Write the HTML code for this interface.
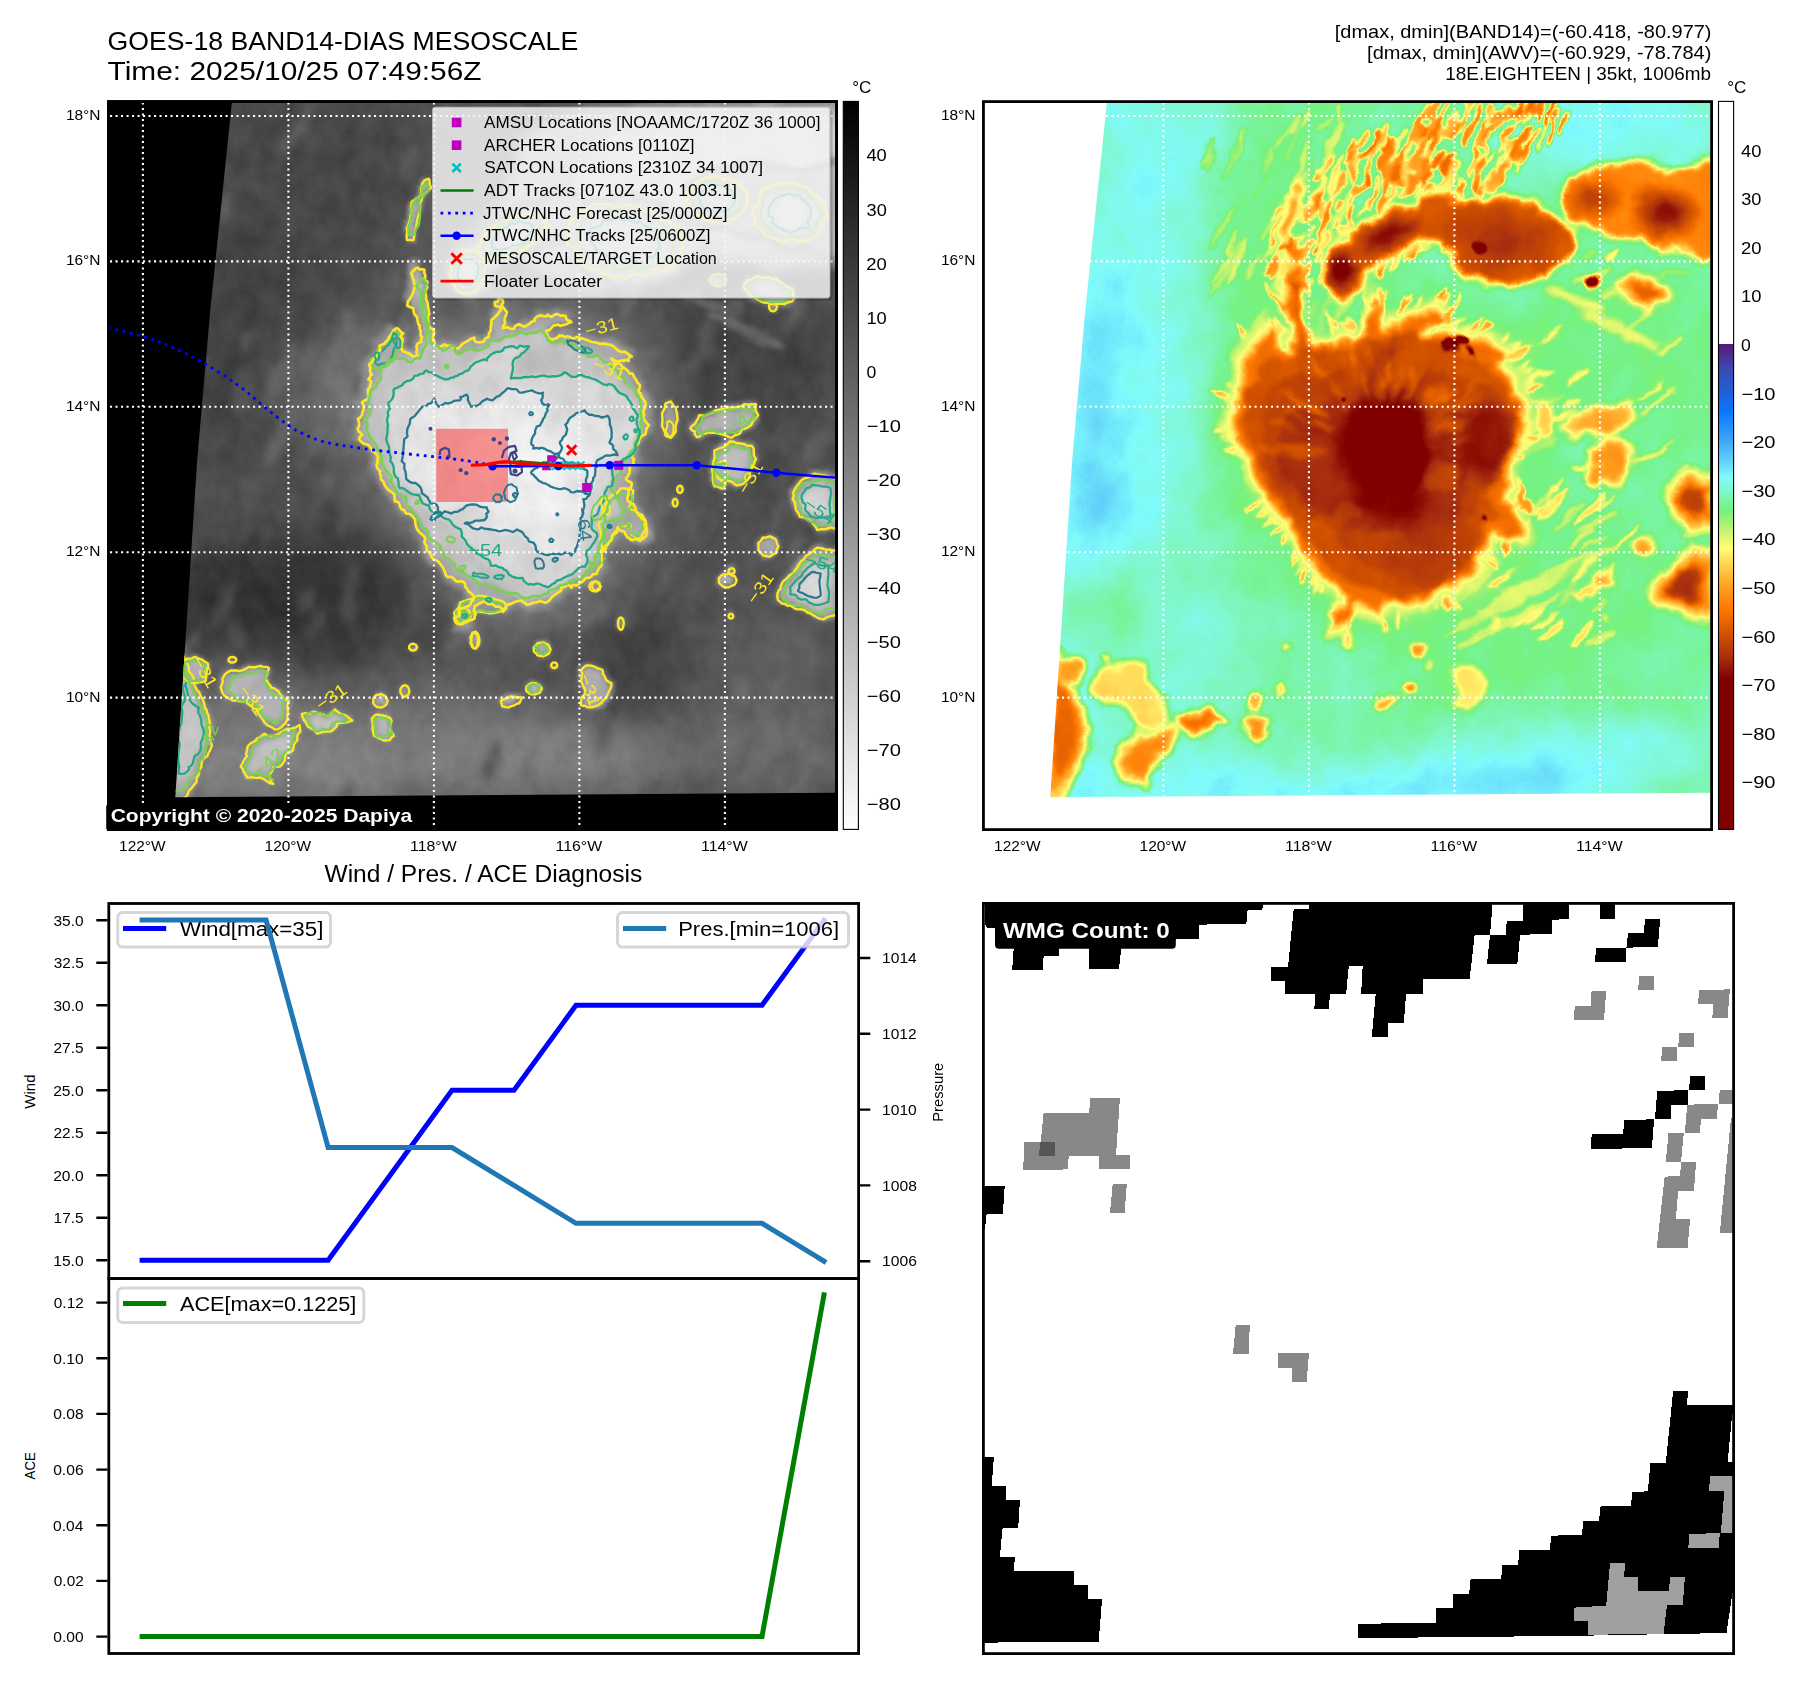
<!DOCTYPE html>
<html><head><meta charset="utf-8"><title>GOES-18 BAND14-DIAS MESOSCALE</title>
<style>html,body{margin:0;padding:0;background:#fff}svg{display:block}text{font-family:"Liberation Sans",sans-serif}</style></head><body>
<svg width="1801" height="1690" viewBox="0 0 1801 1690">
<rect width="1801" height="1690" fill="#fff"/>
<defs>
<clipPath id="cp1"><path d="M231.8 103 L835.3 103 L835.3 792.8 L175.3 797.3 L197.2 460 L210.3 310Z"/></clipPath>
<clipPath id="cp2"><path d="M1106.8 103 L1710.3 103 L1710.3 792.8 L1050.3 797.3 L1072.2 460 L1085.3 310Z"/></clipPath>
<clipPath id="ca1"><rect x="108.4" y="101.6" width="728.2" height="728"/></clipPath>
<clipPath id="ca5"><rect x="983.4" y="903.4" width="750.2" height="750.2"/></clipPath>
<filter id="b1" x="-20%" y="-20%" width="140%" height="140%" color-interpolation-filters="sRGB"><feGaussianBlur stdDeviation="1"/></filter>
<filter id="b1_6" x="-20%" y="-20%" width="140%" height="140%" color-interpolation-filters="sRGB"><feGaussianBlur stdDeviation="1.6"/></filter>
<filter id="b2_5" x="-20%" y="-20%" width="140%" height="140%" color-interpolation-filters="sRGB"><feGaussianBlur stdDeviation="2.5"/></filter>
<filter id="b4" x="-20%" y="-20%" width="140%" height="140%" color-interpolation-filters="sRGB"><feGaussianBlur stdDeviation="4"/></filter>
<filter id="b7" x="-20%" y="-20%" width="140%" height="140%" color-interpolation-filters="sRGB"><feGaussianBlur stdDeviation="7"/></filter>
<filter id="b12" x="-20%" y="-20%" width="140%" height="140%" color-interpolation-filters="sRGB"><feGaussianBlur stdDeviation="12"/></filter>
<filter id="b24" x="-20%" y="-20%" width="140%" height="140%" color-interpolation-filters="sRGB"><feGaussianBlur stdDeviation="24"/></filter>
<filter id="n1" filterUnits="userSpaceOnUse" x="100" y="95" width="745" height="745" color-interpolation-filters="sRGB"><feTurbulence type="fractalNoise" baseFrequency="0.035" numOctaves="3" seed="3" result="d"/><feDisplacementMap in="SourceGraphic" in2="d" scale="9" xChannelSelector="R" yChannelSelector="G" result="sd"/><feTurbulence type="fractalNoise" baseFrequency="0.05 0.04" numOctaves="5" seed="7" result="t"/><feColorMatrix in="t" type="matrix" values="1 0 0 0 0 1 0 0 0 0 1 0 0 0 0 0 0 0 0 1" result="g"/><feComposite in="sd" in2="g" operator="arithmetic" k1="0" k2="1" k3="0.10" k4="-0.05"/></filter>
<filter id="n2" filterUnits="userSpaceOnUse" x="975" y="95" width="745" height="745" color-interpolation-filters="sRGB"><feTurbulence type="fractalNoise" baseFrequency="0.04" numOctaves="3" seed="5" result="d"/><feDisplacementMap in="SourceGraphic" in2="d" scale="12" xChannelSelector="R" yChannelSelector="G" result="sd"/><feTurbulence type="fractalNoise" baseFrequency="0.03 0.025" numOctaves="4" seed="11" result="t"/><feColorMatrix in="t" type="matrix" values="1 0 0 0 0 1 0 0 0 0 1 0 0 0 0 0 0 0 0 1" result="g"/><feComposite in="sd" in2="g" operator="arithmetic" k1="0" k2="1" k3="0.05" k4="-0.025" result="c"/><feComponentTransfer in="c"><feFuncR type="table" tableValues="0.502 0.502 0.502 0.502 0.502 0.502 0.502 0.502 0.502 0.502 0.502 0.502 0.502 0.502 0.502 0.502 0.502 0.502 0.502 0.502 0.502 0.502 0.502 0.519 0.537 0.554 0.572 0.589 0.607 0.624 0.641 0.659 0.676 0.694 0.711 0.729 0.746 0.763 0.781 0.798 0.816 0.833 0.850 0.867 0.884 0.901 0.918 0.935 0.952 0.969 0.986 1.000 1.000 1.000 1.000 1.000 1.000 1.000 1.000 1.000 1.000 1.000 1.000 1.000 1.000 1.000 1.000 1.000 1.000 1.000 1.000 1.000 1.000 1.000 1.000 1.000 1.000 0.970 0.939 0.909 0.878 0.841 0.803 0.765 0.728 0.690 0.653 0.617 0.580 0.543 0.506 0.470 0.458 0.464 0.469 0.475 0.480 0.486 0.491 0.496 0.502 0.502 0.502 0.502 0.502 0.502 0.484 0.466 0.448 0.430 0.412 0.394 0.376 0.361 0.345 0.329 0.314 0.298 0.282 0.267 0.251 0.233 0.214 0.196 0.178 0.159 0.141 0.123 0.105 0.086 0.068 0.050 0.031 0.043 0.055 0.067 0.078 0.090 0.102 0.114 0.125"/><feFuncG type="table" tableValues="0.000 0.000 0.000 0.000 0.000 0.000 0.000 0.000 0.000 0.000 0.000 0.000 0.000 0.000 0.000 0.000 0.000 0.000 0.000 0.000 0.000 0.000 0.000 0.021 0.042 0.063 0.084 0.105 0.125 0.146 0.167 0.188 0.202 0.216 0.230 0.244 0.258 0.272 0.286 0.300 0.314 0.328 0.343 0.357 0.372 0.386 0.401 0.415 0.430 0.444 0.459 0.474 0.491 0.508 0.525 0.542 0.559 0.576 0.593 0.610 0.627 0.649 0.670 0.692 0.713 0.734 0.756 0.777 0.799 0.821 0.846 0.872 0.898 0.923 0.949 0.974 1.000 0.993 0.986 0.979 0.973 0.968 0.963 0.958 0.954 0.949 0.949 0.949 0.949 0.949 0.949 0.949 0.951 0.953 0.956 0.959 0.962 0.964 0.967 0.970 0.973 0.976 0.979 0.982 0.985 0.988 0.964 0.939 0.914 0.890 0.865 0.840 0.816 0.796 0.776 0.757 0.737 0.718 0.698 0.678 0.659 0.643 0.627 0.612 0.596 0.580 0.565 0.549 0.533 0.518 0.502 0.486 0.471 0.459 0.447 0.435 0.424 0.412 0.400 0.388 0.376"/><feFuncB type="table" tableValues="0.000 0.000 0.000 0.000 0.000 0.000 0.000 0.000 0.000 0.000 0.000 0.000 0.000 0.000 0.000 0.000 0.000 0.000 0.000 0.000 0.000 0.000 0.000 0.007 0.014 0.021 0.028 0.035 0.042 0.049 0.056 0.063 0.056 0.049 0.042 0.035 0.028 0.021 0.014 0.007 0.000 0.000 0.000 0.000 0.000 0.000 0.000 0.000 0.000 0.000 0.000 0.003 0.016 0.030 0.044 0.057 0.071 0.085 0.098 0.112 0.125 0.147 0.168 0.190 0.211 0.232 0.254 0.275 0.297 0.318 0.340 0.362 0.383 0.405 0.427 0.449 0.471 0.463 0.455 0.447 0.439 0.441 0.442 0.444 0.445 0.447 0.453 0.459 0.465 0.472 0.478 0.484 0.509 0.548 0.586 0.624 0.662 0.701 0.739 0.777 0.816 0.850 0.885 0.919 0.954 0.988 0.987 0.986 0.985 0.984 0.983 0.982 0.980 0.979 0.978 0.977 0.976 0.975 0.975 0.974 0.973 0.975 0.977 0.979 0.982 0.984 0.986 0.989 0.991 0.993 0.995 0.998 1.000 0.981 0.962 0.943 0.924 0.904 0.885 0.866 0.847"/></feComponentTransfer></filter>
<linearGradient id="cb1" x1="0" y1="0" x2="0" y2="1"><stop offset="0" stop-color="#000"/><stop offset="1" stop-color="#fff"/></linearGradient>
<linearGradient id="cb2" x1="0" y1="0" x2="0" y2="1"><stop offset="0" stop-color="#fff"/><stop offset="0.3333" stop-color="#fff"/><stop offset="0.3333" stop-color="#5a1878"/><stop offset="0.3667" stop-color="#3a4ab0"/><stop offset="0.4000" stop-color="#2060d8"/><stop offset="0.4267" stop-color="#0878ff"/><stop offset="0.4667" stop-color="#40a8f8"/><stop offset="0.4933" stop-color="#60d0fa"/><stop offset="0.5167" stop-color="#80fcfc"/><stop offset="0.5333" stop-color="#80f8d0"/><stop offset="0.5620" stop-color="#74f27c"/><stop offset="0.5833" stop-color="#b0f272"/><stop offset="0.6000" stop-color="#e0f870"/><stop offset="0.6133" stop-color="#ffff78"/><stop offset="0.6373" stop-color="#ffd050"/><stop offset="0.6667" stop-color="#ffa020"/><stop offset="0.6973" stop-color="#ff7800"/><stop offset="0.7333" stop-color="#d05000"/><stop offset="0.7633" stop-color="#a83010"/><stop offset="0.7933" stop-color="#800000"/><stop offset="1.0000" stop-color="#800000"/></linearGradient>
</defs>
<defs>
<path id="B0" d="M367.5 360.5 L372.2 355.3 L376.4 353 L381.5 348.1 L386.1 342.1 L389.5 337.3 L392.9 333.5 L395.8 330.7 L398.2 327.7 L399.2 330.1 L400.3 332.2 L400.8 333.4 L402.4 335 L404.8 336.4 L404.9 340.7 L404 343.6 L401.8 348.2 L398.5 352 L398.1 355.9 L397.3 359.6 L395.4 360.7 L393.8 362.7 L391.8 365.1 L390.1 367.9 L387.5 368.5 L385.6 368.6 L383.6 369.4 L382.1 370.4 L379.8 371.7 L376.3 371.5 L375.4 370.8 L373.9 369.3 L371.4 369 L368.6 368.2 L368.7 366.2 L368.5 363.3Z"/>
<path id="B1" d="M411.3 202.9 L412 201.8 L413.7 200.5 L415.6 199.2 L416.6 198.2 L418.2 197.5 L420.1 196.3 L420.9 193.6 L421.4 191.8 L421.3 189.7 L421.1 188 L422.1 185.5 L422.3 183.2 L423.4 182.1 L424.4 180.5 L426.4 179.5 L428.8 178.8 L429.4 180.1 L429.5 182.5 L430 185.1 L431 187.6 L430.3 188.8 L428.5 190.5 L427.3 191.8 L426.3 192.6 L424.5 194.1 L423.4 195.4 L422 197.5 L421.7 200.1 L420.2 203.6 L420.1 205.7 L420 208 L420.1 209.5 L419.8 211.7 L418.8 214 L417.5 218.3 L417 220.9 L415.9 227.5 L414.8 231.5 L414.2 236 L413.5 240.1 L411.4 240.1 L409.7 240 L406.9 240.1 L406.8 237.9 L406.6 236.2 L406.8 234.4 L407.2 232.2 L407 229.5 L406.8 227.7 L408.2 225.7 L409.1 222.6 L410 220 L410.4 216.1 L411.3 213.7 L411.2 212 L411.3 210.6 L410.9 208.8 L411.5 205.2Z"/>
<path id="B2" d="M690.3 428.4 L691.7 426 L693.4 425.2 L694.9 423.8 L696.4 421.1 L697.4 419.6 L698.2 418.1 L699.1 415.3 L702.1 415.4 L704 415.6 L705.9 415.3 L708.2 414.4 L710.2 413.5 L712 413.1 L713.3 412.2 L714.4 410.9 L717.8 409.9 L720.6 409.3 L723.7 408.7 L728.3 407.4 L731.7 407.9 L735.2 407.4 L737.8 407 L740.7 406.5 L742.1 405.7 L744.1 404.2 L746.2 404.5 L748.5 404.5 L750.1 404.5 L752 404.3 L753.7 404.3 L756 404.3 L755.5 406.9 L755.7 408.4 L755.4 410.5 L757 412.9 L758.2 415.3 L757.4 416.6 L756.1 418.3 L754.5 419.1 L753.4 420.5 L752.5 421.9 L751.9 423.6 L750.7 425.5 L749.4 426.2 L748 427.2 L745.5 428.5 L744.2 428.7 L742.4 428.8 L741 431.4 L740.2 433.2 L737.8 434.6 L736.3 435 L734.4 435.6 L731.5 437.7 L729.1 437.1 L726.1 435.7 L722 434.4 L718.7 433.7 L714.7 432.5 L712.2 432.8 L709.9 432.7 L707.9 432.2 L705.8 433.6 L703.2 433.4 L701.2 435 L700 436.2 L698.3 436.9 L696.9 437.2 L696.1 436 L694.8 434.4 L694.8 432.4 L695 431.3 L692.2 430.4Z"/>
<path id="B3" d="M714.4 450.3 L716.6 449.6 L718.1 449 L721.3 447.7 L723.9 446.8 L726.1 445.4 L727.1 444.4 L728.9 442.7 L729.7 441.5 L733.9 441.7 L736.8 443.3 L739.2 443.3 L742.3 443.8 L744.8 444.3 L747.4 445.9 L749.9 445.8 L751.6 445.9 L752.8 446.9 L753.8 449.3 L753.7 451 L753.8 452.9 L753.9 455.4 L754.6 456.8 L756 459.1 L755.1 460.8 L754.4 462.5 L754 463.9 L752.9 465.6 L751.7 468.8 L749.7 472.2 L750 474.3 L749.4 476.6 L748.5 478.5 L747.2 480.2 L744.8 482.4 L742.7 483.9 L740 485 L738.3 484.8 L736.3 485.3 L734.6 484.2 L733.2 482.7 L731 481.6 L726.7 480.3 L725 478.4 L723.5 479.7 L721 480.9 L719.9 479.1 L717.7 477.9 L717.1 475.1 L716.5 472.6 L715.1 471.2 L714.2 470.3 L713.6 469 L712.2 467.8 L713.1 465.3 L713.2 463.6 L713.5 461.6 L713.9 460.1 L714.7 457.4 L714.4 453Z"/>
<path id="B4" d="M677.6 419.6 L675.5 426.2 L675.7 431.5 L673.8 434.2 L670.9 437.8 L667.6 436.7 L665.5 435.6 L664.8 431.9 L662 425.9 L662.5 421.1 L662 413.4 L664.7 408.4 L665.5 403.7 L668.7 402.2 L670.9 401.5 L673.1 405.1 L675.7 407.8 L677 414.1Z"/>
<path id="B5" d="M777 306.9 L776.3 308.6 L776 309.8 L773.7 311.4 L771 310.9 L769.2 308.5 L769.1 306.5 L769.2 305.3 L771 302.9 L773.7 302.4 L776 303.9 L776.6 305.2Z"/>
<path id="B6" d="M793.2 492.8 L794 490.5 L795 489.3 L795.7 487.7 L797 485.8 L798.8 483.8 L800.3 481.6 L802 479.7 L805.3 478.1 L809.4 477 L811.6 475 L813.8 473.9 L815.1 473.8 L816.9 474.8 L819.4 474.6 L821.7 475.3 L824.2 475.4 L828.4 476.7 L831 477.9 L833.3 478.1 L834.8 478.6 L836.3 478.8 L839.4 479.3 L841.4 479.7 L842.1 485.4 L840.9 493.5 L840.6 499.2 L841.8 508.2 L842.1 512.6 L840 518.3 L841.1 523.4 L841.4 527.9 L839.3 527.5 L836 528.6 L832.4 527.9 L830.2 527.4 L828.2 528.5 L825.2 529.2 L821.3 529.2 L817.3 530.1 L816.4 528 L815 525.9 L813.1 523.8 L811 520.7 L809.2 520 L806.2 518.5 L803.5 517.3 L799.8 516.9 L799.3 515.7 L798.7 513.9 L797.6 512.3 L796 509.8 L795.5 507.2 L795.4 505.3 L795.4 503.8 L794.3 502 L794.2 500.7 L792.6 499.4 L793.1 497.7 L793.8 495.7Z"/>
<path id="B7" d="M777.9 600.1 L777.3 596.7 L777.5 593.2 L778.9 590.3 L780.7 588.9 L780.6 586.2 L781.6 584.7 L782.3 582.6 L784 580.5 L786.5 578.6 L789.5 575.4 L793.3 573.1 L794.7 570.6 L796.8 568.2 L798.6 564.8 L799.8 562.9 L801.3 560.9 L802.6 560.2 L804.7 558 L805.8 555.9 L808.8 554.2 L811.7 552.5 L814.1 550 L817.3 547.6 L822.4 548.5 L825.5 549.6 L830.2 549.7 L832.9 550.6 L835.5 550.2 L837 550.7 L839.6 551.9 L841.4 552 L842.8 563.8 L841.6 570.9 L842.2 577.4 L841.3 584.3 L840.4 594.4 L840.5 601.8 L839.8 607.4 L841.4 613.3 L838.6 614.2 L833.9 615.5 L831.5 615.9 L828 616.8 L826.4 617.6 L823.5 619.4 L819.5 618.6 L817.3 617.6 L815.4 616.4 L812.4 614.9 L809.9 613 L808 612.8 L804.8 610.4 L801 609.2 L798.4 609.4 L795.4 608.9 L793.5 607.6 L791.1 605.9 L789.2 605.4 L788 605.9 L784.5 603.8 L781.9 603.6 L780.6 602.1Z"/>
<path id="B8" d="M778.4 546.5 L776.5 550.4 L776 553.1 L772.9 554.4 L769.8 556.7 L767.2 556.2 L762.9 555.4 L761.1 553.1 L758.3 550 L758.5 547.1 L758.3 542.9 L760.6 541.1 L762.9 537.5 L765.6 537.7 L769.8 536.3 L772.7 537.6 L776 539.8 L777 543.5Z"/>
<path id="B9" d="M736.7 580.4 L735.7 582.7 L734.6 584.8 L732.4 585.5 L729.1 587.2 L725.8 587.5 L722.9 586.4 L720.9 584.6 L718.9 582.8 L719 580.7 L718.9 578.1 L721.2 575.7 L722.9 574.4 L726.8 574.2 L729.1 573.6 L731.7 575.3 L734.6 576 L735.5 577.7Z"/>
<path id="B10" d="M607.1 499.4 L608.9 497.9 L612.1 494.9 L613.6 494.7 L615.8 493.9 L616.9 492.9 L618.2 491.6 L619.1 490.6 L620.3 488.5 L622.6 488.4 L623.9 488.2 L625.9 488.8 L627.9 488.4 L630 488.4 L631.6 489.8 L633.4 490.7 L633 492.4 L632.4 494.7 L632.8 497 L632.3 499.9 L630.5 502.7 L630.1 504.8 L629.4 506.9 L629 508.2 L630.6 509.3 L632 510 L633.8 510.7 L635.6 511.2 L637.4 512.5 L639.3 513.5 L642.1 514.7 L643.2 516.4 L643.7 517.6 L644.8 519.1 L645.2 520.7 L646.2 523.4 L646.2 525.1 L646.5 527.9 L645.2 529.9 L644.2 531.5 L643.1 533.7 L642 535.4 L641.6 536.9 L641.4 538.4 L640.3 539.9 L640 541 L638 539.9 L637.1 538.8 L635.7 536.9 L634.6 536.2 L633.2 535 L631.2 534.4 L630.3 532 L630.2 530.1 L629.6 529 L630.3 528 L630.7 526.1 L630.1 525 L629 523.5 L626.8 523.8 L626 525.3 L624.6 526.1 L623 525 L620.3 525.7 L618.4 528.1 L617.1 529.8 L616 530.5 L614.8 531.8 L613.6 534.1 L612.3 535.2 L610.4 538.9 L609.3 541 L608 543 L607 545.6 L606.5 547.6 L606 548.7 L604.5 550.8 L602.7 552 L602.6 548 L601.3 544.7 L600.4 538.6 L601.3 535.2 L600.9 532.8 L600.4 531.1 L599.7 528.7 L598.4 525.7 L599.5 520.9 L601.5 517.2 L602.1 513.7 L604.1 509.4 L605 508.1 L605.6 505.4 L606.1 502.7Z"/>
<path id="B11" d="M550.6 649.4 L549.3 652.2 L548.6 653.8 L546.1 655.1 L543.5 656.2 L541.1 656.1 L537.7 655.4 L536.3 653.7 L533.9 651.7 L533.7 649.1 L533.9 647 L535.7 645.4 L537.7 643.4 L540.1 642.9 L543.5 642.6 L546.3 644 L548.6 644.9 L549.6 647.6Z"/>
<path id="B12" d="M580.8 670.2 L582.1 669.2 L583 668 L584.4 666.8 L585.9 665.8 L588.1 665.4 L589.9 665.6 L591.8 665.8 L593.1 666.1 L595.3 667 L597.8 668.5 L599.4 668.9 L601 669.3 L602.7 670.2 L602.9 672.4 L602.8 673.8 L603.9 674.9 L604.5 676.6 L605.5 678.3 L606.1 680.1 L608.9 682.1 L611.5 683.3 L611.3 685.2 L611.2 686.9 L610.1 689.5 L609.1 691.2 L608.5 692.6 L607.4 695 L605.8 697.9 L602.7 700.8 L601.4 702.9 L598.6 704.8 L597.1 705.7 L595 706.3 L592.3 707.2 L589.6 707.4 L587.5 707.2 L585.7 706.3 L584.7 705.8 L582.6 705.7 L580.8 705.2 L581 703.5 L581.1 701.4 L581.4 699.3 L582 696.7 L583.5 695.6 L584.5 694.2 L585.2 692.1 L585.3 690 L584.4 688.3 L583.2 686.2 L582.2 683.4 L580.8 681.1 L581.6 679.1 L581.5 677.5 L581.6 675.8 L582.2 674.1 L582.1 672.7Z"/>
<path id="B13" d="M541.8 688.8 L540.4 690.7 L539.9 692.5 L538.2 693.1 L535.2 694.4 L531.8 694.2 L529.8 693.8 L527.6 692 L526.2 690.8 L526.1 688.8 L526.2 686.8 L527.9 685.7 L529.8 683.8 L532.4 683.2 L535.2 683.1 L538.2 684.5 L539.9 685.1 L540.8 686.8Z"/>
<path id="B14" d="M500.9 700.8 L502.4 699.9 L504.4 699.2 L506.4 698.4 L507.5 698.2 L509.1 697.3 L510.8 696.4 L513.4 696.8 L515.4 697.2 L516.9 697.2 L519.5 697.4 L521.7 697.5 L521 699.7 L520.4 701.1 L519.5 703 L518 703.5 L516 704.3 L513.6 705.7 L511.4 706.2 L510.2 706.6 L508.6 707.4 L506.1 707.1 L504.6 706.8 L502 706.3 L501.9 704.7 L501.5 702.9Z"/>
<path id="B15" d="M600.8 586.4 L600.2 587.7 L599.5 589.8 L598.2 590.5 L596.1 591.5 L593.6 591.1 L592.2 590.9 L590.6 589.6 L589.7 588.2 L589.5 586.5 L589.7 584.7 L590.8 583.1 L592.2 582 L594.6 581.6 L596.1 581.3 L598.1 582.4 L599.5 583.1 L599.9 585Z"/>
<path id="B16" d="M467 600.1 L469.1 599.5 L470.3 599.2 L471.4 598.8 L473.4 598.1 L476 596.9 L477.9 595.7 L480.6 596 L482.4 595.9 L485.1 596.5 L487.4 597.1 L492.5 598.5 L495.7 599.4 L501.2 600.8 L504.2 602.3 L504.9 603.6 L505.8 605.4 L506.2 607.3 L506.4 608.9 L504.5 609.5 L502.4 610.2 L500.1 611.5 L498 612.1 L495.6 612.7 L493.1 613.1 L490.7 613.3 L488.9 613.3 L487.1 612.7 L485.7 612.5 L483.8 612.3 L482 612.1 L479.2 611.6 L477.9 611.3 L475.8 611.1 L474.5 612 L473 613.3 L471.7 613.9 L469.9 614.4 L468.6 616 L467 617.6 L465.2 617.1 L462.8 616.3 L461.4 615.4 L459.8 614.5 L458.2 613.3 L458.8 611.9 L459 609.6 L459.1 606.9 L459.9 604.2 L460.4 602.3 L462 601.8 L463.8 601.1 L465.1 600.8Z"/>
<path id="B17" d="M712.2 466.6 L713.9 465.8 L716.4 465.1 L718.4 463.5 L719.7 462.7 L721.5 461.7 L723.3 461.1 L725.3 460 L725.5 462.5 L725.7 465.3 L726.3 467.7 L726.1 469.7 L727.1 471.8 L727.5 473.1 L726.8 475.7 L726.5 477.3 L726 479.3 L725.6 481 L725.3 483.4 L725 484.9 L723.7 487.2 L723.2 488.5 L720.7 488.2 L718.6 487.1 L717 486.4 L714.4 486.3 L713.5 483.7 L712.9 481.2 L712.8 479.3 L712.8 476.6 L713.2 474.7 L712.1 470.4Z"/>
<path id="B18" d="M623.7 623.7 L623.4 625.2 L623 627.7 L621.3 629.9 L619.4 629.1 L618.7 627.6 L618.1 625.8 L618.1 623.2 L618.1 621.5 L618.6 619.7 L619.4 618.2 L621.3 617.4 L623 619.6 L623.6 621.7Z"/>
<path id="B19" d="M478.1 640.6 L477.5 643.6 L477.3 645.8 L476.3 647.2 L475.3 648.5 L472.9 647.6 L472.5 645.5 L471.4 643.4 L471.4 641.3 L471.4 637.9 L472 635 L472.9 633.7 L475.3 632.7 L476 634 L477.3 635.4 L477.7 638.2Z"/>
<path id="B20" d="M557.3 665.3 L556.6 667.1 L554.8 668.1 L552.7 667.7 L551.3 666.2 L551.3 664.3 L552.7 662.8 L554.8 662.4 L556.6 663.4Z"/>
<path id="B21" d="M734.7 571.1 L734 573 L732.1 573.9 L730 573.6 L728.7 572.1 L728.7 570.1 L730 568.6 L732.1 568.3 L734 569.3Z"/>
<path id="B22" d="M733.3 616.2 L732.8 617.8 L731.3 618.6 L729.7 618.3 L728.7 617 L728.7 615.4 L729.7 614.1 L731.3 613.8 L732.8 614.7Z"/>
<path id="B23" d="M682.8 489.3 L682.1 491.7 L680.4 493 L678.5 492.5 L677.2 490.6 L677.2 488.1 L678.5 486.2 L680.4 485.7 L682.1 487Z"/>
<path id="B24" d="M677.7 502.7 L677.1 505.2 L675.6 506.5 L673.9 506.1 L672.8 504 L672.8 501.4 L673.9 499.3 L675.6 498.8 L677.1 500.2Z"/>
<path id="B25" d="M182.5 650.5 L183.5 656.1 L186.1 661.1 L188.8 667.4 L188.9 671.5 L191.9 674.8 L193.9 678.3 L193.8 681.2 L194.6 685.5 L195.7 687.9 L196.6 689.6 L197.6 691 L199 691.9 L199.6 693.4 L200.3 695.3 L202.1 698.3 L203.3 700.8 L204.4 703.9 L204.9 707.8 L206.8 710.5 L206.9 712.4 L208.4 715.1 L208.7 717.4 L209.2 720 L209.9 722.7 L209.3 727.3 L210.3 731.7 L209.6 735.3 L210.1 740.4 L212 745.4 L210.1 750.3 L208.5 752.7 L207.7 755.6 L206.7 756.5 L205.1 757.7 L203.6 758.6 L202.2 760.5 L201.4 764.2 L201.3 767.1 L200.3 768.5 L199 770.9 L199.1 773 L198.7 774.3 L198.1 775.9 L196.7 777.5 L196.6 779.3 L196.6 781.4 L195.9 782.9 L194.6 784 L193 786.3 L191.5 788.3 L190.3 789.4 L188.7 791 L188 793.3 L187.6 794.5 L186.5 796.2 L185.8 797.2 L183.8 798.3 L182.8 799.2 L181 799.6 L179.6 800.9 L177.6 801 L174.9 801.6 L172.6 802 L170.5 801.5 L169.3 790.6 L169.4 779 L170.7 772.8 L170.6 762.3 L171.1 755.7 L171.1 747.3 L174.2 731.6 L172.7 722.7 L172.8 716.9 L174.5 710.5 L172.9 704.1 L174.5 696.9 L175.4 690.3 L176.1 680.9 L175.8 665.7 L177.1 657 L179 656.1 L180.6 654.1 L180.7 652.1Z"/>
<path id="B26" d="M220.8 687.7 L221.6 685.1 L222.5 682.8 L222.8 681.5 L222.4 679.5 L222.8 677.8 L223.8 676.3 L225 674.2 L227.4 672.4 L229.6 671.1 L231.6 670.3 L233.1 670.8 L235.6 670.3 L236.8 670.6 L238.9 671.2 L240.4 670.8 L242.7 670.2 L245.1 669.1 L246.9 668.1 L249.3 666.8 L251.5 667.3 L255.1 667.3 L258.3 666.4 L260.3 665.8 L262.3 666.7 L263.6 666.9 L266.5 666.9 L269 668 L268.5 669.6 L267.6 671.6 L267 674.2 L265.8 676.9 L264.6 678.9 L266.9 680.7 L268.4 683.1 L269.6 684.9 L270.6 686 L271.2 687.7 L274 688.2 L275.2 689.2 L277.3 690.5 L278.7 691.5 L279.7 693.8 L281.2 695.4 L282.1 696.4 L283.5 698.3 L284.5 699.7 L286.8 699.7 L288.7 700.8 L287.8 703.5 L287.1 706.3 L287.8 707.8 L287.6 709.6 L288 712.5 L287.4 714.6 L287.2 716.1 L287.6 718.3 L286.8 720.6 L285.4 723.3 L282.7 725.5 L281.5 727 L279.5 728.3 L277.8 729.3 L276.3 729.4 L274 729.2 L272.1 727.4 L270.3 726.6 L267.1 725.2 L266.2 723.9 L264.6 722.7 L263.3 720.4 L262.5 718.8 L261.6 717.7 L260.3 716 L259 714.3 L257.6 713.1 L257.8 711.6 L258.1 709.6 L256.5 709.1 L254.3 708.9 L252.4 707.2 L251.1 706.1 L249.8 705.1 L248.7 704.4 L247.1 703 L245.7 702 L243.7 701.5 L241.6 701.4 L239.1 701.3 L237.5 700.2 L235.8 700.3 L234 700.8 L232.5 700.4 L230.4 699.1 L227.8 697.6 L224.9 696 L223.1 693.9 L222 691.7Z"/>
<path id="B27" d="M240.6 766.5 L242.4 763.5 L243.3 761.5 L245.1 758.4 L247 755.9 L246 753.9 L247 750.8 L247.4 747 L249.3 744.6 L251.4 742.8 L253.3 742 L255.5 740.9 L256.7 738.7 L259.7 737.6 L262.2 735.5 L264.6 733.7 L266.1 735 L267.9 735.9 L270.2 736.1 L273.3 736.1 L275.1 735.5 L277.4 734.6 L279.6 733.2 L282.1 731.5 L284.9 730 L286.6 729 L288.2 728.7 L290.1 729.2 L293.9 727.9 L296.1 727.3 L297.9 726 L299.7 724.9 L299.9 726.7 L300.1 729.3 L300.4 731.9 L298 733.9 L297.4 735.7 L297.1 738.1 L297.5 740.2 L295.4 742.5 L294.2 744 L293.6 747 L292.9 750.5 L290.4 752.1 L288.5 752.7 L286.5 753.4 L285.3 756.2 L284.9 758.4 L285 759.8 L284.1 761.4 L283.2 762.6 L281.8 764.9 L280 766.5 L277.5 766.8 L275.2 766.8 L273.5 767.1 L272.6 770.1 L271.2 772.3 L270 774 L269 775.3 L269.6 777.1 L270.2 778.8 L270.6 780.2 L271.5 782 L273.4 784 L271.8 783.6 L269.4 783 L268 781.8 L266.3 780.9 L264.7 779.7 L263.3 778.8 L262.2 778.4 L260.3 777.5 L257.3 777.9 L255 777.9 L251.9 777.1 L250.1 777.6 L247.1 777.5 L246.5 776 L245.5 774.7 L244.4 772.9 L243.3 771.2 L242.8 769 L242 768Z"/>
<path id="B28" d="M301.9 714 L304.5 713.3 L306.5 713.4 L307.6 713.9 L310.2 713.8 L311.8 712.5 L312.8 711.8 L315.3 711.9 L316.6 712.8 L318.1 713.1 L320.7 714 L323.1 714.3 L324.4 715.6 L325.9 716.2 L328.4 715.6 L329.5 714.8 L331.2 713.3 L333 711.3 L334.7 709.6 L336.1 710.6 L337.4 711.3 L339.2 713.1 L342.1 714.4 L345.1 715.2 L348.3 717.3 L350.7 719.3 L352.2 720.5 L350.3 721.2 L348.7 721.9 L346.4 722.3 L344.5 722.8 L342.3 722.7 L341 722.9 L338.8 723 L336.9 722.7 L337 725.5 L336.1 727.2 L334.2 729 L332 730.8 L330.3 731.5 L329.2 731.5 L327.3 731.3 L325.3 731.6 L324.1 731.6 L321.8 732 L320 732.9 L317.2 733.7 L315.8 731.6 L314.7 730.5 L312.2 728.9 L310.1 727.5 L308.4 727.1 L306.8 724.8 L306.1 723.1 L305.5 722 L304.2 720.5 L302.9 717.5 L302 715.4Z"/>
<path id="B29" d="M371.9 718.3 L373.8 716.6 L375 715.1 L377.2 714.4 L378.9 714.8 L380.7 715.1 L383.6 715.7 L385.4 716.2 L388 717.2 L390 717.9 L390.7 719.2 L391.6 720.5 L390.9 723.2 L390.1 725.4 L390 727.7 L390 729.2 L391.2 731.9 L392.6 733.5 L393.8 735.9 L391.7 737.3 L390.7 738.4 L389.8 740.1 L387 740.4 L384.7 740.5 L382.9 740.2 L381.5 738.9 L379.7 738.5 L378.5 737.7 L376.3 736.4 L374.1 735.9 L373.5 734 L373.2 732.6 L373.1 731 L372.6 729.1 L372.7 725.5 L372.8 723.3 L372.2 720.7Z"/>
<path id="B30" d="M387.6 700.8 L386.8 703.4 L385.8 705.3 L383.2 706.7 L381.4 707.6 L379.3 707.3 L376.4 706.8 L374.9 705.2 L373.1 703.2 L373.4 700.8 L373.1 698.5 L374.9 696.4 L376.4 694.9 L379.2 694.7 L381.4 694 L383.1 695.2 L385.8 696.4 L387.1 699.2Z"/>
<path id="B31" d="M409.3 691 L409.1 692.4 L408.3 694.7 L406.9 695.3 L405.5 696.6 L404.1 696.6 L402.5 696 L401.6 694.2 L400.4 692.9 L400.5 690.7 L400.4 689 L401.5 687.5 L402.5 686 L404 685.6 L405.5 685.3 L406.8 686 L408.3 687.3 L408.7 688.8Z"/>
<path id="B32" d="M470.8 615.4 L469.8 618.7 L468.8 620.6 L465.6 622.2 L463.7 623.4 L460 622.9 L457.9 622.4 L456 619.6 L454.1 618.2 L454.8 615.8 L454.1 612.7 L456.4 610.3 L457.9 608.5 L460.7 608.2 L463.7 607.5 L466.4 609.3 L468.8 610.3 L470 613.4Z"/>
<path id="B33" d="M417 647.2 L416 649.4 L413.7 650.6 L411 650.2 L409.2 648.4 L409.2 646 L411 644.2 L413.7 643.8 L416 645Z"/>
<path id="B34" d="M236.4 659.8 L235.4 661.6 L233 662.6 L230.3 662.3 L228.6 660.8 L228.6 658.8 L230.3 657.3 L233 656.9 L235.4 657.9Z"/>
<path id="B35" d="M181.4 661.4 L183.8 660.2 L185.6 659.6 L188.2 658.6 L191.1 658.6 L192.5 658 L194.6 657 L196.5 657.7 L197.6 658.1 L199.5 658.9 L201.5 659.4 L202.8 660.1 L204.1 661.3 L205.5 662.1 L207.7 663.6 L208.1 665.6 L208.3 667.1 L207.2 669.5 L206.6 671.2 L206.5 673.3 L206.2 676.8 L205.9 678.5 L205.5 681.1 L204.3 681.4 L202.2 682 L199.9 682.1 L197.5 682.6 L195.6 682.8 L193.1 682.8 L190.2 683.3 L188.6 681.2 L187.1 679.8 L185.7 678.9 L184.5 678.1 L182.5 676.7 L182.5 675 L182.5 673.2 L182.5 669.7 L182.8 667.5 L181.9 665.4 L181.7 664.1Z"/>
<path id="B36" d="M479.4 640.1 L479.2 642.8 L478.3 645.6 L476.8 647.4 L475.6 648.6 L473.9 648.1 L472.5 647.5 L471.8 645.9 L470.5 643 L470.9 640.9 L470.5 637.1 L471.3 635.3 L472.5 632.6 L474.3 632.3 L475.6 631.6 L476.9 632.9 L478.3 634.5 L478.6 636.6Z"/>
<path id="B37" d="M452 262 L454.5 259.9 L456.3 258 L456.3 256 L458 253.8 L457.7 252.5 L456.6 250.2 L458 248 L460.4 247 L461 244.3 L463.7 244.9 L465.7 244.8 L468.6 243.9 L473 242.5 L474.1 239.9 L475 238 L478.3 234.1 L483 231.7 L485.5 227.9 L489 225.8 L490.9 225.8 L493.5 224.9 L498.2 224.9 L500 222 L503.5 220.8 L506.6 220.2 L508.9 219.8 L512.3 218 L512.8 213.9 L514.9 210.3 L516.6 208.1 L520 208 L525 209.3 L529.2 206.4 L532.2 206.3 L534.4 207.2 L538.2 208.6 L541 206 L541.9 201.9 L545 198 L546.9 197 L550 196.6 L552.9 197.2 L554.7 196.1 L559.4 195.8 L563.7 194.9 L566.4 193.4 L570 196 L571.7 195.2 L573.3 194.9 L575 196.4 L576.7 196.8 L577.8 199.7 L578.9 201.7 L580.6 204.1 L585 205 L586.7 205.6 L588.3 205.6 L590.8 204.5 L593.2 204.2 L596 201.8 L598.1 201 L600 200 L607.1 201.8 L611.1 202.4 L615 200.4 L618.7 198.9 L621.9 198.3 L625.9 197.9 L628.2 196 L630 196 L631.8 199.2 L637.4 199.4 L640.3 198.8 L642.2 199.4 L645.5 202.2 L652.2 203.5 L656.5 204.3 L660 205 L662.9 208.6 L665 212.6 L670.8 216.1 L675.2 217 L676.4 217.9 L678.6 218.9 L681.3 220.7 L685 222 L689.3 225.8 L692.2 229.6 L695.1 232.8 L697.9 233 L698.3 236.5 L698.5 239.2 L699.3 242.9 L700 245 L700.2 247.5 L699.4 250.4 L697.7 252.5 L695.4 253.1 L694 254.6 L692.9 256.3 L690.2 258.5 L690 262 L688.1 262.7 L686 263.5 L683.6 264.3 L680.6 266.5 L676.6 269.1 L671.3 271.7 L668.4 275 L665 275 L661.4 275.2 L658.6 276 L656.3 277.7 L655.3 279.7 L652.4 278.5 L649.1 279.7 L645.9 280.6 L640 282 L635.9 282.8 L633.8 281.3 L629.8 282.7 L626.5 281.3 L624.4 283.3 L621.2 284.9 L617.6 284.2 L615 285 L612 283 L609.4 279.9 L606.7 278.9 L606 277.2 L602.3 275.3 L599.8 274.4 L597.6 274.4 L595 275 L592.7 273.9 L589.8 272.6 L587.3 269.9 L585.9 268.5 L584.7 265.1 L584.2 263.2 L581.5 262.4 L580 262 L579.4 259.7 L580.1 258.1 L580.9 256.6 L580.8 253.7 L579.1 251.4 L578 248.5 L575.2 246.8 L572 245 L571.6 243.3 L570.5 241.7 L569.2 240.8 L566.5 240.6 L565.3 239.9 L563.6 239.6 L561.4 238.4 L560 238 L555.9 239.1 L552.9 240.4 L550.8 240.9 L548.7 240.2 L546.3 239.4 L544.4 239.9 L542.2 241.5 L540 242 L537.4 246.3 L533 248.4 L528 248.1 L525 250 L522.3 251.6 L519.2 254.2 L517.1 254.9 L515 255 L513.1 257 L509.4 257 L505.8 261.1 L502.3 263.1 L500.4 263.5 L499.1 264.5 L497.5 266.7 L495 268 L493.1 268.5 L490.4 268.9 L488.8 269.8 L487 272.3 L487.2 275.5 L489.9 279.1 L488.7 282 L487 285 L487.9 286.8 L487.6 289.3 L484.9 288.8 L482.1 290.2 L481 291.4 L479.7 293.7 L476.8 295.3 L475 297 L473.2 297.6 L470.8 298 L468 300.2 L465.6 300.5 L464.5 299.3 L463.4 298.2 L462.4 296.3 L460 295 L458.8 293.9 L457.4 292.5 L456.6 290.4 L455.6 287.9 L454.3 286.6 L453.2 284.3 L452.9 282.1 L452 280 L451.6 277.7 L452.5 275.3 L453.5 274.3 L455.6 272.9 L454.5 270.8 L451.9 268.3 L451.3 264.4Z"/>
<path id="B38" d="M484.4 276.4 L483.7 279.1 L482.2 280.6 L481.7 282.9 L481 284.2 L479.5 285 L478.1 286 L477.7 287.8 L476.8 289.1 L475.6 290.1 L472.8 291 L471.3 292.2 L469 293.3 L467.8 293.7 L465.8 293.7 L464.5 293.8 L462.3 293.3 L460.2 292.8 L458.3 291.7 L456.5 289.9 L455.5 287.2 L454.7 285.5 L452.4 283.9 L452.2 282.1 L451.3 280.4 L451 279.1 L450.9 277.9 L450.7 276.1 L450.1 274.4 L450.1 271.6 L451.1 269.5 L451.6 267.6 L452.8 264.9 L454.1 263 L454.5 261.6 L455 259.8 L457.3 258 L458.8 255.7 L460.4 253.9 L461.8 252.7 L463 252.1 L465.1 251.5 L467 250.7 L469.6 250.2 L472.1 250.6 L473.7 250.7 L476 252 L477.7 252.6 L479.5 254.1 L481 256.5 L481.5 258.4 L483.6 260.1 L484.4 262.6 L485.5 264.3 L485.6 266.4 L485.3 267.9 L484.5 270.4 L484.2 272.2 L484.8 273.9Z"/>
<path id="B39" d="M545.9 218.7 L545.2 220.7 L544.6 222.5 L545.3 223.7 L546.2 225.9 L545.3 227.6 L545 229.2 L543.2 231.2 L542.7 232.9 L541.4 234.5 L540.3 235.3 L538.8 236.8 L537.4 237.6 L534.6 238.1 L532.9 240.6 L532.1 243.4 L530.4 244.8 L528.9 246.3 L527.6 246.5 L526.2 248.1 L524.2 248.9 L522.4 250.4 L519.7 251.1 L517.6 252.8 L516.3 254.6 L514.5 256.1 L513.1 257.2 L510.5 256.3 L508.7 256.6 L506.2 256.6 L504.5 256.9 L502.5 257 L500.5 258.1 L499 258.2 L496.5 258.9 L493.5 258.9 L491.1 258.6 L489 258.2 L487.7 257.5 L485.4 257.8 L483.7 257.7 L481.9 256.7 L480.2 255.2 L478.1 253.3 L478.2 251.7 L477.9 250.1 L477.9 248 L477.8 246.1 L479.4 245 L480.2 244 L481 242.3 L481.8 239.4 L482.6 237.5 L484.8 235.8 L486.3 233.8 L487.9 232 L489.2 230.3 L490.7 229.1 L491.9 228.6 L493.2 227 L494 225.9 L497 225.2 L499.6 224.1 L501.7 222.7 L502.7 222 L504.3 220.9 L506.2 220.3 L507.2 219.8 L509.3 218.3 L511.5 217.3 L512.6 216.6 L515.5 215.5 L517.8 215.4 L520 215.8 L521.8 215.2 L523.2 214.3 L524.9 214.3 L527.4 213.7 L529 213.7 L530.5 213.1 L530.5 214.9 L531.5 216.4 L533.5 217.5 L535.9 216.5 L537.4 216.4 L538.9 215.2 L540.3 214.3 L541.7 215.2 L543.5 215.8 L544.5 216.8Z"/>
<path id="B40" d="M682.4 248.1 L681.9 250.7 L680.4 252.6 L679.6 253.6 L678.2 255.2 L678.1 256.5 L677.3 259.4 L676.1 261.1 L674.9 263.7 L673.3 264.5 L671.6 265.1 L669.6 267 L668.2 267.5 L666.7 268.6 L664.7 270.2 L662.1 270.9 L659.7 269.5 L657.5 269.2 L655.9 269.3 L654.1 269.1 L650.5 272.8 L647.7 274.6 L644.5 276.5 L642.4 276 L640 273.9 L638.3 272.9 L636.7 274.8 L633.3 274.6 L628.4 275.9 L626.2 278.8 L622.8 277.7 L620 275.6 L616.5 276.7 L614.7 278 L611.8 277.4 L609.6 274.2 L605.3 274.5 L602.6 274.2 L601.2 272.3 L598.4 269.8 L595.2 269 L589.8 267.8 L586.7 267.1 L584.7 267.1 L583.5 265.8 L581.1 264.6 L581.5 261.8 L580.8 259.5 L579.7 258.8 L579.2 256.6 L577.7 254.9 L577.5 253.2 L576.4 250.3 L574.3 248.7 L572.2 246.9 L570 246.2 L568.2 245 L567.2 243.4 L568.2 241.4 L567.4 237.8 L568.2 235.6 L568.8 234.2 L567.6 231.9 L568.2 229.5 L567.8 227.9 L568.1 226.3 L569.7 223.8 L569.8 221.8 L571.4 219.9 L573.9 218.9 L576.3 218.1 L578.2 216.4 L576.8 213.2 L578.1 209.5 L579.6 211 L582.2 212.9 L585.5 210.5 L587.9 209.1 L589.9 206.2 L591.4 204.7 L594.8 203.8 L598.4 204 L599.8 204.1 L601.9 203.2 L605.4 203.9 L607.6 204 L611.6 204.9 L614 207.6 L616.6 206.8 L619.9 205.9 L622 206 L624.1 205.3 L627.4 204.9 L630 204.4 L632.4 205.6 L636.2 206.6 L638.8 208.9 L641 210.5 L643.8 211.3 L645.9 211.6 L648.4 210.4 L651.6 210.2 L654 213.8 L656.5 215.4 L657.1 217.3 L659.7 219.5 L663.2 219.9 L665 221.6 L666.9 220.9 L669.2 220.5 L670.8 223.2 L671.9 226.1 L675.3 225.7 L678.4 227 L679.8 229.5 L679.3 232 L680 233.8 L680.9 236.1 L683.3 238.6 L683.4 240.6 L683.4 241.9 L682.7 243.4 L683.1 245.3Z"/>
<path id="B41" d="M690 185 L693.3 181.4 L698.6 182.4 L704.5 178.6 L707.3 174.5 L711.2 171.3 L715.6 172.2 L718.2 169.3 L720 168 L724.2 169.8 L729.5 170.2 L732.4 168.5 L736.1 166.7 L744.1 167.4 L748.2 164.7 L754.8 164.3 L760 165 L765.1 164.4 L769.7 164.7 L773.6 167.6 L777.2 168 L780.8 169.1 L787.3 169 L792.7 172.9 L800 172 L807.5 170.1 L811.7 169.5 L816.8 168.3 L825.9 165.6 L831.9 162.8 L837.1 160.5 L842.6 160.2 L850 160 L849.9 169.5 L853.4 181 L852.1 192.6 L852.1 205 L851.5 216.4 L852.4 232.9 L848.8 243.6 L850 255 L844 254.3 L840.7 254.6 L837.2 257.5 L832.2 257.7 L828.8 257.1 L824 255.2 L818.8 252.2 L810 250 L806 248.3 L802 246.3 L797.4 247.2 L791.8 249.4 L789.3 248.5 L786 245.7 L782.9 243.3 L780 245 L776.8 243 L774 240.9 L771.9 238.5 L768.9 237.8 L763.5 235.5 L758.7 237 L754.8 236.2 L750 235 L747.5 233.4 L743.3 232.1 L741 232.8 L737.4 232.4 L732.5 230.3 L729.5 227.6 L725.2 226.8 L720 228 L715.2 227.1 L712.8 224.8 L708.2 223.2 L704.6 222.6 L702.1 221.8 L698.9 219.6 L695.5 217.5 L695 215 L694.9 212.4 L693.9 210 L694.1 206.9 L692.8 202.2 L691.8 196.2 L689.7 193.2 L690.6 189.4Z"/>
<path id="B42" d="M747 199 L747.2 200.7 L747.5 202 L747.4 203.8 L746.1 205 L746 206.5 L744.7 207.8 L743.3 210.3 L742.3 212.2 L740.2 213.3 L738.2 215.3 L736.6 216.4 L735.8 217.6 L734.8 218.8 L732.5 219.1 L730.6 220 L728.5 220.2 L726.4 219.8 L723.8 218.6 L722.9 219.3 L721.2 220.3 L718.5 220.8 L717 222 L714.8 221.8 L712.4 221.7 L710.1 220 L707.3 220.7 L705.5 220.2 L703.7 218.4 L702.6 217.1 L701.3 216.2 L699.3 215.1 L697.1 215.3 L695.8 215.3 L694.2 214.1 L694.1 211.8 L693.3 211 L691.7 209.7 L690.7 208.7 L689.3 207.8 L689 206.4 L688.5 203.8 L687.9 202.3 L687.4 200.9 L687 199 L687.4 196.2 L686.9 194.3 L688 191.5 L689.3 190.2 L690.6 189.3 L692.6 188.3 L695.1 187.5 L695 185.6 L694.4 184.2 L695.8 182.7 L697.7 181.9 L699.7 181 L701.8 179.7 L703.7 178.7 L705.5 177.8 L707.3 177.6 L709.6 176.7 L711.3 176.8 L712.7 175.9 L715.2 175.9 L717 176 L719.1 176.9 L720.2 177.6 L722.1 178.2 L723.5 178.6 L725 178.5 L726.7 178.1 L728.5 177.8 L730.5 179.7 L732.6 179.9 L735.2 181 L736.8 181.8 L738.2 182.7 L739.9 185.1 L740.9 186.2 L742 187.3 L743.9 188.6 L744.7 190.2 L746.2 192.1 L748.2 193.4 L747.6 195.7 L747.4 197.9Z"/>
<path id="B43" d="M825.5 219.3 L823.2 220.3 L820.8 221.9 L821.7 223.3 L822.1 225.4 L821.3 227.3 L820.8 230.1 L818.7 231.9 L818.6 233.8 L818.3 235.1 L817.1 235.7 L815.9 237 L813.1 238.1 L811.4 238.3 L809.1 239.4 L807.2 240.7 L805.1 240.4 L803.3 240.8 L802 241.5 L800.2 241.5 L798.8 242.7 L797.9 241.7 L796.7 239.6 L794.6 239.2 L791.5 239.4 L789.8 240.1 L787.1 241.2 L784.8 242.5 L782.5 241.4 L780.4 241.1 L778.6 240.6 L776.9 239.6 L775 239 L773.7 238.3 L771.6 237.9 L770.1 237 L769 236.5 L766 236.8 L764.6 234.7 L763.7 232.9 L762.4 230.5 L761.2 229.5 L759.4 228 L758.1 227.4 L756.8 226.5 L754.5 225.4 L754.5 223.8 L754.3 221.3 L755.3 218.5 L754.2 215.9 L751.8 214.2 L753.3 212 L753 209.2 L754.5 206.7 L756.6 206.1 L758.4 205.9 L759.8 203.4 L759.2 201.5 L759.6 200.3 L759.2 198 L759.2 195.9 L760.1 194.9 L761 192.8 L761.4 190.8 L761.2 188.9 L763.7 188.4 L766 188.2 L768.6 187.7 L770.2 186.4 L771.9 185.6 L773.4 185 L775.1 184.6 L777.6 184 L779.7 183.6 L781.2 183.3 L782.7 183.3 L785.3 183.4 L787.5 183.8 L789.7 182.5 L791.5 182.8 L793.6 183.2 L795.2 183.5 L797.6 184.5 L799.6 185.4 L801.5 186.4 L802.9 187.2 L804.4 187.4 L806.3 187.2 L808.4 188.1 L809.8 190 L810.8 191.7 L811.7 193.3 L812.2 194.6 L813.7 194.4 L815 195.8 L816.5 195.6 L818.8 196.5 L819.4 198.1 L819.9 200.4 L821.4 202.3 L823.3 203.1 L825 204.3 L825.2 205.6 L824.7 207.5 L825.3 208.8 L826.5 210.6 L826.5 213.3 L828.2 214.8 L827.8 217.2 L826.9 218.3Z"/>
<path id="B44" d="M794.1 297.7 L793.6 299 L792.7 300.7 L791 301.7 L789.1 302.1 L787.2 302.6 L784.6 304 L782 303.9 L780.4 303.9 L778 303.8 L775.7 304.3 L773.6 304.3 L772.5 304.1 L770.5 303.9 L768.1 302.8 L765.9 302.6 L764 302.6 L761.2 301.6 L759.1 300.1 L756.5 299.1 L754.7 297.7 L752.9 296.7 L751 295.4 L749 294.4 L748.4 292.7 L748.5 291.1 L746.9 290.5 L744.6 289.2 L743.6 286.5 L743.9 284.3 L745 282.8 L746.2 282.3 L747 280.3 L748.6 280 L750.2 280.2 L751.5 279.6 L753.4 278 L755.7 276.4 L758.1 276.5 L759.8 277 L762.3 277.7 L764.2 277.9 L765.4 277.8 L768.2 277.2 L769.8 277.7 L772.1 279.4 L774.2 278.7 L776.6 278.9 L778.8 280.8 L780.3 282.1 L781.5 282.9 L782.7 284 L784.1 285.4 L786.1 285.9 L787.4 286.5 L789 287.6 L790.4 288.3 L791.9 288.9 L792.6 290.5 L793.4 292.8 L793.1 295.7Z"/>
<path id="B45" d="M726 280 L725.4 282.3 L723.7 284.2 L721.1 285.5 L719.1 285.7 L718 286 L716.9 286 L714.9 285.5 L712.3 284.2 L710.6 282.3 L710 280 L710.6 277.7 L712.3 275.8 L714.9 274.5 L716.8 274.3 L718 274 L719.7 274.3 L721.1 274.5 L723.7 275.8 L725.4 277.7Z"/>
<path id="B46" d="M781.3 346.9 L779.3 346.6 L777.9 346.8 L776.4 346.5 L775.1 345.1 L773.7 344.7 L772.1 344.6 L769.6 344.2 L767.1 343.9 L764.9 344 L763.4 343.8 L762.1 342.8 L760.6 341.5 L759.4 340.5 L757.5 339.4 L755.5 338.9 L754.2 338.6 L752.1 337.9 L749.9 336.4 L748.1 335.4 L745.2 334 L743.5 333.2 L742 331.6 L740.4 330 L738.3 328.8 L735.9 328.3 L733.6 327.5 L731.3 327 L729.8 326.5 L728.1 326 L726.3 324.3 L725.1 323.9 L723.3 323.1 L721 321.5 L718.3 320.3 L717.1 319.8 L715.1 319 L712.6 319 L711.8 317.5 L710.9 315.6 L710.4 314.4 L708.7 313.1 L710.3 313.8 L712.1 313.2 L713.4 313.7 L714.9 314.5 L717 315 L718.2 315.2 L720.4 315.8 L722.1 317.2 L723.4 317.9 L724.8 318.8 L726.9 320 L729.7 319.6 L732.5 320.6 L733.8 320.9 L735.4 321.9 L737.2 322.6 L738.4 322.7 L741.9 323.7 L743.7 324.8 L745.1 325.8 L746.5 326.8 L748.4 328 L749.8 328.5 L752.2 329.2 L755.2 330.4 L757.7 331.7 L759.1 332.6 L760.2 333.5 L761.7 334 L763.2 334.6 L765.7 336.1 L767.3 337.2 L768.7 338.5 L770.4 339.1 L771.7 339.7 L773.1 340.3 L774.4 341.2 L776.8 342.3 L778.1 343.7 L779.1 344.4 L780.6 345.8Z"/>
<path id="B47" d="M728.2 310.3 L725.7 310.6 L723.9 310.5 L721.5 310 L719.2 309.2 L716.6 308.7 L714.6 308.2 L711.9 307 L709.8 306.5 L708.5 306.2 L706.8 305.4 L705.3 305.7 L703.2 305.7 L701.4 304.5 L699 302.8 L697.5 302.5 L695.8 301.9 L694.7 301.2 L692.8 300 L691 299.4 L688.3 298.7 L686.8 297.7 L685.6 297.1 L683.1 295.9 L681 294.9 L679.3 294.7 L677.2 293.7 L675.9 293.3 L673.6 291.6 L671.8 289.7 L674.3 289.4 L675.7 289.4 L677.5 289.8 L679.4 290.8 L680.8 290.8 L682.6 291.7 L685 292.1 L686.5 292.7 L688.1 293.2 L690.2 293.5 L692.7 293.9 L694.9 294.3 L696.3 294.9 L698.1 295.5 L699.2 296.3 L701 297.2 L703.1 298.3 L705.1 300.1 L707.1 300.7 L708.8 301.1 L711.7 301.3 L713 302 L714.4 302.8 L716.4 304.9 L718 304.7 L720.7 305.3 L722.3 306.3 L724.1 307.6 L726.4 308.4Z"/>
<path id="L87" d="M371.2 359.3 L375.1 355 L378.5 353.2 L382.6 349.1 L386.4 344.2 L389.2 340.3 L392 337.2 L394.4 334.9 L396.3 332.4 L397.1 334.3 L398.1 336.1 L398.5 337.1 L399.8 338.4 L401.7 339.6 L401.8 343.1 L401.1 345.5 L399.3 349.2 L396.6 352.3 L396.2 355.5 L395.6 358.6 L394.1 359.5 L392.7 361.1 L391.1 363.1 L389.7 365.3 L387.6 365.9 L386 366 L384.4 366.6 L383.1 367.4 L381.2 368.5 L378.4 368.3 L377.6 367.7 L376.4 366.5 L374.4 366.3 L372.1 365.6 L372.1 364 L372 361.6Z"/>
<path id="L88" d="M374.9 358.1 L377.9 354.8 L380.5 353.3 L383.8 350.2 L386.7 346.4 L388.9 343.3 L391.1 340.9 L392.9 339 L394.5 337.1 L395.1 338.6 L395.8 340 L396.2 340.8 L397.2 341.8 L398.7 342.7 L398.8 345.4 L398.2 347.3 L396.8 350.3 L394.7 352.7 L394.4 355.2 L393.9 357.5 L392.7 358.2 L391.7 359.5 L390.4 361.1 L389.3 362.8 L387.7 363.2 L386.4 363.3 L385.1 363.8 L384.2 364.5 L382.7 365.3 L380.5 365.1 L379.9 364.7 L379 363.7 L377.3 363.5 L375.6 363 L375.6 361.7 L375.5 359.9Z"/>
<path id="L90" d="M412.5 203.6 L413 202.8 L414.4 201.7 L416 200.6 L416.8 199.8 L418.1 199.2 L419.6 198.3 L420.3 196 L420.7 194.6 L420.6 192.8 L420.5 191.5 L421.3 189.3 L421.4 187.5 L422.3 186.6 L423.2 185.3 L424.9 184.5 L426.8 183.9 L427.3 184.9 L427.4 186.9 L427.7 189 L428.6 191.1 L428 192.1 L426.6 193.5 L425.5 194.5 L424.7 195.2 L423.2 196.5 L422.3 197.5 L421.2 199.2 L421 201.3 L419.7 204.2 L419.7 205.9 L419.6 207.8 L419.6 209 L419.4 210.9 L418.6 212.7 L417.5 216.3 L417.1 218.4 L416.2 223.8 L415.3 227.1 L414.8 230.8 L414.2 234.2 L412.5 234.1 L411.1 234 L408.9 234.2 L408.7 232.4 L408.6 230.9 L408.7 229.5 L409 227.7 L408.9 225.4 L408.7 224 L409.9 222.4 L410.7 219.8 L411.4 217.7 L411.7 214.5 L412.4 212.5 L412.3 211.1 L412.4 209.9 L412.1 208.5 L412.6 205.5Z"/>
<path id="L92" d="M696.6 427.1 L697.8 425.2 L699.2 424.6 L700.4 423.4 L701.6 421.2 L702.4 420 L703.1 418.7 L703.8 416.4 L706.3 416.5 L707.9 416.6 L709.4 416.4 L711.3 415.7 L713 414.9 L714.4 414.6 L715.5 413.8 L716.4 412.8 L719.2 412 L721.5 411.5 L724 411 L727.8 409.9 L730.6 410.3 L733.5 409.9 L735.6 409.6 L737.9 409.2 L739.1 408.5 L740.7 407.3 L742.5 407.5 L744.4 407.5 L745.7 407.5 L747.2 407.4 L748.6 407.4 L750.5 407.4 L750.1 409.5 L750.3 410.7 L750 412.5 L751.4 414.5 L752.3 416.4 L751.7 417.5 L750.6 418.9 L749.3 419.5 L748.4 420.7 L747.6 421.8 L747.2 423.2 L746.2 424.7 L745.1 425.3 L744 426.1 L741.9 427.2 L740.9 427.4 L739.3 427.5 L738.2 429.6 L737.5 431.1 L735.6 432.2 L734.3 432.5 L732.8 433.1 L730.4 434.8 L728.4 434.3 L726 433.1 L722.6 432.1 L719.9 431.5 L716.7 430.5 L714.6 430.7 L712.7 430.6 L711.1 430.2 L709.3 431.4 L707.2 431.2 L705.6 432.5 L704.6 433.6 L703.2 434.1 L702 434.3 L701.4 433.4 L700.3 432 L700.4 430.4 L700.5 429.5 L698.2 428.8Z"/>
<path id="L94" d="M718 452.6 L719.8 452 L721 451.5 L723.6 450.4 L725.7 449.7 L727.6 448.6 L728.4 447.7 L729.9 446.3 L730.5 445.4 L733.9 445.6 L736.3 446.8 L738.3 446.8 L740.8 447.3 L742.9 447.7 L745 449 L747.1 448.9 L748.5 449 L749.4 449.8 L750.3 451.7 L750.2 453.2 L750.3 454.7 L750.4 456.7 L750.9 457.9 L752.1 459.8 L751.3 461.2 L750.7 462.6 L750.5 463.8 L749.5 465.1 L748.5 467.8 L746.9 470.6 L747.1 472.2 L746.7 474.1 L745.9 475.7 L744.8 477.1 L742.9 478.9 L741.1 480.1 L739 481 L737.6 480.9 L735.9 481.3 L734.5 480.3 L733.4 479.2 L731.5 478.2 L728 477.2 L726.6 475.6 L725.4 476.7 L723.3 477.7 L722.5 476.2 L720.7 475.3 L720.2 472.9 L719.7 470.8 L718.5 469.8 L717.8 469 L717.3 467.9 L716.2 466.9 L716.9 464.8 L717 463.5 L717.2 461.9 L717.5 460.6 L718.2 458.4 L717.9 454.8Z"/>
<path id="L95" d="M721.5 454.9 L722.9 454.4 L723.9 454 L725.9 453.2 L727.6 452.6 L729 451.8 L729.6 451.1 L730.8 450 L731.3 449.3 L734 449.4 L735.8 450.4 L737.4 450.4 L739.3 450.7 L741 451 L742.6 452 L744.2 452 L745.3 452.1 L746.1 452.7 L746.7 454.2 L746.6 455.3 L746.7 456.6 L746.8 458.1 L747.2 459 L748.1 460.5 L747.5 461.6 L747.1 462.7 L746.9 463.6 L746.2 464.7 L745.4 466.7 L744.1 468.9 L744.3 470.2 L743.9 471.7 L743.3 472.9 L742.5 474 L741 475.4 L739.6 476.3 L737.9 477.1 L736.8 477 L735.5 477.3 L734.4 476.5 L733.6 475.6 L732.1 474.9 L729.4 474.1 L728.3 472.8 L727.3 473.7 L725.7 474.5 L725 473.3 L723.6 472.6 L723.2 470.7 L722.9 469.1 L721.9 468.3 L721.4 467.7 L721 466.8 L720.1 466.1 L720.7 464.4 L720.7 463.4 L720.9 462.1 L721.2 461.1 L721.7 459.4 L721.5 456.6Z"/>
<path id="L99" d="M797.2 494.3 L797.9 492.4 L798.8 491.4 L799.3 490.1 L800.4 488.5 L801.9 486.8 L803.1 485.1 L804.4 483.5 L807.2 482.2 L810.5 481.3 L812.3 479.7 L814.1 478.7 L815.2 478.7 L816.7 479.5 L818.7 479.3 L820.6 479.9 L822.7 480 L826.1 481 L828.3 482 L830.1 482.2 L831.3 482.6 L832.6 482.8 L835.1 483.2 L836.7 483.5 L837.4 488.2 L836.3 494.8 L836.1 499.5 L837.1 506.9 L837.3 510.5 L835.6 515.2 L836.5 519.4 L836.7 523 L835 522.7 L832.3 523.6 L829.4 523 L827.6 522.6 L825.9 523.5 L823.5 524.1 L820.3 524.1 L817 524.8 L816.2 523.1 L815.1 521.3 L813.6 519.6 L811.8 517.1 L810.4 516.5 L807.9 515.3 L805.7 514.3 L802.6 514 L802.3 513.1 L801.7 511.6 L800.9 510.2 L799.6 508.2 L799.1 506.1 L799.1 504.5 L799 503.3 L798.2 501.8 L798 500.7 L796.7 499.7 L797.1 498.3 L797.8 496.6Z"/>
<path id="L100" d="M801.3 495.7 L801.8 494.2 L802.5 493.5 L802.9 492.5 L803.7 491.2 L804.9 489.9 L805.8 488.5 L806.9 487.3 L809 486.3 L811.6 485.6 L813 484.3 L814.4 483.6 L815.3 483.6 L816.4 484.2 L818 484 L819.5 484.5 L821.1 484.6 L823.8 485.4 L825.5 486.1 L826.9 486.3 L827.9 486.6 L828.9 486.7 L830.8 487 L832.1 487.3 L832.6 491 L831.8 496.1 L831.6 499.8 L832.4 505.5 L832.6 508.4 L831.2 512 L831.9 515.3 L832.1 518.1 L830.8 517.9 L828.7 518.6 L826.4 518.1 L824.9 517.8 L823.6 518.5 L821.8 519 L819.3 519 L816.7 519.5 L816.1 518.2 L815.2 516.8 L814 515.5 L812.7 513.6 L811.5 513.1 L809.6 512.1 L807.9 511.4 L805.5 511.1 L805.2 510.4 L804.8 509.2 L804.1 508.2 L803.1 506.6 L802.8 504.9 L802.7 503.7 L802.7 502.7 L802 501.6 L801.9 500.7 L800.9 499.9 L801.2 498.8 L801.7 497.5Z"/>
<path id="L101" d="M804.9 497 L805.3 495.9 L805.8 495.3 L806 494.5 L806.7 493.6 L807.6 492.6 L808.3 491.6 L809.1 490.7 L810.7 489.9 L812.6 489.4 L813.7 488.4 L814.7 487.9 L815.4 487.9 L816.2 488.3 L817.4 488.2 L818.5 488.6 L819.8 488.6 L821.7 489.2 L823 489.8 L824.1 489.9 L824.8 490.2 L825.6 490.3 L827 490.5 L828 490.7 L828.4 493.4 L827.7 497.3 L827.6 500 L828.2 504.4 L828.3 506.5 L827.3 509.2 L827.8 511.7 L828 513.8 L827 513.6 L825.4 514.2 L823.7 513.8 L822.6 513.6 L821.6 514.1 L820.2 514.5 L818.4 514.5 L816.4 514.9 L816 513.9 L815.3 512.8 L814.4 511.8 L813.4 510.4 L812.6 510 L811.1 509.3 L809.8 508.7 L808 508.6 L807.8 508 L807.5 507.1 L807 506.3 L806.2 505.1 L806 503.9 L805.9 503 L805.9 502.2 L805.4 501.4 L805.3 500.7 L804.6 500.1 L804.8 499.3 L805.2 498.4Z"/>
<path id="L103" d="M783.6 597.6 L783.2 594.8 L783.3 591.9 L784.5 589.5 L786 588.4 L785.8 586.2 L786.6 584.9 L787.2 583.2 L788.6 581.5 L790.7 579.9 L793.2 577.3 L796.3 575.4 L797.4 573.4 L799.1 571.4 L800.6 568.6 L801.6 567.1 L802.8 565.4 L803.9 564.9 L805.6 563 L806.5 561.3 L809 559.9 L811.3 558.5 L813.3 556.5 L815.9 554.5 L820.1 555.3 L822.7 556.2 L826.5 556.2 L828.7 556.9 L830.8 556.6 L832.1 557.1 L834.2 558.1 L835.7 558.1 L836.9 567.8 L835.9 573.6 L836.3 578.9 L835.7 584.6 L834.9 592.9 L835 598.9 L834.4 603.5 L835.7 608.3 L833.4 609.1 L829.5 610.2 L827.6 610.6 L824.7 611.3 L823.4 611.9 L821 613.4 L817.7 612.7 L815.9 611.9 L814.4 610.9 L811.9 609.7 L809.9 608.2 L808.3 608 L805.7 606 L802.6 605 L800.4 605.2 L798 604.8 L796.4 603.8 L794.4 602.3 L792.9 601.9 L791.9 602.3 L789.1 600.6 L786.9 600.5 L785.9 599.2Z"/>
<path id="L104" d="M789.4 595 L789 592.8 L789.1 590.6 L790 588.7 L791.2 587.8 L791.1 586.2 L791.7 585.2 L792.2 583.8 L793.3 582.5 L794.9 581.3 L796.8 579.2 L799.2 577.8 L800.1 576.2 L801.5 574.6 L802.6 572.5 L803.4 571.2 L804.3 569.9 L805.2 569.5 L806.5 568.1 L807.2 566.8 L809.2 565.7 L811 564.6 L812.5 563 L814.6 561.4 L817.8 562 L819.9 562.7 L822.8 562.8 L824.6 563.3 L826.2 563.1 L827.2 563.4 L828.8 564.2 L830 564.2 L830.9 571.8 L830.1 576.3 L830.5 580.5 L830 584.9 L829.4 591.4 L829.4 596.1 L829 599.7 L830 603.4 L828.2 604.1 L825.2 604.9 L823.7 605.2 L821.4 605.7 L820.4 606.2 L818.5 607.4 L816 606.8 L814.6 606.2 L813.4 605.4 L811.4 604.5 L809.8 603.3 L808.6 603.2 L806.6 601.6 L804.2 600.8 L802.5 601 L800.6 600.6 L799.3 599.9 L797.8 598.7 L796.6 598.4 L795.8 598.7 L793.6 597.4 L791.9 597.3 L791.1 596.3Z"/>
<path id="L105" d="M794.4 592.8 L794.2 591.1 L794.3 589.5 L794.9 588.1 L795.8 587.4 L795.7 586.1 L796.2 585.4 L796.6 584.4 L797.4 583.4 L798.6 582.5 L800 580.9 L801.9 579.8 L802.5 578.6 L803.5 577.5 L804.4 575.8 L805 574.9 L805.7 573.9 L806.3 573.6 L807.3 572.6 L807.8 571.6 L809.3 570.7 L810.7 569.9 L811.8 568.7 L813.4 567.6 L815.8 568 L817.3 568.5 L819.6 568.6 L820.9 569 L822.1 568.8 L822.8 569.1 L824.1 569.7 L824.9 569.7 L825.6 575.4 L825 578.7 L825.3 581.9 L824.9 585.2 L824.5 590 L824.5 593.6 L824.2 596.3 L824.9 599.1 L823.6 599.5 L821.3 600.2 L820.2 600.4 L818.5 600.8 L817.7 601.2 L816.3 602 L814.4 601.6 L813.4 601.2 L812.5 600.6 L811 599.9 L809.8 599 L808.9 598.9 L807.3 597.7 L805.6 597.1 L804.3 597.2 L802.9 597 L801.9 596.4 L800.8 595.5 L799.9 595.3 L799.3 595.6 L797.6 594.6 L796.4 594.5 L795.8 593.7Z"/>
<path id="L106" d="M798.9 590.8 L798.7 589.6 L798.8 588.5 L799.3 587.5 L799.9 587 L799.8 586.1 L800.2 585.6 L800.4 584.8 L801 584.1 L801.8 583.5 L802.9 582.4 L804.2 581.6 L804.6 580.8 L805.3 579.9 L806 578.8 L806.4 578.1 L806.9 577.5 L807.3 577.2 L808 576.5 L808.4 575.8 L809.4 575.2 L810.4 574.6 L811.2 573.8 L812.3 572.9 L814 573.3 L815.1 573.6 L816.7 573.7 L817.6 573.9 L818.5 573.8 L819 574 L819.9 574.4 L820.5 574.4 L821 578.5 L820.6 580.9 L820.8 583.1 L820.5 585.4 L820.2 588.9 L820.2 591.4 L819.9 593.3 L820.5 595.3 L819.5 595.6 L817.9 596 L817.1 596.2 L816 596.5 L815.4 596.8 L814.4 597.4 L813 597.1 L812.3 596.8 L811.7 596.3 L810.6 595.8 L809.8 595.2 L809.1 595.1 L808 594.3 L806.8 593.9 L805.9 594 L804.9 593.8 L804.2 593.4 L803.4 592.8 L802.7 592.6 L802.3 592.8 L801.2 592.1 L800.3 592 L799.8 591.5Z"/>
<path id="L108" d="M776.5 546.5 L775 549.7 L774.5 552 L772 553 L769.5 554.9 L767.4 554.5 L763.8 553.9 L762.4 551.9 L760.1 549.4 L760.2 547 L760.1 543.6 L762 542.1 L763.8 539.2 L766.1 539.3 L769.5 538.2 L771.9 539.2 L774.5 541.1 L775.4 544.1Z"/>
<path id="L110" d="M735.1 580.4 L734.2 582.3 L733.3 584.1 L731.5 584.6 L728.9 586 L726.1 586.2 L723.8 585.3 L722.1 583.8 L720.5 582.4 L720.5 580.7 L720.5 578.5 L722.3 576.5 L723.8 575.5 L726.9 575.3 L728.9 574.8 L731 576.2 L733.3 576.8 L734.1 578.2Z"/>
<path id="L112" d="M610.1 503.1 L611.6 501.8 L614.2 499.4 L615.4 499.2 L617.2 498.6 L618.1 497.8 L619.2 496.7 L619.9 495.9 L620.9 494.1 L622.8 494 L623.9 493.9 L625.5 494.4 L627.1 494.1 L628.8 494 L630.1 495.2 L631.6 495.9 L631.3 497.4 L630.8 499.3 L631.2 501.1 L630.7 503.5 L629.3 505.8 L628.9 507.5 L628.4 509.2 L628 510.3 L629.4 511.2 L630.5 511.8 L632 512.4 L633.4 512.8 L634.9 513.8 L636.5 514.7 L638.8 515.7 L639.7 517.1 L640.1 518 L641 519.3 L641.3 520.5 L642.2 522.7 L642.1 524.2 L642.4 526.4 L641.4 528.1 L640.5 529.4 L639.6 531.2 L638.7 532.6 L638.4 533.9 L638.2 535 L637.3 536.3 L637 537.2 L635.4 536.3 L634.7 535.4 L633.5 533.8 L632.6 533.2 L631.5 532.2 L629.8 531.8 L629.1 529.9 L629 528.3 L628.6 527.3 L629.1 526.5 L629.4 525 L628.9 524.1 L628 522.8 L626.2 523.1 L625.6 524.3 L624.4 525 L623.1 524.1 L620.9 524.6 L619.3 526.6 L618.3 528.1 L617.4 528.6 L616.4 529.7 L615.4 531.6 L614.3 532.5 L612.8 535.5 L611.9 537.2 L610.8 538.8 L610 541 L609.6 542.6 L609.2 543.5 L608 545.3 L606.5 546.2 L606.4 542.9 L605.3 540.2 L604.6 535.3 L605.3 532.4 L605 530.5 L604.6 529.1 L604 527.1 L602.9 524.6 L603.9 520.8 L605.5 517.7 L606 514.8 L607.6 511.3 L608.3 510.3 L608.8 508 L609.3 505.8Z"/>
<path id="L114" d="M549.1 649.4 L548 651.7 L547.4 653 L545.4 654.1 L543.2 655 L541.3 654.9 L538.5 654.3 L537.3 653 L535.3 651.3 L535.2 649.2 L535.3 647.5 L536.9 646.1 L538.5 644.5 L540.4 644.1 L543.2 643.8 L545.5 645 L547.4 645.8 L548.3 648Z"/>
<path id="L116" d="M583 672.9 L584 672.1 L584.8 671.2 L585.9 670.2 L587.1 669.3 L588.9 669.1 L590.5 669.2 L592 669.4 L593.1 669.6 L594.8 670.3 L596.9 671.6 L598.2 671.9 L599.5 672.2 L601 672.9 L601.1 674.8 L601 675.9 L601.9 676.8 L602.4 678.2 L603.2 679.6 L603.7 681.1 L606 682.7 L608.1 683.7 L608 685.2 L607.9 686.7 L607 688.8 L606.2 690.2 L605.7 691.4 L604.8 693.3 L603.5 695.7 L601 698.1 L599.9 699.8 L597.6 701.4 L596.3 702.1 L594.6 702.6 L592.4 703.3 L590.2 703.5 L588.5 703.3 L587 702.6 L586.2 702.2 L584.4 702.1 L583 701.7 L583.2 700.3 L583.2 698.6 L583.4 696.8 L583.9 694.7 L585.2 693.8 L586 692.6 L586.6 690.9 L586.6 689.2 L585.9 687.8 L584.9 686.1 L584.1 683.8 L583 681.9 L583.6 680.2 L583.5 678.9 L583.7 677.6 L584.1 676.2 L584 675Z"/>
<path id="L118" d="M540.4 688.8 L539.2 690.4 L538.8 691.8 L537.4 692.3 L534.9 693.4 L532.2 693.2 L530.5 692.9 L528.7 691.4 L527.6 690.4 L527.5 688.8 L527.6 687.2 L529 686.3 L530.5 684.7 L532.6 684.2 L534.9 684.1 L537.4 685.2 L538.8 685.8 L539.5 687.1Z"/>
<path id="L119" d="M538.9 688.8 L538 690 L537.7 691.1 L536.6 691.5 L534.7 692.4 L532.5 692.2 L531.2 692 L529.8 690.8 L528.9 690 L528.9 688.8 L528.9 687.5 L530 686.8 L531.2 685.6 L532.9 685.2 L534.7 685.2 L536.6 686 L537.7 686.4 L538.3 687.5Z"/>
<path id="L121" d="M502.7 701 L503.9 700.2 L505.6 699.7 L507.2 699 L508.1 698.8 L509.4 698.1 L510.8 697.4 L513 697.7 L514.6 698 L515.8 698 L517.9 698.2 L519.8 698.3 L519.2 700.1 L518.7 701.2 L518 702.8 L516.7 703.1 L515.1 703.8 L513.1 704.9 L511.3 705.3 L510.4 705.7 L509 706.4 L506.9 706.1 L505.8 705.8 L503.6 705.5 L503.5 704.2 L503.2 702.7Z"/>
<path id="L124" d="M469.3 601.4 L471 600.9 L472 600.6 L472.9 600.3 L474.5 599.7 L476.6 598.8 L478.3 597.8 L480.5 598 L481.9 597.9 L484.1 598.4 L486 598.9 L490.2 600.1 L492.8 600.8 L497.3 602 L499.8 603.2 L500.3 604.2 L501.1 605.7 L501.5 607.3 L501.6 608.6 L500 609 L498.3 609.6 L496.4 610.7 L494.7 611.2 L492.7 611.7 L490.7 612 L488.7 612.2 L487.2 612.2 L485.8 611.7 L484.6 611.5 L483.1 611.3 L481.6 611.2 L479.3 610.8 L478.2 610.5 L476.5 610.4 L475.5 611.2 L474.2 612.2 L473.1 612.7 L471.7 613.1 L470.6 614.4 L469.3 615.8 L467.8 615.3 L465.8 614.7 L464.7 614 L463.4 613.2 L462.1 612.2 L462.5 611.1 L462.7 609.2 L462.8 606.9 L463.4 604.8 L463.9 603.2 L465.2 602.8 L466.7 602.2 L467.7 602Z"/>
<path id="L126" d="M713.7 468 L715.1 467.4 L717.2 466.8 L718.8 465.5 L719.9 464.8 L721.4 464 L722.8 463.5 L724.5 462.6 L724.6 464.7 L724.8 467 L725.3 469 L725.1 470.6 L725.9 472.3 L726.3 473.4 L725.7 475.5 L725.4 476.8 L725.1 478.4 L724.7 479.9 L724.4 481.8 L724.2 483 L723.1 484.9 L722.7 486 L720.7 485.7 L719 484.9 L717.7 484.2 L715.5 484.2 L714.8 482 L714.3 480 L714.2 478.4 L714.2 476.3 L714.6 474.7 L713.7 471.1Z"/>
<path id="L135" d="M184.1 665.9 L184.9 670.5 L187.1 674.6 L189.2 679.8 L189.3 683.2 L191.8 685.8 L193.4 688.7 L193.3 691.1 L194 694.6 L194.9 696.6 L195.6 698 L196.5 699.2 L197.6 699.9 L198.1 701.1 L198.7 702.7 L200.2 705.1 L201.2 707.2 L202 709.7 L202.5 712.9 L204 715.1 L204.1 716.7 L205.4 718.9 L205.6 720.8 L206 722.9 L206.6 725.2 L206.1 728.9 L206.9 732.5 L206.4 735.5 L206.7 739.6 L208.3 743.8 L206.7 747.8 L205.4 749.7 L204.8 752.1 L203.9 752.8 L202.6 753.9 L201.4 754.6 L200.2 756.1 L199.6 759.2 L199.5 761.5 L198.7 762.7 L197.6 764.6 L197.7 766.4 L197.4 767.5 L196.9 768.8 L195.7 770 L195.7 771.6 L195.6 773.2 L195.1 774.5 L194 775.4 L192.7 777.3 L191.4 778.9 L190.5 779.8 L189.2 781.2 L188.6 783 L188.3 784 L187.4 785.4 L186.8 786.2 L185.2 787.2 L184.3 787.9 L182.9 788.2 L181.7 789.2 L180.1 789.3 L177.8 789.8 L176 790.2 L174.2 789.8 L173.3 780.8 L173.4 771.3 L174.4 766.2 L174.4 757.6 L174.7 752.2 L174.7 745.3 L177.3 732.4 L176 725.2 L176.2 720.4 L177.5 715.1 L176.2 709.8 L177.5 704 L178.3 698.5 L178.8 690.8 L178.6 678.4 L179.6 671.3 L181.3 670.6 L182.5 668.9 L182.6 667.3Z"/>
<path id="L136" d="M185.7 681.3 L186.3 684.9 L188 688.1 L189.7 692.2 L189.8 694.8 L191.7 696.9 L193 699.2 L192.9 701 L193.4 703.8 L194.1 705.3 L194.7 706.4 L195.4 707.3 L196.2 707.9 L196.7 708.8 L197.1 710 L198.2 711.9 L199 713.6 L199.7 715.5 L200 718 L201.2 719.7 L201.3 721 L202.3 722.7 L202.5 724.2 L202.8 725.8 L203.2 727.6 L202.8 730.5 L203.5 733.3 L203.1 735.6 L203.4 738.9 L204.6 742.1 L203.3 745.3 L202.3 746.8 L201.8 748.6 L201.2 749.2 L200.1 750 L199.2 750.6 L198.3 751.7 L197.8 754.2 L197.7 756 L197.1 756.9 L196.2 758.4 L196.3 759.8 L196.1 760.6 L195.7 761.6 L194.8 762.6 L194.7 763.8 L194.7 765.1 L194.3 766.1 L193.4 766.8 L192.4 768.3 L191.4 769.6 L190.7 770.2 L189.7 771.3 L189.2 772.7 L188.9 773.5 L188.3 774.6 L187.8 775.2 L186.5 776 L185.9 776.5 L184.7 776.8 L183.8 777.6 L182.6 777.6 L180.8 778 L179.4 778.3 L178 778 L177.3 771 L177.3 763.6 L178.1 759.6 L178.1 752.9 L178.4 748.7 L178.4 743.3 L180.4 733.2 L179.4 727.6 L179.5 723.8 L180.6 719.7 L179.6 715.6 L180.5 711.1 L181.1 706.8 L181.6 700.8 L181.4 691.1 L182.2 685.5 L183.5 685 L184.5 683.7 L184.5 682.4Z"/>
<path id="L138" d="M227.5 689.1 L228.1 686.9 L228.9 685.1 L229.1 684 L228.8 682.4 L229.1 680.9 L229.9 679.7 L230.9 678 L232.9 676.5 L234.6 675.4 L236.3 674.8 L237.6 675.2 L239.6 674.8 L240.6 675 L242.3 675.5 L243.5 675.2 L245.4 674.7 L247.4 673.8 L248.8 673 L250.8 671.9 L252.6 672.4 L255.6 672.4 L258.2 671.6 L259.8 671.1 L261.5 671.8 L262.6 672 L264.9 672 L267 672.9 L266.6 674.2 L265.9 675.8 L265.3 678 L264.3 680.2 L263.4 681.9 L265.2 683.3 L266.5 685.3 L267.5 686.8 L268.3 687.7 L268.8 689.1 L271.1 689.4 L272.1 690.3 L273.8 691.4 L275 692.2 L275.8 694 L277 695.4 L277.8 696.2 L278.9 697.8 L279.7 698.9 L281.6 698.9 L283.1 699.8 L282.4 702 L281.8 704.3 L282.4 705.6 L282.3 707.1 L282.6 709.4 L282.1 711.1 L281.9 712.4 L282.2 714.2 L281.6 716.1 L280.4 718.2 L278.2 720 L277.2 721.3 L275.6 722.3 L274.2 723.2 L273 723.3 L271.1 723.1 L269.5 721.6 L268.1 720.9 L265.4 719.8 L264.7 718.7 L263.4 717.8 L262.3 715.9 L261.6 714.5 L260.9 713.7 L259.8 712.3 L258.8 710.9 L257.7 709.9 L257.8 708.7 L258 707 L256.7 706.6 L254.9 706.4 L253.3 705.1 L252.3 704.1 L251.2 703.4 L250.4 702.8 L249 701.6 L247.9 700.8 L246.3 700.4 L244.5 700.3 L242.5 700.2 L241.1 699.3 L239.7 699.4 L238.3 699.8 L237 699.5 L235.4 698.4 L233.2 697.2 L230.8 695.9 L229.4 694.1 L228.5 692.3Z"/>
<path id="L140" d="M246.1 764.5 L247.5 762 L248.3 760.3 L249.8 757.8 L251.3 755.8 L250.5 754.1 L251.3 751.6 L251.6 748.5 L253.2 746.5 L254.9 745 L256.5 744.4 L258.3 743.5 L259.3 741.7 L261.7 740.7 L263.8 739 L265.8 737.6 L267 738.6 L268.4 739.4 L270.3 739.5 L272.9 739.5 L274.4 739.1 L276.3 738.3 L278 737.2 L280.2 735.8 L282.4 734.5 L283.8 733.7 L285.1 733.5 L286.7 733.9 L289.8 732.8 L291.6 732.3 L293.1 731.3 L294.5 730.4 L294.7 731.9 L294.9 734 L295.1 736.1 L293.1 737.7 L292.6 739.2 L292.4 741.2 L292.7 742.9 L291.1 744.8 L290 746 L289.6 748.5 L288.9 751.4 L286.9 752.6 L285.4 753.1 L283.8 753.7 L282.7 756.1 L282.4 757.9 L282.5 759 L281.8 760.3 L281 761.2 L279.9 763.2 L278.4 764.5 L276.4 764.7 L274.5 764.7 L273.1 765 L272.3 767.4 L271.2 769.2 L270.2 770.6 L269.4 771.7 L269.8 773.2 L270.3 774.6 L270.7 775.7 L271.5 777.1 L273 778.8 L271.7 778.5 L269.7 778 L268.6 777 L267.2 776.2 L265.9 775.3 L264.7 774.6 L263.8 774.2 L262.2 773.5 L259.8 773.9 L257.9 773.8 L255.4 773.2 L253.9 773.5 L251.4 773.5 L250.9 772.3 L250.1 771.2 L249.2 769.7 L248.3 768.4 L247.9 766.5 L247.2 765.7Z"/>
<path id="L141" d="M251.6 762.5 L252.7 760.5 L253.3 759.2 L254.5 757.3 L255.7 755.7 L255 754.4 L255.7 752.4 L255.9 750 L257.2 748.4 L258.5 747.3 L259.7 746.8 L261.1 746.1 L261.9 744.7 L263.8 743.9 L265.4 742.6 L267 741.4 L267.9 742.3 L269 742.9 L270.5 743 L272.5 743 L273.7 742.6 L275.2 742 L276.5 741.2 L278.2 740 L279.9 739.1 L281 738.4 L282 738.3 L283.3 738.6 L285.7 737.7 L287.1 737.3 L288.3 736.5 L289.4 735.8 L289.6 737 L289.7 738.7 L289.9 740.3 L288.3 741.6 L287.9 742.8 L287.7 744.3 L288 745.6 L286.7 747.1 L285.9 748 L285.5 750 L285 752.2 L283.4 753.2 L282.2 753.6 L281 754 L280.2 755.9 L279.9 757.3 L280 758.2 L279.5 759.2 L278.8 759.9 L277.9 761.4 L276.8 762.5 L275.2 762.6 L273.8 762.6 L272.6 762.9 L272.1 764.7 L271.2 766.2 L270.4 767.3 L269.8 768.1 L270.1 769.3 L270.5 770.3 L270.8 771.2 L271.4 772.3 L272.6 773.7 L271.6 773.4 L270 773 L269.1 772.3 L268 771.6 L267 770.9 L266.1 770.3 L265.4 770.1 L264.2 769.5 L262.3 769.8 L260.8 769.7 L258.8 769.3 L257.7 769.5 L255.8 769.5 L255.4 768.6 L254.7 767.7 L254 766.5 L253.3 765.5 L253 764 L252.5 763.4Z"/>
<path id="L143" d="M306.1 715.2 L308.3 714.6 L309.9 714.7 L310.8 715.1 L313 715 L314.3 714 L315.1 713.4 L317.1 713.4 L318.2 714.2 L319.4 714.4 L321.5 715.2 L323.5 715.4 L324.6 716.5 L325.9 717 L327.9 716.5 L328.8 715.8 L330.2 714.6 L331.6 713 L333 711.6 L334.2 712.4 L335.3 713 L336.7 714.4 L339.1 715.5 L341.6 716.2 L344.2 717.9 L346.1 719.6 L347.4 720.5 L345.9 721.1 L344.5 721.6 L342.6 722 L341 722.4 L339.3 722.3 L338.2 722.4 L336.4 722.6 L334.8 722.3 L334.9 724.6 L334.2 726 L332.7 727.5 L330.8 729 L329.4 729.5 L328.5 729.5 L327 729.4 L325.3 729.7 L324.3 729.6 L322.5 729.9 L321 730.7 L318.7 731.3 L317.6 729.6 L316.6 728.7 L314.6 727.4 L312.9 726.2 L311.5 725.9 L310.2 724 L309.6 722.6 L309.1 721.7 L308.1 720.5 L307 718.1 L306.3 716.3Z"/>
<path id="L144" d="M310.4 716.3 L312.1 715.9 L313.3 716 L314 716.3 L315.7 716.2 L316.8 715.4 L317.4 714.9 L319 715 L319.8 715.6 L320.7 715.8 L322.4 716.3 L323.9 716.5 L324.8 717.4 L325.8 717.7 L327.4 717.4 L328.1 716.9 L329.1 715.9 L330.3 714.7 L331.4 713.5 L332.3 714.2 L333.1 714.7 L334.3 715.8 L336.1 716.6 L338.1 717.2 L340.1 718.5 L341.6 719.8 L342.6 720.5 L341.4 721 L340.3 721.4 L338.9 721.7 L337.6 722 L336.3 721.9 L335.4 722 L334 722.1 L332.8 722 L332.9 723.7 L332.3 724.8 L331.1 725.9 L329.6 727.1 L328.6 727.6 L327.9 727.5 L326.7 727.5 L325.4 727.7 L324.6 727.6 L323.2 727.9 L322 728.5 L320.2 729 L319.3 727.6 L318.6 726.9 L317 725.9 L315.7 725 L314.6 724.8 L313.6 723.3 L313.1 722.2 L312.7 721.5 L311.9 720.5 L311.1 718.6 L310.5 717.3Z"/>
<path id="L146" d="M373.8 720 L375.4 718.6 L376.4 717.4 L378.2 716.8 L379.6 717.1 L381 717.4 L383.4 717.9 L384.8 718.3 L387 719.1 L388.6 719.6 L389.2 720.8 L390 721.8 L389.4 724 L388.7 725.8 L388.7 727.7 L388.6 728.9 L389.6 731.1 L390.8 732.5 L391.8 734.4 L390.1 735.6 L389.2 736.5 L388.5 737.9 L386.2 738.1 L384.3 738.2 L382.8 738 L381.7 736.9 L380.2 736.5 L379.2 735.9 L377.4 734.9 L375.6 734.4 L375.2 732.9 L374.9 731.7 L374.8 730.5 L374.4 728.9 L374.5 725.9 L374.5 724.1 L374 721.9Z"/>
<path id="L148" d="M386.3 700.8 L385.6 703 L384.8 704.5 L382.7 705.6 L381.2 706.4 L379.4 706.2 L377.1 705.7 L375.8 704.4 L374.4 702.8 L374.6 700.8 L374.4 698.9 L375.8 697.2 L377.1 695.9 L379.4 695.8 L381.2 695.3 L382.6 696.2 L384.8 697.2 L385.8 699.5Z"/>
<path id="L151" d="M469.3 615.5 L468.4 618.2 L467.6 619.7 L465 621 L463.4 622 L460.4 621.6 L458.7 621.2 L457.1 618.8 L455.6 617.7 L456.1 615.8 L455.6 613.2 L457.5 611.2 L458.7 609.7 L460.9 609.5 L463.4 609 L465.7 610.4 L467.6 611.2 L468.6 613.8Z"/>
<path id="L152" d="M467.7 615.5 L467.1 617.6 L466.4 618.8 L464.4 619.8 L463.2 620.5 L460.8 620.3 L459.5 619.9 L458.2 618.1 L457 617.2 L457.5 615.7 L457 613.7 L458.5 612.2 L459.5 611 L461.2 610.8 L463.2 610.4 L464.9 611.6 L466.4 612.2 L467.2 614.2Z"/>
<path id="L156" d="M183.9 662.9 L185.8 661.9 L187.3 661.4 L189.4 660.6 L191.8 660.6 L192.9 660.1 L194.6 659.3 L196.2 659.9 L197.1 660.2 L198.7 660.8 L200.3 661.3 L201.4 661.8 L202.5 662.8 L203.6 663.5 L205.4 664.7 L205.7 666.4 L205.9 667.6 L205 669.6 L204.5 671 L204.4 672.7 L204.2 675.6 L203.9 676.9 L203.6 679.1 L202.6 679.3 L200.9 679.8 L199 679.9 L197 680.3 L195.5 680.4 L193.4 680.4 L191 680.9 L189.7 679.2 L188.5 678 L187.3 677.2 L186.4 676.6 L184.8 675.5 L184.7 674 L184.7 672.6 L184.8 669.7 L185 667.9 L184.3 666.2 L184.1 665.1Z"/>
<path id="L159" d="M484.4 276.4 L483.7 279.1 L482.2 280.6 L481.7 282.9 L481 284.2 L479.5 285 L478.1 286 L477.7 287.8 L476.8 289.1 L475.6 290.1 L472.8 291 L471.3 292.2 L469 293.3 L467.8 293.7 L465.8 293.7 L464.5 293.8 L462.3 293.3 L460.2 292.8 L458.3 291.7 L456.5 289.9 L455.5 287.2 L454.7 285.5 L452.4 283.9 L452.2 282.1 L451.3 280.4 L451 279.1 L450.9 277.9 L450.7 276.1 L450.1 274.4 L450.1 271.6 L451.1 269.5 L451.6 267.6 L452.8 264.9 L454.1 263 L454.5 261.6 L455 259.8 L457.3 258 L458.8 255.7 L460.4 253.9 L461.8 252.7 L463 252.1 L465.1 251.5 L467 250.7 L469.6 250.2 L472.1 250.6 L473.7 250.7 L476 252 L477.7 252.6 L479.5 254.1 L481 256.5 L481.5 258.4 L483.6 260.1 L484.4 262.6 L485.5 264.3 L485.6 266.4 L485.3 267.9 L484.5 270.4 L484.2 272.2 L484.8 273.9Z"/>
<path id="L160" d="M480.8 275.6 L480.2 277.7 L479.1 278.9 L478.7 280.7 L478.1 281.7 L477 282.3 L475.9 283.1 L475.5 284.4 L474.9 285.5 L473.9 286.3 L471.8 287 L470.6 287.9 L468.8 288.8 L467.8 289.1 L466.3 289.1 L465.3 289.1 L463.5 288.7 L461.9 288.4 L460.4 287.5 L459 286.2 L458.2 284 L457.6 282.7 L455.8 281.4 L455.6 280 L455 278.7 L454.7 277.7 L454.6 276.7 L454.5 275.3 L454 274.1 L454 271.8 L454.8 270.2 L455.2 268.7 L456.1 266.6 L457.1 265.1 L457.5 264.1 L457.9 262.6 L459.6 261.2 L460.8 259.4 L462.1 258 L463.2 257.1 L464.1 256.6 L465.7 256.2 L467.2 255.5 L469.3 255.1 L471.2 255.5 L472.4 255.6 L474.2 256.6 L475.6 257 L477 258.2 L478.1 260.1 L478.5 261.6 L480.2 262.9 L480.8 264.8 L481.6 266.2 L481.7 267.8 L481.5 269 L480.9 270.9 L480.6 272.3 L481.1 273.6Z"/>
<path id="L161" d="M477.2 274.8 L476.8 276.3 L475.9 277.1 L475.7 278.4 L475.3 279.1 L474.4 279.6 L473.6 280.2 L473.4 281.1 L472.9 281.9 L472.2 282.5 L470.7 283 L469.8 283.6 L468.6 284.2 L467.9 284.5 L466.7 284.5 L466 284.5 L464.8 284.2 L463.6 283.9 L462.5 283.3 L461.5 282.4 L461 280.8 L460.5 279.9 L459.2 279 L459.1 278 L458.7 277 L458.5 276.3 L458.4 275.6 L458.3 274.6 L458 273.7 L458 272.1 L458.5 270.9 L458.8 269.8 L459.5 268.3 L460.2 267.3 L460.4 266.5 L460.7 265.5 L462 264.5 L462.8 263.2 L463.7 262.1 L464.5 261.5 L465.2 261.2 L466.3 260.8 L467.4 260.4 L468.9 260.1 L470.3 260.3 L471.2 260.4 L472.5 261.1 L473.4 261.4 L474.4 262.3 L475.3 263.7 L475.5 264.7 L476.7 265.6 L477.2 267 L477.8 268 L477.8 269.2 L477.7 270 L477.2 271.4 L477.1 272.4 L477.4 273.4Z"/>
<path id="L162" d="M473.9 274 L473.6 275 L473.1 275.5 L472.9 276.4 L472.7 276.8 L472.1 277.1 L471.6 277.5 L471.5 278.1 L471.1 278.6 L470.7 279 L469.7 279.3 L469.2 279.7 L468.3 280.1 L467.9 280.3 L467.2 280.3 L466.7 280.3 L465.9 280.1 L465.1 279.9 L464.5 279.5 L463.8 278.9 L463.5 277.9 L463.2 277.3 L462.3 276.7 L462.3 276.1 L462 275.5 L461.8 275 L461.8 274.6 L461.7 273.9 L461.5 273.3 L461.5 272.3 L461.9 271.6 L462.1 270.9 L462.5 269.9 L463 269.2 L463.1 268.7 L463.3 268.1 L464.1 267.4 L464.7 266.6 L465.2 265.9 L465.8 265.5 L466.2 265.3 L466.9 265.1 L467.6 264.8 L468.6 264.6 L469.4 264.8 L470 264.8 L470.9 265.2 L471.5 265.5 L472.1 266 L472.7 266.9 L472.8 267.6 L473.6 268.2 L473.9 269.1 L474.3 269.7 L474.3 270.4 L474.2 271 L473.9 271.9 L473.8 272.5 L474 273.1Z"/>
<path id="L163" d="M545.9 218.7 L545.2 220.7 L544.6 222.5 L545.3 223.7 L546.2 225.9 L545.3 227.6 L545 229.2 L543.2 231.2 L542.7 232.9 L541.4 234.5 L540.3 235.3 L538.8 236.8 L537.4 237.6 L534.6 238.1 L532.9 240.6 L532.1 243.4 L530.4 244.8 L528.9 246.3 L527.6 246.5 L526.2 248.1 L524.2 248.9 L522.4 250.4 L519.7 251.1 L517.6 252.8 L516.3 254.6 L514.5 256.1 L513.1 257.2 L510.5 256.3 L508.7 256.6 L506.2 256.6 L504.5 256.9 L502.5 257 L500.5 258.1 L499 258.2 L496.5 258.9 L493.5 258.9 L491.1 258.6 L489 258.2 L487.7 257.5 L485.4 257.8 L483.7 257.7 L481.9 256.7 L480.2 255.2 L478.1 253.3 L478.2 251.7 L477.9 250.1 L477.9 248 L477.8 246.1 L479.4 245 L480.2 244 L481 242.3 L481.8 239.4 L482.6 237.5 L484.8 235.8 L486.3 233.8 L487.9 232 L489.2 230.3 L490.7 229.1 L491.9 228.6 L493.2 227 L494 225.9 L497 225.2 L499.6 224.1 L501.7 222.7 L502.7 222 L504.3 220.9 L506.2 220.3 L507.2 219.8 L509.3 218.3 L511.5 217.3 L512.6 216.6 L515.5 215.5 L517.8 215.4 L520 215.8 L521.8 215.2 L523.2 214.3 L524.9 214.3 L527.4 213.7 L529 213.7 L530.5 213.1 L530.5 214.9 L531.5 216.4 L533.5 217.5 L535.9 216.5 L537.4 216.4 L538.9 215.2 L540.3 214.3 L541.7 215.2 L543.5 215.8 L544.5 216.8Z"/>
<path id="L164" d="M538.6 222.4 L538.1 223.9 L537.6 225.3 L538.2 226.2 L538.9 227.9 L538.2 229.3 L538 230.5 L536.6 232.1 L536.2 233.4 L535.2 234.7 L534.3 235.3 L533.1 236.4 L532.1 237.1 L529.9 237.5 L528.5 239.4 L527.9 241.6 L526.6 242.7 L525.4 243.9 L524.4 244 L523.3 245.2 L521.7 245.9 L520.3 247.1 L518.3 247.6 L516.6 248.9 L515.6 250.3 L514.2 251.5 L513.1 252.3 L511 251.7 L509.6 251.9 L507.7 251.9 L506.4 252.2 L504.8 252.2 L503.3 253.1 L502.1 253.2 L500.1 253.7 L497.8 253.7 L495.9 253.5 L494.3 253.2 L493.3 252.6 L491.5 252.9 L490.1 252.8 L488.7 251.9 L487.4 250.8 L485.8 249.3 L485.8 248 L485.6 246.9 L485.6 245.2 L485.5 243.7 L486.8 242.8 L487.4 242.1 L488.1 240.8 L488.7 238.5 L489.3 237 L491 235.7 L492.2 234.1 L493.4 232.7 L494.4 231.4 L495.6 230.5 L496.6 230.1 L497.6 228.8 L498.2 228 L500.6 227.4 L502.6 226.5 L504.2 225.5 L505 224.9 L506.2 224 L507.7 223.6 L508.5 223.2 L510.1 222 L511.9 221.3 L512.7 220.7 L515 219.8 L516.8 219.8 L518.4 220.1 L519.8 219.6 L521 218.9 L522.3 218.9 L524.3 218.5 L525.5 218.4 L526.6 218 L526.6 219.4 L527.4 220.6 L529 221.4 L530.8 220.6 L532 220.5 L533.2 219.6 L534.3 218.9 L535.4 219.6 L536.8 220.1 L537.5 220.9Z"/>
<path id="L165" d="M531.4 226 L531 227.1 L530.7 228.1 L531.1 228.8 L531.6 230 L531.1 231 L530.9 231.8 L530 233 L529.6 233.9 L528.9 234.8 L528.3 235.3 L527.5 236.1 L526.7 236.5 L525.1 236.9 L524.2 238.2 L523.7 239.8 L522.7 240.6 L521.9 241.4 L521.2 241.6 L520.4 242.4 L519.3 242.9 L518.3 243.7 L516.8 244.1 L515.6 245 L514.9 246.1 L513.9 246.9 L513.1 247.5 L511.6 247 L510.6 247.2 L509.2 247.2 L508.3 247.4 L507.2 247.4 L506 248.1 L505.2 248.1 L503.8 248.5 L502.1 248.5 L500.7 248.3 L499.6 248.1 L498.9 247.7 L497.6 247.9 L496.6 247.8 L495.6 247.2 L494.6 246.4 L493.5 245.3 L493.5 244.4 L493.4 243.6 L493.3 242.4 L493.3 241.3 L494.2 240.7 L494.6 240.2 L495.1 239.2 L495.5 237.6 L496 236.5 L497.2 235.6 L498.1 234.4 L498.9 233.4 L499.7 232.5 L500.5 231.8 L501.2 231.5 L501.9 230.6 L502.4 230 L504.1 229.6 L505.5 229 L506.7 228.2 L507.3 227.8 L508.1 227.2 L509.2 226.9 L509.8 226.6 L510.9 225.7 L512.2 225.2 L512.8 224.8 L514.4 224.2 L515.7 224.1 L516.9 224.4 L517.9 224 L518.7 223.5 L519.7 223.5 L521.1 223.2 L522 223.2 L522.8 222.8 L522.8 223.8 L523.4 224.7 L524.5 225.3 L525.8 224.7 L526.7 224.7 L527.5 224 L528.3 223.5 L529.1 224 L530.1 224.4 L530.6 224.9Z"/>
<path id="L166" d="M524.9 229.3 L524.6 230 L524.4 230.6 L524.7 231.1 L525 231.9 L524.7 232.5 L524.6 233.1 L523.9 233.8 L523.7 234.4 L523.3 235 L522.9 235.3 L522.3 235.8 L521.8 236.1 L520.8 236.3 L520.2 237.2 L519.9 238.2 L519.3 238.7 L518.7 239.2 L518.3 239.3 L517.8 239.9 L517.1 240.2 L516.4 240.7 L515.5 241 L514.7 241.5 L514.2 242.2 L513.6 242.7 L513.1 243.1 L512.1 242.8 L511.5 242.9 L510.6 242.9 L510 243.1 L509.3 243.1 L508.5 243.5 L508 243.5 L507.1 243.8 L506 243.8 L505.1 243.7 L504.4 243.5 L503.9 243.3 L503.1 243.4 L502.5 243.3 L501.8 243 L501.2 242.4 L500.5 241.7 L500.5 241.2 L500.4 240.6 L500.4 239.8 L500.4 239.2 L500.9 238.7 L501.2 238.4 L501.5 237.8 L501.8 236.8 L502.1 236.1 L502.9 235.5 L503.4 234.7 L504 234.1 L504.5 233.5 L505 233 L505.4 232.9 L505.9 232.3 L506.2 231.9 L507.3 231.6 L508.2 231.2 L509 230.7 L509.3 230.5 L509.9 230.1 L510.6 229.9 L511 229.7 L511.7 229.1 L512.5 228.8 L512.9 228.5 L514 228.1 L514.8 228.1 L515.5 228.2 L516.2 228 L516.7 227.7 L517.3 227.7 L518.2 227.5 L518.8 227.5 L519.3 227.3 L519.3 227.9 L519.7 228.5 L520.4 228.9 L521.3 228.5 L521.8 228.5 L522.4 228 L522.9 227.7 L523.4 228 L524 228.2 L524.4 228.6Z"/>
<path id="L167" d="M682.4 248.1 L681.9 250.7 L680.4 252.6 L679.6 253.6 L678.2 255.2 L678.1 256.5 L677.3 259.4 L676.1 261.1 L674.9 263.7 L673.3 264.5 L671.6 265.1 L669.6 267 L668.2 267.5 L666.7 268.6 L664.7 270.2 L662.1 270.9 L659.7 269.5 L657.5 269.2 L655.9 269.3 L654.1 269.1 L650.5 272.8 L647.7 274.6 L644.5 276.5 L642.4 276 L640 273.9 L638.3 272.9 L636.7 274.8 L633.3 274.6 L628.4 275.9 L626.2 278.8 L622.8 277.7 L620 275.6 L616.5 276.7 L614.7 278 L611.8 277.4 L609.6 274.2 L605.3 274.5 L602.6 274.2 L601.2 272.3 L598.4 269.8 L595.2 269 L589.8 267.8 L586.7 267.1 L584.7 267.1 L583.5 265.8 L581.1 264.6 L581.5 261.8 L580.8 259.5 L579.7 258.8 L579.2 256.6 L577.7 254.9 L577.5 253.2 L576.4 250.3 L574.3 248.7 L572.2 246.9 L570 246.2 L568.2 245 L567.2 243.4 L568.2 241.4 L567.4 237.8 L568.2 235.6 L568.8 234.2 L567.6 231.9 L568.2 229.5 L567.8 227.9 L568.1 226.3 L569.7 223.8 L569.8 221.8 L571.4 219.9 L573.9 218.9 L576.3 218.1 L578.2 216.4 L576.8 213.2 L578.1 209.5 L579.6 211 L582.2 212.9 L585.5 210.5 L587.9 209.1 L589.9 206.2 L591.4 204.7 L594.8 203.8 L598.4 204 L599.8 204.1 L601.9 203.2 L605.4 203.9 L607.6 204 L611.6 204.9 L614 207.6 L616.6 206.8 L619.9 205.9 L622 206 L624.1 205.3 L627.4 204.9 L630 204.4 L632.4 205.6 L636.2 206.6 L638.8 208.9 L641 210.5 L643.8 211.3 L645.9 211.6 L648.4 210.4 L651.6 210.2 L654 213.8 L656.5 215.4 L657.1 217.3 L659.7 219.5 L663.2 219.9 L665 221.6 L666.9 220.9 L669.2 220.5 L670.8 223.2 L671.9 226.1 L675.3 225.7 L678.4 227 L679.8 229.5 L679.3 232 L680 233.8 L680.9 236.1 L683.3 238.6 L683.4 240.6 L683.4 241.9 L682.7 243.4 L683.1 245.3Z"/>
<path id="L168" d="M669.7 246.4 L669.3 248.5 L668.1 249.9 L667.5 250.7 L666.4 251.9 L666.3 253 L665.7 255.2 L664.8 256.6 L663.8 258.6 L662.6 259.2 L661.2 259.7 L659.7 261.2 L658.6 261.5 L657.4 262.4 L655.9 263.6 L653.8 264.2 L652 263.1 L650.2 262.8 L649 263 L647.6 262.8 L644.8 265.7 L642.6 267.1 L640.1 268.6 L638.4 268.2 L636.6 266.5 L635.3 265.8 L634 267.2 L631.4 267.1 L627.6 268.1 L625.8 270.4 L623.2 269.5 L621 267.9 L618.3 268.8 L616.9 269.8 L614.6 269.3 L612.9 266.8 L609.5 267 L607.4 266.8 L606.3 265.3 L604.1 263.4 L601.7 262.7 L597.5 261.8 L595.1 261.2 L593.5 261.3 L592.5 260.2 L590.7 259.3 L591 257.1 L590.5 255.3 L589.6 254.8 L589.2 253.1 L588 251.8 L587.9 250.4 L587 248.1 L585.4 246.9 L583.7 245.5 L582 244.9 L580.6 244 L579.8 242.7 L580.6 241.2 L580 238.4 L580.6 236.6 L581.1 235.6 L580.1 233.8 L580.6 231.9 L580.3 230.6 L580.6 229.4 L581.8 227.4 L581.9 225.9 L583.1 224.4 L585 223.6 L586.9 223 L588.4 221.7 L587.3 219.2 L588.3 216.3 L589.5 217.5 L591.6 219 L594.1 217.1 L596 216 L597.5 213.8 L598.7 212.5 L601.3 211.8 L604.2 212 L605.2 212.1 L606.9 211.4 L609.6 211.9 L611.4 212 L614.4 212.7 L616.3 214.8 L618.3 214.2 L620.9 213.5 L622.6 213.6 L624.2 213 L626.8 212.7 L628.8 212.3 L630.7 213.3 L633.6 214.1 L635.7 215.8 L637.4 217.1 L639.6 217.7 L641.2 217.9 L643.2 217 L645.7 216.8 L647.5 219.7 L649.4 220.9 L649.9 222.4 L651.9 224.1 L654.7 224.4 L656.1 225.8 L657.6 225.2 L659.3 224.9 L660.6 227 L661.5 229.3 L664.2 229 L666.6 230 L667.7 231.9 L667.3 233.9 L667.8 235.3 L668.5 237.1 L670.4 239 L670.4 240.6 L670.5 241.6 L669.9 242.7 L670.2 244.3Z"/>
<path id="L169" d="M657 244.7 L656.6 246.2 L655.8 247.3 L655.4 247.8 L654.6 248.7 L654.5 249.4 L654.1 251 L653.4 252 L652.8 253.4 L651.8 253.9 L650.9 254.3 L649.8 255.3 L649 255.6 L648.1 256.2 L647 257.1 L645.6 257.5 L644.2 256.7 L643 256.5 L642.1 256.6 L641.1 256.5 L639.1 258.6 L637.5 259.6 L635.7 260.7 L634.5 260.4 L633.2 259.2 L632.2 258.6 L631.4 259.7 L629.4 259.6 L626.7 260.3 L625.5 261.9 L623.6 261.3 L622 260.2 L620 260.8 L619 261.5 L617.4 261.1 L616.2 259.3 L613.8 259.5 L612.2 259.3 L611.5 258.3 L609.9 256.9 L608.1 256.4 L605.1 255.8 L603.4 255.4 L602.3 255.4 L601.6 254.6 L600.2 254 L600.5 252.4 L600.1 251.1 L599.4 250.7 L599.2 249.5 L598.3 248.6 L598.2 247.6 L597.6 246 L596.4 245.1 L595.2 244.1 L594 243.7 L593 243 L592.4 242.1 L593 241 L592.6 239 L593 237.7 L593.3 237 L592.6 235.7 L593 234.3 L592.8 233.4 L593 232.5 L593.8 231.1 L593.9 230 L594.8 228.9 L596.2 228.4 L597.5 227.9 L598.6 227 L597.8 225.2 L598.5 223.1 L599.4 224 L600.9 225 L602.7 223.7 L604 222.9 L605.1 221.3 L606 220.4 L607.9 219.9 L609.9 220 L610.7 220.1 L611.9 219.6 L613.8 220 L615.1 220 L617.3 220.6 L618.7 222 L620.1 221.6 L621.9 221.1 L623.1 221.2 L624.3 220.8 L626.2 220.6 L627.6 220.2 L628.9 220.9 L631.1 221.5 L632.5 222.8 L633.8 223.7 L635.3 224.1 L636.5 224.3 L637.9 223.6 L639.7 223.5 L641.1 225.6 L642.4 226.4 L642.8 227.5 L644.2 228.7 L646.2 229 L647.2 229.9 L648.3 229.5 L649.5 229.3 L650.5 230.8 L651.1 232.4 L653 232.2 L654.7 232.9 L655.5 234.3 L655.2 235.7 L655.6 236.7 L656.1 238 L657.4 239.4 L657.5 240.5 L657.5 241.3 L657.1 242.1 L657.4 243.2Z"/>
<path id="L170" d="M645.4 243.2 L645.2 244.2 L644.7 244.8 L644.4 245.2 L643.9 245.8 L643.8 246.2 L643.6 247.3 L643.1 247.9 L642.7 248.8 L642.1 249.1 L641.5 249.3 L640.8 250 L640.3 250.2 L639.7 250.6 L639 251.2 L638.1 251.4 L637.2 250.9 L636.4 250.8 L635.8 250.9 L635.2 250.8 L633.9 252.1 L632.9 252.8 L631.7 253.4 L631 253.3 L630.1 252.5 L629.5 252.1 L628.9 252.8 L627.7 252.7 L625.9 253.2 L625.2 254.3 L623.9 253.9 L622.9 253.1 L621.6 253.5 L621 254 L620 253.8 L619.2 252.6 L617.6 252.7 L616.6 252.6 L616.1 251.9 L615.1 251 L614 250.7 L612.1 250.3 L610.9 250 L610.2 250.1 L609.8 249.6 L608.9 249.2 L609.1 248.1 L608.8 247.3 L608.4 247.1 L608.2 246.3 L607.7 245.7 L607.6 245 L607.2 244 L606.5 243.4 L605.7 242.8 L604.9 242.5 L604.3 242.1 L603.9 241.5 L604.2 240.8 L604 239.5 L604.3 238.7 L604.5 238.2 L604 237.4 L604.2 236.5 L604.1 235.9 L604.2 235.4 L604.8 234.5 L604.8 233.7 L605.4 233 L606.3 232.7 L607.2 232.4 L607.9 231.8 L607.4 230.6 L607.8 229.3 L608.4 229.9 L609.3 230.5 L610.5 229.7 L611.4 229.2 L612.1 228.1 L612.6 227.6 L613.8 227.3 L615.2 227.3 L615.6 227.4 L616.4 227 L617.7 227.3 L618.5 227.3 L619.9 227.7 L620.8 228.6 L621.7 228.3 L622.9 228 L623.6 228.1 L624.4 227.8 L625.6 227.7 L626.5 227.5 L627.4 227.9 L628.7 228.3 L629.7 229.1 L630.5 229.7 L631.5 230 L632.2 230.1 L633.2 229.6 L634.3 229.5 L635.2 230.9 L636 231.4 L636.3 232.1 L637.2 232.9 L638.5 233.1 L639.1 233.7 L639.8 233.4 L640.6 233.3 L641.2 234.3 L641.6 235.3 L642.8 235.2 L644 235.6 L644.5 236.5 L644.3 237.4 L644.5 238.1 L644.9 238.9 L645.7 239.8 L645.7 240.5 L645.7 241 L645.5 241.5 L645.6 242.2Z"/>
<path id="L172" d="M747 199 L747.2 200.7 L747.5 202 L747.4 203.8 L746.1 205 L746 206.5 L744.7 207.8 L743.3 210.3 L742.3 212.2 L740.2 213.3 L738.2 215.3 L736.6 216.4 L735.8 217.6 L734.8 218.8 L732.5 219.1 L730.6 220 L728.5 220.2 L726.4 219.8 L723.8 218.6 L722.9 219.3 L721.2 220.3 L718.5 220.8 L717 222 L714.8 221.8 L712.4 221.7 L710.1 220 L707.3 220.7 L705.5 220.2 L703.7 218.4 L702.6 217.1 L701.3 216.2 L699.3 215.1 L697.1 215.3 L695.8 215.3 L694.2 214.1 L694.1 211.8 L693.3 211 L691.7 209.7 L690.7 208.7 L689.3 207.8 L689 206.4 L688.5 203.8 L687.9 202.3 L687.4 200.9 L687 199 L687.4 196.2 L686.9 194.3 L688 191.5 L689.3 190.2 L690.6 189.3 L692.6 188.3 L695.1 187.5 L695 185.6 L694.4 184.2 L695.8 182.7 L697.7 181.9 L699.7 181 L701.8 179.7 L703.7 178.7 L705.5 177.8 L707.3 177.6 L709.6 176.7 L711.3 176.8 L712.7 175.9 L715.2 175.9 L717 176 L719.1 176.9 L720.2 177.6 L722.1 178.2 L723.5 178.6 L725 178.5 L726.7 178.1 L728.5 177.8 L730.5 179.7 L732.6 179.9 L735.2 181 L736.8 181.8 L738.2 182.7 L739.9 185.1 L740.9 186.2 L742 187.3 L743.9 188.6 L744.7 190.2 L746.2 192.1 L748.2 193.4 L747.6 195.7 L747.4 197.9Z"/>
<path id="L173" d="M740.4 199 L740.6 200.3 L740.8 201.3 L740.8 202.7 L739.7 203.6 L739.7 204.8 L738.7 205.8 L737.5 207.8 L736.7 209.2 L735.2 210.1 L733.6 211.7 L732.3 212.5 L731.7 213.5 L730.9 214.4 L729.1 214.7 L727.6 215.4 L726 215.5 L724.3 215.2 L722.3 214.3 L721.6 214.8 L720.3 215.6 L718.2 216 L717 216.9 L715.3 216.8 L713.5 216.7 L711.7 215.4 L709.5 215.9 L708.1 215.5 L706.7 214.1 L705.8 213.1 L704.8 212.4 L703.2 211.5 L701.6 211.7 L700.5 211.7 L699.3 210.7 L699.2 208.9 L698.6 208.3 L697.3 207.3 L696.5 206.5 L695.4 205.8 L695.2 204.7 L694.8 202.7 L694.3 201.6 L693.9 200.5 L693.6 199 L694 196.8 L693.6 195.3 L694.4 193.2 L695.4 192.1 L696.5 191.4 L698 190.6 L700 190 L699.9 188.5 L699.4 187.5 L700.5 186.3 L702 185.7 L703.6 184.9 L705.2 183.9 L706.7 183.1 L708.1 182.4 L709.4 182.3 L711.3 181.6 L712.6 181.6 L713.7 181 L715.6 180.9 L717 181 L718.7 181.7 L719.5 182.3 L721 182.8 L722.1 183.1 L723.3 183 L724.6 182.7 L726 182.4 L727.6 183.9 L729.2 184.1 L731.2 185 L732.5 185.6 L733.6 186.3 L734.9 188.1 L735.7 189 L736.5 189.9 L738 190.8 L738.7 192.1 L739.8 193.6 L741.4 194.6 L740.9 196.4 L740.7 198.1Z"/>
<path id="L174" d="M733.9 198.9 L734 199.9 L734.1 200.6 L734.1 201.6 L733.4 202.3 L733.4 203.1 L732.6 203.9 L731.8 205.3 L731.2 206.3 L730.1 207 L729 208 L728.1 208.7 L727.6 209.3 L727 210 L725.8 210.2 L724.7 210.7 L723.5 210.8 L722.3 210.6 L720.9 209.9 L720.4 210.3 L719.4 210.9 L717.9 211.2 L717.1 211.8 L715.8 211.7 L714.5 211.6 L713.2 210.7 L711.6 211.1 L710.7 210.8 L709.7 209.8 L709 209.1 L708.3 208.6 L707.2 208 L706 208.1 L705.2 208 L704.3 207.4 L704.2 206.1 L703.8 205.6 L702.9 204.9 L702.4 204.4 L701.6 203.9 L701.4 203.1 L701.1 201.6 L700.8 200.8 L700.5 200 L700.3 198.9 L700.5 197.4 L700.2 196.3 L700.8 194.8 L701.6 194 L702.3 193.5 L703.4 192.9 L704.8 192.5 L704.8 191.4 L704.4 190.7 L705.2 189.8 L706.3 189.4 L707.4 188.9 L708.6 188.1 L709.7 187.6 L710.7 187 L711.6 187 L712.9 186.4 L713.9 186.5 L714.7 186 L716.1 186 L717.1 186.1 L718.3 186.5 L718.9 186.9 L720 187.3 L720.7 187.5 L721.6 187.4 L722.5 187.2 L723.5 187 L724.7 188.1 L725.8 188.2 L727.3 188.9 L728.2 189.3 L729 189.8 L729.9 191.1 L730.5 191.8 L731.1 192.4 L732.1 193.1 L732.6 194 L733.4 195.1 L734.6 195.8 L734.3 197.1 L734.1 198.3Z"/>
<path id="L175" d="M727.9 198.9 L728 199.5 L728.1 200 L728.1 200.6 L727.6 201.1 L727.6 201.6 L727.1 202.1 L726.6 203 L726.2 203.7 L725.5 204.1 L724.8 204.8 L724.2 205.2 L723.9 205.6 L723.5 206 L722.7 206.2 L722 206.5 L721.3 206.6 L720.5 206.4 L719.6 206 L719.3 206.2 L718.6 206.6 L717.7 206.8 L717.1 207.2 L716.3 207.1 L715.5 207.1 L714.7 206.5 L713.6 206.7 L713 206.6 L712.4 205.9 L712 205.4 L711.5 205.1 L710.8 204.7 L710 204.8 L709.5 204.8 L708.9 204.3 L708.9 203.5 L708.6 203.2 L708 202.8 L707.7 202.4 L707.2 202.1 L707.1 201.6 L706.9 200.7 L706.7 200.1 L706.5 199.6 L706.3 198.9 L706.5 197.9 L706.3 197.2 L706.7 196.2 L707.2 195.7 L707.6 195.4 L708.4 195.1 L709.3 194.8 L709.2 194.1 L709 193.6 L709.5 193.1 L710.2 192.8 L710.9 192.4 L711.7 192 L712.4 191.6 L713 191.3 L713.6 191.2 L714.5 190.9 L715.1 190.9 L715.6 190.6 L716.5 190.6 L717.1 190.6 L717.9 190.9 L718.3 191.2 L719 191.4 L719.5 191.6 L720 191.5 L720.6 191.4 L721.3 191.3 L722 192 L722.7 192 L723.7 192.4 L724.3 192.7 L724.8 193.1 L725.4 193.9 L725.7 194.3 L726.1 194.7 L726.8 195.2 L727.1 195.7 L727.6 196.4 L728.4 196.9 L728.2 197.7 L728.1 198.5Z"/>
<path id="L176" d="M825.5 219.3 L823.2 220.3 L820.8 221.9 L821.7 223.3 L822.1 225.4 L821.3 227.3 L820.8 230.1 L818.7 231.9 L818.6 233.8 L818.3 235.1 L817.1 235.7 L815.9 237 L813.1 238.1 L811.4 238.3 L809.1 239.4 L807.2 240.7 L805.1 240.4 L803.3 240.8 L802 241.5 L800.2 241.5 L798.8 242.7 L797.9 241.7 L796.7 239.6 L794.6 239.2 L791.5 239.4 L789.8 240.1 L787.1 241.2 L784.8 242.5 L782.5 241.4 L780.4 241.1 L778.6 240.6 L776.9 239.6 L775 239 L773.7 238.3 L771.6 237.9 L770.1 237 L769 236.5 L766 236.8 L764.6 234.7 L763.7 232.9 L762.4 230.5 L761.2 229.5 L759.4 228 L758.1 227.4 L756.8 226.5 L754.5 225.4 L754.5 223.8 L754.3 221.3 L755.3 218.5 L754.2 215.9 L751.8 214.2 L753.3 212 L753 209.2 L754.5 206.7 L756.6 206.1 L758.4 205.9 L759.8 203.4 L759.2 201.5 L759.6 200.3 L759.2 198 L759.2 195.9 L760.1 194.9 L761 192.8 L761.4 190.8 L761.2 188.9 L763.7 188.4 L766 188.2 L768.6 187.7 L770.2 186.4 L771.9 185.6 L773.4 185 L775.1 184.6 L777.6 184 L779.7 183.6 L781.2 183.3 L782.7 183.3 L785.3 183.4 L787.5 183.8 L789.7 182.5 L791.5 182.8 L793.6 183.2 L795.2 183.5 L797.6 184.5 L799.6 185.4 L801.5 186.4 L802.9 187.2 L804.4 187.4 L806.3 187.2 L808.4 188.1 L809.8 190 L810.8 191.7 L811.7 193.3 L812.2 194.6 L813.7 194.4 L815 195.8 L816.5 195.6 L818.8 196.5 L819.4 198.1 L819.9 200.4 L821.4 202.3 L823.3 203.1 L825 204.3 L825.2 205.6 L824.7 207.5 L825.3 208.8 L826.5 210.6 L826.5 213.3 L828.2 214.8 L827.8 217.2 L826.9 218.3Z"/>
<path id="L177" d="M817.8 217.8 L816 218.7 L814.1 219.9 L814.8 221 L815.2 222.6 L814.5 224.1 L814.1 226.3 L812.5 227.7 L812.4 229.2 L812.2 230.2 L811.3 230.7 L810.3 231.7 L808.1 232.5 L806.8 232.7 L805 233.6 L803.5 234.6 L801.8 234.3 L800.5 234.7 L799.5 235.2 L798.1 235.2 L796.9 236.1 L796.2 235.3 L795.3 233.7 L793.7 233.4 L791.3 233.5 L789.9 234.1 L787.9 234.9 L786 236 L784.3 235.1 L782.6 234.9 L781.2 234.5 L779.9 233.7 L778.4 233.3 L777.4 232.7 L775.8 232.4 L774.6 231.7 L773.7 231.3 L771.4 231.5 L770.3 229.9 L769.6 228.5 L768.6 226.6 L767.7 225.8 L766.2 224.7 L765.2 224.2 L764.2 223.5 L762.4 222.7 L762.4 221.4 L762.3 219.4 L763 217.3 L762.2 215.2 L760.3 213.9 L761.4 212.2 L761.2 210 L762.4 208.1 L764.1 207.6 L765.4 207.4 L766.5 205.5 L766 204 L766.4 203 L766.1 201.2 L766.1 199.6 L766.8 198.9 L767.5 197.2 L767.8 195.6 L767.6 194.2 L769.6 193.8 L771.4 193.7 L773.4 193.2 L774.7 192.2 L776 191.6 L777.1 191.1 L778.5 190.8 L780.4 190.4 L782.1 190 L783.3 189.8 L784.4 189.8 L786.4 189.9 L788.1 190.2 L789.9 189.2 L791.3 189.4 L792.9 189.7 L794.2 189.9 L796 190.7 L797.6 191.4 L799.1 192.3 L800.1 192.8 L801.4 193 L802.8 192.9 L804.4 193.5 L805.5 195 L806.3 196.3 L807.1 197.6 L807.4 198.6 L808.6 198.5 L809.6 199.5 L810.7 199.4 L812.5 200.1 L813 201.4 L813.4 203.1 L814.6 204.6 L816.1 205.2 L817.4 206.2 L817.5 207.2 L817.2 208.7 L817.6 209.7 L818.6 211.1 L818.6 213.2 L819.9 214.3 L819.6 216.3 L818.9 217.1Z"/>
<path id="L178" d="M810.1 216.4 L808.8 217 L807.4 217.9 L808 218.7 L808.2 219.9 L807.7 220.9 L807.4 222.5 L806.3 223.5 L806.2 224.6 L806 225.3 L805.4 225.6 L804.7 226.4 L803.1 227 L802.2 227.1 L800.9 227.7 L799.8 228.4 L798.6 228.3 L797.7 228.5 L796.9 228.9 L795.9 228.9 L795.1 229.6 L794.6 229 L793.9 227.8 L792.8 227.6 L791 227.7 L790.1 228.1 L788.6 228.7 L787.3 229.5 L786 228.8 L784.8 228.7 L783.8 228.4 L782.9 227.8 L781.8 227.5 L781.1 227.1 L779.9 226.9 L779 226.4 L778.4 226.1 L776.8 226.2 L776 225.1 L775.5 224.1 L774.7 222.7 L774.1 222.2 L773.1 221.3 L772.3 221 L771.6 220.5 L770.3 219.9 L770.3 219 L770.2 217.6 L770.7 216 L770.1 214.5 L768.8 213.6 L769.6 212.4 L769.5 210.8 L770.3 209.4 L771.5 209.1 L772.5 208.9 L773.3 207.6 L772.9 206.5 L773.2 205.8 L773 204.5 L773 203.4 L773.5 202.8 L773.9 201.6 L774.2 200.5 L774.1 199.4 L775.5 199.2 L776.8 199.1 L778.2 198.8 L779.1 198 L780.1 197.6 L780.9 197.3 L781.8 197 L783.3 196.7 L784.4 196.5 L785.3 196.3 L786.1 196.3 L787.6 196.4 L788.8 196.6 L790.1 195.9 L791 196 L792.2 196.3 L793.1 196.4 L794.4 197 L795.6 197.5 L796.7 198.1 L797.4 198.5 L798.3 198.6 L799.3 198.5 L800.5 199 L801.3 200 L801.8 201 L802.4 201.9 L802.6 202.7 L803.5 202.5 L804.2 203.3 L805 203.2 L806.3 203.7 L806.6 204.6 L807 205.9 L807.8 206.9 L808.8 207.4 L809.8 208.1 L809.9 208.8 L809.7 209.8 L810 210.6 L810.6 211.6 L810.7 213.1 L811.6 213.9 L811.4 215.3 L810.8 215.9Z"/>
<path id="L179" d="M803.1 215.2 L802.3 215.5 L801.4 216.1 L801.7 216.6 L801.9 217.4 L801.6 218 L801.4 219.1 L800.6 219.7 L800.6 220.4 L800.5 220.9 L800.1 221.1 L799.6 221.5 L798.6 221.9 L798 222 L797.2 222.4 L796.5 222.9 L795.7 222.8 L795.1 222.9 L794.6 223.2 L794 223.2 L793.4 223.6 L793.1 223.2 L792.7 222.5 L791.9 222.3 L790.8 222.4 L790.2 222.6 L789.3 223 L788.4 223.5 L787.6 223.1 L786.8 223 L786.2 222.9 L785.6 222.5 L784.9 222.3 L784.4 222 L783.7 221.9 L783.1 221.5 L782.7 221.4 L781.7 221.5 L781.2 220.7 L780.8 220.1 L780.4 219.2 L779.9 218.8 L779.3 218.3 L778.8 218.1 L778.3 217.8 L777.5 217.4 L777.5 216.8 L777.5 215.9 L777.8 214.9 L777.4 213.9 L776.5 213.3 L777.1 212.5 L777 211.5 L777.5 210.7 L778.3 210.4 L778.9 210.3 L779.4 209.4 L779.2 208.7 L779.3 208.3 L779.2 207.5 L779.2 206.8 L779.5 206.4 L779.8 205.6 L780 204.9 L779.9 204.2 L780.8 204.1 L781.7 204 L782.6 203.8 L783.2 203.3 L783.8 203 L784.3 202.8 L784.9 202.7 L785.8 202.5 L786.6 202.3 L787.1 202.2 L787.7 202.2 L788.6 202.2 L789.4 202.4 L790.2 201.9 L790.8 202 L791.6 202.2 L792.2 202.3 L793 202.6 L793.8 203 L794.4 203.3 L794.9 203.6 L795.5 203.7 L796.2 203.6 L796.9 203.9 L797.4 204.6 L797.8 205.2 L798.1 205.8 L798.3 206.3 L798.8 206.2 L799.3 206.7 L799.8 206.7 L800.6 207 L800.9 207.5 L801.1 208.4 L801.6 209 L802.3 209.3 L802.9 209.8 L802.9 210.3 L802.8 210.9 L803 211.4 L803.4 212 L803.4 213 L804 213.5 L803.9 214.4 L803.6 214.8Z"/>
<path id="L181" d="M789.6 296.4 L789.2 297.5 L788.5 298.8 L787.1 299.6 L785.5 300 L784 300.4 L781.8 301.5 L779.7 301.5 L778.4 301.5 L776.5 301.4 L774.6 301.8 L772.8 301.8 L771.9 301.6 L770.2 301.5 L768.3 300.6 L766.5 300.4 L764.9 300.4 L762.6 299.6 L760.9 298.3 L758.8 297.6 L757.3 296.3 L755.9 295.6 L754.3 294.5 L752.7 293.7 L752.1 292.3 L752.2 290.9 L750.9 290.5 L749 289.4 L748.2 287.2 L748.4 285.4 L749.4 284.1 L750.3 283.7 L751 282.2 L752.3 281.9 L753.7 282 L754.7 281.5 L756.3 280.3 L758.1 278.9 L760.1 279 L761.5 279.4 L763.5 280 L765.1 280.1 L766.1 280.1 L768.4 279.6 L769.7 280 L771.6 281.4 L773.3 280.8 L775.3 281 L777.1 282.5 L778.3 283.6 L779.3 284.2 L780.3 285.1 L781.4 286.3 L783 286.7 L784.1 287.2 L785.4 288.1 L786.6 288.7 L787.8 289.2 L788.4 290.5 L789 292.3 L788.8 294.8Z"/>
<path id="L182" d="M785.2 295.1 L784.8 295.9 L784.3 297 L783.2 297.6 L781.9 297.9 L780.8 298.2 L779 299.1 L777.4 299 L776.4 299 L774.9 299 L773.4 299.3 L772 299.3 L771.3 299.2 L770 299.1 L768.5 298.3 L767.1 298.2 L765.9 298.2 L764.1 297.6 L762.8 296.6 L761.1 296 L759.9 295 L758.8 294.4 L757.6 293.6 L756.3 293 L755.9 291.8 L756 290.8 L755 290.4 L753.5 289.6 L752.8 287.9 L753 286.5 L753.7 285.5 L754.5 285.2 L755 284 L756 283.8 L757.1 283.9 L757.9 283.5 L759.1 282.5 L760.5 281.4 L762.1 281.5 L763.2 281.8 L764.8 282.3 L766 282.4 L766.8 282.3 L768.6 282 L769.6 282.3 L771.1 283.4 L772.4 282.9 L774 283 L775.4 284.2 L776.3 285.1 L777.1 285.6 L777.8 286.3 L778.8 287.2 L780 287.5 L780.9 287.9 L781.9 288.6 L782.8 289 L783.7 289.4 L784.2 290.5 L784.7 291.9 L784.5 293.8Z"/>
<path id="L184" d="M724.6 280 L724.1 281.9 L722.6 283.5 L720.5 284.5 L718.9 284.6 L718 284.9 L717.1 284.9 L715.5 284.5 L713.4 283.5 L711.9 281.9 L711.4 280 L711.9 278.1 L713.4 276.5 L715.5 275.5 L717 275.3 L718 275.1 L719.4 275.3 L720.5 275.5 L722.6 276.5 L724.1 278.1Z"/>
<path id="L185" d="M723.1 280 L722.7 281.5 L721.6 282.7 L720 283.6 L718.7 283.6 L718 283.8 L717.3 283.9 L716 283.6 L714.4 282.7 L713.3 281.5 L712.9 280 L713.3 278.5 L714.4 277.3 L716 276.5 L717.2 276.4 L718 276.2 L719.1 276.3 L720 276.5 L721.6 277.3 L722.7 278.5Z"/>
<path id="L186" d="M721.9 280 L721.6 281.1 L720.7 282 L719.5 282.7 L718.6 282.7 L718 282.9 L717.5 282.9 L716.5 282.7 L715.3 282 L714.5 281.1 L714.2 280 L714.5 278.9 L715.3 278 L716.5 277.3 L717.4 277.3 L718 277.1 L718.8 277.3 L719.5 277.3 L720.7 278 L721.6 278.9Z"/>
<path id="Ym" d="M358 418.8 L360.3 417.5 L362.2 414.9 L362.4 412.4 L363.6 410.2 L363.6 408.5 L363.6 405.2 L362.1 402.7 L363.7 400.9 L366.5 399.8 L367.7 398.8 L368.9 397.5 L368.7 395 L368.2 392.5 L368.1 388.9 L370.1 386.6 L370.2 384.7 L371.3 381.6 L370.2 380.5 L368.4 379.5 L370 377.4 L370.7 375.2 L372.1 374.5 L370.5 372.7 L369.9 370.6 L370.4 368.6 L369.8 366.1 L369.1 364.4 L372.4 361.8 L373.4 359 L374.7 357.7 L376.2 356.3 L377 354.5 L378.1 352.3 L380.2 350.4 L379.5 345.8 L384.9 343.4 L386 341.4 L388.2 339.9 L388.7 337.6 L391.4 334.2 L393.1 330.9 L396.3 328.2 L398.3 328.7 L399.7 330.7 L401.2 332.2 L403.3 333.3 L401.5 335 L400.8 336.5 L402.7 339.5 L402.3 341.8 L401.6 343.5 L400.6 344.5 L401.8 346.4 L401.3 348.3 L402.3 350 L403.2 351.4 L405.1 351.8 L406.5 352.8 L409.1 353.2 L410.4 354.4 L411.8 355.4 L412.6 356.6 L415.6 356.5 L417.1 354.9 L416.6 351.7 L417 349.3 L416.9 347.9 L416.4 346.3 L417.7 343.6 L421.1 341.7 L421.3 339.2 L422 336.9 L420.7 335.8 L420.7 333.3 L420.8 331.8 L420.4 330.2 L419.6 328.6 L419.8 325.4 L418.4 324.4 L418.1 322.6 L417.5 320 L417 316.9 L415.7 315.5 L414.4 314.1 L413.8 312.1 L413.5 310.9 L413.5 308.2 L409.8 307 L407.2 305.5 L408 301.2 L410.4 298 L411.9 295.4 L412.7 293.6 L413.5 292.1 L413.8 289.9 L415.4 286.1 L413.9 282.3 L413.7 280.1 L412.4 277.9 L412.3 275.7 L411.4 274.7 L411.5 272.7 L413.1 271.1 L414.5 269.8 L416.4 267.9 L418.2 267.9 L419.6 269.6 L420.8 269.3 L422.6 269.4 L424.4 269.9 L424.2 272.8 L425.2 275.3 L425.2 277.4 L423.8 278.7 L425.2 280 L427.5 282 L426.5 285.1 L427.2 287.4 L425.9 289.2 L425 292.1 L426.1 296.4 L425.9 298.9 L427.5 302.8 L428.5 310.1 L429.4 314 L427.8 316.2 L428.1 318.1 L427.8 320.1 L428.5 322.3 L428.4 324 L429.4 326.3 L430.5 328.2 L431.9 328.5 L433.8 329.5 L433.5 331.5 L434.1 332.7 L433.5 334.9 L433 336.6 L433 338.5 L432.5 340.3 L433.5 341 L434.8 342.5 L434.6 344.5 L435.5 346.7 L439 347.4 L441.4 346.3 L443.2 345.2 L444.6 344.3 L445.7 345.5 L447.8 345.6 L449.3 346 L451 345.9 L451.9 347 L453.9 348.2 L456.4 348.4 L458.6 348.3 L460.6 346.1 L461.6 344.5 L463.3 343.5 L464.5 342.7 L466.9 341.4 L468.7 340.3 L470.7 339.1 L472.9 338.3 L474.2 337.6 L474.6 340.5 L476.2 342 L478.8 342.3 L481 342.1 L482.5 342.2 L484.1 341.1 L485.4 338.3 L487.3 337.7 L488.9 336.2 L489 333.6 L490.8 330.2 L490.9 328.6 L490.9 326.3 L491.5 323.2 L491.4 320.4 L492.2 319.1 L494 318.1 L495.9 315.9 L497.9 314.1 L499.5 311.5 L501.1 310.4 L500.6 308.5 L500 307.2 L497 306.3 L495.1 305.7 L494.8 303.8 L494.9 302.1 L497.5 301.7 L498.5 299.8 L498.5 298.5 L500.2 299.1 L502.9 300.1 L503.1 302.8 L501.7 304.4 L501.9 306 L503.5 307.8 L504.3 308.9 L505.6 310.7 L506.9 312.1 L506.4 313.9 L505.9 315.4 L504.9 316.9 L504.6 319.7 L504.7 321.7 L505.2 323.7 L503.7 325 L502.9 328.2 L505.5 327.6 L507.4 327 L509.9 328.6 L511.7 328.9 L514.1 329 L515 326.2 L516.4 325.3 L518.8 324.2 L521.9 325.8 L524.6 326.8 L527.1 325.4 L529 324.2 L531.1 322.2 L533 321.1 L534.8 320.9 L534.7 319 L536.2 317.4 L537.5 316.1 L539.1 316.2 L540.8 315.2 L543.1 316.2 L545.9 316.5 L547.7 314.6 L549.2 316.1 L551.6 316.9 L553.6 315.6 L555.2 314.4 L557.2 314.1 L558.6 314.5 L560.6 315.9 L562.6 315.5 L565.5 315.9 L566.3 318.9 L567.5 320.4 L569.9 320.8 L571.3 322.2 L569 322.7 L567.5 323.7 L566.1 324.2 L564.2 324.7 L560.2 325.9 L558 324.6 L553.3 325.7 L551.2 328.2 L549 330.2 L546.6 330.6 L545.7 332 L547.2 334.4 L547.2 336.3 L549.6 338.7 L551.5 340 L554.6 338.8 L557.8 337.4 L559.2 335.6 L562.6 335.8 L564.9 337.2 L567.3 336.3 L569.9 337 L572.6 338.6 L575.4 337.8 L577.6 337.1 L579.7 337.8 L581.7 338.4 L583.9 339 L587.4 340.3 L589 341 L592 342 L595.9 342.5 L600.2 343.9 L602.9 343.6 L604.7 343.8 L607.5 344.3 L612.6 345.8 L615.5 348.3 L618 350.5 L622 352 L624.8 351.6 L627.1 353.5 L629.2 354.8 L631.7 356.4 L629.9 356.8 L628.5 358.3 L628.6 361 L626.6 360.2 L624.6 359.9 L623.6 361 L621.6 360.4 L619.6 361.1 L618.4 361.1 L617 363.8 L615.2 365.2 L614.8 362.9 L613.7 360.9 L612 359.7 L611.5 358.4 L613.5 360 L617 361.6 L618.4 362.4 L619.7 363.8 L621.1 365.1 L622.3 366.9 L625.1 368.7 L627.6 370.5 L629.7 373.4 L632.8 373.9 L633.7 376.4 L635.6 379.2 L636.6 380.8 L637.5 383 L639.7 384.6 L639.8 387.5 L638.7 390 L638.7 392 L640.6 393.5 L641.5 396.9 L644.2 400.5 L645.7 402.7 L645.6 405 L644.6 408.8 L643.5 411 L643.5 412.4 L644.1 415 L642.9 416.3 L643.7 418.8 L646.8 423.1 L648.8 425.2 L646.4 428.6 L646 431.2 L645.4 434.2 L643.3 435.1 L641.1 436.7 L639.7 438.9 L638.5 441.4 L638.5 442.9 L636 445.6 L634.5 447.8 L634.9 449.8 L633.8 451.9 L631.9 453.9 L631.7 457 L633 457.9 L634.1 459.1 L633.2 461.1 L633.6 464.1 L632 465.1 L629.5 466.5 L629.9 469.3 L629.6 471.1 L629.6 472.9 L628.2 475 L627.9 476.5 L625.8 478.2 L626.3 479.5 L628 481.1 L629.6 481.6 L631.7 483.1 L631.5 484.7 L631.2 486.8 L630.4 488.4 L628.2 490.2 L628.8 492.4 L627.9 496.2 L627.3 498.2 L627.6 501.2 L629.5 501.8 L630.4 502.8 L632.2 503.9 L633.6 504 L634.3 505.8 L635 507.2 L635.6 509.3 L635.7 511.3 L637.6 512.9 L638.5 515.4 L640.3 515.8 L641.4 518.2 L643 519.6 L644.6 520.3 L645.7 521.4 L644.5 524.1 L645.4 526.4 L646.8 529.5 L647 531.8 L646.3 533.5 L646.3 536 L643.7 538 L641.7 539.5 L639.3 538.5 L637 538.8 L634.7 539.3 L632.8 540.1 L630.5 539.7 L629.4 538.1 L627.6 537.5 L626.1 535 L625.2 534.1 L624.9 532.1 L623.5 531.3 L621.3 530.9 L619.3 529.8 L617.6 527.4 L617.4 529.2 L617.2 532.2 L615.4 533.3 L613.1 534.6 L612 536.9 L612.2 538.3 L611.3 540.3 L609.5 541.5 L608.1 544.1 L605.6 545.6 L604.1 547.9 L602.1 549.6 L600.4 550.8 L599.3 552.9 L601.8 554.8 L601.5 557.6 L601.8 561.7 L601.4 565.7 L598.7 568.3 L597.4 571.4 L596.5 573.9 L593 574.1 L591.4 576.4 L589.4 577.7 L585.5 578.2 L583.2 581 L581.5 582.1 L579.5 583.4 L576.3 585.6 L573.8 584.8 L571.9 586 L571.3 587.8 L569.4 585.2 L567.1 585.1 L564.9 586.9 L561.5 587.1 L561 590.6 L557.7 592.9 L553.7 595.4 L551.2 597.8 L549 600.9 L545.5 602.8 L543.2 602 L539.5 600.9 L537.8 602 L534.4 602.8 L533 602.9 L531.1 603.8 L528.7 604.4 L526.6 604.8 L526 603.4 L524.2 602.9 L522.7 601.4 L520.7 600.5 L517.4 601.3 L515 601.8 L513.3 602.8 L512 603.3 L510 604.3 L507.7 604.2 L505.8 607 L504.6 608.4 L504.1 610.6 L502.9 611.9 L502.8 609.4 L500.9 607.7 L499.7 607 L497.9 606.7 L495.3 606.6 L493.4 604.8 L490.8 603.8 L488 604.2 L486 602.1 L483.1 601.7 L480.3 603 L478.8 603.8 L476.8 605.5 L475 605.6 L474.5 608.2 L473.9 609.4 L473.9 611.5 L475.7 613.5 L474.7 615.9 L474.6 618.4 L472.5 619.6 L469.7 620.1 L467.1 621.9 L465.3 621.7 L463.7 621.9 L462.7 624 L461 624.4 L459.7 624.1 L457.7 624 L455.6 622.5 L454.6 619.9 L455.2 618.6 L456.4 616.6 L458.9 616.1 L459.3 614.2 L459.7 612.4 L458.6 609.9 L461 608.7 L463.7 607.8 L465.6 607.5 L466.7 606.8 L469.3 605.7 L470.7 603.8 L471.2 601.9 L473.6 600 L473.4 598.7 L474 597.1 L473.2 595.2 L471.6 593.8 L469.9 592.4 L468.7 591.8 L467.9 590.5 L466.9 588.2 L465.3 586.9 L465.2 584.1 L463.6 581.9 L461.1 581.2 L456.6 581.7 L454.6 579.7 L453 577.8 L450.1 576.6 L447.8 577.2 L446.1 575.8 L445.1 572.7 L443.5 568.4 L441.1 565 L438.5 561.6 L436.2 560.2 L434.4 559.8 L431.9 557.6 L430 552.7 L427 551.1 L426.6 547.5 L426.4 545.5 L425.4 544 L424.3 542.3 L425.3 539.3 L424.6 537.1 L423.1 535.2 L420.7 533.2 L417.8 530.3 L416.4 527.4 L415.4 524.2 L415.1 519.4 L412.6 516.4 L409.9 514 L406 513.5 L404.3 510.1 L401.6 509.3 L400.3 507.3 L399.9 505 L398.6 502.4 L396.7 501.4 L394.9 501.3 L394.7 498.6 L394.7 495.3 L392.9 492.9 L390.2 491.2 L387.3 488.9 L384.4 484.4 L383.1 481 L381.1 479.6 L380.9 478.1 L380.9 475.6 L379.9 473.7 L380.2 471.1 L378.2 469.3 L377.2 467.8 L376.6 464.3 L377.7 462.3 L377.5 459.8 L377.9 456.8 L376.4 453.8 L372.1 450.9 L371.3 448.6 L368.9 445.3 L366.6 444.2 L364.1 443.8 L361.2 441.6 L359.2 439.5 L359.7 437.1 L362.1 434.9 L360 432.4 L358.4 431.2 L357.7 428.3 L359.1 426.2 L359.1 423.4 L358.8 421.3Z"/>
<path id="LGm" d="M364.1 418.8 L365.4 418.8 L367.1 418.1 L368 416.1 L370.1 414 L370 411.3 L370.2 409.8 L369.2 406.2 L368.1 402.7 L368.6 400.9 L368.9 399.6 L369.1 397.8 L369.9 396 L369.8 393.4 L370.8 391.4 L373.3 388.8 L376.2 386.6 L376.7 385.4 L377 383.3 L378.6 382.5 L380 380.4 L380.8 378.6 L380.9 377 L380.2 374.5 L380.4 372.6 L380.5 371.1 L380.4 368.6 L382.8 367.3 L384.7 367.1 L385.4 366.1 L386.2 364.4 L387.5 362.6 L389.2 360.7 L390.4 359.9 L392.8 359.3 L394.9 358.8 L396.8 358.1 L398.6 358.6 L400.3 358.4 L402.3 358.5 L404.9 358.5 L406.3 359.8 L407.8 361.5 L410.4 362.4 L412.6 361.3 L413.4 359.6 L415.4 358.5 L417.9 357.9 L420.4 358.4 L421.4 355.9 L421.6 353.6 L423 349 L425.1 346.9 L425.7 345.7 L426.5 343.5 L426.6 341.8 L426.4 340.3 L426.3 337.5 L426.9 335.5 L427.2 332.3 L427.8 330.3 L427.6 328.6 L428.2 325.8 L425.9 323.2 L424.4 320.2 L423.7 317.3 L422.3 314.6 L421.9 312.6 L422.2 310.8 L422.2 308.5 L420.6 306 L420.4 302.1 L420.1 299.7 L420.6 296.7 L420.5 293.8 L420.4 292.2 L419.1 288.8 L415.9 286.1 L418 284.6 L419.4 282 L420.8 280.2 L422.4 277.9 L423.9 279.6 L425.3 281.4 L426.7 283.5 L425.8 286.2 L425.3 287.7 L424.8 290 L423.8 295.2 L422.2 298.1 L422.4 302.9 L422.8 305.8 L426.2 310.1 L426.6 313.4 L426.2 316.4 L426.4 320.2 L427.2 321.9 L428.8 324.1 L428.3 327.4 L428.2 330.1 L429.8 332.3 L430.5 334.1 L430 337.5 L430.5 342.3 L431.8 343.9 L433.2 345 L435 345.8 L437.9 346.5 L439.5 348 L441.7 349.2 L442.5 350.4 L445.1 350.3 L447.2 348.7 L450.4 346.4 L453.2 345.5 L455 347.5 L454.9 349.6 L456.3 352.9 L458.6 354.4 L460.7 353.4 L462.1 351.8 L463.3 351.5 L464.8 350.1 L466.1 349 L468.3 349.3 L470.7 348.3 L473.2 349.1 L474.5 349.7 L475.9 350.5 L477.6 351.1 L478.7 349.9 L481.1 349.7 L482.8 348.3 L486.3 347.1 L488.2 346.2 L488.7 344.1 L489.1 341.5 L490.4 340.9 L491.9 340 L494.9 340.3 L497.7 340.2 L500.6 340.1 L502.3 338.7 L503.6 337.4 L505.4 336.5 L508.7 336 L510.9 336.3 L512.9 335.7 L515.1 335.2 L517.3 333.6 L520.9 331.5 L522 332.6 L523.9 333.1 L525.1 333.7 L527 334.3 L529.1 333.4 L532.2 332.5 L533.6 332.7 L535.5 333 L537.2 332.4 L538.9 330.8 L541.1 330.2 L542.8 331.7 L544.3 332.9 L545.3 334.9 L547 336.9 L547.5 339.8 L549.2 340.3 L551.2 342.3 L553 342.7 L555.7 341.9 L559.1 341.7 L561.4 340.9 L562.8 341.6 L564.6 343.2 L567.8 342.5 L571.3 344.3 L574.8 345.6 L577.2 346.8 L580.1 350.1 L581 352.4 L582.6 352.6 L584.2 353.2 L586 354.2 L587.4 356.4 L590.7 356.7 L592.9 356.8 L595.2 355.6 L597.7 355.5 L600.5 357.9 L601.6 359.6 L604 362 L607.5 362.4 L610.4 365.1 L613.4 368.3 L615 369.2 L617.4 371.1 L618.4 373.3 L618.9 374.5 L621.2 376.3 L623.6 376.5 L623.9 379.9 L625.3 381.4 L627 383.8 L628.5 385 L630.1 386 L633.3 387.4 L634 388.9 L635.7 390.6 L635.9 392.6 L636.9 395.5 L639 398.5 L640.1 400.3 L640 402.7 L640.5 404.8 L640.7 406.7 L639.8 408.3 L640.4 410.8 L640.7 413.4 L641 416.2 L642.1 418.8 L641.1 420.9 L639.7 422.8 L640.7 424 L642.1 426.2 L640.3 429.7 L639.7 432.3 L637.5 435.3 L638.1 438.9 L637 440.7 L634.7 442.9 L635.3 446.1 L633.9 449 L632 450.4 L629.4 453.1 L628.5 454.6 L627.7 456.9 L625.6 459 L624.6 460.2 L623.7 461.9 L623.3 464.3 L623.2 466.4 L621.1 469.7 L620.9 472.8 L619.6 474.5 L617.6 475.1 L616.2 477.2 L614.7 481 L613.4 483.3 L612.4 484.8 L611.6 486.1 L610.6 487.4 L611.2 489 L611.5 491.2 L613.1 491.9 L614.4 493.3 L615.6 495.8 L616.8 497.5 L617.6 498.8 L618.7 500 L619.5 501.3 L619.6 503.3 L620.5 505 L622 507.2 L624.1 508.3 L624.1 510.3 L623.8 511.8 L622.7 514.4 L623.6 515.8 L623.6 517.3 L621.3 518.3 L619.2 518.3 L617.3 518.5 L615.3 520.4 L613.3 519.6 L611.5 519.3 L609.2 521.4 L606.8 522 L608 524.7 L607.9 527.7 L605.4 529.9 L604.8 532.3 L603.9 534.1 L603.5 535.4 L602.2 538.7 L600 543.3 L599.5 545 L598.5 547.8 L598.7 549.2 L598.3 551.2 L598.2 554.1 L597.5 555.6 L595.3 557.5 L595.2 560.5 L593.4 563.3 L590.7 566.7 L589.5 568.8 L588.8 570.5 L586.8 571.3 L585.4 573.7 L583 575.5 L581.3 578.4 L578.6 579.5 L575.4 579.9 L572.3 580.8 L569.8 581.3 L569 582.5 L567.3 583.7 L562.7 584.9 L559.9 585.4 L558.2 587 L555.3 588.5 L552.9 589.7 L550 590.4 L548.2 591.9 L547.2 593.8 L544.2 594.1 L542 595 L540.7 596 L536.9 596 L533.9 595.8 L531.5 596.6 L529.1 597.8 L527.4 598.3 L525.3 598.1 L523.6 598 L521.3 597 L519 595 L516.6 593 L513.6 593.2 L510.9 593.8 L509.2 593 L506.9 592.9 L503.2 591.5 L500.6 591.3 L499.5 590.2 L497.5 589.6 L495.7 588.7 L494.9 587.8 L491.4 587.2 L489 585.7 L486.8 585.2 L485.3 584.6 L483.9 584.5 L482 584.7 L480.5 584.5 L478.8 585.7 L478 583.9 L477 581.6 L474.6 580 L472.9 578.6 L470.3 576.8 L466.7 575.4 L463.9 573.5 L462.7 571.7 L460.5 571 L456.5 570.3 L455.5 568 L454.7 564.1 L451.8 561.7 L449.5 559.3 L446.9 558.5 L444.6 557.6 L442.9 553.2 L441.6 550.7 L440.1 547.4 L439.8 544.9 L437.2 543.7 L436 542.5 L432.6 540.3 L430.5 539.5 L428.7 537.1 L427.3 536.1 L427.9 533.6 L428 532 L425.4 528.8 L421.8 527.6 L421.1 525.9 L420.4 523.4 L418.5 521.1 L417.4 517.1 L416.1 515 L412.9 513.1 L411.8 510.1 L410.4 507.7 L407.6 506.5 L406.3 505.3 L406.6 502.9 L406.2 500.2 L405.8 498.9 L405.9 497.1 L404 496.4 L401.2 495.5 L397.9 494.1 L395.3 489.2 L392.3 484.7 L391 481.8 L391.3 478.9 L391.8 476.6 L389.6 474.6 L387.5 472.1 L386.2 470.7 L385.2 469.1 L383.2 465.4 L381.3 461.9 L381.7 458.9 L381.8 456.5 L380.5 453.7 L380.6 451.2 L378.9 450.1 L377.2 448.9 L377 447.7 L376.7 445.8 L375.4 443.9 L373.7 442.4 L372.7 440.2 L371.4 438.6 L369.4 436.8 L368.1 432.8 L366.6 431.1 L366.5 428.9 L367.3 427.6 L367.4 425.9 L367.4 424.4 L366.7 422.1 L365.2 420.6Z"/>
<path id="TGm" d="M387.2 418.8 L387.6 417.1 L388.4 415.9 L387.8 413.7 L387.9 411.3 L389.3 409.3 L390.2 407.6 L388.6 405.4 L388.2 402.7 L389.9 401.6 L391.8 399.5 L393.2 397.2 L393 395.9 L393.9 394 L393.5 392.4 L393.3 390.6 L394.5 388.6 L395.9 388.1 L397.5 387.7 L399 386.6 L401.9 385.5 L404.3 382.4 L407.1 380.9 L410.4 380.5 L413.2 378.5 L414.5 375.8 L418 375.3 L419.8 374 L421.9 373.8 L423.5 373.3 L424.6 371.4 L426.4 370.5 L428.4 371.9 L432.7 372.8 L434.1 374.2 L436.9 375.6 L438.3 376.4 L440.5 377.5 L442.5 378.5 L443.7 378.8 L445.6 379.4 L446.7 379.4 L448.7 379 L450.3 378.1 L451.5 377.7 L453.4 377.5 L454.6 376.5 L457.8 375.7 L459.5 374.1 L462.4 373.4 L464 372.1 L465.6 371.2 L468.6 370.2 L469.8 368.1 L470.7 366.4 L472.9 365 L473.9 363.6 L476.4 362.2 L478.4 361.5 L482 360.2 L484.2 359.2 L486.8 360.4 L487.1 358.3 L489.1 356.4 L490.7 354.7 L493.6 353.1 L495.4 352.2 L496.7 351.6 L499.8 351.8 L502.9 350.4 L503.6 348.8 L504.9 347.3 L507.6 347.2 L510.5 346.2 L512.5 346.5 L513.6 346.1 L515.1 347.4 L517 348.3 L518.6 346.8 L519.9 345.5 L522.3 346.1 L523.9 346.8 L526.2 346.1 L529.1 346.3 L527.9 348.2 L526.4 349.8 L524.4 352.1 L522 353.2 L521 354.3 L519.6 356.3 L517 357.7 L515 358.4 L513.2 360.8 L512.5 363.8 L513 367.7 L512.7 370.7 L512.2 372.3 L511.7 374.8 L511.1 376.7 L510.9 378.5 L514.1 378 L516.6 377.9 L519.3 378.2 L520.9 378 L523.7 377.2 L526.9 376.8 L529.4 377.2 L531.1 376.5 L533.1 376.5 L535.9 377.1 L538.2 376.4 L542.4 375.7 L544.5 375.6 L547.3 376.6 L549.1 376.6 L551.2 376.5 L553.2 376.1 L556.4 376.3 L561.7 374.9 L563.8 372.5 L566.4 372.9 L568.5 374.5 L570.2 375.8 L571.3 376.5 L573.8 376.9 L576.3 376.7 L578.9 375 L581.3 374.7 L583.7 376.2 L585.7 376.9 L589.5 377.5 L591.4 378.5 L594.5 379.2 L598.3 381.1 L601.2 383.1 L603.5 384.4 L605.6 384.6 L606.8 385.4 L608.7 384 L611.5 384.6 L612.6 385.3 L614.4 386.3 L615.8 388.9 L617.4 390.6 L619.7 393.1 L624 394.6 L626.9 396.5 L627.6 398.6 L629.4 400.7 L630.6 402.4 L631 403.5 L632.3 405 L632.6 408 L635.1 411 L635.9 413 L637.7 414.7 L637.8 416.6 L636.3 419.5 L636.8 421.3 L636.7 423.7 L637.4 424.8 L637.6 426.6 L638.5 428.9 L639.7 430.8 L639.5 432.5 L639.9 434.1 L639.4 435.7 L638.4 438 L637.9 439.6 L636.9 442 L635.5 444.9 L635.7 446.9 L635.3 448.8 L635.3 449.9 L634.5 451.2 L633.6 452.7 L632.1 454.1 L630.3 456.1 L627.6 457 L625.8 458.4 L623.9 458.6 L622.3 460.6 L619.2 462.3 L615.7 463.5 L613 462.8 L611.7 464.8 L611.5 467 L612.1 470 L612.4 474.7 L613.1 477.1 L613 478.9 L612.4 482.7 L612 485.7 L609.6 486.7 L607.5 487.2 L606.2 490.1 L604.9 492.5 L604 496.9 L604.5 500.6 L602.8 501.6 L601.8 504.3 L600.6 505.5 L599.5 507.3 L598.5 511.1 L597.6 513.9 L594.6 516.2 L591.5 517 L591.9 519.1 L591.8 521.3 L591.8 523.6 L591.4 527.4 L592.1 529.1 L592.8 530.2 L595.2 531.9 L597 533.2 L597.2 536.3 L595.8 539.6 L594.4 542 L593.4 543.5 L592.4 544.4 L591.4 546.6 L588.9 549.4 L586.6 550.9 L586.4 552.9 L586 555.2 L587.4 557.6 L587.5 560.5 L587.1 563.3 L585.7 564.9 L585.2 566.4 L584 566.8 L582 566.5 L579.5 567.2 L577.3 569.6 L574.4 572.1 L572.5 574.2 L569.8 575.1 L567.9 575.9 L566 576.7 L564 577.7 L562.3 578.7 L561.2 579.7 L558.5 580.1 L556.2 581.1 L555.1 582.9 L552.2 584.1 L550.1 586 L547.8 587.4 L545.4 586.4 L543.1 585.7 L540.7 584.5 L538.9 583.7 L536.8 583.7 L533.4 584.7 L531.4 584.2 L530.2 584.2 L528.7 584.6 L527 583.7 L523.9 581.1 L522.6 577.8 L519 578.1 L516.9 577.9 L515 577.5 L513.8 577.1 L512.3 576.6 L510.9 575.7 L508.8 574.4 L506.6 570.7 L504.2 569.6 L502.8 568.2 L499 567.2 L495.6 565.4 L493.3 565.9 L490.8 565.6 L490.5 563.7 L489.2 560.4 L487.7 559.2 L485.7 558.6 L482.4 557 L479.8 554.7 L476.3 553.1 L474.7 551.5 L472 548.5 L469.7 546.8 L468 545.1 L466.6 543.5 L466.4 542.2 L465.5 540.5 L464.5 539.3 L462.7 537.5 L461.5 535.8 L462 533.4 L461.1 531.2 L460.9 529.6 L456.6 527.5 L454 525.9 L452 523.7 L450.6 521.4 L449.4 519.9 L448 519.3 L445.3 518.7 L442.4 517.2 L440.4 515.3 L438.2 513.8 L436.5 513.3 L434.2 511.6 L431.6 511.3 L429.9 509.1 L429.5 507.5 L428.6 505 L426.2 505 L422.4 503.3 L421.8 501.6 L420.4 499.3 L419.8 497.1 L419 495 L417.1 495 L415 494.6 L412.3 494.3 L410.4 493.2 L407.2 491.2 L405.1 489.4 L402.8 488.2 L399.8 488.1 L398.5 485.4 L398.7 483 L398.3 481.1 L397.9 478.6 L395.6 476.7 L394.1 473.6 L393.7 470.6 L393.9 468.1 L392.9 464.8 L391.6 462.4 L390.2 461 L390.5 459.5 L390.9 457.2 L390 455.5 L389.5 452.9 L389.3 450.2 L388.8 446.2 L387.5 443.7 L386.2 438.9 L386.8 436.8 L387.3 433.2 L387.6 431.4 L387.4 428.2 L388 426.2 L387.5 422.6 L387 420.5Z"/>
<path id="TLl" d="M404.3 438.9 L406.2 437.7 L407.5 436.2 L407 433.2 L407.2 429.5 L408.3 426.5 L409.9 423.4 L410 420.5 L410.4 418.8 L411.6 418.1 L412.9 417 L414.5 416.3 L415.8 414.6 L418.5 411.4 L420 409.4 L421.4 407.8 L422.4 406.7 L425.2 406.2 L426.7 405.5 L428 403.9 L431 403.2 L432.3 401.6 L433.2 399.8 L434.5 398.6 L435 400.7 L436 402.5 L436.3 403.7 L437.2 404.7 L438.5 406.7 L440.3 406 L442.9 404.6 L445.4 402.9 L447.8 403.7 L449.6 402.9 L451.2 402.6 L454.2 400.7 L456.6 400.7 L458.3 400.3 L460.2 400.4 L461 398.5 L460.3 396.8 L462.3 396.7 L464.5 395.5 L466.7 394.6 L468 397 L467.9 399.8 L468.9 402.3 L470 404 L470.7 406.7 L474.3 405.9 L476.3 406 L479.7 404.3 L481.2 402.4 L483 400.8 L484.6 400.2 L486.8 398.6 L489.1 399.7 L492.4 400.4 L494.2 398.9 L496.9 396.7 L498.4 396.1 L499.8 395.6 L501.1 394.1 L502.9 392.6 L505.1 390.9 L506.6 388.9 L508 388.3 L509.3 388.4 L511.5 389.1 L515 389.2 L517 389.6 L519.2 392.4 L522.3 392.7 L526.6 391.5 L532 390.3 L534.7 392 L538.9 393.4 L541.6 393.1 L543.1 392.6 L542.5 394 L542.8 396.3 L542.5 398.1 L541.1 400.1 L541.8 401.3 L542.2 403.3 L544.1 404.7 L546.2 405.4 L548.2 405.7 L546.9 408.2 L547.7 410.2 L546.7 412.1 L545.9 413.1 L545.1 415.6 L544.6 417.2 L543.1 418.8 L542.7 420.4 L541.3 422.8 L540.2 425.4 L538.9 425.9 L536.6 426.6 L536.1 428.2 L535.1 430.8 L535.1 433.6 L533.6 435.4 L532.2 438.1 L531.7 439.7 L531.5 441.5 L531.1 442.9 L531.8 444.8 L533.2 445.5 L533.6 447.4 L533.2 448.7 L535.8 448.1 L537.8 447.9 L539.1 448.9 L540.6 447.9 L542 447.8 L543.8 448.4 L545.6 449.2 L547.1 450.3 L549.2 450.9 L551.5 451.9 L552.9 452.9 L555 454.2 L557.6 453.3 L559.2 453 L558.4 455.2 L557.5 456.9 L556.6 458.6 L554.9 458.8 L553.2 461 L551.5 462 L550.6 462.9 L548.7 463.8 L546.3 465.1 L543.9 466 L542.2 465.9 L540.9 465.2 L539.1 465 L538.6 466.1 L537.2 467.7 L535.3 468.5 L533.5 469.7 L532.6 470.7 L531.1 472.1 L531.3 473.6 L533.3 474.7 L534.9 476.7 L537.6 479.3 L538.7 480.7 L540.7 481.8 L543.1 483.1 L545.5 483.3 L547.3 484.7 L548.7 485 L550.1 486.4 L554.8 488 L558 488.8 L561.4 489.2 L563.3 488.2 L565.5 488.6 L566.8 488.9 L569.5 490.3 L570.7 492.1 L574.3 492.3 L577.2 491 L579.8 491.5 L581.4 491.2 L583.9 492.3 L585.2 493.8 L586.9 493.7 L589.4 495.2 L588.1 496.4 L587.1 497.3 L586.1 498.8 L583.4 499.2 L584.5 505.5 L583 510.9 L583.3 513.9 L580.6 518.1 L580.6 527.1 L579.8 532.8 L579 539.9 L577.3 545.5 L576.6 547.4 L575.5 548.8 L575.1 551.5 L572.8 553.2 L571.3 555.6 L569.7 553.3 L566.5 552.5 L564 553 L562.7 554 L560 554.5 L558.4 553.6 L554.5 554.2 L551.2 553.6 L549.5 554.8 L547.5 555 L544.6 554.7 L543.4 554 L541.2 553.5 L538.9 552.4 L537.1 551.5 L535.9 549.4 L535.8 547.1 L535 544.7 L533.2 542.6 L531.4 542.1 L529.1 541.5 L528.1 539.4 L527.3 537.9 L525.1 536.5 L523.3 533.5 L521.9 531.9 L518.7 530.4 L517 529.4 L514.7 531.1 L512.9 532 L510.8 531.3 L509.5 530.8 L507.3 530.3 L505.5 529.9 L501.7 530.9 L498.9 531.4 L497.7 531 L495.7 530.1 L493.6 530 L491.3 529.5 L487.3 529 L484.9 528.8 L483.1 528.2 L480.8 527.4 L479.7 528.8 L477.8 529.4 L475.4 528.9 L472.9 528.3 L469.9 525.8 L468.4 524.4 L466.8 523.9 L464.7 523.4 L466.9 522.4 L468.8 523 L470.9 522.7 L473 522.1 L475.4 520.6 L479.5 520.7 L484.7 520 L486.8 517.3 L486.7 515.7 L486.3 513.7 L487.6 512.6 L488.6 511.7 L487.7 510.3 L486.9 508.6 L486.8 507.3 L483.7 507.4 L479.7 506.6 L476.4 504.7 L472.7 504.5 L469.8 504.6 L466.3 505.7 L464 507.9 L462.7 509.3 L460.7 509.7 L458.1 511.6 L453.6 512.1 L451.4 513.6 L449.8 512.9 L447.3 512.2 L444.6 511.3 L441.8 514 L440.4 515.8 L438.8 516.5 L437 516.6 L436.5 517.8 L434.8 518.7 L434.5 521.4 L432.2 520.1 L430.5 519.3 L431.3 517.1 L432 515.9 L433.6 514.8 L435.1 512.5 L437 512.3 L439.9 511.8 L441.3 513.3 L442.5 513.3 L439.9 512.4 L437.8 511.4 L438 507.5 L437 505.4 L435.7 504.1 L433.1 503.7 L430.5 503.3 L429.6 500.9 L428.3 499.4 L427.7 497.4 L425.3 495.7 L424 494.6 L421.9 493.2 L421.7 490.4 L420.4 487.2 L418.8 485.6 L417.8 484.8 L415.5 482.9 L412.9 483 L411.5 482.6 L409.2 481.5 L406.3 479.1 L405.6 472.2 L404.2 468.3 L404.5 463.8 L401.7 461.2 L402.9 455.7 L403.1 452.3 L403.8 444.7Z"/>
<path id="TLr" d="M559.2 453 L561.1 450.7 L562.1 447.6 L561.1 445.7 L559.8 443 L560.5 441.2 L562.1 439.8 L562.4 438.3 L563.3 436.9 L565.8 434.9 L567.2 429.6 L566.5 427.1 L565.3 424.8 L566.7 423.4 L567.6 422.3 L568.5 420 L569.3 418.8 L570.3 417.7 L572.1 416.4 L574.5 414.9 L575.4 413.8 L577.3 412.7 L579.2 411.8 L581.3 411.6 L583 411.2 L584.7 410.1 L585.5 411.9 L587 413.3 L589.6 414.9 L591.4 414.7 L593.5 415.3 L595.8 416 L598.7 416.1 L601.3 417.5 L604.1 417 L605.6 416.5 L607.5 415.7 L608.4 416.8 L609.3 418.2 L609.6 420.3 L609.8 421.3 L609.8 424.5 L611 427.4 L611.3 428.9 L611.5 430.8 L611.8 433.1 L611.5 435.5 L611.7 437.2 L610.9 439.2 L609.9 441.4 L609.5 442.9 L611.9 444.3 L613.2 445.9 L613 447.8 L613.5 449.3 L615.5 450.9 L616.7 452.7 L617.6 455 L615.8 455 L614.6 454.4 L611.6 455.2 L609.5 455.6 L607 455.4 L605 455.9 L602.1 457.9 L599.5 459 L597.1 460.4 L596.2 462.7 L596.1 464.4 L596.9 466.5 L595.2 468.3 L595.4 471.1 L595.2 473 L595.1 474.6 L594.4 476.8 L593 478.1 L593.3 480.3 L592.1 481.9 L591.4 483.1 L591.6 485.9 L591.6 488 L590.3 490.5 L590.1 493.2 L589.4 495.2 L587.8 494 L585.7 492.7 L585.4 491.2 L586.7 487.4 L586.6 484.6 L585.8 481.1 L586.1 478.8 L587.3 476.3 L587.3 474 L587.4 471.1 L586.1 469.7 L584.3 469.6 L583.2 468.3 L582.4 467 L581.4 465.5 L579.3 465 L576.6 464.4 L573.9 463 L572.1 462.7 L570.2 462.6 L567.3 463 L564.7 461.9 L564 459.9 L562.4 458.5 L560.6 458.1 L559.4 457.5 L558.8 455.7Z"/>
<path id="Ym5" d="M350.7 416.9 L353.1 415.6 L355.1 412.9 L355.3 410.3 L356.6 408 L356.6 406.1 L356.6 402.7 L354.9 400 L356.6 398.2 L359.6 397.1 L360.9 396 L362.1 394.6 L361.9 392 L361.3 389.4 L361.3 385.6 L363.4 383.1 L363.5 381.2 L364.6 377.9 L363.4 376.8 L361.6 375.7 L363.2 373.5 L364 371.2 L365.5 370.5 L363.8 368.6 L363.1 366.4 L363.7 364.3 L363 361.6 L362.3 359.9 L365.8 357.1 L366.8 354.2 L368.1 352.8 L369.7 351.4 L370.5 349.5 L371.7 347.2 L373.9 345.1 L373.3 340.4 L378.9 337.8 L380.1 335.8 L382.3 334.2 L382.9 331.7 L385.7 328.1 L387.5 324.7 L390.8 321.9 L393 322.4 L394.4 324.4 L396.1 326 L398.2 327.2 L396.4 329 L395.6 330.6 L397.6 333.8 L397.2 336.2 L396.4 338 L395.4 339 L396.6 341 L396.1 343 L397.2 344.7 L398.1 346.2 L400.1 346.7 L401.5 347.7 L404.3 348.1 L405.6 349.3 L407.1 350.4 L408 351.7 L411.2 351.5 L412.7 349.9 L412.2 346.5 L412.6 344 L412.5 342.6 L412 340.9 L413.3 338 L416.9 336 L417.1 333.4 L417.9 331 L416.4 329.9 L416.5 327.3 L416.6 325.6 L416.2 324 L415.3 322.2 L415.5 318.9 L414.1 317.9 L413.8 316 L413.2 313.2 L412.6 310 L411.2 308.6 L409.8 307.1 L409.2 305 L408.9 303.7 L408.9 300.9 L405.1 299.6 L402.3 298 L403.1 293.5 L405.6 290.2 L407.3 287.4 L408.1 285.5 L408.9 284 L409.3 281.7 L411 277.6 L409.3 273.7 L409.1 271.4 L407.7 269.1 L407.6 266.7 L406.7 265.6 L406.8 263.6 L408.5 261.9 L410 260.6 L412 258.5 L413.9 258.6 L415.3 260.3 L416.6 260 L418.4 260.1 L420.4 260.6 L420.2 263.7 L421.2 266.3 L421.2 268.5 L419.8 269.8 L421.2 271.3 L423.6 273.3 L422.5 276.6 L423.3 279 L422 280.9 L421 283.9 L422.2 288.4 L421.9 291.1 L423.6 295.1 L424.6 302.9 L425.6 307 L423.9 309.3 L424.3 311.2 L424 313.4 L424.6 315.7 L424.6 317.4 L425.7 319.9 L426.7 321.9 L428.2 322.1 L430.2 323.2 L430 325.3 L430.5 326.5 L430 328.9 L429.4 330.7 L429.4 332.7 L428.9 334.6 L429.9 335.3 L431.3 336.9 L431.1 339 L432 341.3 L435.7 342 L438.2 340.9 L440.1 339.7 L441.5 338.8 L442.8 340 L444.9 340.1 L446.5 340.6 L448.3 340.4 L449.2 341.6 L451.3 342.9 L454 343 L456.3 343 L458.4 340.7 L459.4 339 L461.2 337.9 L462.5 337.1 L465 335.7 L466.9 334.6 L469 333.3 L471.3 332.5 L472.7 331.7 L473.1 334.8 L474.7 336.3 L477.4 336.7 L479.8 336.4 L481.4 336.5 L483.1 335.4 L484.4 332.5 L486.4 331.9 L488.1 330.2 L488.2 327.5 L490.1 324 L490.2 322.3 L490.2 319.9 L490.9 316.6 L490.7 313.7 L491.6 312.4 L493.4 311.3 L495.5 309 L497.5 307.1 L499.2 304.3 L500.9 303.2 L500.3 301.1 L499.7 299.8 L496.6 298.8 L494.6 298.2 L494.3 296.2 L494.3 294.4 L497.2 294 L498.1 292 L498.1 290.7 L499.9 291.3 L502.8 292.3 L503 295.2 L501.6 296.8 L501.8 298.5 L503.4 300.4 L504.2 301.6 L505.6 303.4 L507 305 L506.4 306.9 L505.9 308.4 L504.9 310 L504.6 312.9 L504.7 315 L505.2 317.2 L503.6 318.5 L502.8 321.9 L505.6 321.2 L507.5 320.6 L510.2 322.3 L512 322.6 L514.5 322.7 L515.5 319.8 L516.9 318.8 L519.5 317.7 L522.7 319.3 L525.5 320.4 L528.2 318.9 L530.2 317.6 L532.4 315.5 L534.4 314.5 L536.3 314.2 L536.2 312.2 L537.8 310.5 L539.1 309.2 L540.8 309.3 L542.6 308.2 L545 309.2 L548 309.6 L549.8 307.6 L551.4 309.1 L554 310 L556 308.7 L557.8 307.4 L559.8 307.1 L561.3 307.4 L563.4 308.9 L565.5 308.6 L568.5 308.9 L569.3 312.1 L570.6 313.7 L573.2 314.1 L574.6 315.5 L572.2 316.1 L570.6 317.1 L569.2 317.7 L567.1 318.2 L562.9 319.4 L560.6 318.1 L555.7 319.2 L553.5 321.9 L551.2 324 L548.7 324.4 L547.8 325.8 L549.3 328.4 L549.3 330.3 L551.8 332.9 L553.8 334.2 L557.1 333 L560.4 331.5 L561.9 329.6 L565.5 329.8 L567.9 331.3 L570.4 330.3 L573.2 331.1 L576 332.8 L579 332 L581.2 331.2 L583.4 332 L585.6 332.6 L587.9 333.2 L591.5 334.6 L593.2 335.3 L596.4 336.3 L600.5 336.8 L604.9 338.3 L607.8 338 L609.7 338.3 L612.6 338.8 L618 340.4 L621 343 L623.7 345.3 L627.9 346.9 L630.8 346.4 L633.3 348.4 L635.4 349.8 L638 351.5 L636.2 351.8 L634.6 353.5 L634.8 356.3 L632.6 355.4 L630.5 355.1 L629.5 356.3 L627.4 355.7 L625.3 356.4 L624.1 356.4 L622.6 359.2 L620.7 360.7 L620.3 358.3 L619.2 356.2 L617.3 354.9 L616.9 353.6 L619 355.2 L622.6 357 L624.1 357.8 L625.5 359.3 L626.9 360.6 L628.2 362.5 L631.1 364.4 L633.8 366.2 L635.9 369.4 L639.1 369.8 L640.1 372.5 L642.2 375.4 L643.2 377.1 L644.1 379.4 L646.4 381 L646.6 384.2 L645.4 386.7 L645.4 388.8 L647.4 390.4 L648.3 394 L651.1 397.8 L652.8 400 L652.6 402.5 L651.6 406.5 L650.5 408.8 L650.4 410.3 L651.1 413 L649.8 414.3 L650.7 416.9 L653.9 421.5 L656 423.7 L653.5 427.3 L653.1 430 L652.5 433.2 L650.2 434.1 L647.9 435.8 L646.4 438.1 L645.2 440.7 L645.2 442.3 L642.6 445.1 L641 447.4 L641.4 449.5 L640.2 451.7 L638.3 453.9 L638 457.1 L639.4 458 L640.6 459.3 L639.6 461.4 L640 464.6 L638.4 465.7 L635.7 467.1 L636.1 470 L635.9 471.9 L635.9 473.8 L634.4 476 L634 477.6 L631.9 479.3 L632.4 480.7 L634.2 482.4 L635.8 482.9 L638 484.5 L637.9 486.2 L637.5 488.4 L636.7 490 L634.4 491.9 L635 494.3 L634.1 498.3 L633.4 500.4 L633.8 503.6 L635.8 504.1 L636.7 505.2 L638.6 506.3 L640.1 506.4 L640.8 508.4 L641.5 509.8 L642.1 512.1 L642.2 514.1 L644.2 515.8 L645.2 518.4 L647.1 518.8 L648.3 521.4 L649.9 522.9 L651.5 523.6 L652.8 524.7 L651.5 527.6 L652.4 529.9 L653.9 533.2 L654.1 535.6 L653.4 537.4 L653.3 540.1 L650.6 542.2 L648.6 543.7 L646 542.6 L643.6 543 L641.2 543.6 L639.2 544.4 L636.8 544 L635.6 542.2 L633.8 541.6 L632.2 539 L631.3 538.1 L630.9 535.9 L629.4 535.1 L627.1 534.7 L625 533.5 L623.2 531 L623.1 532.9 L622.8 536 L620.9 537.2 L618.5 538.6 L617.3 540.9 L617.6 542.5 L616.6 544.6 L614.8 545.8 L613.2 548.6 L610.6 550.1 L609 552.5 L607 554.4 L605.2 555.6 L604 557.8 L606.6 559.8 L606.3 562.7 L606.6 567 L606.3 571.3 L603.4 574 L602 577.2 L601 579.8 L597.4 580 L595.7 582.5 L593.6 583.8 L589.6 584.3 L587.1 587.3 L585.3 588.5 L583.2 589.8 L579.9 592.1 L577.2 591.3 L575.3 592.6 L574.6 594.4 L572.6 591.7 L570.2 591.6 L567.9 593.5 L564.4 593.7 L563.8 597.4 L560.3 599.8 L556.1 602.4 L553.5 605 L551.2 608.2 L547.5 610.2 L545.1 609.3 L541.2 608.2 L539.5 609.3 L535.9 610.2 L534.4 610.3 L532.4 611.3 L529.9 611.9 L527.7 612.3 L527.1 610.9 L525.2 610.3 L523.6 608.7 L521.5 607.8 L518.1 608.6 L515.5 609.2 L513.7 610.2 L512.4 610.7 L510.2 611.7 L507.8 611.7 L505.9 614.6 L504.6 616.1 L504.1 618.4 L502.8 619.7 L502.7 617.1 L500.7 615.3 L499.4 614.6 L497.5 614.2 L494.8 614.1 L492.8 612.3 L490.1 611.3 L487.1 611.6 L485 609.5 L482 609.1 L479.1 610.4 L477.4 611.3 L475.4 613.1 L473.5 613.2 L472.9 615.9 L472.3 617.1 L472.4 619.4 L474.2 621.5 L473.2 624 L473.1 626.6 L470.9 627.9 L468 628.3 L465.2 630.2 L463.3 630 L461.7 630.3 L460.5 632.4 L458.8 632.9 L457.4 632.6 L455.3 632.5 L453.2 630.9 L452.1 628.2 L452.7 626.7 L454 624.7 L456.5 624.1 L457 622.2 L457.5 620.3 L456.3 617.6 L458.8 616.4 L461.7 615.4 L463.6 615.1 L464.8 614.4 L467.5 613.2 L469 611.3 L469.5 609.3 L472 607.3 L471.8 605.9 L472.4 604.2 L471.6 602.2 L469.9 600.8 L468.2 599.3 L466.9 598.6 L466 597.3 L465 594.9 L463.4 593.5 L463.2 590.6 L461.6 588.3 L458.9 587.5 L454.2 588 L452.1 585.9 L450.4 583.9 L447.3 582.7 L444.9 583.3 L443.1 581.8 L442.1 578.5 L440.4 574 L437.9 570.5 L435.2 566.9 L432.7 565.4 L430.8 565 L428.2 562.8 L426.2 557.5 L423.1 555.9 L422.7 552.1 L422.5 550 L421.4 548.5 L420.3 546.7 L421.3 543.6 L420.6 541.2 L419 539.2 L416.5 537.1 L413.5 534 L412 531 L410.9 527.7 L410.6 522.6 L408 519.5 L405.2 517 L401.1 516.4 L399.2 512.8 L396.5 512 L395.1 509.9 L394.7 507.5 L393.3 504.7 L391.2 503.7 L389.4 503.7 L389.2 500.7 L389.2 497.3 L387.2 494.8 L384.5 493 L381.4 490.6 L378.4 485.8 L377 482.3 L375 480.8 L374.6 479.3 L374.7 476.6 L373.7 474.6 L373.9 471.9 L371.8 470 L370.8 468.5 L370.2 464.8 L371.3 462.7 L371.1 460.1 L371.6 456.9 L370 453.7 L365.5 450.7 L364.6 448.3 L362.1 444.8 L359.6 443.6 L357.1 443.2 L354 440.9 L351.9 438.7 L352.4 436.2 L354.9 433.8 L352.8 431.3 L351.1 430 L350.3 427 L351.8 424.7 L351.8 421.8 L351.4 419.6Z"/>
<path id="Ym10" d="M343.4 415.1 L345.8 413.8 L347.9 410.9 L348.1 408.1 L349.5 405.8 L349.5 403.8 L349.5 400.2 L347.8 397.4 L349.5 395.4 L352.7 394.3 L354 393.2 L355.3 391.7 L355.1 389 L354.5 386.3 L354.5 382.3 L356.6 379.7 L356.7 377.7 L357.9 374.2 L356.7 373.1 L354.8 372 L356.5 369.6 L357.2 367.2 L358.8 366.4 L357 364.5 L356.3 362.2 L357 359.9 L356.3 357.2 L355.5 355.4 L359.1 352.4 L360.2 349.4 L361.6 348 L363.3 346.4 L364.1 344.5 L365.4 342 L367.7 339.9 L367 334.9 L372.9 332.2 L374.1 330.1 L376.5 328.4 L377.1 325.8 L380 322.1 L381.9 318.5 L385.4 315.5 L387.6 316 L389.1 318.2 L390.9 319.9 L393.1 321.1 L391.2 323 L390.4 324.7 L392.4 328 L392.1 330.5 L391.3 332.4 L390.1 333.4 L391.4 335.6 L390.9 337.7 L392 339.5 L393 341 L395.1 341.5 L396.6 342.6 L399.5 343 L400.9 344.3 L402.4 345.4 L403.3 346.8 L406.7 346.6 L408.3 344.9 L407.7 341.3 L408.2 338.8 L408.1 337.2 L407.5 335.5 L408.9 332.5 L412.7 330.3 L412.9 327.6 L413.7 325.1 L412.2 323.9 L412.3 321.2 L412.4 319.5 L412 317.8 L411.1 315.9 L411.3 312.4 L409.7 311.3 L409.4 309.3 L408.8 306.5 L408.2 303.1 L406.7 301.6 L405.3 300.1 L404.6 297.8 L404.4 296.5 L404.3 293.6 L400.3 292.2 L397.4 290.5 L398.3 285.8 L400.9 282.4 L402.6 279.4 L403.5 277.5 L404.4 275.8 L404.7 273.4 L406.5 269.2 L404.8 265.1 L404.5 262.7 L403.1 260.2 L403 257.8 L402 256.6 L402.1 254.4 L403.9 252.7 L405.5 251.3 L407.5 249.2 L409.6 249.2 L411 251 L412.4 250.8 L414.3 250.8 L416.4 251.4 L416.1 254.6 L417.2 257.3 L417.2 259.6 L415.7 261 L417.2 262.6 L419.7 264.6 L418.6 268.1 L419.4 270.7 L418 272.6 L417 275.8 L418.2 280.5 L418 283.3 L419.7 287.5 L420.8 295.6 L421.9 300 L420.1 302.3 L420.4 304.4 L420.1 306.6 L420.8 309.1 L420.8 310.9 L421.9 313.4 L423 315.5 L424.6 315.8 L426.7 316.9 L426.4 319.2 L427 320.4 L426.4 322.9 L425.8 324.7 L425.8 326.9 L425.2 328.8 L426.4 329.6 L427.8 331.2 L427.6 333.5 L428.6 335.9 L432.4 336.6 L435 335.4 L437 334.2 L438.5 333.3 L439.8 334.5 L442.1 334.6 L443.8 335.1 L445.6 335 L446.6 336.2 L448.8 337.6 L451.5 337.7 L454 337.7 L456.2 335.2 L457.3 333.5 L459.1 332.4 L460.5 331.5 L463 330.1 L465.1 328.8 L467.3 327.5 L469.6 326.6 L471.2 325.8 L471.6 329 L473.3 330.7 L476.1 331 L478.6 330.8 L480.2 330.9 L482 329.7 L483.4 326.6 L485.6 326 L487.3 324.3 L487.4 321.4 L489.4 317.8 L489.5 315.9 L489.5 313.4 L490.2 310.1 L490.1 306.9 L490.9 305.6 L492.9 304.4 L495 302 L497.2 300.1 L498.9 297.1 L500.7 295.9 L500.1 293.8 L499.5 292.4 L496.2 291.4 L494.1 290.7 L493.8 288.7 L493.8 286.8 L496.8 286.3 L497.8 284.3 L497.8 282.9 L499.7 283.5 L502.7 284.6 L502.9 287.6 L501.4 289.3 L501.6 291.1 L503.3 293 L504.2 294.3 L505.7 296.2 L507.1 297.8 L506.5 299.8 L505.9 301.5 L504.9 303.1 L504.6 306.1 L504.7 308.3 L505.2 310.6 L503.6 312 L502.7 315.5 L505.6 314.9 L507.6 314.2 L510.4 316 L512.4 316.2 L515 316.4 L516 313.3 L517.5 312.4 L520.2 311.1 L523.5 312.8 L526.5 314 L529.4 312.4 L531.4 311.1 L533.7 308.9 L535.8 307.8 L537.8 307.5 L537.7 305.4 L539.4 303.6 L540.8 302.2 L542.5 302.3 L544.4 301.2 L546.9 302.3 L550 302.7 L551.9 300.5 L553.6 302.2 L556.3 303.1 L558.5 301.7 L560.3 300.4 L562.4 300.1 L564 300.4 L566.2 302 L568.4 301.6 L571.5 302 L572.4 305.3 L573.8 306.9 L576.4 307.4 L577.9 308.9 L575.4 309.5 L573.7 310.5 L572.2 311.2 L570.1 311.7 L565.7 312.9 L563.3 311.5 L558.1 312.8 L555.8 315.5 L553.4 317.8 L550.8 318.1 L549.8 319.7 L551.4 322.4 L551.4 324.4 L554 327 L556.2 328.4 L559.6 327.2 L563.1 325.6 L564.6 323.7 L568.4 323.8 L570.9 325.4 L573.5 324.4 L576.4 325.2 L579.3 326.9 L582.5 326.1 L584.9 325.3 L587.1 326.1 L589.4 326.8 L591.8 327.4 L595.6 328.8 L597.4 329.6 L600.7 330.7 L605 331.2 L609.7 332.7 L612.7 332.4 L614.7 332.7 L617.8 333.3 L623.4 334.9 L626.5 337.6 L629.3 340 L633.7 341.7 L636.8 341.2 L639.4 343.3 L641.6 344.8 L644.3 346.5 L642.4 346.9 L640.8 348.6 L641 351.6 L638.7 350.7 L636.5 350.4 L635.4 351.6 L633.3 351 L631 351.7 L629.7 351.8 L628.2 354.7 L626.2 356.2 L625.8 353.6 L624.6 351.5 L622.7 350.2 L622.2 348.7 L624.4 350.5 L628.2 352.3 L629.8 353.2 L631.2 354.7 L632.7 356.1 L634 358.1 L637.1 360.1 L639.9 362 L642.2 365.3 L645.5 365.8 L646.6 368.5 L648.7 371.6 L649.7 373.4 L650.7 375.8 L653.2 377.5 L653.3 380.8 L652.1 383.4 L652.1 385.6 L654.1 387.4 L655.2 391.1 L658.1 395.1 L659.8 397.4 L659.7 400 L658.5 404.2 L657.4 406.6 L657.3 408.2 L658 411 L656.6 412.4 L657.6 415.1 L661 419.9 L663.2 422.2 L660.6 426 L660.2 428.8 L659.5 432.1 L657.1 433.1 L654.7 434.9 L653.2 437.3 L651.8 440 L651.9 441.7 L649.1 444.6 L647.4 447.1 L647.9 449.3 L646.7 451.6 L644.6 453.8 L644.3 457.2 L645.8 458.2 L647 459.6 L646 461.7 L646.5 465 L644.7 466.2 L641.9 467.7 L642.3 470.8 L642.1 472.7 L642.1 474.6 L640.5 477 L640.2 478.7 L637.9 480.5 L638.5 482 L640.3 483.8 L642 484.2 L644.3 485.9 L644.2 487.7 L643.8 490 L643 491.7 L640.6 493.7 L641.2 496.2 L640.2 500.3 L639.5 502.5 L639.9 505.9 L642 506.5 L642.9 507.5 L644.9 508.8 L646.5 508.9 L647.3 510.9 L648 512.4 L648.6 514.8 L648.7 516.9 L650.9 518.7 L651.9 521.4 L653.8 521.9 L655.1 524.5 L656.8 526.1 L658.5 526.8 L659.8 528 L658.4 531 L659.4 533.5 L660.9 536.9 L661.2 539.5 L660.5 541.3 L660.4 544.1 L657.5 546.3 L655.4 547.9 L652.7 546.8 L650.2 547.2 L647.7 547.8 L645.6 548.7 L643 548.2 L641.8 546.4 L639.9 545.7 L638.2 543 L637.3 542 L636.9 539.8 L635.4 538.9 L632.9 538.5 L630.7 537.2 L628.8 534.6 L628.7 536.7 L628.4 539.9 L626.4 541.1 L623.9 542.6 L622.6 545 L622.9 546.6 L621.9 548.8 L620 550.1 L618.4 553 L615.6 554.6 L614 557.2 L611.8 559.1 L609.9 560.4 L608.7 562.6 L611.5 564.8 L611.1 567.8 L611.4 572.3 L611.1 576.8 L608.1 579.6 L606.6 583 L605.6 585.7 L601.8 586 L600.1 588.5 L597.8 590 L593.6 590.5 L591 593.6 L589.2 594.8 L586.9 596.2 L583.4 598.7 L580.7 597.8 L578.6 599.1 L577.9 601 L575.8 598.2 L573.3 598.1 L570.8 600.1 L567.2 600.3 L566.6 604.1 L562.9 606.7 L558.6 609.5 L555.8 612.1 L553.3 615.5 L549.5 617.6 L547 616.7 L542.9 615.5 L541.1 616.7 L537.4 617.6 L535.8 617.7 L533.7 618.7 L531.1 619.4 L528.8 619.8 L528.1 618.3 L526.2 617.7 L524.5 616 L522.3 615.1 L518.7 615.9 L516 616.5 L514.1 617.6 L512.7 618.1 L510.5 619.2 L508 619.2 L505.9 622.2 L504.5 623.8 L504 626.2 L502.7 627.6 L502.6 624.8 L500.5 623 L499.2 622.2 L497.2 621.8 L494.3 621.7 L492.2 619.8 L489.4 618.7 L486.3 619.1 L484.1 616.8 L480.9 616.4 L477.9 617.8 L476.1 618.7 L473.9 620.6 L472 620.7 L471.4 623.5 L470.8 624.8 L470.8 627.2 L472.8 629.4 L471.7 632 L471.5 634.7 L469.3 636.1 L466.2 636.6 L463.4 638.6 L461.3 638.4 L459.6 638.6 L458.4 640.9 L456.6 641.4 L455.1 641 L453 640.9 L450.7 639.2 L449.6 636.4 L450.2 634.9 L451.6 632.7 L454.2 632.2 L454.7 630.2 L455.2 628.1 L454 625.4 L456.6 624.1 L459.6 623 L461.6 622.7 L462.9 622 L465.8 620.8 L467.3 618.7 L467.8 616.6 L470.5 614.5 L470.2 613.1 L470.9 611.3 L470 609.2 L468.3 607.7 L466.4 606.2 L465.1 605.5 L464.2 604 L463.1 601.6 L461.4 600.1 L461.2 597 L459.5 594.6 L456.8 593.8 L451.7 594.3 L449.6 592.2 L447.8 590.1 L444.6 588.8 L442.1 589.4 L440.2 587.8 L439.1 584.4 L437.4 579.7 L434.7 576 L431.9 572.3 L429.3 570.7 L427.3 570.2 L424.6 567.9 L422.5 562.4 L419.2 560.7 L418.7 556.8 L418.6 554.6 L417.4 552.9 L416.2 551.1 L417.3 547.8 L416.6 545.3 L414.9 543.2 L412.3 541 L409.1 537.8 L407.5 534.6 L406.4 531.1 L406.1 525.8 L403.3 522.6 L400.4 519.9 L396.1 519.3 L394.2 515.6 L391.3 514.7 L389.8 512.5 L389.4 510 L388 507.1 L385.8 506 L383.9 506 L383.7 502.9 L383.7 499.3 L381.6 496.7 L378.8 494.8 L375.5 492.3 L372.4 487.3 L370.9 483.6 L368.8 482 L368.4 480.4 L368.5 477.6 L367.4 475.5 L367.7 472.7 L365.5 470.8 L364.4 469.1 L363.7 465.3 L365 463.1 L364.7 460.3 L365.2 457 L363.6 453.6 L358.8 450.5 L357.9 448 L355.3 444.3 L352.7 443.1 L350 442.6 L346.8 440.3 L344.6 437.9 L345.1 435.3 L347.8 432.8 L345.5 430.2 L343.8 428.8 L342.9 425.7 L344.5 423.3 L344.5 420.2 L344.1 417.9Z"/>
<path id="Ym16" d="M334.5 413 L339.2 394.3 L348.5 375.6 L350.9 361.6 L347.4 349.9 L360.2 333.6 L378.9 307.9 L387 313.8 L384.7 331.3 L395.2 338.3 L402.2 328.9 L406.9 310.3 L399.9 291.6 L395.2 272.9 L397.5 249.6 L402.2 237.9 L411.5 240.3 L415 254.3 L416.2 286.9 L418.5 307.9 L420.9 321.9 L434.9 326.6 L451.2 331.3 L462.9 321.9 L474.6 324.3 L488.6 310.3 L496.7 291.6 L493.2 277.6 L502.6 275.3 L507.2 289.3 L502.6 307.9 L516.6 305.6 L535.2 300.9 L549.2 293.9 L565.6 291.6 L581.9 300.9 L558.6 307.9 L553.9 317.3 L577.2 317.3 L600.6 321.9 L623.9 326.6 L651.9 340.6 L640.3 345.3 L628.6 342.9 L647.3 356.9 L661.3 373.3 L668.3 394.3 L665.9 413 L661.3 436.3 L651.9 457.3 L649.6 473.6 L651.9 487.6 L647.3 508.6 L656.6 520.3 L668.3 532 L663.6 553 L647.3 550.6 L635.6 539 L626.3 555.3 L616.9 574 L602.9 597.3 L581.9 609 L558.6 620.7 L535.2 627.7 L516.6 625.3 L502.6 637 L488.6 627.7 L474.6 627.7 L469.9 641.7 L455.9 651 L446.6 646.3 L451.2 634.7 L465.2 627.7 L462.9 613.7 L446.6 599.7 L427.9 578.7 L413.9 560 L402.2 539 L383.5 515.6 L371.9 497 L360.2 473.6 L350.9 450.3 L339.2 431.6Z"/>
</defs>
<rect x="107.05" y="100.2" width="730.95" height="730.8" fill="#000"/>
<g clip-path="url(#cp1)"><g filter="url(#n1)">
<rect x="90" y="80" width="770" height="770" fill="#505050"/>
<g filter="url(#b24)">
<ellipse cx="300" cy="200" rx="140" ry="120" fill="#484848"/>
<ellipse cx="340" cy="385" rx="75" ry="45" fill="#6c6c6c" transform="rotate(-10 340 385)"/>
<ellipse cx="310" cy="600" rx="175" ry="62" fill="#333333"/>
<ellipse cx="400" cy="612" rx="80" ry="38" fill="#383838"/>
<ellipse cx="330" cy="505" rx="120" ry="32" fill="#4e4e4e"/>
<ellipse cx="300" cy="765" rx="170" ry="45" fill="#848484"/>
<ellipse cx="520" cy="755" rx="170" ry="45" fill="#808080"/>
<ellipse cx="770" cy="745" rx="90" ry="50" fill="#6a6a6a"/>
<ellipse cx="745" cy="360" rx="105" ry="62" fill="#444444"/>
<ellipse cx="700" cy="640" rx="130" ry="55" fill="#545454"/>
<ellipse cx="640" cy="665" rx="38" ry="62" fill="#3e3e3e" transform="rotate(10 640 665)"/>
<ellipse cx="470" cy="205" rx="45" ry="95" fill="#5c5c5c"/>
<ellipse cx="560" cy="330" rx="60" ry="25" fill="#6c6c6c"/>
<ellipse cx="250" cy="700" rx="80" ry="30" fill="#707070"/>
<ellipse cx="440" cy="640" rx="60" ry="28" fill="#484848"/>
<ellipse cx="700" cy="470" rx="60" ry="40" fill="#525252"/>
<ellipse cx="780" cy="650" rx="50" ry="30" fill="#646464"/>
<ellipse cx="235" cy="340" rx="55" ry="120" fill="#424242" transform="rotate(5 235 340)"/>
<ellipse cx="520" cy="600" rx="40" ry="20" fill="#5a5a5a"/>
<ellipse cx="420" cy="700" rx="80" ry="30" fill="#6a6a6a"/>
<use href="#Ym16" fill="#7c7c7c"/>
</g>
<g filter="url(#b4)" opacity="0.4">
<ellipse cx="591.8" cy="616.3" rx="3.1" ry="21.2" fill="#808080" transform="rotate(38 591.8 616.3)"/>
<ellipse cx="608.6" cy="726.4" rx="4.9" ry="30.8" fill="#303030" transform="rotate(18.3 608.6 726.4)"/>
<ellipse cx="255.8" cy="275.5" rx="5" ry="14.4" fill="#3c3c3c" transform="rotate(35.4 255.8 275.5)"/>
<ellipse cx="441.2" cy="630.3" rx="3.7" ry="24.8" fill="#303030" transform="rotate(9.4 441.2 630.3)"/>
<ellipse cx="191.1" cy="706" rx="6.9" ry="33" fill="#3c3c3c" transform="rotate(10.8 191.1 706)"/>
<ellipse cx="297.4" cy="320" rx="5.7" ry="26.3" fill="#3c3c3c" transform="rotate(12.2 297.4 320)"/>
<ellipse cx="796.9" cy="580.9" rx="4.5" ry="18.7" fill="#747474" transform="rotate(10.8 796.9 580.9)"/>
<ellipse cx="284" cy="148.1" rx="7.1" ry="24.1" fill="#686868" transform="rotate(25.9 284 148.1)"/>
<ellipse cx="646.5" cy="148.7" rx="7.1" ry="21.5" fill="#686868" transform="rotate(16.1 646.5 148.7)"/>
<ellipse cx="500.4" cy="590.6" rx="4.3" ry="32.5" fill="#303030" transform="rotate(38.2 500.4 590.6)"/>
<ellipse cx="432.8" cy="685.1" rx="3.2" ry="14.3" fill="#747474" transform="rotate(38.4 432.8 685.1)"/>
<ellipse cx="316.8" cy="626" rx="4.7" ry="18.5" fill="#747474" transform="rotate(23.4 316.8 626)"/>
<ellipse cx="690.3" cy="177.8" rx="7.3" ry="10.9" fill="#686868" transform="rotate(38.1 690.3 177.8)"/>
<ellipse cx="248.8" cy="338.8" rx="4.8" ry="13.6" fill="#808080" transform="rotate(14.6 248.8 338.8)"/>
<ellipse cx="643.2" cy="166.7" rx="4.5" ry="29.2" fill="#686868" transform="rotate(26.9 643.2 166.7)"/>
<ellipse cx="655.1" cy="317" rx="3.8" ry="11.2" fill="#747474" transform="rotate(39.5 655.1 317)"/>
<ellipse cx="343.1" cy="514" rx="5.3" ry="20.1" fill="#686868" transform="rotate(6.9 343.1 514)"/>
<ellipse cx="780.9" cy="125.6" rx="4.7" ry="15" fill="#747474" transform="rotate(39.3 780.9 125.6)"/>
<ellipse cx="553.8" cy="194.9" rx="3.5" ry="20.4" fill="#747474" transform="rotate(10.2 553.8 194.9)"/>
<ellipse cx="734.9" cy="307" rx="7.6" ry="24.9" fill="#747474" transform="rotate(10.9 734.9 307)"/>
<ellipse cx="526.8" cy="767.4" rx="5.4" ry="17" fill="#686868" transform="rotate(19.1 526.8 767.4)"/>
<ellipse cx="284.5" cy="363.9" rx="7.8" ry="25" fill="#808080" transform="rotate(22.5 284.5 363.9)"/>
<ellipse cx="408.3" cy="164.7" rx="5.6" ry="23.2" fill="#686868" transform="rotate(22.6 408.3 164.7)"/>
<ellipse cx="230.7" cy="653.2" rx="6.5" ry="25.9" fill="#686868" transform="rotate(31.6 230.7 653.2)"/>
<ellipse cx="424.4" cy="590.5" rx="7.2" ry="16.4" fill="#686868" transform="rotate(39.3 424.4 590.5)"/>
<ellipse cx="651.8" cy="765.2" rx="6.2" ry="23.9" fill="#686868" transform="rotate(5.4 651.8 765.2)"/>
<ellipse cx="542.8" cy="276.5" rx="5.3" ry="29.6" fill="#686868" transform="rotate(27.7 542.8 276.5)"/>
<ellipse cx="704.5" cy="343.7" rx="6.7" ry="29.9" fill="#686868" transform="rotate(17.3 704.5 343.7)"/>
<ellipse cx="733.7" cy="705" rx="7.9" ry="33" fill="#747474" transform="rotate(23.1 733.7 705)"/>
<ellipse cx="531.4" cy="218" rx="7.7" ry="21.5" fill="#686868" transform="rotate(29.2 531.4 218)"/>
<ellipse cx="654.2" cy="608.4" rx="6.1" ry="32.5" fill="#3c3c3c" transform="rotate(23.1 654.2 608.4)"/>
<ellipse cx="794" cy="312.4" rx="6.9" ry="25.3" fill="#808080" transform="rotate(30.2 794 312.4)"/>
<ellipse cx="207.8" cy="213.7" rx="6.1" ry="14.3" fill="#747474" transform="rotate(31.6 207.8 213.7)"/>
<ellipse cx="306.4" cy="600.2" rx="7.9" ry="14" fill="#747474" transform="rotate(36.2 306.4 600.2)"/>
<ellipse cx="261.5" cy="772.8" rx="4" ry="10.9" fill="#747474" transform="rotate(21.3 261.5 772.8)"/>
<ellipse cx="570.7" cy="267.6" rx="3" ry="19.7" fill="#686868" transform="rotate(14.7 570.7 267.6)"/>
<ellipse cx="454.5" cy="182.6" rx="4.9" ry="10.9" fill="#808080" transform="rotate(26.5 454.5 182.6)"/>
<ellipse cx="251.2" cy="480.3" rx="7.8" ry="17" fill="#686868" transform="rotate(17.3 251.2 480.3)"/>
<ellipse cx="273.3" cy="386.2" rx="6.2" ry="18.9" fill="#808080" transform="rotate(10 273.3 386.2)"/>
<ellipse cx="807.4" cy="772.9" rx="3.5" ry="29.7" fill="#808080" transform="rotate(28.2 807.4 772.9)"/>
<ellipse cx="436.3" cy="328.6" rx="5.7" ry="17.8" fill="#808080" transform="rotate(35.7 436.3 328.6)"/>
<ellipse cx="820" cy="444.4" rx="7.9" ry="19.1" fill="#747474" transform="rotate(38.6 820 444.4)"/>
<ellipse cx="779.4" cy="515.3" rx="6.7" ry="17.2" fill="#686868" transform="rotate(13.8 779.4 515.3)"/>
<ellipse cx="202.7" cy="757.1" rx="5.5" ry="16.9" fill="#686868" transform="rotate(21.7 202.7 757.1)"/>
<ellipse cx="268.6" cy="533.2" rx="4.2" ry="11" fill="#747474" transform="rotate(9.8 268.6 533.2)"/>
<ellipse cx="551.4" cy="271.5" rx="6.9" ry="15.9" fill="#747474" transform="rotate(14.4 551.4 271.5)"/>
<ellipse cx="289.8" cy="787.3" rx="5.5" ry="33.8" fill="#686868" transform="rotate(23.1 289.8 787.3)"/>
<ellipse cx="746.9" cy="712.4" rx="3.1" ry="13" fill="#303030" transform="rotate(14.9 746.9 712.4)"/>
<ellipse cx="646.7" cy="527.6" rx="3.1" ry="18.4" fill="#808080" transform="rotate(28.9 646.7 527.6)"/>
<ellipse cx="714.2" cy="194.7" rx="4.3" ry="20.9" fill="#303030" transform="rotate(37.1 714.2 194.7)"/>
<ellipse cx="762.7" cy="480.5" rx="5.1" ry="29.4" fill="#303030" transform="rotate(25.8 762.7 480.5)"/>
<ellipse cx="634.4" cy="762.7" rx="7.3" ry="30.2" fill="#747474" transform="rotate(21.7 634.4 762.7)"/>
<ellipse cx="630.1" cy="601" rx="5.3" ry="28.2" fill="#686868" transform="rotate(15.6 630.1 601)"/>
<ellipse cx="192.1" cy="642.1" rx="4.4" ry="28.7" fill="#808080" transform="rotate(36.9 192.1 642.1)"/>
<ellipse cx="282" cy="434.1" rx="7.4" ry="33.4" fill="#808080" transform="rotate(23.8 282 434.1)"/>
<ellipse cx="221.3" cy="610" rx="7.1" ry="29" fill="#686868" transform="rotate(28.2 221.3 610)"/>
<ellipse cx="206.5" cy="603" rx="8" ry="26.8" fill="#303030" transform="rotate(6.7 206.5 603)"/>
<ellipse cx="733.1" cy="254.7" rx="6.6" ry="13.2" fill="#303030" transform="rotate(15.2 733.1 254.7)"/>
<ellipse cx="782.1" cy="206.6" rx="3.9" ry="29.2" fill="#808080" transform="rotate(7.4 782.1 206.6)"/>
<ellipse cx="327.5" cy="487.4" rx="6.7" ry="16.7" fill="#747474" transform="rotate(25 327.5 487.4)"/>
<ellipse cx="266.3" cy="378.8" rx="3.7" ry="20.4" fill="#808080" transform="rotate(16 266.3 378.8)"/>
<ellipse cx="795.4" cy="361.9" rx="3.7" ry="17.1" fill="#303030" transform="rotate(24.9 795.4 361.9)"/>
<ellipse cx="627.3" cy="303.8" rx="5.7" ry="15.3" fill="#808080" transform="rotate(7.2 627.3 303.8)"/>
<ellipse cx="342" cy="679.2" rx="5.6" ry="13.2" fill="#686868" transform="rotate(13.2 342 679.2)"/>
<ellipse cx="429.4" cy="612.8" rx="3.7" ry="10.4" fill="#3c3c3c" transform="rotate(17 429.4 612.8)"/>
<ellipse cx="559.7" cy="127.9" rx="5.5" ry="20.9" fill="#303030" transform="rotate(18.6 559.7 127.9)"/>
<ellipse cx="488.4" cy="769.6" rx="7" ry="10.7" fill="#303030" transform="rotate(30.4 488.4 769.6)"/>
<ellipse cx="224.6" cy="207.4" rx="6.4" ry="15.4" fill="#747474" transform="rotate(9.1 224.6 207.4)"/>
<ellipse cx="817.4" cy="563.2" rx="3.7" ry="25" fill="#3c3c3c" transform="rotate(17.4 817.4 563.2)"/>
<ellipse cx="341.6" cy="333.6" rx="6.5" ry="29.1" fill="#808080" transform="rotate(18.2 341.6 333.6)"/>
<ellipse cx="656.2" cy="351" rx="7" ry="20.4" fill="#686868" transform="rotate(34.8 656.2 351)"/>
<ellipse cx="559.8" cy="615.2" rx="3.3" ry="10.9" fill="#747474" transform="rotate(11.5 559.8 615.2)"/>
<ellipse cx="316.2" cy="442.1" rx="6.3" ry="18.4" fill="#747474" transform="rotate(19.9 316.2 442.1)"/>
<ellipse cx="383.9" cy="749.7" rx="4.6" ry="21.1" fill="#747474" transform="rotate(11.7 383.9 749.7)"/>
<ellipse cx="611.4" cy="152.3" rx="7.3" ry="21.3" fill="#747474" transform="rotate(24.3 611.4 152.3)"/>
<ellipse cx="261.1" cy="669.4" rx="6.4" ry="10.8" fill="#686868" transform="rotate(36.4 261.1 669.4)"/>
<ellipse cx="412.1" cy="623.4" rx="7.7" ry="26.5" fill="#686868" transform="rotate(28.6 412.1 623.4)"/>
<ellipse cx="494.3" cy="757.2" rx="6.9" ry="17.8" fill="#303030" transform="rotate(20.9 494.3 757.2)"/>
<ellipse cx="344.8" cy="790.6" rx="4" ry="10.6" fill="#303030" transform="rotate(13.1 344.8 790.6)"/>
<ellipse cx="240.4" cy="380.5" rx="6.4" ry="14.4" fill="#686868" transform="rotate(17.7 240.4 380.5)"/>
<ellipse cx="233.1" cy="790.6" rx="3.8" ry="15.8" fill="#747474" transform="rotate(28.5 233.1 790.6)"/>
<ellipse cx="796.6" cy="549.9" rx="6.6" ry="16.5" fill="#747474" transform="rotate(21.2 796.6 549.9)"/>
<ellipse cx="299.5" cy="126" rx="5.8" ry="32.5" fill="#808080" transform="rotate(30.1 299.5 126)"/>
<ellipse cx="342.9" cy="658.8" rx="7.7" ry="11.3" fill="#303030" transform="rotate(13.5 342.9 658.8)"/>
<ellipse cx="222.5" cy="377.9" rx="3.2" ry="30" fill="#303030" transform="rotate(20.6 222.5 377.9)"/>
<ellipse cx="603.1" cy="708.6" rx="3.9" ry="22.2" fill="#3c3c3c" transform="rotate(19.1 603.1 708.6)"/>
<ellipse cx="532.7" cy="161.4" rx="7" ry="12.1" fill="#686868" transform="rotate(39.5 532.7 161.4)"/>
<ellipse cx="294.4" cy="155.2" rx="6.1" ry="20.6" fill="#3c3c3c" transform="rotate(17.5 294.4 155.2)"/>
<ellipse cx="463" cy="634.5" rx="6.1" ry="27.4" fill="#808080" transform="rotate(37 463 634.5)"/>
<ellipse cx="723" cy="258" rx="3.7" ry="21.6" fill="#303030" transform="rotate(32.3 723 258)"/>
<ellipse cx="359.9" cy="381.6" rx="3.6" ry="12" fill="#3c3c3c" transform="rotate(13.6 359.9 381.6)"/>
<ellipse cx="244.4" cy="399.6" rx="6.3" ry="16.6" fill="#808080" transform="rotate(22.2 244.4 399.6)"/>
<ellipse cx="350.5" cy="589.9" rx="7.4" ry="31.3" fill="#686868" transform="rotate(7.5 350.5 589.9)"/>
<ellipse cx="686.3" cy="365.9" rx="3" ry="16.9" fill="#808080" transform="rotate(37.9 686.3 365.9)"/>
<ellipse cx="274.8" cy="122.6" rx="7.1" ry="25.7" fill="#3c3c3c" transform="rotate(38.4 274.8 122.6)"/>
<ellipse cx="659.6" cy="588.2" rx="3.5" ry="29.3" fill="#686868" transform="rotate(24.7 659.6 588.2)"/>
<ellipse cx="397.2" cy="315.1" rx="4.3" ry="26.2" fill="#3c3c3c" transform="rotate(15 397.2 315.1)"/>
<ellipse cx="231" cy="631.5" rx="3.1" ry="12.9" fill="#808080" transform="rotate(38.9 231 631.5)"/>
</g>
<g filter="url(#b7)">
<path d="M520 140 L560 115 L640 105 L740 100 L850 100 L850 262 L780 268 L700 258 L640 288 L590 292 L540 272 L500 252 L472 292 L450 285 L452 255 L470 235 L500 200Z" fill="#b5b5b5"/>
<path d="M600 140 L700 120 L850 120 L850 240 L760 240 L680 235 L620 265 L580 240 L570 190Z" fill="#d4d4d4"/>
</g>
<g filter="url(#b2_5)">
<use href="#B0" fill="#6e6e6e" stroke="#6e6e6e" stroke-width="5.1" stroke-linejoin="round"/>
<use href="#B0" fill="#848484" stroke="#848484" stroke-width="2.6" stroke-linejoin="round"/>
<use href="#B1" fill="#6e6e6e" stroke="#6e6e6e" stroke-width="4.2" stroke-linejoin="round"/>
<use href="#B1" fill="#848484" stroke="#848484" stroke-width="2.1" stroke-linejoin="round"/>
<use href="#B2" fill="#6e6e6e" stroke="#6e6e6e" stroke-width="6.7" stroke-linejoin="round"/>
<use href="#B2" fill="#848484" stroke="#848484" stroke-width="3.3" stroke-linejoin="round"/>
<use href="#B3" fill="#6e6e6e" stroke="#6e6e6e" stroke-width="6.6" stroke-linejoin="round"/>
<use href="#B3" fill="#848484" stroke="#848484" stroke-width="3.3" stroke-linejoin="round"/>
<use href="#B4" fill="#6e6e6e" stroke="#6e6e6e" stroke-width="3.3" stroke-linejoin="round"/>
<use href="#B4" fill="#848484" stroke="#848484" stroke-width="1.7" stroke-linejoin="round"/>
<use href="#B5" fill="#6e6e6e" stroke="#6e6e6e" stroke-width="2" stroke-linejoin="round"/>
<use href="#B5" fill="#848484" stroke="#848484" stroke-width="1" stroke-linejoin="round"/>
<use href="#B6" fill="#6e6e6e" stroke="#6e6e6e" stroke-width="7.9" stroke-linejoin="round"/>
<use href="#B6" fill="#848484" stroke="#848484" stroke-width="4" stroke-linejoin="round"/>
<use href="#B7" fill="#6e6e6e" stroke="#6e6e6e" stroke-width="7.9" stroke-linejoin="round"/>
<use href="#B7" fill="#848484" stroke="#848484" stroke-width="4" stroke-linejoin="round"/>
<use href="#B8" fill="#6e6e6e" stroke="#6e6e6e" stroke-width="3" stroke-linejoin="round"/>
<use href="#B8" fill="#848484" stroke="#848484" stroke-width="1.5" stroke-linejoin="round"/>
<use href="#B9" fill="#6e6e6e" stroke="#6e6e6e" stroke-width="2.7" stroke-linejoin="round"/>
<use href="#B9" fill="#848484" stroke="#848484" stroke-width="1.4" stroke-linejoin="round"/>
<use href="#B10" fill="#6e6e6e" stroke="#6e6e6e" stroke-width="6.9" stroke-linejoin="round"/>
<use href="#B10" fill="#848484" stroke="#848484" stroke-width="3.4" stroke-linejoin="round"/>
<use href="#B11" fill="#6e6e6e" stroke="#6e6e6e" stroke-width="2.6" stroke-linejoin="round"/>
<use href="#B11" fill="#848484" stroke="#848484" stroke-width="1.3" stroke-linejoin="round"/>
<use href="#B12" fill="#6e6e6e" stroke="#6e6e6e" stroke-width="5.4" stroke-linejoin="round"/>
<use href="#B12" fill="#848484" stroke="#848484" stroke-width="2.7" stroke-linejoin="round"/>
<use href="#B13" fill="#6e6e6e" stroke="#6e6e6e" stroke-width="2.5" stroke-linejoin="round"/>
<use href="#B13" fill="#848484" stroke="#848484" stroke-width="1.3" stroke-linejoin="round"/>
<use href="#B14" fill="#6e6e6e" stroke="#6e6e6e" stroke-width="2.8" stroke-linejoin="round"/>
<use href="#B14" fill="#848484" stroke="#848484" stroke-width="1.4" stroke-linejoin="round"/>
<use href="#B15" fill="#6e6e6e" stroke="#6e6e6e" stroke-width="2" stroke-linejoin="round"/>
<use href="#B15" fill="#848484" stroke="#848484" stroke-width="1" stroke-linejoin="round"/>
<use href="#B16" fill="#6e6e6e" stroke="#6e6e6e" stroke-width="4.7" stroke-linejoin="round"/>
<use href="#B16" fill="#848484" stroke="#848484" stroke-width="2.4" stroke-linejoin="round"/>
<use href="#B17" fill="#6e6e6e" stroke="#6e6e6e" stroke-width="3.6" stroke-linejoin="round"/>
<use href="#B17" fill="#848484" stroke="#848484" stroke-width="1.8" stroke-linejoin="round"/>
<use href="#B18" fill="#6e6e6e" stroke="#6e6e6e" stroke-width="1.9" stroke-linejoin="round"/>
<use href="#B18" fill="#848484" stroke="#848484" stroke-width="1" stroke-linejoin="round"/>
<use href="#B19" fill="#6e6e6e" stroke="#6e6e6e" stroke-width="2" stroke-linejoin="round"/>
<use href="#B19" fill="#848484" stroke="#848484" stroke-width="1" stroke-linejoin="round"/>
<use href="#B20" fill="#6e6e6e" stroke="#6e6e6e" stroke-width="1.6" stroke-linejoin="round"/>
<use href="#B20" fill="#848484" stroke="#848484" stroke-width="0.8" stroke-linejoin="round"/>
<use href="#B21" fill="#6e6e6e" stroke="#6e6e6e" stroke-width="1.6" stroke-linejoin="round"/>
<use href="#B21" fill="#848484" stroke="#848484" stroke-width="0.8" stroke-linejoin="round"/>
<use href="#B22" fill="#6e6e6e" stroke="#6e6e6e" stroke-width="1.5" stroke-linejoin="round"/>
<use href="#B22" fill="#848484" stroke="#848484" stroke-width="0.8" stroke-linejoin="round"/>
<use href="#B23" fill="#6e6e6e" stroke="#6e6e6e" stroke-width="1.8" stroke-linejoin="round"/>
<use href="#B23" fill="#848484" stroke="#848484" stroke-width="0.9" stroke-linejoin="round"/>
<use href="#B24" fill="#6e6e6e" stroke="#6e6e6e" stroke-width="1.7" stroke-linejoin="round"/>
<use href="#B24" fill="#848484" stroke="#848484" stroke-width="0.9" stroke-linejoin="round"/>
<use href="#B25" fill="#6e6e6e" stroke="#6e6e6e" stroke-width="7.9" stroke-linejoin="round"/>
<use href="#B25" fill="#848484" stroke="#848484" stroke-width="4" stroke-linejoin="round"/>
<use href="#B26" fill="#6e6e6e" stroke="#6e6e6e" stroke-width="7.9" stroke-linejoin="round"/>
<use href="#B26" fill="#848484" stroke="#848484" stroke-width="4" stroke-linejoin="round"/>
<use href="#B27" fill="#6e6e6e" stroke="#6e6e6e" stroke-width="7.4" stroke-linejoin="round"/>
<use href="#B27" fill="#848484" stroke="#848484" stroke-width="3.7" stroke-linejoin="round"/>
<use href="#B28" fill="#6e6e6e" stroke="#6e6e6e" stroke-width="4.7" stroke-linejoin="round"/>
<use href="#B28" fill="#848484" stroke="#848484" stroke-width="2.4" stroke-linejoin="round"/>
<use href="#B29" fill="#6e6e6e" stroke="#6e6e6e" stroke-width="4" stroke-linejoin="round"/>
<use href="#B29" fill="#848484" stroke="#848484" stroke-width="2" stroke-linejoin="round"/>
<use href="#B30" fill="#6e6e6e" stroke="#6e6e6e" stroke-width="2.4" stroke-linejoin="round"/>
<use href="#B30" fill="#848484" stroke="#848484" stroke-width="1.2" stroke-linejoin="round"/>
<use href="#B31" fill="#6e6e6e" stroke="#6e6e6e" stroke-width="2.2" stroke-linejoin="round"/>
<use href="#B31" fill="#848484" stroke="#848484" stroke-width="1.1" stroke-linejoin="round"/>
<use href="#B32" fill="#6e6e6e" stroke="#6e6e6e" stroke-width="2.7" stroke-linejoin="round"/>
<use href="#B32" fill="#848484" stroke="#848484" stroke-width="1.4" stroke-linejoin="round"/>
<use href="#B33" fill="#6e6e6e" stroke="#6e6e6e" stroke-width="1.7" stroke-linejoin="round"/>
<use href="#B33" fill="#848484" stroke="#848484" stroke-width="0.9" stroke-linejoin="round"/>
<use href="#B34" fill="#6e6e6e" stroke="#6e6e6e" stroke-width="1.8" stroke-linejoin="round"/>
<use href="#B34" fill="#848484" stroke="#848484" stroke-width="0.9" stroke-linejoin="round"/>
<use href="#B35" fill="#6e6e6e" stroke="#6e6e6e" stroke-width="4.4" stroke-linejoin="round"/>
<use href="#B35" fill="#848484" stroke="#848484" stroke-width="2.2" stroke-linejoin="round"/>
<use href="#B36" fill="#6e6e6e" stroke="#6e6e6e" stroke-width="2.4" stroke-linejoin="round"/>
<use href="#B36" fill="#848484" stroke="#848484" stroke-width="1.2" stroke-linejoin="round"/>
<use href="#B37" fill="#6e6e6e" stroke="#6e6e6e" stroke-width="7.9" stroke-linejoin="round"/>
<use href="#B37" fill="#848484" stroke="#848484" stroke-width="4" stroke-linejoin="round"/>
<use href="#B41" fill="#6e6e6e" stroke="#6e6e6e" stroke-width="7.9" stroke-linejoin="round"/>
<use href="#B41" fill="#848484" stroke="#848484" stroke-width="4" stroke-linejoin="round"/>
<use href="#B44" fill="#6e6e6e" stroke="#6e6e6e" stroke-width="5.6" stroke-linejoin="round"/>
<use href="#B44" fill="#848484" stroke="#848484" stroke-width="2.8" stroke-linejoin="round"/>
<use href="#B45" fill="#6e6e6e" stroke="#6e6e6e" stroke-width="2.7" stroke-linejoin="round"/>
<use href="#B45" fill="#848484" stroke="#848484" stroke-width="1.4" stroke-linejoin="round"/>
<use href="#B46" fill="#666666" stroke="#666666" stroke-width="4.1" stroke-linejoin="round"/>
<use href="#B46" fill="#666666" stroke="#666666" stroke-width="2" stroke-linejoin="round"/>
<use href="#B47" fill="#666666" stroke="#666666" stroke-width="3.4" stroke-linejoin="round"/>
<use href="#B47" fill="#666666" stroke="#666666" stroke-width="1.7" stroke-linejoin="round"/>
<use href="#B0" fill="#9d9d9d"/>
<use href="#L87" fill="#b2b2b2"/>
<use href="#L88" fill="#c4c4c4"/>
<use href="#B1" fill="#9d9d9d"/>
<use href="#L90" fill="#b2b2b2"/>
<use href="#B2" fill="#9d9d9d"/>
<use href="#L92" fill="#b2b2b2"/>
<use href="#B3" fill="#9d9d9d"/>
<use href="#L94" fill="#b2b2b2"/>
<use href="#L95" fill="#bdbdbd"/>
<use href="#B4" fill="#9d9d9d"/>
<use href="#B5" fill="#9d9d9d"/>
<use href="#B6" fill="#9d9d9d"/>
<use href="#L99" fill="#b2b2b2"/>
<use href="#L100" fill="#c4c4c4"/>
<use href="#L101" fill="#d0d0d0"/>
<use href="#B7" fill="#9d9d9d"/>
<use href="#L103" fill="#b2b2b2"/>
<use href="#L104" fill="#c4c4c4"/>
<use href="#L105" fill="#d4d4d4"/>
<use href="#L106" fill="#dbdbdb"/>
<use href="#B8" fill="#9d9d9d"/>
<use href="#L108" fill="#aaaaaa"/>
<use href="#B9" fill="#9d9d9d"/>
<use href="#L110" fill="#aaaaaa"/>
<use href="#B10" fill="#9d9d9d"/>
<use href="#L112" fill="#b2b2b2"/>
<use href="#B11" fill="#9d9d9d"/>
<use href="#L114" fill="#b2b2b2"/>
<use href="#B12" fill="#9d9d9d"/>
<use href="#L116" fill="#aaaaaa"/>
<use href="#B13" fill="#9d9d9d"/>
<use href="#L118" fill="#b2b2b2"/>
<use href="#L119" fill="#bdbdbd"/>
<use href="#B14" fill="#9d9d9d"/>
<use href="#L121" fill="#aeaeae"/>
<use href="#B15" fill="#9d9d9d"/>
<use href="#B16" fill="#9d9d9d"/>
<use href="#L124" fill="#b2b2b2"/>
<use href="#B17" fill="#9d9d9d"/>
<use href="#L126" fill="#b2b2b2"/>
<use href="#B18" fill="#9d9d9d"/>
<use href="#B19" fill="#9d9d9d"/>
<use href="#B20" fill="#9d9d9d"/>
<use href="#B21" fill="#9d9d9d"/>
<use href="#B22" fill="#9d9d9d"/>
<use href="#B23" fill="#9d9d9d"/>
<use href="#B24" fill="#9d9d9d"/>
<use href="#B25" fill="#9d9d9d"/>
<use href="#L135" fill="#b2b2b2"/>
<use href="#L136" fill="#c4c4c4"/>
<use href="#B26" fill="#9d9d9d"/>
<use href="#L138" fill="#b2b2b2"/>
<use href="#B27" fill="#9d9d9d"/>
<use href="#L140" fill="#b2b2b2"/>
<use href="#L141" fill="#c1c1c1"/>
<use href="#B28" fill="#9d9d9d"/>
<use href="#L143" fill="#b2b2b2"/>
<use href="#L144" fill="#c1c1c1"/>
<use href="#B29" fill="#9d9d9d"/>
<use href="#L146" fill="#b2b2b2"/>
<use href="#B30" fill="#9d9d9d"/>
<use href="#L148" fill="#aaaaaa"/>
<use href="#B31" fill="#9d9d9d"/>
<use href="#B32" fill="#9d9d9d"/>
<use href="#L151" fill="#b2b2b2"/>
<use href="#L152" fill="#c1c1c1"/>
<use href="#B33" fill="#9d9d9d"/>
<use href="#B34" fill="#9d9d9d"/>
<use href="#B35" fill="#9d9d9d"/>
<use href="#L156" fill="#b2b2b2"/>
<use href="#B36" fill="#9d9d9d"/>
<use href="#B37" fill="#b9b9b9"/>
<use href="#L159" fill="#c0c0c0"/>
<use href="#L160" fill="#c6c6c6"/>
<use href="#L161" fill="#cdcdcd"/>
<use href="#L162" fill="#d4d4d4"/>
<use href="#L163" fill="#bfbfbf"/>
<use href="#L164" fill="#c4c4c4"/>
<use href="#L165" fill="#cacaca"/>
<use href="#L166" fill="#d0d0d0"/>
<use href="#L167" fill="#bebebe"/>
<use href="#L168" fill="#c3c3c3"/>
<use href="#L169" fill="#c7c7c7"/>
<use href="#L170" fill="#cccccc"/>
<use href="#B41" fill="#b2b2b2"/>
<use href="#L172" fill="#b7b7b7"/>
<use href="#L173" fill="#bdbdbd"/>
<use href="#L174" fill="#c3c3c3"/>
<use href="#L175" fill="#c8c8c8"/>
<use href="#L176" fill="#bababa"/>
<use href="#L177" fill="#c3c3c3"/>
<use href="#L178" fill="#cbcbcb"/>
<use href="#L179" fill="#d4d4d4"/>
<use href="#B44" fill="#9d9d9d"/>
<use href="#L181" fill="#b2b2b2"/>
<use href="#L182" fill="#c1c1c1"/>
<use href="#B45" fill="#9d9d9d"/>
<use href="#L184" fill="#b2b2b2"/>
<use href="#L185" fill="#bdbdbd"/>
<use href="#L186" fill="#bdbdbd"/>
<use href="#B46" fill="#666666"/>
<use href="#B47" fill="#666666"/>
<use href="#Ym5" fill="#8c8c8c"/>
<use href="#Ym" fill="#aaaaaa"/>
<use href="#LGm" fill="#c1c1c1"/>
<use href="#TGm" fill="#d5d5d5"/>
<use href="#TLl" fill="#e5e5e5"/>
<use href="#TLr" fill="#e5e5e5"/>
</g>
<g filter="url(#b12)">
<ellipse cx="525" cy="468" rx="60" ry="48" fill="#f0f0f0"/>
</g>
</g></g>
<g clip-path="url(#cp2)"><g filter="url(#n2)"><g transform="translate(875 0)">
<rect x="90" y="80" width="770" height="770" fill="#aeaeae"/>
<g filter="url(#b24)">
<ellipse cx="212" cy="450" rx="22" ry="420" fill="#d0d0d0" transform="rotate(4.5 212 450)"/>
<ellipse cx="262" cy="500" rx="62" ry="42" fill="#cfcfcf" transform="rotate(-20 262 500)"/>
<ellipse cx="295" cy="300" rx="55" ry="260" fill="#bcbcbc" transform="rotate(5 295 300)"/>
<ellipse cx="300" cy="640" rx="70" ry="90" fill="#b8b8b8"/>
<ellipse cx="730" cy="130" rx="130" ry="40" fill="#c1c1c1"/>
<ellipse cx="745" cy="350" rx="110" ry="70" fill="#a8a8a8"/>
<ellipse cx="650" cy="625" rx="160" ry="80" fill="#a8a8a8" transform="rotate(-20 650 625)"/>
<ellipse cx="390" cy="240" rx="60" ry="150" fill="#a9a9a9" transform="rotate(5 390 240)"/>
<ellipse cx="450" cy="794" rx="320" ry="16" fill="#d0d0d0"/>
<ellipse cx="300" cy="745" rx="90" ry="35" fill="#b6b6b6"/>
<ellipse cx="690" cy="755" rx="160" ry="28" fill="#bfbfbf"/>
<ellipse cx="230" cy="610" rx="50" ry="45" fill="#adadad"/>
<ellipse cx="520" cy="797" rx="50" ry="10" fill="#d9d9d9"/>
<ellipse cx="665" cy="798" rx="45" ry="9" fill="#dbdbdb"/>
<ellipse cx="560" cy="150" rx="70" ry="30" fill="#afafaf" transform="rotate(-20 560 150)"/>
<ellipse cx="800" cy="420" rx="40" ry="40" fill="#a8a8a8"/>
<ellipse cx="460" cy="660" rx="70" ry="45" fill="#b2b2b2"/>
<ellipse cx="250" cy="200" rx="40" ry="90" fill="#bdbdbd" transform="rotate(5 250 200)"/>
<use href="#Ym16" fill="#a0a0a0"/>
</g>
<g filter="url(#b1_6)">
<ellipse cx="531.6" cy="170.9" rx="2.4" ry="12.8" fill="#808080" transform="rotate(20.1 531.6 170.9)"/>
<ellipse cx="531.8" cy="214.9" rx="3.1" ry="12.2" fill="#757575" transform="rotate(13 531.8 214.9)"/>
<ellipse cx="506.8" cy="233.7" rx="3.9" ry="10.2" fill="#6d6d6d" transform="rotate(16 506.8 233.7)"/>
<ellipse cx="413.7" cy="230.8" rx="3.5" ry="7" fill="#575757" transform="rotate(19 413.7 230.8)"/>
<ellipse cx="477.9" cy="253.8" rx="3.4" ry="6.1" fill="#808080" transform="rotate(21.9 477.9 253.8)"/>
<ellipse cx="679.4" cy="100.7" rx="3.2" ry="15" fill="#575757" transform="rotate(16.9 679.4 100.7)"/>
<ellipse cx="420" cy="194.4" rx="2.8" ry="10" fill="#808080" transform="rotate(27.3 420 194.4)"/>
<ellipse cx="422.6" cy="210.2" rx="3.9" ry="13.2" fill="#808080" transform="rotate(13 422.6 210.2)"/>
<ellipse cx="474.6" cy="229.8" rx="2.3" ry="8.7" fill="#575757" transform="rotate(35.9 474.6 229.8)"/>
<ellipse cx="689.4" cy="123.1" rx="2.8" ry="15.1" fill="#5f5f5f" transform="rotate(15.9 689.4 123.1)"/>
<ellipse cx="543.9" cy="239.8" rx="3.3" ry="11.9" fill="#575757" transform="rotate(30.6 543.9 239.8)"/>
<ellipse cx="528.1" cy="176.4" rx="3.5" ry="9.8" fill="#666666" transform="rotate(26.6 528.1 176.4)"/>
<ellipse cx="635.3" cy="158.4" rx="2.2" ry="13.8" fill="#757575" transform="rotate(12.6 635.3 158.4)"/>
<ellipse cx="541.7" cy="234.8" rx="3.1" ry="6.7" fill="#808080" transform="rotate(27.5 541.7 234.8)"/>
<ellipse cx="423.3" cy="244.5" rx="2.7" ry="14.6" fill="#666666" transform="rotate(20.9 423.3 244.5)"/>
<ellipse cx="591.9" cy="132.5" rx="3.8" ry="6.3" fill="#575757" transform="rotate(34.5 591.9 132.5)"/>
<ellipse cx="633.8" cy="150" rx="4" ry="12.1" fill="#808080" transform="rotate(12.3 633.8 150)"/>
<ellipse cx="509.7" cy="216.2" rx="2.7" ry="7.4" fill="#575757" transform="rotate(25.5 509.7 216.2)"/>
<ellipse cx="559" cy="232.2" rx="2.8" ry="7.4" fill="#878787" transform="rotate(25.5 559 232.2)"/>
<ellipse cx="475.9" cy="213.5" rx="3" ry="7" fill="#666666" transform="rotate(13.2 475.9 213.5)"/>
<ellipse cx="551" cy="132.9" rx="3.6" ry="7.6" fill="#5f5f5f" transform="rotate(31 551 132.9)"/>
<ellipse cx="648.4" cy="138.5" rx="2.9" ry="11.6" fill="#6d6d6d" transform="rotate(21.3 648.4 138.5)"/>
<ellipse cx="446" cy="191.6" rx="3.1" ry="15.4" fill="#757575" transform="rotate(12.7 446 191.6)"/>
<ellipse cx="555.6" cy="199.5" rx="3.3" ry="14" fill="#666666" transform="rotate(33.1 555.6 199.5)"/>
<ellipse cx="595.2" cy="105.5" rx="3.8" ry="8.3" fill="#808080" transform="rotate(31.8 595.2 105.5)"/>
<ellipse cx="653.4" cy="106.8" rx="2.2" ry="6.5" fill="#666666" transform="rotate(21.8 653.4 106.8)"/>
<ellipse cx="568.6" cy="115.3" rx="3.2" ry="7.8" fill="#878787" transform="rotate(13.6 568.6 115.3)"/>
<ellipse cx="499.7" cy="189.3" rx="2.9" ry="13" fill="#666666" transform="rotate(13.8 499.7 189.3)"/>
<ellipse cx="531.8" cy="185.3" rx="4" ry="15.9" fill="#808080" transform="rotate(32 531.8 185.3)"/>
<ellipse cx="463.2" cy="248.2" rx="3.9" ry="7.1" fill="#808080" transform="rotate(13.3 463.2 248.2)"/>
<ellipse cx="417" cy="222.6" rx="2.7" ry="13.4" fill="#878787" transform="rotate(23.2 417 222.6)"/>
<ellipse cx="549" cy="170.2" rx="2.2" ry="6.1" fill="#5f5f5f" transform="rotate(30.3 549 170.2)"/>
<ellipse cx="596.4" cy="102.9" rx="3.9" ry="6.2" fill="#757575" transform="rotate(14.5 596.4 102.9)"/>
<ellipse cx="631" cy="111" rx="3" ry="9.2" fill="#757575" transform="rotate(33 631 111)"/>
<ellipse cx="450.1" cy="167.2" rx="3.9" ry="14.8" fill="#6d6d6d" transform="rotate(34.1 450.1 167.2)"/>
<ellipse cx="680.4" cy="117.9" rx="2.9" ry="10.2" fill="#757575" transform="rotate(19.7 680.4 117.9)"/>
<ellipse cx="529.5" cy="173.2" rx="2.8" ry="9.3" fill="#757575" transform="rotate(16.1 529.5 173.2)"/>
<ellipse cx="555.4" cy="135.8" rx="2.7" ry="15" fill="#5f5f5f" transform="rotate(34.6 555.4 135.8)"/>
<ellipse cx="420.3" cy="285.2" rx="3.2" ry="15.4" fill="#666666" transform="rotate(28.1 420.3 285.2)"/>
<ellipse cx="508.5" cy="232.4" rx="2.7" ry="6.2" fill="#575757" transform="rotate(25.3 508.5 232.4)"/>
<ellipse cx="490.5" cy="258.4" rx="3" ry="10.6" fill="#666666" transform="rotate(12.1 490.5 258.4)"/>
<ellipse cx="665.7" cy="139" rx="2" ry="15.2" fill="#808080" transform="rotate(13 665.7 139)"/>
<ellipse cx="423.3" cy="256.6" rx="3.3" ry="10" fill="#6d6d6d" transform="rotate(33.3 423.3 256.6)"/>
<ellipse cx="544.3" cy="125.6" rx="2.7" ry="15.5" fill="#5f5f5f" transform="rotate(16.8 544.3 125.6)"/>
<ellipse cx="485.3" cy="268.6" rx="3" ry="14.7" fill="#757575" transform="rotate(28.3 485.3 268.6)"/>
<ellipse cx="528.2" cy="229.2" rx="2.4" ry="7.5" fill="#808080" transform="rotate(28.3 528.2 229.2)"/>
<ellipse cx="614.4" cy="109.7" rx="3.9" ry="6.3" fill="#757575" transform="rotate(16.5 614.4 109.7)"/>
<ellipse cx="457.2" cy="203.2" rx="2.4" ry="8" fill="#6d6d6d" transform="rotate(28.5 457.2 203.2)"/>
<ellipse cx="519.8" cy="260.9" rx="3.9" ry="13.2" fill="#878787" transform="rotate(23.9 519.8 260.9)"/>
<ellipse cx="413" cy="253.5" rx="3.8" ry="10.4" fill="#6d6d6d" transform="rotate(29.4 413 253.5)"/>
<ellipse cx="444" cy="211.6" rx="2.5" ry="8.5" fill="#757575" transform="rotate(23.3 444 211.6)"/>
<ellipse cx="550" cy="244.6" rx="3.9" ry="11.4" fill="#878787" transform="rotate(28.1 550 244.6)"/>
<ellipse cx="411.7" cy="262.2" rx="3.9" ry="12.6" fill="#666666" transform="rotate(20.1 411.7 262.2)"/>
<ellipse cx="603.6" cy="162.7" rx="2.1" ry="10.1" fill="#6d6d6d" transform="rotate(30.7 603.6 162.7)"/>
<ellipse cx="437.4" cy="209.1" rx="3.3" ry="14" fill="#808080" transform="rotate(34.2 437.4 209.1)"/>
<ellipse cx="507.5" cy="243.8" rx="2.3" ry="9.8" fill="#666666" transform="rotate(35 507.5 243.8)"/>
<ellipse cx="512.1" cy="154.3" rx="3.5" ry="14.4" fill="#6d6d6d" transform="rotate(28 512.1 154.3)"/>
<ellipse cx="577" cy="197.3" rx="3" ry="8.5" fill="#6d6d6d" transform="rotate(26.7 577 197.3)"/>
<ellipse cx="412.3" cy="200.4" rx="3.9" ry="7" fill="#757575" transform="rotate(32.7 412.3 200.4)"/>
<ellipse cx="453.4" cy="236.9" rx="2.6" ry="8.3" fill="#757575" transform="rotate(16.3 453.4 236.9)"/>
<ellipse cx="504.2" cy="221.3" rx="3.1" ry="7.6" fill="#757575" transform="rotate(28.3 504.2 221.3)"/>
<ellipse cx="434.3" cy="284.8" rx="2.1" ry="6.2" fill="#878787" transform="rotate(32.2 434.3 284.8)"/>
<ellipse cx="604.4" cy="168" rx="3.5" ry="15.1" fill="#666666" transform="rotate(14.3 604.4 168)"/>
<ellipse cx="515.4" cy="181" rx="2.1" ry="11.7" fill="#808080" transform="rotate(24.2 515.4 181)"/>
<ellipse cx="497.9" cy="197.9" rx="2.1" ry="15.7" fill="#6d6d6d" transform="rotate(19.5 497.9 197.9)"/>
<ellipse cx="529.9" cy="154.7" rx="4" ry="10.2" fill="#575757" transform="rotate(30.2 529.9 154.7)"/>
<ellipse cx="516.8" cy="169.3" rx="2.1" ry="15.5" fill="#757575" transform="rotate(21.8 516.8 169.3)"/>
<ellipse cx="676.2" cy="134.8" rx="2.2" ry="13.2" fill="#5f5f5f" transform="rotate(19.7 676.2 134.8)"/>
<ellipse cx="540.9" cy="158.7" rx="2.8" ry="15.4" fill="#878787" transform="rotate(35.4 540.9 158.7)"/>
<ellipse cx="430.1" cy="209.7" rx="2.9" ry="7" fill="#808080" transform="rotate(24.1 430.1 209.7)"/>
<ellipse cx="681.8" cy="114" rx="3.3" ry="7.4" fill="#666666" transform="rotate(29.9 681.8 114)"/>
<ellipse cx="657.4" cy="137.6" rx="2.6" ry="13.3" fill="#6d6d6d" transform="rotate(31.4 657.4 137.6)"/>
<ellipse cx="648.9" cy="111.1" rx="3.3" ry="10.8" fill="#666666" transform="rotate(14.1 648.9 111.1)"/>
<ellipse cx="515.3" cy="247.8" rx="2.7" ry="14" fill="#5f5f5f" transform="rotate(15.9 515.3 247.8)"/>
<ellipse cx="516.8" cy="194.4" rx="3.2" ry="6.1" fill="#878787" transform="rotate(18.8 516.8 194.4)"/>
<ellipse cx="602.1" cy="115.2" rx="3.4" ry="13.6" fill="#666666" transform="rotate(16.1 602.1 115.2)"/>
<ellipse cx="397" cy="265.9" rx="3.5" ry="14.8" fill="#666666" transform="rotate(34.9 397 265.9)"/>
<ellipse cx="446.8" cy="232.2" rx="3.4" ry="9.2" fill="#757575" transform="rotate(23.5 446.8 232.2)"/>
<ellipse cx="633.5" cy="113.2" rx="2.5" ry="8.9" fill="#6d6d6d" transform="rotate(21 633.5 113.2)"/>
<ellipse cx="443.5" cy="230.4" rx="3.1" ry="6.8" fill="#878787" transform="rotate(30.6 443.5 230.4)"/>
<ellipse cx="650.5" cy="154.6" rx="3.8" ry="13.8" fill="#6d6d6d" transform="rotate(22.7 650.5 154.6)"/>
<ellipse cx="445.4" cy="258.5" rx="3.8" ry="7" fill="#757575" transform="rotate(30.2 445.4 258.5)"/>
<ellipse cx="635.4" cy="147.6" rx="2.5" ry="8" fill="#757575" transform="rotate(28.7 635.4 147.6)"/>
<ellipse cx="593.8" cy="137.2" rx="3.1" ry="10.1" fill="#666666" transform="rotate(29.1 593.8 137.2)"/>
<ellipse cx="474.5" cy="146.6" rx="2.2" ry="8.7" fill="#5f5f5f" transform="rotate(15.6 474.5 146.6)"/>
<ellipse cx="573.7" cy="172.5" rx="3" ry="12" fill="#6d6d6d" transform="rotate(31.4 573.7 172.5)"/>
<ellipse cx="509.5" cy="203.7" rx="2.7" ry="8.2" fill="#575757" transform="rotate(31.4 509.5 203.7)"/>
<ellipse cx="464.7" cy="203.8" rx="2.2" ry="6.8" fill="#5f5f5f" transform="rotate(20.7 464.7 203.8)"/>
<ellipse cx="531.9" cy="169.8" rx="3.4" ry="11.4" fill="#808080" transform="rotate(27.7 531.9 169.8)"/>
<ellipse cx="597" cy="164.6" rx="2.1" ry="13.9" fill="#757575" transform="rotate(18.4 597 164.6)"/>
<ellipse cx="442.4" cy="255.8" rx="2.1" ry="11.7" fill="#878787" transform="rotate(31.3 442.4 255.8)"/>
<ellipse cx="400.1" cy="231.5" rx="2.1" ry="15.1" fill="#666666" transform="rotate(15.1 400.1 231.5)"/>
<ellipse cx="568.5" cy="191" rx="2.3" ry="7.1" fill="#6d6d6d" transform="rotate(24.1 568.5 191)"/>
<ellipse cx="437" cy="200.9" rx="2.7" ry="14.9" fill="#878787" transform="rotate(25.6 437 200.9)"/>
<ellipse cx="395.4" cy="248.8" rx="3.1" ry="7.7" fill="#575757" transform="rotate(27.8 395.4 248.8)"/>
<ellipse cx="499.2" cy="258.6" rx="2.3" ry="9.4" fill="#808080" transform="rotate(12.4 499.2 258.6)"/>
<ellipse cx="410.4" cy="238.3" rx="2.6" ry="14.6" fill="#808080" transform="rotate(19.3 410.4 238.3)"/>
<ellipse cx="416.3" cy="204.6" rx="2.4" ry="15" fill="#575757" transform="rotate(16.9 416.3 204.6)"/>
<ellipse cx="406" cy="257.8" rx="3.4" ry="12.6" fill="#808080" transform="rotate(26.2 406 257.8)"/>
<ellipse cx="424" cy="271.9" rx="3.5" ry="8.6" fill="#757575" transform="rotate(13.4 424 271.9)"/>
<ellipse cx="628" cy="145.1" rx="3.2" ry="10.3" fill="#878787" transform="rotate(29 628 145.1)"/>
<ellipse cx="552.2" cy="160.4" rx="3.2" ry="11.9" fill="#5f5f5f" transform="rotate(17.4 552.2 160.4)"/>
<ellipse cx="533.7" cy="151.6" rx="2.9" ry="8.1" fill="#878787" transform="rotate(22.8 533.7 151.6)"/>
<ellipse cx="533.9" cy="180.8" rx="2.4" ry="10.6" fill="#5f5f5f" transform="rotate(14.3 533.9 180.8)"/>
<ellipse cx="546.4" cy="149" rx="2.6" ry="10.1" fill="#666666" transform="rotate(34.7 546.4 149)"/>
<ellipse cx="546.6" cy="159.8" rx="2.4" ry="14.8" fill="#808080" transform="rotate(32.6 546.6 159.8)"/>
<ellipse cx="493" cy="269.6" rx="3.6" ry="10.5" fill="#878787" transform="rotate(31.6 493 269.6)"/>
<ellipse cx="573.1" cy="103.5" rx="2.4" ry="13.3" fill="#757575" transform="rotate(22.6 573.1 103.5)"/>
<ellipse cx="474.2" cy="273.2" rx="2.1" ry="10.3" fill="#6d6d6d" transform="rotate(19.8 474.2 273.2)"/>
<ellipse cx="587.5" cy="121.1" rx="2.2" ry="11.2" fill="#666666" transform="rotate(20.3 587.5 121.1)"/>
<ellipse cx="616.9" cy="181.4" rx="2.6" ry="11.5" fill="#757575" transform="rotate(12.7 616.9 181.4)"/>
<ellipse cx="517.8" cy="224.3" rx="2" ry="7.9" fill="#6d6d6d" transform="rotate(14.9 517.8 224.3)"/>
<ellipse cx="507.6" cy="167.2" rx="3.2" ry="6.6" fill="#6d6d6d" transform="rotate(22.1 507.6 167.2)"/>
<ellipse cx="452.2" cy="269.2" rx="2.5" ry="11.7" fill="#6d6d6d" transform="rotate(20.8 452.2 269.2)"/>
<ellipse cx="414.9" cy="212.8" rx="2.9" ry="15.4" fill="#757575" transform="rotate(21.3 414.9 212.8)"/>
<ellipse cx="544.2" cy="161.5" rx="2.7" ry="9.4" fill="#666666" transform="rotate(30.5 544.2 161.5)"/>
<ellipse cx="496.7" cy="144.7" rx="3.2" ry="15.1" fill="#575757" transform="rotate(34.1 496.7 144.7)"/>
<ellipse cx="542.7" cy="244.4" rx="3.9" ry="14.7" fill="#5f5f5f" transform="rotate(17.3 542.7 244.4)"/>
<ellipse cx="413.1" cy="264.2" rx="2.1" ry="13.9" fill="#6d6d6d" transform="rotate(30.7 413.1 264.2)"/>
<ellipse cx="461.7" cy="169" rx="3.5" ry="6.5" fill="#757575" transform="rotate(19.7 461.7 169)"/>
<ellipse cx="418.8" cy="265.1" rx="2" ry="7.1" fill="#666666" transform="rotate(16 418.8 265.1)"/>
<ellipse cx="459.7" cy="197.2" rx="3.5" ry="16" fill="#878787" transform="rotate(29.8 459.7 197.2)"/>
<ellipse cx="584.3" cy="186.7" rx="3.7" ry="9.8" fill="#878787" transform="rotate(15.6 584.3 186.7)"/>
<ellipse cx="643.4" cy="160.1" rx="3.1" ry="13.2" fill="#878787" transform="rotate(13.2 643.4 160.1)"/>
<ellipse cx="552.7" cy="195.1" rx="2.1" ry="13.5" fill="#666666" transform="rotate(20.2 552.7 195.1)"/>
<ellipse cx="511.1" cy="240.7" rx="3.2" ry="13.4" fill="#666666" transform="rotate(28.2 511.1 240.7)"/>
<ellipse cx="554.5" cy="236.3" rx="2.5" ry="7.7" fill="#878787" transform="rotate(16.6 554.5 236.3)"/>
<ellipse cx="420.4" cy="204.9" rx="3.8" ry="11" fill="#808080" transform="rotate(22.5 420.4 204.9)"/>
<ellipse cx="672.6" cy="117" rx="2.6" ry="13.2" fill="#757575" transform="rotate(17.9 672.6 117)"/>
<ellipse cx="400.2" cy="214.5" rx="3.5" ry="7.2" fill="#6d6d6d" transform="rotate(29.5 400.2 214.5)"/>
<ellipse cx="617.7" cy="130.4" rx="2.5" ry="14.1" fill="#5f5f5f" transform="rotate(35.5 617.7 130.4)"/>
<ellipse cx="452" cy="281.9" rx="2.4" ry="9.5" fill="#878787" transform="rotate(19.3 452 281.9)"/>
<ellipse cx="602.8" cy="179.4" rx="3.7" ry="15.5" fill="#5f5f5f" transform="rotate(14.2 602.8 179.4)"/>
<ellipse cx="501.1" cy="135.1" rx="3.4" ry="7.3" fill="#575757" transform="rotate(15.7 501.1 135.1)"/>
<ellipse cx="529.1" cy="165.5" rx="2.3" ry="13.2" fill="#808080" transform="rotate(18.3 529.1 165.5)"/>
<ellipse cx="423.9" cy="252.3" rx="2.1" ry="6.7" fill="#575757" transform="rotate(30 423.9 252.3)"/>
<ellipse cx="458.2" cy="178.6" rx="3.5" ry="15.6" fill="#878787" transform="rotate(19.6 458.2 178.6)"/>
<ellipse cx="579.5" cy="128" rx="2.1" ry="10.9" fill="#5f5f5f" transform="rotate(27.1 579.5 128)"/>
<ellipse cx="541.1" cy="202.6" rx="3.9" ry="12.8" fill="#757575" transform="rotate(23.4 541.1 202.6)"/>
<ellipse cx="542.3" cy="188.3" rx="2.3" ry="11.3" fill="#808080" transform="rotate(34.7 542.3 188.3)"/>
<ellipse cx="406.2" cy="276.5" rx="2.3" ry="13.7" fill="#5f5f5f" transform="rotate(12.6 406.2 276.5)"/>
<ellipse cx="546.2" cy="181" rx="2.3" ry="14" fill="#5f5f5f" transform="rotate(17.7 546.2 181)"/>
<ellipse cx="564.6" cy="223.8" rx="3.1" ry="6.1" fill="#808080" transform="rotate(24 564.6 223.8)"/>
<ellipse cx="450.8" cy="207.4" rx="2.1" ry="14.8" fill="#878787" transform="rotate(31.9 450.8 207.4)"/>
<ellipse cx="642" cy="156.5" rx="2.8" ry="9.1" fill="#5f5f5f" transform="rotate(28.2 642 156.5)"/>
<ellipse cx="501.3" cy="248" rx="3.8" ry="9.8" fill="#5f5f5f" transform="rotate(17.9 501.3 248)"/>
<ellipse cx="506" cy="267.6" rx="3.6" ry="10.9" fill="#5f5f5f" transform="rotate(22.8 506 267.6)"/>
<ellipse cx="522.8" cy="164.6" rx="3.7" ry="11.5" fill="#666666" transform="rotate(20.5 522.8 164.6)"/>
<ellipse cx="556.4" cy="199.3" rx="3.9" ry="9.3" fill="#666666" transform="rotate(15.5 556.4 199.3)"/>
<ellipse cx="446.6" cy="186.5" rx="2.1" ry="11.8" fill="#878787" transform="rotate(25.8 446.6 186.5)"/>
<ellipse cx="494.4" cy="167.2" rx="3.1" ry="7.5" fill="#757575" transform="rotate(27.7 494.4 167.2)"/>
<ellipse cx="589.9" cy="215" rx="3.9" ry="11.8" fill="#575757" transform="rotate(22.8 589.9 215)"/>
<ellipse cx="415.9" cy="262.3" rx="2.7" ry="10.2" fill="#666666" transform="rotate(33.1 415.9 262.3)"/>
<ellipse cx="542.4" cy="176.1" rx="3.8" ry="9.9" fill="#666666" transform="rotate(28.2 542.4 176.1)"/>
<ellipse cx="672.3" cy="116.8" rx="2.6" ry="11.1" fill="#575757" transform="rotate(16.4 672.3 116.8)"/>
<ellipse cx="414.6" cy="224.7" rx="2.9" ry="12.7" fill="#808080" transform="rotate(29 414.6 224.7)"/>
<ellipse cx="510.9" cy="144.8" rx="3.2" ry="9.4" fill="#575757" transform="rotate(13.1 510.9 144.8)"/>
<ellipse cx="462" cy="277.3" rx="3.8" ry="13.5" fill="#6d6d6d" transform="rotate(31.8 462 277.3)"/>
<ellipse cx="512.7" cy="182" rx="3.3" ry="13.9" fill="#666666" transform="rotate(20.4 512.7 182)"/>
<ellipse cx="552.5" cy="111.9" rx="3.6" ry="7.8" fill="#757575" transform="rotate(18.1 552.5 111.9)"/>
<ellipse cx="546.4" cy="137.2" rx="3.9" ry="13" fill="#757575" transform="rotate(31.4 546.4 137.2)"/>
<ellipse cx="557.1" cy="164" rx="2.1" ry="15.4" fill="#5f5f5f" transform="rotate(32 557.1 164)"/>
<ellipse cx="641.4" cy="106.8" rx="2.6" ry="12.2" fill="#575757" transform="rotate(32.5 641.4 106.8)"/>
<ellipse cx="489.7" cy="208.1" rx="2.4" ry="10" fill="#878787" transform="rotate(28.2 489.7 208.1)"/>
<ellipse cx="624.5" cy="174.1" rx="3.6" ry="14.5" fill="#666666" transform="rotate(31 624.5 174.1)"/>
<ellipse cx="511.1" cy="208.5" rx="3.5" ry="11" fill="#757575" transform="rotate(28.9 511.1 208.5)"/>
<ellipse cx="521.2" cy="254.3" rx="2.2" ry="7.9" fill="#5f5f5f" transform="rotate(19 521.2 254.3)"/>
<ellipse cx="523" cy="173.9" rx="2.1" ry="14.7" fill="#666666" transform="rotate(17.8 523 173.9)"/>
<ellipse cx="483.9" cy="188.9" rx="2.9" ry="11.9" fill="#6d6d6d" transform="rotate(34.3 483.9 188.9)"/>
<ellipse cx="572.9" cy="172.6" rx="2.6" ry="11.1" fill="#808080" transform="rotate(29.5 572.9 172.6)"/>
<ellipse cx="516.6" cy="143.6" rx="2.2" ry="6.5" fill="#5f5f5f" transform="rotate(29.5 516.6 143.6)"/>
<ellipse cx="475.2" cy="159.2" rx="3.1" ry="7.3" fill="#878787" transform="rotate(25.1 475.2 159.2)"/>
<ellipse cx="630.6" cy="135.3" rx="3.9" ry="8.6" fill="#6d6d6d" transform="rotate(18.8 630.6 135.3)"/>
<ellipse cx="643.2" cy="109.1" rx="2.2" ry="11.5" fill="#575757" transform="rotate(15.7 643.2 109.1)"/>
<ellipse cx="465" cy="263.9" rx="3.5" ry="16" fill="#808080" transform="rotate(27.1 465 263.9)"/>
<ellipse cx="540.7" cy="241.3" rx="2.8" ry="14.7" fill="#666666" transform="rotate(15.1 540.7 241.3)"/>
<ellipse cx="420.9" cy="289.8" rx="3" ry="10.7" fill="#757575" transform="rotate(17.7 420.9 289.8)"/>
<ellipse cx="417.9" cy="259.4" rx="3.5" ry="9.9" fill="#666666" transform="rotate(18.1 417.9 259.4)"/>
<ellipse cx="564.8" cy="184.4" rx="3.6" ry="10.7" fill="#808080" transform="rotate(25.3 564.8 184.4)"/>
<ellipse cx="572.7" cy="163.4" rx="3.6" ry="12.7" fill="#575757" transform="rotate(22.7 572.7 163.4)"/>
<ellipse cx="476.4" cy="190.9" rx="3" ry="7.9" fill="#6d6d6d" transform="rotate(33.3 476.4 190.9)"/>
<ellipse cx="467.6" cy="211" rx="3.8" ry="15.7" fill="#575757" transform="rotate(35.5 467.6 211)"/>
<ellipse cx="534.2" cy="231.8" rx="2.2" ry="9.7" fill="#808080" transform="rotate(27.5 534.2 231.8)"/>
<ellipse cx="441.7" cy="245.4" rx="2.5" ry="11.2" fill="#575757" transform="rotate(30.1 441.7 245.4)"/>
<ellipse cx="533.7" cy="184.6" rx="2.7" ry="8.2" fill="#6d6d6d" transform="rotate(30.1 533.7 184.6)"/>
<ellipse cx="512.2" cy="244.8" rx="2.9" ry="6.8" fill="#757575" transform="rotate(25.1 512.2 244.8)"/>
<ellipse cx="609.5" cy="132.3" rx="3.3" ry="15.4" fill="#666666" transform="rotate(15 609.5 132.3)"/>
<ellipse cx="621.1" cy="116.8" rx="2.4" ry="9.3" fill="#5f5f5f" transform="rotate(30.8 621.1 116.8)"/>
<ellipse cx="546.5" cy="208.9" rx="2.5" ry="14.9" fill="#5f5f5f" transform="rotate(28.3 546.5 208.9)"/>
<ellipse cx="442" cy="176.3" rx="2.4" ry="7" fill="#666666" transform="rotate(17.3 442 176.3)"/>
<ellipse cx="498.9" cy="222.3" rx="3.6" ry="9.2" fill="#575757" transform="rotate(13.3 498.9 222.3)"/>
<ellipse cx="541.8" cy="206.8" rx="3.2" ry="7.4" fill="#575757" transform="rotate(27.3 541.8 206.8)"/>
<ellipse cx="545.8" cy="167" rx="2" ry="13.1" fill="#6d6d6d" transform="rotate(22.5 545.8 167)"/>
<ellipse cx="554.9" cy="202.8" rx="3.2" ry="15.2" fill="#575757" transform="rotate(16.8 554.9 202.8)"/>
<ellipse cx="650" cy="150.6" rx="2.1" ry="11.5" fill="#575757" transform="rotate(31.7 650 150.6)"/>
<ellipse cx="462.5" cy="170" rx="4" ry="9.1" fill="#878787" transform="rotate(12.4 462.5 170)"/>
<ellipse cx="534.4" cy="220.6" rx="3.2" ry="12.7" fill="#878787" transform="rotate(29.9 534.4 220.6)"/>
<ellipse cx="505" cy="143.8" rx="3.9" ry="13.9" fill="#878787" transform="rotate(23.6 505 143.8)"/>
<ellipse cx="638.5" cy="150.9" rx="3.8" ry="15.5" fill="#878787" transform="rotate(34.7 638.5 150.9)"/>
<ellipse cx="535.2" cy="243.9" rx="3.2" ry="14.9" fill="#5f5f5f" transform="rotate(20.2 535.2 243.9)"/>
<ellipse cx="605.5" cy="140.8" rx="2.2" ry="9.1" fill="#757575" transform="rotate(32.2 605.5 140.8)"/>
<ellipse cx="552" cy="208.3" rx="3.1" ry="9.1" fill="#757575" transform="rotate(18.6 552 208.3)"/>
<ellipse cx="656.7" cy="100.8" rx="3.5" ry="13.2" fill="#575757" transform="rotate(27.6 656.7 100.8)"/>
<ellipse cx="595" cy="130" rx="3.4" ry="13.5" fill="#666666" transform="rotate(33.2 595 130)"/>
<ellipse cx="450.3" cy="224" rx="2.6" ry="13.9" fill="#666666" transform="rotate(24.3 450.3 224)"/>
<ellipse cx="528.9" cy="135.7" rx="2.9" ry="7.9" fill="#808080" transform="rotate(27.4 528.9 135.7)"/>
<ellipse cx="532.4" cy="246.4" rx="2.5" ry="15.2" fill="#666666" transform="rotate(12.8 532.4 246.4)"/>
<ellipse cx="649.2" cy="135.6" rx="2.3" ry="11.7" fill="#575757" transform="rotate(21.2 649.2 135.6)"/>
<ellipse cx="637.3" cy="127.9" rx="2.6" ry="15.7" fill="#808080" transform="rotate(30.8 637.3 127.9)"/>
<ellipse cx="610.7" cy="147.8" rx="3.5" ry="6.6" fill="#808080" transform="rotate(12.4 610.7 147.8)"/>
<ellipse cx="549.9" cy="181" rx="2.5" ry="12.5" fill="#575757" transform="rotate(33.6 549.9 181)"/>
<ellipse cx="606.3" cy="191.4" rx="2.9" ry="15.5" fill="#575757" transform="rotate(31.6 606.3 191.4)"/>
<ellipse cx="512.5" cy="173.2" rx="2.7" ry="14.6" fill="#757575" transform="rotate(20.7 512.5 173.2)"/>
<ellipse cx="461.1" cy="220.6" rx="3.9" ry="10.2" fill="#666666" transform="rotate(19.4 461.1 220.6)"/>
<ellipse cx="415.5" cy="250.5" rx="3.8" ry="15.1" fill="#575757" transform="rotate(17.3 415.5 250.5)"/>
<ellipse cx="446" cy="208.5" rx="2.6" ry="9.6" fill="#757575" transform="rotate(25.3 446 208.5)"/>
<ellipse cx="573" cy="188.5" rx="2.8" ry="13" fill="#808080" transform="rotate(23.7 573 188.5)"/>
<ellipse cx="518.4" cy="151.4" rx="3.9" ry="14.3" fill="#878787" transform="rotate(28.9 518.4 151.4)"/>
<ellipse cx="463.4" cy="234.8" rx="3.7" ry="10.1" fill="#808080" transform="rotate(22.1 463.4 234.8)"/>
<ellipse cx="450.6" cy="213.8" rx="2.1" ry="15" fill="#575757" transform="rotate(26.2 450.6 213.8)"/>
<ellipse cx="524.1" cy="171.8" rx="2.7" ry="8.1" fill="#666666" transform="rotate(33.7 524.1 171.8)"/>
<ellipse cx="499" cy="224.8" rx="2.2" ry="9" fill="#757575" transform="rotate(34 499 224.8)"/>
<ellipse cx="561.4" cy="142.2" rx="3.8" ry="15.7" fill="#878787" transform="rotate(27.8 561.4 142.2)"/>
<ellipse cx="577.5" cy="120" rx="3.1" ry="9.8" fill="#878787" transform="rotate(21 577.5 120)"/>
<ellipse cx="478.7" cy="245.1" rx="3.4" ry="15.8" fill="#5f5f5f" transform="rotate(17.3 478.7 245.1)"/>
<ellipse cx="432.4" cy="213" rx="2.7" ry="11.7" fill="#6d6d6d" transform="rotate(35.1 432.4 213)"/>
<ellipse cx="496.5" cy="228.4" rx="3.6" ry="9.5" fill="#808080" transform="rotate(33.8 496.5 228.4)"/>
<ellipse cx="565.6" cy="231.5" rx="3" ry="13.4" fill="#666666" transform="rotate(32.9 565.6 231.5)"/>
<ellipse cx="518.9" cy="236.6" rx="3.5" ry="12.3" fill="#878787" transform="rotate(16.6 518.9 236.6)"/>
<ellipse cx="472" cy="228.4" rx="3.2" ry="14.4" fill="#808080" transform="rotate(34.9 472 228.4)"/>
<ellipse cx="553.7" cy="200.9" rx="2.8" ry="10.8" fill="#666666" transform="rotate(12.3 553.7 200.9)"/>
<ellipse cx="547.5" cy="196" rx="3" ry="12.7" fill="#5f5f5f" transform="rotate(31.4 547.5 196)"/>
<ellipse cx="510.2" cy="239.8" rx="2.5" ry="12.2" fill="#5f5f5f" transform="rotate(23.8 510.2 239.8)"/>
<ellipse cx="625.9" cy="180" rx="3.2" ry="7.7" fill="#666666" transform="rotate(30.6 625.9 180)"/>
<ellipse cx="464.2" cy="164.3" rx="2.4" ry="8.8" fill="#808080" transform="rotate(27.7 464.2 164.3)"/>
<ellipse cx="420.6" cy="195.2" rx="2.5" ry="13.3" fill="#5f5f5f" transform="rotate(24.2 420.6 195.2)"/>
<ellipse cx="518.2" cy="194" rx="2.7" ry="13.4" fill="#808080" transform="rotate(18.7 518.2 194)"/>
<ellipse cx="448.4" cy="167.8" rx="2.9" ry="10.5" fill="#878787" transform="rotate(34.9 448.4 167.8)"/>
<ellipse cx="405.8" cy="210.2" rx="4" ry="9.1" fill="#878787" transform="rotate(19.4 405.8 210.2)"/>
<ellipse cx="610.6" cy="188.1" rx="2.5" ry="11.6" fill="#878787" transform="rotate(20.7 610.6 188.1)"/>
<ellipse cx="493.4" cy="263.3" rx="3.4" ry="10.6" fill="#6d6d6d" transform="rotate(28.5 493.4 263.3)"/>
<ellipse cx="542.8" cy="191.6" rx="3.3" ry="10.6" fill="#878787" transform="rotate(13.4 542.8 191.6)"/>
<ellipse cx="651.4" cy="134.4" rx="2.5" ry="10.9" fill="#575757" transform="rotate(25.6 651.4 134.4)"/>
<ellipse cx="540.6" cy="245" rx="2.9" ry="14.1" fill="#666666" transform="rotate(35.7 540.6 245)"/>
<ellipse cx="567.3" cy="205.2" rx="2.2" ry="8.4" fill="#6d6d6d" transform="rotate(24 567.3 205.2)"/>
<ellipse cx="428.7" cy="252" rx="2.6" ry="15" fill="#757575" transform="rotate(31.1 428.7 252)"/>
<ellipse cx="480.2" cy="157.8" rx="2.7" ry="12.7" fill="#757575" transform="rotate(14.2 480.2 157.8)"/>
<ellipse cx="410.2" cy="245.4" rx="2.7" ry="12.2" fill="#575757" transform="rotate(35 410.2 245.4)"/>
<ellipse cx="430.9" cy="245.7" rx="3.4" ry="8.5" fill="#757575" transform="rotate(29.6 430.9 245.7)"/>
<ellipse cx="547.4" cy="132.7" rx="2.4" ry="8.5" fill="#575757" transform="rotate(21.2 547.4 132.7)"/>
<ellipse cx="651.8" cy="116.5" rx="2.9" ry="10.9" fill="#878787" transform="rotate(30.1 651.8 116.5)"/>
<ellipse cx="580.9" cy="172.4" rx="3.7" ry="9" fill="#878787" transform="rotate(20.6 580.9 172.4)"/>
<ellipse cx="582.1" cy="206.2" rx="2.9" ry="13.7" fill="#666666" transform="rotate(23.1 582.1 206.2)"/>
<ellipse cx="533" cy="222.6" rx="2.5" ry="15.7" fill="#575757" transform="rotate(27.2 533 222.6)"/>
<ellipse cx="453.5" cy="162.5" rx="3.1" ry="8.7" fill="#757575" transform="rotate(14 453.5 162.5)"/>
<ellipse cx="562.8" cy="127.5" rx="4" ry="13.4" fill="#5f5f5f" transform="rotate(19.2 562.8 127.5)"/>
<ellipse cx="539.5" cy="246.6" rx="3.1" ry="12.6" fill="#575757" transform="rotate(22.8 539.5 246.6)"/>
<ellipse cx="642.9" cy="148.3" rx="3.3" ry="13.5" fill="#575757" transform="rotate(25.7 642.9 148.3)"/>
<ellipse cx="429.5" cy="276.4" rx="2.4" ry="15.9" fill="#6d6d6d" transform="rotate(12.2 429.5 276.4)"/>
<ellipse cx="429.5" cy="235.5" rx="3.1" ry="14.4" fill="#666666" transform="rotate(30.6 429.5 235.5)"/>
<ellipse cx="571.5" cy="210.3" rx="3" ry="10.1" fill="#575757" transform="rotate(23.2 571.5 210.3)"/>
<ellipse cx="412.2" cy="282" rx="2.2" ry="7.9" fill="#575757" transform="rotate(31.4 412.2 282)"/>
<ellipse cx="402.5" cy="266.4" rx="2.9" ry="13.6" fill="#878787" transform="rotate(25.8 402.5 266.4)"/>
<ellipse cx="448" cy="272.4" rx="2.5" ry="13.2" fill="#666666" transform="rotate(18 448 272.4)"/>
<ellipse cx="665.4" cy="108.5" rx="3.7" ry="15" fill="#5f5f5f" transform="rotate(18.3 665.4 108.5)"/>
<ellipse cx="395.1" cy="246.5" rx="2.9" ry="7.4" fill="#666666" transform="rotate(12.5 395.1 246.5)"/>
<ellipse cx="399.4" cy="267.3" rx="3.3" ry="14.4" fill="#6d6d6d" transform="rotate(16.3 399.4 267.3)"/>
<ellipse cx="443.2" cy="233.6" rx="2.7" ry="12" fill="#666666" transform="rotate(22.5 443.2 233.6)"/>
<ellipse cx="533.2" cy="154.4" rx="2.7" ry="7.5" fill="#878787" transform="rotate(14.4 533.2 154.4)"/>
<ellipse cx="633.4" cy="109.5" rx="3.1" ry="7.9" fill="#666666" transform="rotate(22 633.4 109.5)"/>
<ellipse cx="511.9" cy="170.5" rx="3.3" ry="10" fill="#666666" transform="rotate(14.7 511.9 170.5)"/>
<ellipse cx="418" cy="221" rx="3.9" ry="11.5" fill="#808080" transform="rotate(14.2 418 221)"/>
<ellipse cx="640.2" cy="143.6" rx="2.1" ry="8.8" fill="#757575" transform="rotate(14.9 640.2 143.6)"/>
<ellipse cx="469.4" cy="279.6" rx="3.6" ry="10" fill="#878787" transform="rotate(24 469.4 279.6)"/>
<ellipse cx="520.1" cy="174.8" rx="2.4" ry="11.7" fill="#757575" transform="rotate(34.8 520.1 174.8)"/>
<ellipse cx="652.7" cy="131.6" rx="2.5" ry="6.4" fill="#575757" transform="rotate(20.5 652.7 131.6)"/>
<ellipse cx="477.6" cy="173.3" rx="2.3" ry="11.3" fill="#666666" transform="rotate(16.1 477.6 173.3)"/>
<ellipse cx="625.8" cy="119.7" rx="2.9" ry="15.4" fill="#6d6d6d" transform="rotate(24.7 625.8 119.7)"/>
<ellipse cx="624.4" cy="161.6" rx="2.8" ry="8.3" fill="#878787" transform="rotate(29.6 624.4 161.6)"/>
<ellipse cx="599.6" cy="178.3" rx="2.1" ry="11" fill="#6d6d6d" transform="rotate(24.9 599.6 178.3)"/>
<ellipse cx="538.9" cy="161.8" rx="3.2" ry="8.2" fill="#6d6d6d" transform="rotate(22.5 538.9 161.8)"/>
<ellipse cx="511.1" cy="160.4" rx="3.1" ry="15.5" fill="#5f5f5f" transform="rotate(25.8 511.1 160.4)"/>
<ellipse cx="448.6" cy="243.8" rx="3.2" ry="7" fill="#808080" transform="rotate(33.7 448.6 243.8)"/>
<ellipse cx="557" cy="123.5" rx="3" ry="8.4" fill="#6d6d6d" transform="rotate(33.9 557 123.5)"/>
<ellipse cx="623.4" cy="177.6" rx="3.8" ry="11.1" fill="#6d6d6d" transform="rotate(29.4 623.4 177.6)"/>
<ellipse cx="616" cy="116.7" rx="3.3" ry="9.4" fill="#808080" transform="rotate(24.4 616 116.7)"/>
<ellipse cx="582.7" cy="191.3" rx="3.6" ry="9.9" fill="#666666" transform="rotate(33.1 582.7 191.3)"/>
<ellipse cx="521.6" cy="173.5" rx="3.8" ry="11.3" fill="#575757" transform="rotate(26.3 521.6 173.5)"/>
<ellipse cx="658.9" cy="107.3" rx="2.9" ry="7.6" fill="#5f5f5f" transform="rotate(19.6 658.9 107.3)"/>
<ellipse cx="518.7" cy="157.7" rx="2.3" ry="6.1" fill="#878787" transform="rotate(19.1 518.7 157.7)"/>
<ellipse cx="496.8" cy="157.1" rx="2.3" ry="15" fill="#757575" transform="rotate(19.9 496.8 157.1)"/>
<ellipse cx="556.1" cy="235.2" rx="2.8" ry="10.4" fill="#575757" transform="rotate(31 556.1 235.2)"/>
<ellipse cx="450" cy="261.9" rx="2.4" ry="9" fill="#575757" transform="rotate(28.4 450 261.9)"/>
<ellipse cx="564.9" cy="159.8" rx="3.2" ry="11.7" fill="#575757" transform="rotate(32.3 564.9 159.8)"/>
<ellipse cx="427.4" cy="196.4" rx="2.2" ry="14.1" fill="#878787" transform="rotate(35.4 427.4 196.4)"/>
<ellipse cx="506.7" cy="133.5" rx="2.7" ry="14.7" fill="#757575" transform="rotate(30.1 506.7 133.5)"/>
<ellipse cx="543.3" cy="167" rx="2.3" ry="11.8" fill="#6d6d6d" transform="rotate(18.8 543.3 167)"/>
<ellipse cx="507.5" cy="203.4" rx="3.8" ry="12" fill="#6d6d6d" transform="rotate(12.2 507.5 203.4)"/>
<ellipse cx="558.6" cy="144.5" rx="3.2" ry="9" fill="#5f5f5f" transform="rotate(21.3 558.6 144.5)"/>
<ellipse cx="559.1" cy="107.1" rx="3.7" ry="15.3" fill="#6d6d6d" transform="rotate(20.4 559.1 107.1)"/>
<ellipse cx="540.3" cy="135.3" rx="3.9" ry="14.3" fill="#6d6d6d" transform="rotate(30.8 540.3 135.3)"/>
<ellipse cx="582" cy="219.6" rx="2.4" ry="11.5" fill="#666666" transform="rotate(28 582 219.6)"/>
<ellipse cx="599.2" cy="153" rx="3" ry="8.4" fill="#666666" transform="rotate(16.6 599.2 153)"/>
<ellipse cx="472.7" cy="260.5" rx="3.9" ry="7.2" fill="#666666" transform="rotate(30.5 472.7 260.5)"/>
<ellipse cx="566.6" cy="218.7" rx="2.8" ry="13.9" fill="#6d6d6d" transform="rotate(16.5 566.6 218.7)"/>
<ellipse cx="445.6" cy="238.8" rx="3.9" ry="11.1" fill="#878787" transform="rotate(25.4 445.6 238.8)"/>
<ellipse cx="476.6" cy="155.4" rx="2.1" ry="7.9" fill="#5f5f5f" transform="rotate(25.2 476.6 155.4)"/>
<ellipse cx="621" cy="187.2" rx="3.1" ry="7.8" fill="#757575" transform="rotate(18.4 621 187.2)"/>
<ellipse cx="423.7" cy="285.1" rx="2.4" ry="13.4" fill="#878787" transform="rotate(13.7 423.7 285.1)"/>
<ellipse cx="538.9" cy="206.9" rx="3.1" ry="14.4" fill="#575757" transform="rotate(35.2 538.9 206.9)"/>
<ellipse cx="401.7" cy="265.5" rx="2.7" ry="10.1" fill="#666666" transform="rotate(13.2 401.7 265.5)"/>
<ellipse cx="606.5" cy="135" rx="2" ry="7.5" fill="#6d6d6d" transform="rotate(28.7 606.5 135)"/>
<ellipse cx="608.4" cy="152.5" rx="2.6" ry="9.3" fill="#808080" transform="rotate(35.2 608.4 152.5)"/>
<ellipse cx="424.1" cy="248" rx="2.5" ry="15.8" fill="#5f5f5f" transform="rotate(29.3 424.1 248)"/>
<ellipse cx="633.9" cy="129.6" rx="4" ry="7.3" fill="#666666" transform="rotate(35.2 633.9 129.6)"/>
<ellipse cx="574.1" cy="128.2" rx="4" ry="10.5" fill="#757575" transform="rotate(25.1 574.1 128.2)"/>
<ellipse cx="463.5" cy="183.4" rx="3.5" ry="15.3" fill="#6d6d6d" transform="rotate(34 463.5 183.4)"/>
<ellipse cx="500.6" cy="185.7" rx="3" ry="6.5" fill="#878787" transform="rotate(33.8 500.6 185.7)"/>
<ellipse cx="424" cy="191.8" rx="3.2" ry="7.9" fill="#5f5f5f" transform="rotate(33.7 424 191.8)"/>
<ellipse cx="536.9" cy="182.6" rx="2.8" ry="11.5" fill="#666666" transform="rotate(24.1 536.9 182.6)"/>
<ellipse cx="608.9" cy="169" rx="2.1" ry="12.1" fill="#757575" transform="rotate(33.1 608.9 169)"/>
<ellipse cx="484.2" cy="161.5" rx="3" ry="11.2" fill="#808080" transform="rotate(15.2 484.2 161.5)"/>
<ellipse cx="564.7" cy="134.1" rx="2.2" ry="9.6" fill="#757575" transform="rotate(22.6 564.7 134.1)"/>
<ellipse cx="590.7" cy="101.3" rx="2" ry="7" fill="#666666" transform="rotate(25.6 590.7 101.3)"/>
<ellipse cx="441.6" cy="202" rx="3.8" ry="8.7" fill="#5f5f5f" transform="rotate(18.5 441.6 202)"/>
<ellipse cx="483.7" cy="140.8" rx="3.5" ry="15.1" fill="#757575" transform="rotate(35.9 483.7 140.8)"/>
<ellipse cx="575.4" cy="180.4" rx="2.2" ry="11.2" fill="#808080" transform="rotate(31 575.4 180.4)"/>
<ellipse cx="569.2" cy="166.7" rx="3.5" ry="9.1" fill="#575757" transform="rotate(27.3 569.2 166.7)"/>
<ellipse cx="615.6" cy="158.1" rx="2.8" ry="9.3" fill="#878787" transform="rotate(30.4 615.6 158.1)"/>
<ellipse cx="491.6" cy="179.8" rx="3.9" ry="8.5" fill="#575757" transform="rotate(15.6 491.6 179.8)"/>
<ellipse cx="344.2" cy="283" rx="2.1" ry="17.2" fill="#999999" transform="rotate(31.6 344.2 283)"/>
<ellipse cx="346.5" cy="229.7" rx="3.3" ry="23.8" fill="#a0a0a0" transform="rotate(31 346.5 229.7)"/>
<ellipse cx="362.9" cy="259.9" rx="4" ry="25.1" fill="#929292" transform="rotate(17.3 362.9 259.9)"/>
<ellipse cx="377.6" cy="267.9" rx="2" ry="15" fill="#929292" transform="rotate(27.2 377.6 267.9)"/>
<ellipse cx="331.7" cy="151" rx="2.8" ry="18.4" fill="#999999" transform="rotate(17.5 331.7 151)"/>
<ellipse cx="414.6" cy="292.9" rx="3.5" ry="23.4" fill="#929292" transform="rotate(28 414.6 292.9)"/>
<ellipse cx="429" cy="236.7" rx="2.8" ry="14.4" fill="#a0a0a0" transform="rotate(24.2 429 236.7)"/>
<ellipse cx="382.2" cy="328.4" rx="3.7" ry="20.5" fill="#999999" transform="rotate(27.1 382.2 328.4)"/>
<ellipse cx="391.8" cy="161.3" rx="2.3" ry="15.8" fill="#999999" transform="rotate(18.9 391.8 161.3)"/>
<ellipse cx="417.5" cy="198.9" rx="3.6" ry="23.1" fill="#a0a0a0" transform="rotate(15 417.5 198.9)"/>
<ellipse cx="456.1" cy="288.4" rx="3.4" ry="13.4" fill="#a0a0a0" transform="rotate(16.8 456.1 288.4)"/>
<ellipse cx="350.6" cy="262.8" rx="2.3" ry="25.6" fill="#929292" transform="rotate(31.4 350.6 262.8)"/>
<ellipse cx="335" cy="158.7" rx="3" ry="12" fill="#a0a0a0" transform="rotate(16.1 335 158.7)"/>
<ellipse cx="434.2" cy="314.5" rx="3" ry="18.7" fill="#a0a0a0" transform="rotate(33.9 434.2 314.5)"/>
<ellipse cx="430.4" cy="178.7" rx="3.7" ry="24.6" fill="#a0a0a0" transform="rotate(18.4 430.4 178.7)"/>
<ellipse cx="430.8" cy="119.5" rx="3.7" ry="11.3" fill="#929292" transform="rotate(23.3 430.8 119.5)"/>
<ellipse cx="463" cy="110.9" rx="2.1" ry="10.2" fill="#929292" transform="rotate(15 463 110.9)"/>
<ellipse cx="469.9" cy="296.9" rx="2.5" ry="24.5" fill="#a0a0a0" transform="rotate(21.8 469.9 296.9)"/>
<ellipse cx="460.7" cy="219.1" rx="2.1" ry="18.3" fill="#929292" transform="rotate(23 460.7 219.1)"/>
<ellipse cx="454" cy="249.3" rx="2.9" ry="19.9" fill="#999999" transform="rotate(32.4 454 249.3)"/>
<ellipse cx="464.8" cy="194.7" rx="2.6" ry="15.9" fill="#a0a0a0" transform="rotate(26.8 464.8 194.7)"/>
<ellipse cx="394" cy="226.3" rx="2.9" ry="16.9" fill="#999999" transform="rotate(33.2 394 226.3)"/>
<ellipse cx="387.6" cy="185" rx="2.1" ry="18.1" fill="#a0a0a0" transform="rotate(32.4 387.6 185)"/>
<ellipse cx="419.1" cy="124.5" rx="3.4" ry="11.4" fill="#929292" transform="rotate(23.1 419.1 124.5)"/>
<ellipse cx="408.9" cy="218.1" rx="3.5" ry="22.1" fill="#929292" transform="rotate(25 408.9 218.1)"/>
<ellipse cx="453.9" cy="147" rx="2.7" ry="20.9" fill="#999999" transform="rotate(15.3 453.9 147)"/>
<ellipse cx="420.6" cy="137.6" rx="2.5" ry="24.7" fill="#a0a0a0" transform="rotate(21.6 420.6 137.6)"/>
<ellipse cx="465.5" cy="128.5" rx="3.1" ry="15.8" fill="#a0a0a0" transform="rotate(34 465.5 128.5)"/>
<ellipse cx="364.2" cy="149.6" rx="2.8" ry="23.1" fill="#929292" transform="rotate(21.1 364.2 149.6)"/>
<ellipse cx="357.5" cy="160" rx="3.5" ry="19.8" fill="#a0a0a0" transform="rotate(23.2 357.5 160)"/>
<ellipse cx="411.2" cy="131.2" rx="2.7" ry="22.1" fill="#999999" transform="rotate(33.2 411.2 131.2)"/>
<ellipse cx="391.9" cy="252.7" rx="2.1" ry="11.9" fill="#929292" transform="rotate(29.5 391.9 252.7)"/>
<ellipse cx="468.3" cy="309.6" rx="2.8" ry="16.6" fill="#999999" transform="rotate(28.5 468.3 309.6)"/>
<ellipse cx="355.3" cy="244" rx="2.4" ry="15.1" fill="#929292" transform="rotate(22.5 355.3 244)"/>
<ellipse cx="404.2" cy="241.7" rx="3.6" ry="19.7" fill="#999999" transform="rotate(31.9 404.2 241.7)"/>
<ellipse cx="448" cy="317.5" rx="3.8" ry="22.6" fill="#a0a0a0" transform="rotate(21.1 448 317.5)"/>
<ellipse cx="469.6" cy="208.5" rx="3.4" ry="16.7" fill="#929292" transform="rotate(17.5 469.6 208.5)"/>
<ellipse cx="353.2" cy="267.4" rx="3.2" ry="22.4" fill="#999999" transform="rotate(19.6 353.2 267.4)"/>
<ellipse cx="427.3" cy="161.3" rx="2.5" ry="21.8" fill="#929292" transform="rotate(17.9 427.3 161.3)"/>
<ellipse cx="421.9" cy="187.2" rx="2.4" ry="20.2" fill="#929292" transform="rotate(28.3 421.9 187.2)"/>
<ellipse cx="463" cy="122.7" rx="2.8" ry="11.8" fill="#999999" transform="rotate(15.9 463 122.7)"/>
<ellipse cx="456.9" cy="192.6" rx="2.1" ry="20.8" fill="#929292" transform="rotate(21.7 456.9 192.6)"/>
<ellipse cx="456.9" cy="142.8" rx="3.7" ry="23.1" fill="#929292" transform="rotate(27 456.9 142.8)"/>
<ellipse cx="450.3" cy="123.9" rx="3.3" ry="10.6" fill="#999999" transform="rotate(27.5 450.3 123.9)"/>
<ellipse cx="348.3" cy="224.5" rx="2.5" ry="23.8" fill="#999999" transform="rotate(30 348.3 224.5)"/>
<ellipse cx="791.6" cy="252.5" rx="2.4" ry="9.6" fill="#9d9d9d" transform="rotate(62 791.6 252.5)"/>
<ellipse cx="686.6" cy="417.1" rx="2.8" ry="18.8" fill="#878787" transform="rotate(68.9 686.6 417.1)"/>
<ellipse cx="750.2" cy="536.7" rx="2" ry="20.5" fill="#878787" transform="rotate(43.2 750.2 536.7)"/>
<ellipse cx="701.8" cy="376.6" rx="2.8" ry="12.5" fill="#878787" transform="rotate(52.8 701.8 376.6)"/>
<ellipse cx="648.2" cy="514.4" rx="2.5" ry="14.9" fill="#9d9d9d" transform="rotate(41.5 648.2 514.4)"/>
<ellipse cx="736.6" cy="254" rx="4.2" ry="10.5" fill="#878787" transform="rotate(49.1 736.6 254)"/>
<ellipse cx="661.3" cy="376.5" rx="3.3" ry="21.4" fill="#878787" transform="rotate(72.6 661.3 376.5)"/>
<ellipse cx="678.1" cy="489.8" rx="2.6" ry="15.8" fill="#8e8e8e" transform="rotate(42.2 678.1 489.8)"/>
<ellipse cx="715.5" cy="275.3" rx="3.4" ry="21.4" fill="#959595" transform="rotate(68.4 715.5 275.3)"/>
<ellipse cx="786.5" cy="448.4" rx="2.1" ry="17" fill="#959595" transform="rotate(42.7 786.5 448.4)"/>
<ellipse cx="733.7" cy="292.5" rx="4.3" ry="8.4" fill="#9d9d9d" transform="rotate(63.1 733.7 292.5)"/>
<ellipse cx="665.4" cy="446.5" rx="4.1" ry="19.4" fill="#9d9d9d" transform="rotate(64.3 665.4 446.5)"/>
<ellipse cx="656.5" cy="421" rx="2.6" ry="23.2" fill="#959595" transform="rotate(50.1 656.5 421)"/>
<ellipse cx="714" cy="256.4" rx="4.4" ry="9.6" fill="#9d9d9d" transform="rotate(54.1 714 256.4)"/>
<ellipse cx="682.7" cy="504.6" rx="3.5" ry="13.2" fill="#959595" transform="rotate(44.4 682.7 504.6)"/>
<ellipse cx="775" cy="392.2" rx="2.5" ry="15.9" fill="#8e8e8e" transform="rotate(59.6 775 392.2)"/>
<ellipse cx="830.5" cy="529.6" rx="3.7" ry="22.3" fill="#959595" transform="rotate(73.4 830.5 529.6)"/>
<ellipse cx="675.7" cy="335.4" rx="3.3" ry="16.9" fill="#8e8e8e" transform="rotate(50.4 675.7 335.4)"/>
<ellipse cx="709.7" cy="464.4" rx="2.4" ry="15.8" fill="#878787" transform="rotate(73 709.7 464.4)"/>
<ellipse cx="725.9" cy="278.5" rx="2.2" ry="18" fill="#959595" transform="rotate(43.8 725.9 278.5)"/>
<ellipse cx="653.9" cy="444" rx="4.1" ry="20.6" fill="#8e8e8e" transform="rotate(56.3 653.9 444)"/>
<ellipse cx="670.1" cy="404.7" rx="2.8" ry="22.3" fill="#9d9d9d" transform="rotate(64.1 670.1 404.7)"/>
<ellipse cx="738" cy="295.7" rx="3.2" ry="10.3" fill="#959595" transform="rotate(72.9 738 295.7)"/>
<ellipse cx="696.1" cy="403.9" rx="3.9" ry="10.9" fill="#8e8e8e" transform="rotate(64.7 696.1 403.9)"/>
<ellipse cx="762.2" cy="320.7" rx="2.9" ry="22" fill="#959595" transform="rotate(45.3 762.2 320.7)"/>
<ellipse cx="724.3" cy="508.3" rx="2.5" ry="22.9" fill="#8e8e8e" transform="rotate(53.9 724.3 508.3)"/>
<ellipse cx="732.5" cy="551.1" rx="2.2" ry="14.8" fill="#959595" transform="rotate(54.1 732.5 551.1)"/>
<ellipse cx="802" cy="481" rx="4.2" ry="18.5" fill="#878787" transform="rotate(41.9 802 481)"/>
<ellipse cx="796.6" cy="273.3" rx="2.2" ry="18.8" fill="#9d9d9d" transform="rotate(73.3 796.6 273.3)"/>
<ellipse cx="651.2" cy="386.1" rx="3.8" ry="8.8" fill="#878787" transform="rotate(62.9 651.2 386.1)"/>
<ellipse cx="784.7" cy="402.2" rx="2.4" ry="23.5" fill="#8e8e8e" transform="rotate(51.1 784.7 402.2)"/>
<ellipse cx="788.9" cy="339.7" rx="2.5" ry="20.9" fill="#9d9d9d" transform="rotate(69.5 788.9 339.7)"/>
<ellipse cx="795.3" cy="345.2" rx="3.4" ry="17.1" fill="#8e8e8e" transform="rotate(58 795.3 345.2)"/>
<ellipse cx="776" cy="455.7" rx="3" ry="19.5" fill="#8e8e8e" transform="rotate(66.1 776 455.7)"/>
<ellipse cx="640" cy="600" rx="75" ry="5" fill="#929292" transform="rotate(-27 640 600)"/>
<ellipse cx="655" cy="585" rx="60" ry="5" fill="#929292" transform="rotate(-27 655 585)"/>
<ellipse cx="625" cy="625" rx="50" ry="5" fill="#929292" transform="rotate(-27 625 625)"/>
<ellipse cx="690" cy="570" rx="40" ry="5" fill="#929292" transform="rotate(-27 690 570)"/>
<ellipse cx="678.4" cy="631.4" rx="16.6" ry="3.5" fill="#838383" transform="rotate(-40.7 678.4 631.4)"/>
<ellipse cx="670.2" cy="622.6" rx="17.5" ry="3.6" fill="#8a8a8a" transform="rotate(-31.6 670.2 622.6)"/>
<ellipse cx="656.2" cy="615" rx="22.4" ry="2.1" fill="#838383" transform="rotate(-30.2 656.2 615)"/>
<ellipse cx="725.2" cy="637.6" rx="17.7" ry="3.7" fill="#929292" transform="rotate(-34.2 725.2 637.6)"/>
<ellipse cx="673.8" cy="506.3" rx="21.6" ry="3.8" fill="#838383" transform="rotate(-26 673.8 506.3)"/>
<ellipse cx="677.7" cy="598.7" rx="14.5" ry="2.1" fill="#979797" transform="rotate(-40.5 677.7 598.7)"/>
<ellipse cx="724.9" cy="587.6" rx="12.3" ry="3.4" fill="#929292" transform="rotate(-37.9 724.9 587.6)"/>
<ellipse cx="617.1" cy="628.7" rx="21.6" ry="2.1" fill="#979797" transform="rotate(-27.2 617.1 628.7)"/>
<ellipse cx="591.3" cy="594.3" rx="13.7" ry="2.7" fill="#979797" transform="rotate(-34.8 591.3 594.3)"/>
<ellipse cx="695.9" cy="587.2" rx="12.7" ry="3.6" fill="#9d9d9d" transform="rotate(-54.2 695.9 587.2)"/>
<ellipse cx="719.5" cy="542.1" rx="16.2" ry="2.1" fill="#929292" transform="rotate(-36.1 719.5 542.1)"/>
<ellipse cx="591.3" cy="626" rx="24.8" ry="2.6" fill="#979797" transform="rotate(-28.3 591.3 626)"/>
<ellipse cx="660.5" cy="508" rx="16" ry="3" fill="#9d9d9d" transform="rotate(-55 660.5 508)"/>
<ellipse cx="694.2" cy="516.2" rx="22.9" ry="3.4" fill="#979797" transform="rotate(-46.3 694.2 516.2)"/>
<ellipse cx="592.6" cy="553.6" rx="12.8" ry="2.4" fill="#979797" transform="rotate(-52.2 592.6 553.6)"/>
<ellipse cx="721" cy="581.6" rx="25.8" ry="2.6" fill="#8a8a8a" transform="rotate(-45.6 721 581.6)"/>
<ellipse cx="594.3" cy="559.8" rx="10" ry="2.3" fill="#838383" transform="rotate(-38.5 594.3 559.8)"/>
<ellipse cx="621.4" cy="532.3" rx="15.8" ry="2.7" fill="#9d9d9d" transform="rotate(-29.2 621.4 532.3)"/>
<ellipse cx="631.4" cy="576.1" rx="11.3" ry="3.7" fill="#929292" transform="rotate(-37.6 631.4 576.1)"/>
<ellipse cx="724.1" cy="605.8" rx="10.1" ry="3" fill="#979797" transform="rotate(-33.3 724.1 605.8)"/>
<ellipse cx="706.6" cy="538.3" rx="16.2" ry="3.2" fill="#929292" transform="rotate(-38.5 706.6 538.3)"/>
<ellipse cx="606.7" cy="580.8" rx="17.6" ry="2.7" fill="#979797" transform="rotate(-48.9 606.7 580.8)"/>
<ellipse cx="673.6" cy="601.9" rx="15.3" ry="3.6" fill="#929292" transform="rotate(-27.5 673.6 601.9)"/>
<ellipse cx="708.8" cy="634.2" rx="15.9" ry="3.6" fill="#838383" transform="rotate(-46.5 708.8 634.2)"/>
<ellipse cx="692.6" cy="599" rx="14.9" ry="2.4" fill="#979797" transform="rotate(-42.1 692.6 599)"/>
<ellipse cx="623.7" cy="583.8" rx="13.4" ry="3.1" fill="#838383" transform="rotate(-27.1 623.7 583.8)"/>
<ellipse cx="713.8" cy="590.3" rx="16.2" ry="3.4" fill="#838383" transform="rotate(-27 713.8 590.3)"/>
<ellipse cx="660.6" cy="505.9" rx="17.9" ry="3.1" fill="#979797" transform="rotate(-41.7 660.6 505.9)"/>
<ellipse cx="603.9" cy="570.6" rx="21.9" ry="3.3" fill="#929292" transform="rotate(-27.9 603.9 570.6)"/>
<ellipse cx="678.7" cy="505" rx="21.3" ry="3.3" fill="#838383" transform="rotate(-47.8 678.7 505)"/>
<ellipse cx="658.2" cy="616.6" rx="12.5" ry="3.5" fill="#8a8a8a" transform="rotate(-46.2 658.2 616.6)"/>
<ellipse cx="722.2" cy="523" rx="25.5" ry="2.5" fill="#929292" transform="rotate(-27.2 722.2 523)"/>
<ellipse cx="639.9" cy="526.5" rx="11.7" ry="3.4" fill="#9d9d9d" transform="rotate(-30.6 639.9 526.5)"/>
<ellipse cx="644" cy="532.9" rx="18.7" ry="3.3" fill="#8a8a8a" transform="rotate(-47.9 644 532.9)"/>
<ellipse cx="698.2" cy="570" rx="24.4" ry="2.8" fill="#9d9d9d" transform="rotate(-36 698.2 570)"/>
<ellipse cx="713.7" cy="564.1" rx="24.2" ry="2.2" fill="#929292" transform="rotate(-46.6 713.7 564.1)"/>
<ellipse cx="715" cy="509.6" rx="22.7" ry="3.9" fill="#838383" transform="rotate(-44.9 715 509.6)"/>
<ellipse cx="709.6" cy="570.7" rx="19.4" ry="2.8" fill="#8a8a8a" transform="rotate(-40.7 709.6 570.7)"/>
<ellipse cx="641.5" cy="485.4" rx="5.3" ry="9.7" fill="#838383" transform="rotate(-24.8 641.5 485.4)"/>
<ellipse cx="638.9" cy="497.4" rx="4.8" ry="6.9" fill="#6d6d6d" transform="rotate(-7 638.9 497.4)"/>
<ellipse cx="626.7" cy="499.9" rx="3.4" ry="7.9" fill="#666666" transform="rotate(4.6 626.7 499.9)"/>
<ellipse cx="632.2" cy="517.3" rx="3.9" ry="9.9" fill="#838383" transform="rotate(-18.7 632.2 517.3)"/>
<ellipse cx="627.5" cy="499.5" rx="3.2" ry="8.1" fill="#6d6d6d" transform="rotate(10.5 627.5 499.5)"/>
<ellipse cx="616.7" cy="515" rx="5.1" ry="9.6" fill="#787878" transform="rotate(5.8 616.7 515)"/>
<ellipse cx="625.3" cy="536.5" rx="5.3" ry="6.5" fill="#666666" transform="rotate(7.7 625.3 536.5)"/>
<ellipse cx="632.5" cy="547.5" rx="4.2" ry="10.7" fill="#6d6d6d" transform="rotate(18.3 632.5 547.5)"/>
<ellipse cx="644.3" cy="500.9" rx="4.4" ry="12" fill="#6d6d6d" transform="rotate(-26.3 644.3 500.9)"/>
<ellipse cx="626.2" cy="512.5" rx="4.5" ry="9.7" fill="#838383" transform="rotate(24.9 626.2 512.5)"/>
<ellipse cx="636.8" cy="536.2" rx="4" ry="7.3" fill="#666666" transform="rotate(-28.6 636.8 536.2)"/>
<ellipse cx="640.2" cy="504.2" rx="3.3" ry="10.9" fill="#666666" transform="rotate(15.9 640.2 504.2)"/>
<ellipse cx="615.5" cy="533.7" rx="4.2" ry="8.2" fill="#838383" transform="rotate(8.8 615.5 533.7)"/>
<ellipse cx="644.6" cy="489.2" rx="5.7" ry="7.9" fill="#6d6d6d" transform="rotate(-26.8 644.6 489.2)"/>
<ellipse cx="630.3" cy="497.3" rx="3.3" ry="7" fill="#666666" transform="rotate(20.2 630.3 497.3)"/>
<ellipse cx="654.1" cy="505.5" rx="4.1" ry="8" fill="#6d6d6d" transform="rotate(-19.3 654.1 505.5)"/>
<ellipse cx="530.7" cy="602.7" rx="2.9" ry="10.1" fill="#6a6a6a" transform="rotate(181 530.7 602.7)"/>
<ellipse cx="446.2" cy="583.1" rx="2.7" ry="10.2" fill="#757575" transform="rotate(190.1 446.2 583.1)"/>
<ellipse cx="600.2" cy="548.8" rx="2.8" ry="14.1" fill="#757575" transform="rotate(136.8 600.2 548.8)"/>
<ellipse cx="426.1" cy="320.5" rx="1.9" ry="20.1" fill="#8a8a8a" transform="rotate(327.2 426.1 320.5)"/>
<ellipse cx="385.4" cy="467.4" rx="2" ry="11" fill="#808080" transform="rotate(270.7 385.4 467.4)"/>
<ellipse cx="475.5" cy="596" rx="2.4" ry="12.3" fill="#757575" transform="rotate(197.6 475.5 596)"/>
<ellipse cx="561.5" cy="312.9" rx="1.8" ry="23.7" fill="#8a8a8a" transform="rotate(385.7 561.5 312.9)"/>
<ellipse cx="460.7" cy="349.7" rx="2.2" ry="20" fill="#757575" transform="rotate(346.7 460.7 349.7)"/>
<ellipse cx="618.4" cy="534.4" rx="2" ry="12.5" fill="#808080" transform="rotate(123.9 618.4 534.4)"/>
<ellipse cx="427.9" cy="565.8" rx="2" ry="14.8" fill="#8a8a8a" transform="rotate(221.1 427.9 565.8)"/>
<ellipse cx="537.7" cy="318.6" rx="2.3" ry="23.6" fill="#6a6a6a" transform="rotate(381.1 537.7 318.6)"/>
<ellipse cx="654.3" cy="392.3" rx="2.1" ry="14.4" fill="#6a6a6a" transform="rotate(415.8 654.3 392.3)"/>
<ellipse cx="398.1" cy="520.8" rx="2.4" ry="11.9" fill="#808080" transform="rotate(232.7 398.1 520.8)"/>
<ellipse cx="571.2" cy="343.9" rx="2.4" ry="21.3" fill="#808080" transform="rotate(396.5 571.2 343.9)"/>
<ellipse cx="484.7" cy="335.7" rx="2.1" ry="25.9" fill="#808080" transform="rotate(366.3 484.7 335.7)"/>
<ellipse cx="388" cy="469" rx="2.1" ry="12.4" fill="#8a8a8a" transform="rotate(271.4 388 469)"/>
<ellipse cx="380" cy="380.6" rx="1.8" ry="15.6" fill="#757575" transform="rotate(305.3 380 380.6)"/>
<ellipse cx="621.2" cy="471.2" rx="2.6" ry="14.5" fill="#808080" transform="rotate(90.3 621.2 471.2)"/>
<ellipse cx="430.5" cy="570.1" rx="2.6" ry="15.8" fill="#6a6a6a" transform="rotate(199.6 430.5 570.1)"/>
<ellipse cx="560.6" cy="596.5" rx="2.3" ry="12.8" fill="#757575" transform="rotate(156 560.6 596.5)"/>
<ellipse cx="378.7" cy="469.3" rx="3" ry="12.4" fill="#6a6a6a" transform="rotate(280.6 378.7 469.3)"/>
<ellipse cx="487.2" cy="599.8" rx="2.2" ry="13.7" fill="#757575" transform="rotate(195.9 487.2 599.8)"/>
<ellipse cx="523.1" cy="614.8" rx="2.1" ry="14.5" fill="#808080" transform="rotate(185 523.1 614.8)"/>
<ellipse cx="352.4" cy="430.5" rx="2.4" ry="13.3" fill="#757575" transform="rotate(276.2 352.4 430.5)"/>
<ellipse cx="524.3" cy="327.6" rx="2.2" ry="25" fill="#6a6a6a" transform="rotate(382.3 524.3 327.6)"/>
<ellipse cx="477.8" cy="338.7" rx="2.9" ry="23.7" fill="#757575" transform="rotate(354.8 477.8 338.7)"/>
<ellipse cx="379.4" cy="475.8" rx="2.7" ry="12.2" fill="#808080" transform="rotate(247.3 379.4 475.8)"/>
<ellipse cx="380.3" cy="375.8" rx="2.1" ry="14.2" fill="#6a6a6a" transform="rotate(296.4 380.3 375.8)"/>
<ellipse cx="353.3" cy="398.4" rx="2.3" ry="13.9" fill="#757575" transform="rotate(289 353.3 398.4)"/>
<ellipse cx="632.4" cy="456.3" rx="1.9" ry="15.9" fill="#757575" transform="rotate(93.4 632.4 456.3)"/>
<ellipse cx="585.4" cy="340" rx="3" ry="19.6" fill="#8a8a8a" transform="rotate(386 585.4 340)"/>
<ellipse cx="491.7" cy="332.8" rx="2" ry="16.5" fill="#757575" transform="rotate(357 491.7 332.8)"/>
<ellipse cx="425.5" cy="556.8" rx="1.8" ry="14.7" fill="#6a6a6a" transform="rotate(228.2 425.5 556.8)"/>
<ellipse cx="359.4" cy="437.6" rx="2.5" ry="16.4" fill="#8a8a8a" transform="rotate(270.1 359.4 437.6)"/>
<ellipse cx="636" cy="354.3" rx="2" ry="12.1" fill="#808080" transform="rotate(402.7 636 354.3)"/>
<ellipse cx="567.4" cy="585.7" rx="2.5" ry="8.7" fill="#8a8a8a" transform="rotate(151.8 567.4 585.7)"/>
<ellipse cx="411.9" cy="335.4" rx="2.7" ry="23" fill="#808080" transform="rotate(324.6 411.9 335.4)"/>
<ellipse cx="644.2" cy="352.3" rx="2.6" ry="12.7" fill="#757575" transform="rotate(419 644.2 352.3)"/>
<ellipse cx="382.3" cy="504.3" rx="2" ry="12.2" fill="#757575" transform="rotate(245.1 382.3 504.3)"/>
<ellipse cx="649.8" cy="432.1" rx="3" ry="13.3" fill="#808080" transform="rotate(430.8 649.8 432.1)"/>
<ellipse cx="642.7" cy="391.4" rx="3.1" ry="19.8" fill="#8a8a8a" transform="rotate(423.1 642.7 391.4)"/>
<ellipse cx="448.9" cy="578.7" rx="2.3" ry="12" fill="#808080" transform="rotate(197.4 448.9 578.7)"/>
<ellipse cx="398.5" cy="507.3" rx="2.1" ry="9.8" fill="#757575" transform="rotate(237.9 398.5 507.3)"/>
<ellipse cx="420.2" cy="348.4" rx="2.9" ry="21.2" fill="#757575" transform="rotate(308.1 420.2 348.4)"/>
<ellipse cx="419.2" cy="275.5" rx="2.5" ry="20.9" fill="#8a8a8a" transform="rotate(333.1 419.2 275.5)"/>
<ellipse cx="480.6" cy="597.7" rx="2.1" ry="11.1" fill="#808080" transform="rotate(199.3 480.6 597.7)"/>
<ellipse cx="484.7" cy="345" rx="2.2" ry="14.2" fill="#8a8a8a" transform="rotate(335.9 484.7 345)"/>
<ellipse cx="613.5" cy="562.1" rx="2" ry="10.5" fill="#757575" transform="rotate(140.4 613.5 562.1)"/>
<ellipse cx="635.6" cy="415.9" rx="2.4" ry="16.2" fill="#808080" transform="rotate(439.5 635.6 415.9)"/>
<ellipse cx="507.3" cy="623.6" rx="2.2" ry="11.5" fill="#757575" transform="rotate(162.1 507.3 623.6)"/>
<ellipse cx="398.2" cy="518.6" rx="2.1" ry="10.6" fill="#808080" transform="rotate(221.8 398.2 518.6)"/>
<ellipse cx="444.1" cy="561.1" rx="3.2" ry="11.8" fill="#757575" transform="rotate(217.7 444.1 561.1)"/>
<ellipse cx="420.4" cy="551.2" rx="2.4" ry="12.3" fill="#757575" transform="rotate(206 420.4 551.2)"/>
<ellipse cx="576.4" cy="327.4" rx="2.3" ry="19.7" fill="#808080" transform="rotate(404.6 576.4 327.4)"/>
<ellipse cx="368.9" cy="434" rx="2.7" ry="10.2" fill="#808080" transform="rotate(271.1 368.9 434)"/>
<ellipse cx="401" cy="352.2" rx="2.9" ry="19.4" fill="#6a6a6a" transform="rotate(325.8 401 352.2)"/>
<ellipse cx="637.9" cy="521.3" rx="1.8" ry="9.8" fill="#757575" transform="rotate(131.3 637.9 521.3)"/>
<ellipse cx="576.8" cy="600.6" rx="3.1" ry="12.8" fill="#808080" transform="rotate(141 576.8 600.6)"/>
<ellipse cx="627.9" cy="382.1" rx="2.7" ry="19.3" fill="#6a6a6a" transform="rotate(406.7 627.9 382.1)"/>
<ellipse cx="575.5" cy="316" rx="1.9" ry="26.6" fill="#6a6a6a" transform="rotate(380.4 575.5 316)"/>
<ellipse cx="436.9" cy="552.4" rx="2.9" ry="12.1" fill="#6a6a6a" transform="rotate(217.3 436.9 552.4)"/>
<ellipse cx="649.7" cy="439.5" rx="2.9" ry="12.8" fill="#757575" transform="rotate(451 649.7 439.5)"/>
<ellipse cx="388.1" cy="488.2" rx="2.2" ry="9.2" fill="#8a8a8a" transform="rotate(263.6 388.1 488.2)"/>
<ellipse cx="362.8" cy="393.9" rx="2" ry="17" fill="#8a8a8a" transform="rotate(278.8 362.8 393.9)"/>
<ellipse cx="631" cy="467.9" rx="2.3" ry="10.6" fill="#6a6a6a" transform="rotate(93.8 631 467.9)"/>
<ellipse cx="409.6" cy="516" rx="1.9" ry="10" fill="#6a6a6a" transform="rotate(225.9 409.6 516)"/>
<ellipse cx="410.9" cy="522.8" rx="3.1" ry="13.9" fill="#6a6a6a" transform="rotate(221.9 410.9 522.8)"/>
<ellipse cx="638.3" cy="525.2" rx="2.1" ry="15.3" fill="#8a8a8a" transform="rotate(106.5 638.3 525.2)"/>
<ellipse cx="465.6" cy="342.8" rx="2.6" ry="21.9" fill="#6a6a6a" transform="rotate(351.4 465.6 342.8)"/>
<ellipse cx="478.9" cy="342.3" rx="2.1" ry="22.9" fill="#6a6a6a" transform="rotate(329.6 478.9 342.3)"/>
<ellipse cx="365.1" cy="435.5" rx="2.5" ry="13.6" fill="#757575" transform="rotate(269.5 365.1 435.5)"/>
<ellipse cx="457.2" cy="336.5" rx="2.2" ry="16.8" fill="#8a8a8a" transform="rotate(354.4 457.2 336.5)"/>
<ellipse cx="473.8" cy="616.1" rx="2.8" ry="15.8" fill="#757575" transform="rotate(182.5 473.8 616.1)"/>
<ellipse cx="627.3" cy="351.1" rx="2.2" ry="16.5" fill="#6a6a6a" transform="rotate(419.8 627.3 351.1)"/>
<ellipse cx="635.9" cy="351.2" rx="2.8" ry="13.9" fill="#808080" transform="rotate(399.5 635.9 351.2)"/>
<ellipse cx="403.9" cy="529.3" rx="2" ry="11.2" fill="#757575" transform="rotate(220.8 403.9 529.3)"/>
<ellipse cx="505.5" cy="311.2" rx="1.9" ry="19.5" fill="#6a6a6a" transform="rotate(375 505.5 311.2)"/>
<ellipse cx="395.9" cy="490.9" rx="2.8" ry="13.5" fill="#8a8a8a" transform="rotate(265.9 395.9 490.9)"/>
<ellipse cx="643.5" cy="434.9" rx="2.8" ry="13.3" fill="#8a8a8a" transform="rotate(453.5 643.5 434.9)"/>
<ellipse cx="630.4" cy="450.7" rx="2.7" ry="9.9" fill="#808080" transform="rotate(452.7 630.4 450.7)"/>
<ellipse cx="564.3" cy="308" rx="2" ry="18.7" fill="#6a6a6a" transform="rotate(398.5 564.3 308)"/>
<ellipse cx="413.7" cy="534.8" rx="3" ry="13.7" fill="#757575" transform="rotate(212.1 413.7 534.8)"/>
<ellipse cx="594.6" cy="563.9" rx="2.2" ry="9.1" fill="#808080" transform="rotate(134.5 594.6 563.9)"/>
<ellipse cx="450.1" cy="572" rx="2.7" ry="15.8" fill="#757575" transform="rotate(204.7 450.1 572)"/>
<ellipse cx="595.6" cy="330.1" rx="2.2" ry="15.2" fill="#6a6a6a" transform="rotate(407.8 595.6 330.1)"/>
<ellipse cx="644.9" cy="374" rx="2.2" ry="14.9" fill="#808080" transform="rotate(434.2 644.9 374)"/>
<ellipse cx="605.3" cy="357.1" rx="3.1" ry="16.8" fill="#757575" transform="rotate(403.1 605.3 357.1)"/>
<ellipse cx="638.2" cy="459.7" rx="2.5" ry="15.7" fill="#757575" transform="rotate(75 638.2 459.7)"/>
<ellipse cx="647.8" cy="403.2" rx="3" ry="17.1" fill="#8a8a8a" transform="rotate(447.1 647.8 403.2)"/>
<ellipse cx="624.3" cy="470.5" rx="2.2" ry="9.9" fill="#6a6a6a" transform="rotate(90.1 624.3 470.5)"/>
<ellipse cx="445.6" cy="567.5" rx="2.6" ry="10.8" fill="#757575" transform="rotate(223.9 445.6 567.5)"/>
<ellipse cx="475.3" cy="343.9" rx="2.3" ry="23.3" fill="#757575" transform="rotate(351.6 475.3 343.9)"/>
<ellipse cx="430.1" cy="336.1" rx="2.3" ry="22.2" fill="#808080" transform="rotate(311.1 430.1 336.1)"/>
<ellipse cx="421.3" cy="340.6" rx="2.6" ry="23" fill="#808080" transform="rotate(306 421.3 340.6)"/>
<ellipse cx="571.4" cy="600.3" rx="2.4" ry="8.7" fill="#808080" transform="rotate(138.4 571.4 600.3)"/>
<ellipse cx="405.5" cy="302.6" rx="2" ry="22.9" fill="#6a6a6a" transform="rotate(315.9 405.5 302.6)"/>
<ellipse cx="571.6" cy="601.8" rx="3.2" ry="8.3" fill="#6a6a6a" transform="rotate(147.2 571.6 601.8)"/>
<ellipse cx="441.1" cy="585.2" rx="1.8" ry="11.9" fill="#808080" transform="rotate(199 441.1 585.2)"/>
<ellipse cx="424.7" cy="277.6" rx="2.6" ry="22.6" fill="#6a6a6a" transform="rotate(332.3 424.7 277.6)"/>
<ellipse cx="568" cy="318.9" rx="2.9" ry="24.1" fill="#6a6a6a" transform="rotate(395.7 568 318.9)"/>
<ellipse cx="601.5" cy="335.1" rx="2.2" ry="19.1" fill="#6a6a6a" transform="rotate(415 601.5 335.1)"/>
<ellipse cx="402" cy="330.4" rx="2.4" ry="14.5" fill="#6a6a6a" transform="rotate(321.1 402 330.4)"/>
<ellipse cx="527.8" cy="312.2" rx="2.2" ry="17.9" fill="#6a6a6a" transform="rotate(368.5 527.8 312.2)"/>
<ellipse cx="362.8" cy="421.6" rx="2.8" ry="17.5" fill="#808080" transform="rotate(299.5 362.8 421.6)"/>
<ellipse cx="365.3" cy="442.3" rx="3.1" ry="9" fill="#808080" transform="rotate(258.5 365.3 442.3)"/>
<ellipse cx="520.4" cy="600.3" rx="1.8" ry="9.6" fill="#6a6a6a" transform="rotate(166.9 520.4 600.3)"/>
<ellipse cx="617.2" cy="535.8" rx="1.8" ry="11.6" fill="#8a8a8a" transform="rotate(126.3 617.2 535.8)"/>
<ellipse cx="630.5" cy="540.6" rx="3.1" ry="9" fill="#8a8a8a" transform="rotate(116.5 630.5 540.6)"/>
<ellipse cx="563.2" cy="302.1" rx="3.2" ry="14" fill="#6a6a6a" transform="rotate(384.9 563.2 302.1)"/>
<ellipse cx="527.8" cy="311.2" rx="2.2" ry="21.3" fill="#6a6a6a" transform="rotate(386.6 527.8 311.2)"/>
<ellipse cx="636.4" cy="392.9" rx="2.1" ry="12.4" fill="#808080" transform="rotate(411.4 636.4 392.9)"/>
<ellipse cx="507.3" cy="305.9" rx="2.6" ry="19.8" fill="#6a6a6a" transform="rotate(353.4 507.3 305.9)"/>
<ellipse cx="633.9" cy="361.1" rx="3.1" ry="22.5" fill="#808080" transform="rotate(422.5 633.9 361.1)"/>
<ellipse cx="372.5" cy="388" rx="2.8" ry="19.2" fill="#6a6a6a" transform="rotate(290.7 372.5 388)"/>
<ellipse cx="364.1" cy="447.3" rx="3.2" ry="15.6" fill="#808080" transform="rotate(260.1 364.1 447.3)"/>
<ellipse cx="642.4" cy="371.6" rx="2.2" ry="15.7" fill="#808080" transform="rotate(415 642.4 371.6)"/>
<ellipse cx="395.7" cy="511.7" rx="2.2" ry="13" fill="#757575" transform="rotate(256.3 395.7 511.7)"/>
<ellipse cx="526.9" cy="602.6" rx="2.5" ry="13.6" fill="#808080" transform="rotate(170.6 526.9 602.6)"/>
<ellipse cx="362.9" cy="421.4" rx="1.8" ry="16.5" fill="#808080" transform="rotate(299.5 362.9 421.4)"/>
<ellipse cx="570.8" cy="337.4" rx="2.6" ry="18.9" fill="#757575" transform="rotate(402 570.8 337.4)"/>
<ellipse cx="638.4" cy="446.4" rx="1.9" ry="8.8" fill="#6a6a6a" transform="rotate(446.8 638.4 446.4)"/>
<ellipse cx="425" cy="329.2" rx="2.7" ry="27.9" fill="#6a6a6a" transform="rotate(319.8 425 329.2)"/>
<ellipse cx="633.1" cy="383" rx="3" ry="19.8" fill="#808080" transform="rotate(420.6 633.1 383)"/>
<ellipse cx="350.1" cy="393.8" rx="1.8" ry="16.7" fill="#757575" transform="rotate(279.5 350.1 393.8)"/>
<ellipse cx="459.8" cy="350.6" rx="2.4" ry="21.6" fill="#6a6a6a" transform="rotate(346.7 459.8 350.6)"/>
<ellipse cx="409.2" cy="518.7" rx="2.8" ry="13.2" fill="#808080" transform="rotate(248.5 409.2 518.7)"/>
<ellipse cx="445.3" cy="574.7" rx="2.9" ry="9" fill="#6a6a6a" transform="rotate(220.2 445.3 574.7)"/>
<ellipse cx="372.4" cy="453" rx="1.8" ry="11.1" fill="#6a6a6a" transform="rotate(274.3 372.4 453)"/>
<ellipse cx="621.8" cy="488.3" rx="2.6" ry="15" fill="#6a6a6a" transform="rotate(96.7 621.8 488.3)"/>
<ellipse cx="441.5" cy="575.3" rx="2.3" ry="14.3" fill="#757575" transform="rotate(208.7 441.5 575.3)"/>
<ellipse cx="368.9" cy="416.8" rx="3" ry="15.8" fill="#6a6a6a" transform="rotate(273.8 368.9 416.8)"/>
<ellipse cx="522.8" cy="604.1" rx="2.1" ry="10" fill="#757575" transform="rotate(164.5 522.8 604.1)"/>
<ellipse cx="412.1" cy="534" rx="2.8" ry="8.8" fill="#757575" transform="rotate(214.4 412.1 534)"/>
<ellipse cx="598.7" cy="548" rx="3.2" ry="14" fill="#6a6a6a" transform="rotate(140.7 598.7 548)"/>
<ellipse cx="583.9" cy="574.8" rx="2" ry="9.3" fill="#808080" transform="rotate(163.4 583.9 574.8)"/>
<ellipse cx="570.2" cy="342.1" rx="2.1" ry="17.4" fill="#757575" transform="rotate(395.6 570.2 342.1)"/>
<ellipse cx="418.4" cy="522.2" rx="2.1" ry="12" fill="#6a6a6a" transform="rotate(236.2 418.4 522.2)"/>
<ellipse cx="462.5" cy="332.9" rx="2.1" ry="26.3" fill="#808080" transform="rotate(338.1 462.5 332.9)"/>
<ellipse cx="557.5" cy="322.6" rx="1.8" ry="13.7" fill="#8a8a8a" transform="rotate(388.8 557.5 322.6)"/>
<ellipse cx="636.8" cy="514.4" rx="2.5" ry="10.5" fill="#808080" transform="rotate(113.8 636.8 514.4)"/>
<ellipse cx="374.6" cy="342.3" rx="2.7" ry="23.1" fill="#6a6a6a" transform="rotate(326 374.6 342.3)"/>
<ellipse cx="626" cy="364.6" rx="1.8" ry="19.6" fill="#6a6a6a" transform="rotate(402.1 626 364.6)"/>
<ellipse cx="619" cy="352.7" rx="1.8" ry="26.6" fill="#757575" transform="rotate(398.3 619 352.7)"/>
<ellipse cx="611.8" cy="551.3" rx="2.9" ry="11.1" fill="#808080" transform="rotate(138.6 611.8 551.3)"/>
<ellipse cx="491.8" cy="296.6" rx="2.1" ry="20.4" fill="#808080" transform="rotate(355.3 491.8 296.6)"/>
<ellipse cx="438.1" cy="561.6" rx="1.9" ry="15.6" fill="#6a6a6a" transform="rotate(223.7 438.1 561.6)"/>
<ellipse cx="370.1" cy="400.9" rx="2.4" ry="14.3" fill="#6a6a6a" transform="rotate(285 370.1 400.9)"/>
<ellipse cx="543.1" cy="340.6" rx="2.1" ry="20.8" fill="#6a6a6a" transform="rotate(394.7 543.1 340.6)"/>
<ellipse cx="603.1" cy="338.3" rx="2.6" ry="18" fill="#6a6a6a" transform="rotate(393.6 603.1 338.3)"/>
<ellipse cx="629.9" cy="494.1" rx="2.7" ry="12.6" fill="#808080" transform="rotate(118.7 629.9 494.1)"/>
</g>
<g filter="url(#b2_5)">
<use href="#B0" fill="#9b9b9b" stroke="#9b9b9b" stroke-width="7.9" stroke-linejoin="round"/>
<use href="#B0" fill="#8e8e8e" stroke="#8e8e8e" stroke-width="4" stroke-linejoin="round"/>
<use href="#B1" fill="#9b9b9b" stroke="#9b9b9b" stroke-width="6.5" stroke-linejoin="round"/>
<use href="#B1" fill="#8e8e8e" stroke="#8e8e8e" stroke-width="3.3" stroke-linejoin="round"/>
<use href="#B2" fill="#9b9b9b" stroke="#9b9b9b" stroke-width="10.3" stroke-linejoin="round"/>
<use href="#B2" fill="#8e8e8e" stroke="#8e8e8e" stroke-width="5.2" stroke-linejoin="round"/>
<use href="#B3" fill="#9b9b9b" stroke="#9b9b9b" stroke-width="10.3" stroke-linejoin="round"/>
<use href="#B3" fill="#8e8e8e" stroke="#8e8e8e" stroke-width="5.2" stroke-linejoin="round"/>
<use href="#B4" fill="#9b9b9b" stroke="#9b9b9b" stroke-width="5.2" stroke-linejoin="round"/>
<use href="#B4" fill="#8e8e8e" stroke="#8e8e8e" stroke-width="2.6" stroke-linejoin="round"/>
<use href="#B5" fill="#9b9b9b" stroke="#9b9b9b" stroke-width="3.1" stroke-linejoin="round"/>
<use href="#B5" fill="#8e8e8e" stroke="#8e8e8e" stroke-width="1.6" stroke-linejoin="round"/>
<use href="#B6" fill="#9b9b9b" stroke="#9b9b9b" stroke-width="12.3" stroke-linejoin="round"/>
<use href="#B6" fill="#8e8e8e" stroke="#8e8e8e" stroke-width="6.2" stroke-linejoin="round"/>
<use href="#B7" fill="#9b9b9b" stroke="#9b9b9b" stroke-width="12.3" stroke-linejoin="round"/>
<use href="#B7" fill="#8e8e8e" stroke="#8e8e8e" stroke-width="6.2" stroke-linejoin="round"/>
<use href="#B8" fill="#9b9b9b" stroke="#9b9b9b" stroke-width="4.7" stroke-linejoin="round"/>
<use href="#B8" fill="#8e8e8e" stroke="#8e8e8e" stroke-width="2.4" stroke-linejoin="round"/>
<use href="#B9" fill="#9b9b9b" stroke="#9b9b9b" stroke-width="4.2" stroke-linejoin="round"/>
<use href="#B9" fill="#8e8e8e" stroke="#8e8e8e" stroke-width="2.1" stroke-linejoin="round"/>
<use href="#B10" fill="#9b9b9b" stroke="#9b9b9b" stroke-width="10.7" stroke-linejoin="round"/>
<use href="#B10" fill="#8e8e8e" stroke="#8e8e8e" stroke-width="5.3" stroke-linejoin="round"/>
<use href="#B11" fill="#9b9b9b" stroke="#9b9b9b" stroke-width="4" stroke-linejoin="round"/>
<use href="#B11" fill="#8e8e8e" stroke="#8e8e8e" stroke-width="2" stroke-linejoin="round"/>
<use href="#B12" fill="#9b9b9b" stroke="#9b9b9b" stroke-width="8.5" stroke-linejoin="round"/>
<use href="#B12" fill="#8e8e8e" stroke="#8e8e8e" stroke-width="4.2" stroke-linejoin="round"/>
<use href="#B13" fill="#9b9b9b" stroke="#9b9b9b" stroke-width="3.9" stroke-linejoin="round"/>
<use href="#B13" fill="#8e8e8e" stroke="#8e8e8e" stroke-width="2" stroke-linejoin="round"/>
<use href="#B14" fill="#9b9b9b" stroke="#9b9b9b" stroke-width="4.3" stroke-linejoin="round"/>
<use href="#B14" fill="#8e8e8e" stroke="#8e8e8e" stroke-width="2.2" stroke-linejoin="round"/>
<use href="#B15" fill="#9b9b9b" stroke="#9b9b9b" stroke-width="3.2" stroke-linejoin="round"/>
<use href="#B15" fill="#8e8e8e" stroke="#8e8e8e" stroke-width="1.6" stroke-linejoin="round"/>
<use href="#B16" fill="#9b9b9b" stroke="#9b9b9b" stroke-width="7.3" stroke-linejoin="round"/>
<use href="#B16" fill="#8e8e8e" stroke="#8e8e8e" stroke-width="3.7" stroke-linejoin="round"/>
<use href="#B17" fill="#9b9b9b" stroke="#9b9b9b" stroke-width="5.6" stroke-linejoin="round"/>
<use href="#B17" fill="#8e8e8e" stroke="#8e8e8e" stroke-width="2.8" stroke-linejoin="round"/>
<use href="#B18" fill="#9b9b9b" stroke="#9b9b9b" stroke-width="3" stroke-linejoin="round"/>
<use href="#B18" fill="#8e8e8e" stroke="#8e8e8e" stroke-width="1.5" stroke-linejoin="round"/>
<use href="#B19" fill="#9b9b9b" stroke="#9b9b9b" stroke-width="3.2" stroke-linejoin="round"/>
<use href="#B19" fill="#8e8e8e" stroke="#8e8e8e" stroke-width="1.6" stroke-linejoin="round"/>
<use href="#B20" fill="#9b9b9b" stroke="#9b9b9b" stroke-width="2.5" stroke-linejoin="round"/>
<use href="#B20" fill="#8e8e8e" stroke="#8e8e8e" stroke-width="1.3" stroke-linejoin="round"/>
<use href="#B21" fill="#9b9b9b" stroke="#9b9b9b" stroke-width="2.5" stroke-linejoin="round"/>
<use href="#B21" fill="#8e8e8e" stroke="#8e8e8e" stroke-width="1.3" stroke-linejoin="round"/>
<use href="#B22" fill="#9b9b9b" stroke="#9b9b9b" stroke-width="2.4" stroke-linejoin="round"/>
<use href="#B22" fill="#8e8e8e" stroke="#8e8e8e" stroke-width="1.2" stroke-linejoin="round"/>
<use href="#B23" fill="#9b9b9b" stroke="#9b9b9b" stroke-width="2.8" stroke-linejoin="round"/>
<use href="#B23" fill="#8e8e8e" stroke="#8e8e8e" stroke-width="1.4" stroke-linejoin="round"/>
<use href="#B24" fill="#9b9b9b" stroke="#9b9b9b" stroke-width="2.7" stroke-linejoin="round"/>
<use href="#B24" fill="#8e8e8e" stroke="#8e8e8e" stroke-width="1.4" stroke-linejoin="round"/>
<use href="#B25" fill="#9b9b9b" stroke="#9b9b9b" stroke-width="12.3" stroke-linejoin="round"/>
<use href="#B25" fill="#8e8e8e" stroke="#8e8e8e" stroke-width="6.2" stroke-linejoin="round"/>
<use href="#B26" fill="#9b9b9b" stroke="#9b9b9b" stroke-width="12.3" stroke-linejoin="round"/>
<use href="#B26" fill="#8e8e8e" stroke="#8e8e8e" stroke-width="6.2" stroke-linejoin="round"/>
<use href="#B27" fill="#9b9b9b" stroke="#9b9b9b" stroke-width="11.5" stroke-linejoin="round"/>
<use href="#B27" fill="#8e8e8e" stroke="#8e8e8e" stroke-width="5.7" stroke-linejoin="round"/>
<use href="#B28" fill="#9b9b9b" stroke="#9b9b9b" stroke-width="7.4" stroke-linejoin="round"/>
<use href="#B28" fill="#8e8e8e" stroke="#8e8e8e" stroke-width="3.7" stroke-linejoin="round"/>
<use href="#B29" fill="#9b9b9b" stroke="#9b9b9b" stroke-width="6.2" stroke-linejoin="round"/>
<use href="#B29" fill="#8e8e8e" stroke="#8e8e8e" stroke-width="3.1" stroke-linejoin="round"/>
<use href="#B30" fill="#9b9b9b" stroke="#9b9b9b" stroke-width="3.7" stroke-linejoin="round"/>
<use href="#B30" fill="#8e8e8e" stroke="#8e8e8e" stroke-width="1.9" stroke-linejoin="round"/>
<use href="#B31" fill="#9b9b9b" stroke="#9b9b9b" stroke-width="3.4" stroke-linejoin="round"/>
<use href="#B31" fill="#8e8e8e" stroke="#8e8e8e" stroke-width="1.7" stroke-linejoin="round"/>
<use href="#B32" fill="#9b9b9b" stroke="#9b9b9b" stroke-width="4.3" stroke-linejoin="round"/>
<use href="#B32" fill="#8e8e8e" stroke="#8e8e8e" stroke-width="2.1" stroke-linejoin="round"/>
<use href="#B33" fill="#9b9b9b" stroke="#9b9b9b" stroke-width="2.7" stroke-linejoin="round"/>
<use href="#B33" fill="#8e8e8e" stroke="#8e8e8e" stroke-width="1.3" stroke-linejoin="round"/>
<use href="#B34" fill="#9b9b9b" stroke="#9b9b9b" stroke-width="2.7" stroke-linejoin="round"/>
<use href="#B34" fill="#8e8e8e" stroke="#8e8e8e" stroke-width="1.4" stroke-linejoin="round"/>
<use href="#B35" fill="#9b9b9b" stroke="#9b9b9b" stroke-width="6.9" stroke-linejoin="round"/>
<use href="#B35" fill="#8e8e8e" stroke="#8e8e8e" stroke-width="3.4" stroke-linejoin="round"/>
<use href="#B36" fill="#9b9b9b" stroke="#9b9b9b" stroke-width="3.7" stroke-linejoin="round"/>
<use href="#B36" fill="#8e8e8e" stroke="#8e8e8e" stroke-width="1.8" stroke-linejoin="round"/>
<use href="#B37" fill="#9b9b9b" stroke="#9b9b9b" stroke-width="12.3" stroke-linejoin="round"/>
<use href="#B37" fill="#8e8e8e" stroke="#8e8e8e" stroke-width="6.2" stroke-linejoin="round"/>
<use href="#B41" fill="#9b9b9b" stroke="#9b9b9b" stroke-width="12.3" stroke-linejoin="round"/>
<use href="#B41" fill="#8e8e8e" stroke="#8e8e8e" stroke-width="6.2" stroke-linejoin="round"/>
<use href="#B44" fill="#9b9b9b" stroke="#9b9b9b" stroke-width="8.7" stroke-linejoin="round"/>
<use href="#B44" fill="#8e8e8e" stroke="#8e8e8e" stroke-width="4.4" stroke-linejoin="round"/>
<use href="#B45" fill="#9b9b9b" stroke="#9b9b9b" stroke-width="4.3" stroke-linejoin="round"/>
<use href="#B45" fill="#8e8e8e" stroke="#8e8e8e" stroke-width="2.1" stroke-linejoin="round"/>
<use href="#B46" fill="#9b9b9b" stroke="#9b9b9b" stroke-width="6.3" stroke-linejoin="round"/>
<use href="#B46" fill="#8e8e8e" stroke="#8e8e8e" stroke-width="3.2" stroke-linejoin="round"/>
<use href="#B47" fill="#9b9b9b" stroke="#9b9b9b" stroke-width="5.3" stroke-linejoin="round"/>
<use href="#B47" fill="#8e8e8e" stroke="#8e8e8e" stroke-width="2.7" stroke-linejoin="round"/>
<use href="#B0" fill="#808080"/>
<use href="#L87" fill="#6a6a6a"/>
<use href="#L88" fill="#545454"/>
<use href="#B1" fill="#808080"/>
<use href="#L90" fill="#6a6a6a"/>
<use href="#B2" fill="#808080"/>
<use href="#L92" fill="#717171"/>
<use href="#B3" fill="#808080"/>
<use href="#L94" fill="#6a6a6a"/>
<use href="#L95" fill="#6a6a6a"/>
<use href="#B4" fill="#808080"/>
<use href="#B5" fill="#808080"/>
<use href="#B6" fill="#808080"/>
<use href="#L99" fill="#6a6a6a"/>
<use href="#L100" fill="#545454"/>
<use href="#L101" fill="#424242"/>
<use href="#B7" fill="#808080"/>
<use href="#L103" fill="#6a6a6a"/>
<use href="#L104" fill="#545454"/>
<use href="#L105" fill="#3e3e3e"/>
<use href="#L106" fill="#3a3a3a"/>
<use href="#B8" fill="#808080"/>
<use href="#L108" fill="#727272"/>
<use href="#B9" fill="#808080"/>
<use href="#L110" fill="#727272"/>
<use href="#B10" fill="#808080"/>
<use href="#L112" fill="#6d6d6d"/>
<use href="#B11" fill="#808080"/>
<use href="#L114" fill="#6a6a6a"/>
<use href="#B12" fill="#838383"/>
<use href="#L116" fill="#838383"/>
<use href="#B13" fill="#808080"/>
<use href="#L118" fill="#6a6a6a"/>
<use href="#L119" fill="#5d5d5d"/>
<use href="#B14" fill="#808080"/>
<use href="#L121" fill="#6e6e6e"/>
<use href="#B15" fill="#808080"/>
<use href="#B16" fill="#808080"/>
<use href="#L124" fill="#6a6a6a"/>
<use href="#B17" fill="#808080"/>
<use href="#L126" fill="#6a6a6a"/>
<use href="#B18" fill="#808080"/>
<use href="#B19" fill="#808080"/>
<use href="#B20" fill="#808080"/>
<use href="#B21" fill="#808080"/>
<use href="#B22" fill="#808080"/>
<use href="#B23" fill="#808080"/>
<use href="#B24" fill="#808080"/>
<use href="#B25" fill="#808080"/>
<use href="#L135" fill="#6a6a6a"/>
<use href="#L136" fill="#545454"/>
<use href="#B26" fill="#818181"/>
<use href="#L138" fill="#818181"/>
<use href="#B27" fill="#808080"/>
<use href="#L140" fill="#6a6a6a"/>
<use href="#L141" fill="#626262"/>
<use href="#B28" fill="#808080"/>
<use href="#L143" fill="#6a6a6a"/>
<use href="#L144" fill="#585858"/>
<use href="#B29" fill="#808080"/>
<use href="#L146" fill="#6a6a6a"/>
<use href="#B30" fill="#808080"/>
<use href="#L148" fill="#727272"/>
<use href="#B31" fill="#808080"/>
<use href="#B32" fill="#808080"/>
<use href="#L151" fill="#6a6a6a"/>
<use href="#L152" fill="#585858"/>
<use href="#B33" fill="#808080"/>
<use href="#B34" fill="#808080"/>
<use href="#B35" fill="#808080"/>
<use href="#L156" fill="#6d6d6d"/>
<use href="#B36" fill="#808080"/>
<use href="#B37" fill="#4c4c4c"/>
<use href="#L159" fill="#424242"/>
<use href="#L160" fill="#383838"/>
<use href="#L161" fill="#2e2e2e"/>
<use href="#L162" fill="#242424"/>
<use href="#L163" fill="#444444"/>
<use href="#L164" fill="#3c3c3c"/>
<use href="#L165" fill="#343434"/>
<use href="#L166" fill="#2c2c2c"/>
<use href="#L167" fill="#484848"/>
<use href="#L168" fill="#434343"/>
<use href="#L169" fill="#3f3f3f"/>
<use href="#L170" fill="#3a3a3a"/>
<use href="#B41" fill="#626262"/>
<use href="#L172" fill="#5a5a5a"/>
<use href="#L173" fill="#525252"/>
<use href="#L174" fill="#4a4a4a"/>
<use href="#L175" fill="#424242"/>
<use href="#L176" fill="#565656"/>
<use href="#L177" fill="#494949"/>
<use href="#L178" fill="#3c3c3c"/>
<use href="#L179" fill="#2f2f2f"/>
<use href="#B44" fill="#808080"/>
<use href="#L181" fill="#6a6a6a"/>
<use href="#L182" fill="#545454"/>
<use href="#B45" fill="#808080"/>
<use href="#L184" fill="#6a6a6a"/>
<use href="#L185" fill="#545454"/>
<use href="#L186" fill="#494949"/>
<use href="#B46" fill="#8e8e8e"/>
<use href="#B47" fill="#8e8e8e"/>
<use href="#Ym10" fill="#959595"/>
<use href="#Ym5" fill="#838383"/>
<use href="#Ym" fill="#595959"/>
<use href="#LGm" fill="#494949"/>
<use href="#TGm" fill="#424242"/>
<use href="#TLl" fill="#383838"/>
<use href="#TLr" fill="#353535"/>
</g>
<g filter="url(#b2_5)" opacity="0.5">
<ellipse cx="420.2" cy="402.2" rx="2.2" ry="19.3" fill="#6d6d6d" transform="rotate(306.6 420.2 402.2)"/>
<ellipse cx="561.3" cy="406.8" rx="2.2" ry="16.7" fill="#6d6d6d" transform="rotate(416.1 561.3 406.8)"/>
<ellipse cx="560" cy="394.8" rx="2.2" ry="17.1" fill="#5f5f5f" transform="rotate(402.4 560 394.8)"/>
<ellipse cx="478.6" cy="368" rx="2.2" ry="16.9" fill="#6d6d6d" transform="rotate(350.3 478.6 368)"/>
<ellipse cx="439.9" cy="430.6" rx="2.2" ry="11.4" fill="#333333" transform="rotate(294.9 439.9 430.6)"/>
<ellipse cx="583.3" cy="424.8" rx="2.2" ry="17.4" fill="#5f5f5f" transform="rotate(426.6 583.3 424.8)"/>
<ellipse cx="496.4" cy="398.8" rx="2.2" ry="14.3" fill="#6d6d6d" transform="rotate(345.6 496.4 398.8)"/>
<ellipse cx="414.9" cy="452.9" rx="2.2" ry="20.6" fill="#424242" transform="rotate(273.3 414.9 452.9)"/>
<ellipse cx="485.6" cy="385.5" rx="2.2" ry="10.3" fill="#5f5f5f" transform="rotate(341.3 485.6 385.5)"/>
<ellipse cx="485.1" cy="369.9" rx="2.2" ry="17" fill="#5f5f5f" transform="rotate(338.7 485.1 369.9)"/>
<ellipse cx="539.5" cy="382.5" rx="2.2" ry="10.1" fill="#6d6d6d" transform="rotate(384.6 539.5 382.5)"/>
<ellipse cx="391.9" cy="448.8" rx="2.2" ry="16.7" fill="#5f5f5f" transform="rotate(279.9 391.9 448.8)"/>
<ellipse cx="504.2" cy="396.3" rx="2.2" ry="14.1" fill="#6d6d6d" transform="rotate(356.9 504.2 396.3)"/>
<ellipse cx="558.5" cy="414.2" rx="2.2" ry="14" fill="#333333" transform="rotate(417.2 558.5 414.2)"/>
<ellipse cx="413.7" cy="427.6" rx="2.2" ry="10.1" fill="#6d6d6d" transform="rotate(291.5 413.7 427.6)"/>
<ellipse cx="611.9" cy="428.9" rx="2.2" ry="20" fill="#6d6d6d" transform="rotate(427.8 611.9 428.9)"/>
<ellipse cx="516.6" cy="395" rx="2.2" ry="14.8" fill="#6d6d6d" transform="rotate(378.4 516.6 395)"/>
<ellipse cx="591.7" cy="423.8" rx="2.2" ry="21.2" fill="#6d6d6d" transform="rotate(422.6 591.7 423.8)"/>
<ellipse cx="469.6" cy="371.1" rx="2.2" ry="14.8" fill="#5f5f5f" transform="rotate(338.5 469.6 371.1)"/>
<ellipse cx="516.5" cy="353.6" rx="2.2" ry="20.9" fill="#333333" transform="rotate(360.6 516.5 353.6)"/>
<ellipse cx="593.2" cy="392.1" rx="2.2" ry="16.9" fill="#5f5f5f" transform="rotate(404.3 593.2 392.1)"/>
<ellipse cx="551.2" cy="413.3" rx="2.2" ry="19.1" fill="#424242" transform="rotate(408.7 551.2 413.3)"/>
<ellipse cx="552.3" cy="374.2" rx="2.2" ry="12.4" fill="#333333" transform="rotate(395.6 552.3 374.2)"/>
<ellipse cx="417.6" cy="430.8" rx="2.2" ry="14.5" fill="#424242" transform="rotate(292.3 417.6 430.8)"/>
<ellipse cx="526.1" cy="378.7" rx="2.2" ry="10.4" fill="#5f5f5f" transform="rotate(371.8 526.1 378.7)"/>
<ellipse cx="418.1" cy="413.8" rx="2.2" ry="12.3" fill="#6d6d6d" transform="rotate(301.2 418.1 413.8)"/>
<ellipse cx="555.3" cy="397.2" rx="2.2" ry="14" fill="#5f5f5f" transform="rotate(394.7 555.3 397.2)"/>
<ellipse cx="416.2" cy="448.1" rx="2.2" ry="13.7" fill="#6d6d6d" transform="rotate(276.5 416.2 448.1)"/>
<ellipse cx="498.1" cy="385.1" rx="2.2" ry="17" fill="#333333" transform="rotate(358.5 498.1 385.1)"/>
<ellipse cx="493.7" cy="354" rx="2.2" ry="11" fill="#5f5f5f" transform="rotate(359.5 493.7 354)"/>
<ellipse cx="484.8" cy="355.1" rx="2.2" ry="17.4" fill="#424242" transform="rotate(355.8 484.8 355.1)"/>
<ellipse cx="585.4" cy="452.7" rx="2.2" ry="12.4" fill="#424242" transform="rotate(450.2 585.4 452.7)"/>
<ellipse cx="575.8" cy="392.6" rx="2.2" ry="11.2" fill="#424242" transform="rotate(413.4 575.8 392.6)"/>
<ellipse cx="488.7" cy="386.8" rx="2.2" ry="12.1" fill="#6d6d6d" transform="rotate(350.7 488.7 386.8)"/>
<ellipse cx="447.4" cy="424" rx="2.2" ry="21.3" fill="#333333" transform="rotate(309 447.4 424)"/>
<ellipse cx="446.5" cy="425.3" rx="2.2" ry="14.5" fill="#6d6d6d" transform="rotate(295.9 446.5 425.3)"/>
<ellipse cx="402.5" cy="421.8" rx="2.2" ry="10.2" fill="#5f5f5f" transform="rotate(285.1 402.5 421.8)"/>
<ellipse cx="590.7" cy="403.6" rx="2.2" ry="19.9" fill="#5f5f5f" transform="rotate(421.5 590.7 403.6)"/>
<ellipse cx="568" cy="425.1" rx="2.2" ry="18.8" fill="#424242" transform="rotate(415.8 568 425.1)"/>
<ellipse cx="469.3" cy="372.8" rx="2.2" ry="12.2" fill="#424242" transform="rotate(336.8 469.3 372.8)"/>
<ellipse cx="418.5" cy="416.5" rx="2.2" ry="12.5" fill="#424242" transform="rotate(299.5 418.5 416.5)"/>
<ellipse cx="538.6" cy="388.2" rx="2.2" ry="17.6" fill="#5f5f5f" transform="rotate(381.8 538.6 388.2)"/>
<ellipse cx="451.8" cy="396.4" rx="2.2" ry="11.2" fill="#424242" transform="rotate(309.7 451.8 396.4)"/>
<ellipse cx="487" cy="387.8" rx="2.2" ry="21.6" fill="#424242" transform="rotate(347.2 487 387.8)"/>
<ellipse cx="460.4" cy="400.1" rx="2.2" ry="11.4" fill="#333333" transform="rotate(327 460.4 400.1)"/>
<ellipse cx="535" cy="375.3" rx="2.2" ry="10.5" fill="#6d6d6d" transform="rotate(375.4 535 375.3)"/>
<ellipse cx="563" cy="438.6" rx="2.2" ry="22" fill="#333333" transform="rotate(432.2 563 438.6)"/>
<ellipse cx="528" cy="406.4" rx="2.2" ry="10.8" fill="#424242" transform="rotate(376.7 528 406.4)"/>
<ellipse cx="571.3" cy="424.8" rx="2.2" ry="15.8" fill="#6d6d6d" transform="rotate(430.9 571.3 424.8)"/>
<ellipse cx="435.4" cy="452.6" rx="2.2" ry="15.1" fill="#333333" transform="rotate(265.5 435.4 452.6)"/>
<ellipse cx="527.7" cy="403" rx="2.2" ry="17.6" fill="#5f5f5f" transform="rotate(385.5 527.7 403)"/>
<ellipse cx="440.6" cy="404.2" rx="2.2" ry="12.2" fill="#333333" transform="rotate(311.1 440.6 404.2)"/>
<ellipse cx="434.3" cy="452.9" rx="2.2" ry="20.9" fill="#5f5f5f" transform="rotate(262.8 434.3 452.9)"/>
<ellipse cx="513.8" cy="369" rx="2.2" ry="12.5" fill="#6d6d6d" transform="rotate(367.2 513.8 369)"/>
<ellipse cx="490.6" cy="373.3" rx="2.2" ry="20.6" fill="#424242" transform="rotate(343.3 490.6 373.3)"/>
<ellipse cx="432.5" cy="406.6" rx="2.2" ry="20.6" fill="#6d6d6d" transform="rotate(295.6 432.5 406.6)"/>
<ellipse cx="545.4" cy="384.6" rx="2.2" ry="16" fill="#333333" transform="rotate(390.1 545.4 384.6)"/>
<ellipse cx="440.6" cy="408.5" rx="2.2" ry="13.9" fill="#6d6d6d" transform="rotate(309.5 440.6 408.5)"/>
<ellipse cx="554.8" cy="391.4" rx="2.2" ry="10.8" fill="#6d6d6d" transform="rotate(396.5 554.8 391.4)"/>
<ellipse cx="562.7" cy="425.2" rx="2.2" ry="13.8" fill="#424242" transform="rotate(422.7 562.7 425.2)"/>
<ellipse cx="590" cy="439.1" rx="2.2" ry="13.7" fill="#6d6d6d" transform="rotate(442.1 590 439.1)"/>
<ellipse cx="573" cy="394.4" rx="2.2" ry="11.7" fill="#6d6d6d" transform="rotate(412.4 573 394.4)"/>
<ellipse cx="489.7" cy="396.3" rx="2.2" ry="13.6" fill="#333333" transform="rotate(336.1 489.7 396.3)"/>
<ellipse cx="483" cy="377.4" rx="2.2" ry="12.2" fill="#424242" transform="rotate(346.2 483 377.4)"/>
<ellipse cx="563.1" cy="398.6" rx="2.2" ry="13.8" fill="#6d6d6d" transform="rotate(399.1 563.1 398.6)"/>
<ellipse cx="416.9" cy="447.5" rx="2.2" ry="14.9" fill="#5f5f5f" transform="rotate(274.3 416.9 447.5)"/>
<ellipse cx="436.3" cy="413.2" rx="2.2" ry="12" fill="#333333" transform="rotate(311 436.3 413.2)"/>
<ellipse cx="443.6" cy="366.6" rx="2.2" ry="16.3" fill="#6d6d6d" transform="rotate(327.1 443.6 366.6)"/>
<ellipse cx="506.4" cy="386.6" rx="2.2" ry="15.2" fill="#6d6d6d" transform="rotate(359.5 506.4 386.6)"/>
<ellipse cx="465.2" cy="398.1" rx="2.2" ry="20.7" fill="#5f5f5f" transform="rotate(334.1 465.2 398.1)"/>
</g>
<g filter="url(#b7)">
<ellipse cx="510" cy="448" rx="46" ry="52" fill="#232323"/>
<ellipse cx="515" cy="500" rx="35" ry="22" fill="#282828"/>
<ellipse cx="612" cy="442" rx="26" ry="36" fill="#2f2f2f"/>
<ellipse cx="560" cy="548" rx="50" ry="20" fill="#3e3e3e" transform="rotate(-15 560 548)"/>
</g>
<g filter="url(#b1_6)">
<ellipse cx="526" cy="474" rx="19" ry="17" fill="#070707"/>
<ellipse cx="575" cy="345" rx="9" ry="5" fill="#1d1d1d"/>
<ellipse cx="588" cy="341" rx="7" ry="5" fill="#1d1d1d"/>
<ellipse cx="594" cy="350" rx="4" ry="3" fill="#1d1d1d"/>
<ellipse cx="606" cy="249" rx="8" ry="6" fill="#1d1d1d"/>
<ellipse cx="718" cy="280" rx="7" ry="5" fill="#1d1d1d"/>
<ellipse cx="607" cy="517" rx="3" ry="3" fill="#1d1d1d"/>
<ellipse cx="468" cy="400" rx="3" ry="2.5" fill="#1d1d1d"/>
</g>
</g></g></g>
<rect x="436.2" y="428.8" width="71.8" height="73.2" fill="#ff0000" fill-opacity="0.4"/>
<g clip-path="url(#cp1)">
<use href="#B1" fill="none" stroke="#fde725" stroke-width="2.4" stroke-linejoin="round"/>
<use href="#B2" fill="none" stroke="#fde725" stroke-width="2.4" stroke-linejoin="round"/>
<use href="#B3" fill="none" stroke="#fde725" stroke-width="2.4" stroke-linejoin="round"/>
<use href="#B4" fill="none" stroke="#fde725" stroke-width="2.4" stroke-linejoin="round"/>
<use href="#B5" fill="none" stroke="#fde725" stroke-width="2.4" stroke-linejoin="round"/>
<use href="#B6" fill="none" stroke="#fde725" stroke-width="2.4" stroke-linejoin="round"/>
<use href="#B7" fill="none" stroke="#fde725" stroke-width="2.4" stroke-linejoin="round"/>
<use href="#B8" fill="none" stroke="#fde725" stroke-width="2.4" stroke-linejoin="round"/>
<use href="#B9" fill="none" stroke="#fde725" stroke-width="2.4" stroke-linejoin="round"/>
<use href="#B10" fill="none" stroke="#fde725" stroke-width="2.4" stroke-linejoin="round"/>
<use href="#B11" fill="none" stroke="#fde725" stroke-width="2.4" stroke-linejoin="round"/>
<use href="#B12" fill="none" stroke="#fde725" stroke-width="2.4" stroke-linejoin="round"/>
<use href="#B13" fill="none" stroke="#fde725" stroke-width="2.4" stroke-linejoin="round"/>
<use href="#B14" fill="none" stroke="#fde725" stroke-width="2.4" stroke-linejoin="round"/>
<use href="#B15" fill="none" stroke="#fde725" stroke-width="2.4" stroke-linejoin="round"/>
<use href="#B16" fill="none" stroke="#fde725" stroke-width="2.4" stroke-linejoin="round"/>
<use href="#B17" fill="none" stroke="#fde725" stroke-width="2.4" stroke-linejoin="round"/>
<use href="#B18" fill="none" stroke="#fde725" stroke-width="2.4" stroke-linejoin="round"/>
<use href="#B19" fill="none" stroke="#fde725" stroke-width="2.4" stroke-linejoin="round"/>
<use href="#B20" fill="none" stroke="#fde725" stroke-width="2.4" stroke-linejoin="round"/>
<use href="#B21" fill="none" stroke="#fde725" stroke-width="2.4" stroke-linejoin="round"/>
<use href="#B22" fill="none" stroke="#fde725" stroke-width="2.4" stroke-linejoin="round"/>
<use href="#B23" fill="none" stroke="#fde725" stroke-width="2.4" stroke-linejoin="round"/>
<use href="#B24" fill="none" stroke="#fde725" stroke-width="2.4" stroke-linejoin="round"/>
<use href="#B25" fill="none" stroke="#fde725" stroke-width="2.4" stroke-linejoin="round"/>
<use href="#B26" fill="none" stroke="#fde725" stroke-width="2.4" stroke-linejoin="round"/>
<use href="#B27" fill="none" stroke="#fde725" stroke-width="2.4" stroke-linejoin="round"/>
<use href="#B28" fill="none" stroke="#fde725" stroke-width="2.4" stroke-linejoin="round"/>
<use href="#B29" fill="none" stroke="#fde725" stroke-width="2.4" stroke-linejoin="round"/>
<use href="#B30" fill="none" stroke="#fde725" stroke-width="2.4" stroke-linejoin="round"/>
<use href="#B31" fill="none" stroke="#fde725" stroke-width="2.4" stroke-linejoin="round"/>
<use href="#B32" fill="none" stroke="#fde725" stroke-width="2.4" stroke-linejoin="round"/>
<use href="#B33" fill="none" stroke="#fde725" stroke-width="2.4" stroke-linejoin="round"/>
<use href="#B34" fill="none" stroke="#fde725" stroke-width="2.4" stroke-linejoin="round"/>
<use href="#B35" fill="none" stroke="#fde725" stroke-width="2.4" stroke-linejoin="round"/>
<use href="#B36" fill="none" stroke="#fde725" stroke-width="2.4" stroke-linejoin="round"/>
<use href="#B38" fill="none" stroke="#fde725" stroke-width="2.4" stroke-linejoin="round"/>
<use href="#B39" fill="none" stroke="#fde725" stroke-width="2.4" stroke-linejoin="round"/>
<use href="#B40" fill="none" stroke="#fde725" stroke-width="2.4" stroke-linejoin="round"/>
<use href="#B42" fill="none" stroke="#fde725" stroke-width="2.4" stroke-linejoin="round"/>
<use href="#B43" fill="none" stroke="#fde725" stroke-width="2.4" stroke-linejoin="round"/>
<use href="#B44" fill="none" stroke="#fde725" stroke-width="2.4" stroke-linejoin="round"/>
<use href="#B45" fill="none" stroke="#fde725" stroke-width="2.4" stroke-linejoin="round"/>
<path d="M370.3 359.6 L374.3 357.7 L375.8 355.5 L377.5 351.9 L378.5 349.1 L382.1 345 L388.2 341.3 L391.7 337.8 L396.1 332 L397.3 333.3 L399.1 334.9 L400.2 336.5 L401.3 337.3 L401.6 339.3 L401.9 341.9 L401.5 345.3 L400 348 L396.1 350.6 L395.3 353.2 L395.3 355.8 L393.9 359.2 L392.4 361.4 L390.4 362.1 L388.9 362.8 L388 364.8 L387.1 365.6 L384.9 365.6 L381.3 366.8 L379.4 367.5 L377.7 368.8 L374.8 368.4 L372.4 367.6 L371.2 366 L371.2 363.2 L371.2 360.9Z" fill="none" stroke="#7ad151" stroke-width="2.2" stroke-linejoin="round"/>
<path d="M374.5 358.1 L376.9 353.5 L380.5 351.6 L382.9 350.4 L384.9 348.5 L386.8 346.2 L388.3 345.1 L390.4 341.4 L392.9 338.4 L394.2 338.5 L396.2 339.4 L396.3 341.1 L396.8 343.7 L395 347.1 L393.7 349.2 L393.2 351.3 L392.9 353 L392.8 354.4 L392 356.1 L391.5 357.4 L390.2 359.4 L388.8 360.9 L387.3 362.6 L386.1 363.1 L383.8 363.3 L381.9 363.6 L379.7 364.7 L377.7 365 L376.1 363.5 L375.1 362.7 L374.3 360.7Z" fill="none" stroke="#22a884" stroke-width="2.2" stroke-linejoin="round"/>
<path d="M412.5 203.3 L414 202 L415.5 199.6 L417.7 197.9 L419.9 197.8 L419.9 195.7 L420.2 194.5 L421.8 192.6 L422 190.5 L421.8 188.9 L421.7 186.8 L424.1 185.3 L425.7 184.7 L427.2 183.1 L427.3 185 L427.6 186.3 L427.4 188.1 L429.1 190.4 L426.9 192.5 L424.9 194 L423.5 196 L421.3 197.4 L419.8 199.9 L419.3 201.5 L419.4 204.2 L419.7 206.5 L419.9 208.8 L419.8 211.3 L420 215.3 L419.7 219.5 L418.8 224.9 L417.4 227.2 L416.3 228.8 L415.1 231.2 L414.3 234.6 L411.9 235 L410 234.6 L408.8 234.6 L408.5 232.5 L408.3 230 L408.3 228.5 L408.7 226.2 L409.8 223.7 L410.2 221.4 L410.7 219.9 L411.1 217.2 L411.7 214.1 L411.2 212.2 L410.3 209.9 L411.4 208.1 L412.1 206.7 L412.4 205.3Z" fill="none" stroke="#7ad151" stroke-width="2.2" stroke-linejoin="round"/>
<path d="M695.9 427.2 L697.6 426.9 L699.6 424.9 L701.2 422.6 L701.9 419.7 L703 417.6 L703.3 416.2 L704.7 415.4 L706 414.9 L708 414.5 L709.5 414 L711.2 412.7 L712.9 412 L714.3 412.4 L716.1 412.5 L719 411.8 L722.1 411.6 L724.8 411.6 L726.5 411 L728.8 409.8 L731.2 409.6 L734.2 409.6 L738.2 408.9 L741 408.5 L742.8 408.2 L744.7 408.3 L747.1 408.4 L748.8 407.9 L751.1 407 L752.5 409.2 L752.5 410.8 L752.1 412.9 L752.2 414.4 L752.9 416.2 L752.2 417.9 L751.3 418.8 L751.2 420.6 L749.2 421.9 L748.3 423 L747 424.3 L745.6 425.4 L744 426.6 L742.4 427.8 L741.1 428.6 L739.7 429.7 L738.6 430.7 L737.1 431.7 L734.5 432.8 L732.7 432.6 L729.6 431.4 L727.8 432.2 L726.7 432.4 L722.3 432.7 L719.4 432 L717.4 432.6 L714.3 430.9 L711.9 431.1 L710.4 430.8 L708.6 431 L707 430.7 L704.6 431.9 L703.2 433.1 L701.4 434.6 L699.4 433.2 L698.1 431.8 L697.9 430.3 L696.7 428.3Z" fill="none" stroke="#7ad151" stroke-width="2.2" stroke-linejoin="round"/>
<path d="M717.5 452.4 L720.3 452.1 L722 452 L724.7 452.8 L727.4 450.6 L728.6 448.6 L730.2 446.7 L730.4 445 L734.1 445.8 L737.9 446.6 L739.3 447.5 L742.1 448.2 L745 447.9 L747.3 449 L748.8 448.7 L749.1 449.9 L749.4 451.8 L749.6 454.6 L750.5 456.4 L751 457.8 L752.4 459.8 L751.8 461.3 L751.6 463.8 L750.9 464.9 L750.2 466.8 L750.1 468.5 L749.8 471.6 L747.7 473 L746.9 474.5 L745.1 476.9 L743.5 478.5 L741.6 480.7 L740.2 480.6 L738.1 479.9 L735.9 481.8 L734.4 480.1 L733.4 479 L730.8 478.9 L728.3 478.3 L726.3 478.5 L725.1 477.8 L723 478.1 L721.1 476 L719.7 474.9 L717.3 473.5 L716.3 471.9 L715.4 469.9 L715.7 467.1 L715.4 465.6 L715.2 463.5 L715.8 461.3 L716.4 459.2 L717.6 457.1 L717.7 455Z" fill="none" stroke="#7ad151" stroke-width="2.2" stroke-linejoin="round"/>
<path d="M796.5 494.1 L796.9 492 L796.9 490.4 L798.2 488.7 L799.3 487.6 L800.4 485.6 L802.5 484.4 L803.9 483.1 L805.4 482.8 L808.1 482.8 L810.3 482.1 L813.7 481.7 L815.4 481 L817.2 480.4 L819 479.9 L820.4 479.4 L822.8 479.4 L825.1 479.7 L826.7 480.6 L828 481.7 L829.5 481.4 L832.1 481.2 L834.7 482.3 L837 483.1 L836.2 488.1 L836.6 492.4 L835.1 500.7 L834.7 505.4 L835.5 509.9 L835.2 516.7 L836.7 519.4 L837 523.5 L833.1 522.7 L830.4 523.1 L827.2 523.9 L824.2 524.6 L821.6 525.5 L818.7 525.3 L816.8 525.4 L814.7 523.5 L812.4 522.5 L811.1 521.6 L808.1 520.5 L805.1 518.2 L804.3 516.1 L802.1 514.3 L801.6 513.1 L800.9 511 L801 509.1 L800.3 507.5 L799.5 505.8 L798.4 503.3 L798.1 500.7 L797.1 498.6 L796.9 495.9Z" fill="none" stroke="#7ad151" stroke-width="2.2" stroke-linejoin="round"/>
<path d="M801.5 496 L802.6 493.5 L804 492.4 L805.2 489.6 L806.8 488.1 L809.2 487.7 L810.7 486.4 L812 485.2 L814.1 485 L816.1 485.5 L818.6 485.5 L820.8 486.2 L822.3 486.5 L824.6 486.7 L827 486.7 L828.7 487.2 L830.4 488.1 L831.2 493.3 L830.3 497.6 L830 500 L829.3 504.3 L829.8 507.1 L830 512.1 L830.5 513.8 L830.4 517 L828.4 518.1 L827.2 518.7 L823.6 517.6 L821.2 517.4 L819.1 517.9 L817.6 517.9 L816 518.3 L813.4 516.9 L810.9 516.5 L809.1 514.3 L807.9 512.4 L806.6 511.5 L805.5 510.5 L805.1 509.2 L805.3 507.4 L805.8 505 L804.8 503.7 L802.8 502.6 L802.3 500 L801.6 498.2Z" fill="none" stroke="#22a884" stroke-width="2.2" stroke-linejoin="round"/>
<path d="M782.9 597.8 L783.2 595.9 L783.6 594 L784.3 591.7 L784.1 589.4 L785 586.7 L785.7 585.3 L786.6 583.1 L788.3 580.7 L789.9 578.6 L791.9 577.4 L793.3 574.1 L796.9 571.7 L798.8 570.3 L799.8 568.8 L801.3 566.5 L802.2 564.5 L805.2 562.5 L807.1 561.3 L808 560.3 L809.2 559.7 L811.4 558.6 L813.6 555.3 L816 553.7 L818.8 554.2 L822.3 555.2 L825.3 555.1 L826.8 555.8 L828.9 556.8 L832.3 556.7 L833.9 556.8 L836.2 557.3 L836.1 563 L836.6 569.5 L836.4 573.5 L835.9 578.6 L837.2 583.2 L836.4 590.4 L836.2 601.6 L836.2 608.8 L832 609.1 L829.1 608.2 L827.3 608.8 L824.3 609.6 L823.5 612.2 L822.2 614.1 L819.4 613.6 L816 612.5 L812 611.6 L808.7 609.9 L807 608.9 L804.5 608 L802 606.8 L800.8 605.8 L798.8 605.6 L797.6 605.2 L796.2 605.4 L793.9 605.2 L791.4 604.3 L788.1 603.5 L786.8 601.3 L785.4 600.1 L783.7 599.2Z" fill="none" stroke="#7ad151" stroke-width="2.2" stroke-linejoin="round"/>
<path d="M790.4 594.3 L790.4 592.5 L790.5 589.8 L790.1 587.2 L791.6 585.7 L793 583.8 L794.6 582.3 L795.2 581.1 L797.2 579.3 L798.4 578.1 L799.7 577.3 L801.6 576 L802.4 574 L803.5 572 L805.7 570.3 L807.2 568.2 L808.2 567.4 L810.2 566.2 L812.5 564.5 L814 562.8 L816.6 564.1 L819.3 564.7 L821.6 565.6 L822.9 565.5 L824.9 565.8 L826.5 565.7 L828.5 565.4 L828.2 569.3 L828.5 573.9 L827.7 580.7 L827.4 586 L828.8 590.5 L829.1 594.5 L828.7 598.9 L828.5 602.2 L827 602.3 L824.9 603.2 L821.6 604.2 L819.5 604.8 L817 604.9 L814 604.8 L812.1 603.8 L809.6 602.9 L807.8 601.2 L806.6 599.7 L804 599.3 L802.2 599.5 L800.9 599.6 L798.2 598.3 L796.4 595.9 L795 594.5 L793.1 594.7Z" fill="none" stroke="#22a884" stroke-width="2.2" stroke-linejoin="round"/>
<path d="M797.9 590.8 L798.6 589.3 L799.4 588.2 L799.3 586.6 L799.4 584.5 L801.2 582.3 L803.2 580.5 L804.2 578.9 L805.7 577.4 L807 575.9 L808.3 574.9 L809.6 574 L810.8 572.8 L812 571.9 L814.8 572.1 L816.4 572.7 L818.7 573.2 L820.7 573.5 L820.3 575.8 L820.1 578.1 L819.4 579.9 L819.5 582 L819.8 585.7 L820 588.1 L820.6 592.4 L820.7 595.6 L818.7 596.8 L816.7 597.9 L814.4 597.6 L812 597.1 L810.3 596.6 L808.1 596 L806.5 595.3 L804.2 594 L801.8 592.7 L800.1 592.4Z" fill="none" stroke="#2a788e" stroke-width="2.2" stroke-linejoin="round"/>
<path d="M609.8 502.9 L610.5 502 L611.4 500.2 L612.7 499.3 L613.9 498.2 L615 497.9 L616.6 496.7 L619.6 495.3 L620.8 493.7 L623.7 494 L625.7 494.2 L627.5 495.2 L629.1 495.5 L631.9 495.5 L632.3 498.1 L632.6 500.1 L632.1 501.7 L632.5 503.6 L632.2 505.3 L631.6 507.1 L629.6 508.3 L628.2 510.2 L630 511.2 L631.8 511.8 L633.5 512.1 L635.4 512 L637.7 513.4 L639.2 515.7 L640.1 517.5 L640.7 519.1 L641.2 520.1 L641.9 521.9 L642.6 523.4 L642.9 524.9 L642.9 526.8 L642 528.4 L640.6 530.4 L639.2 531.8 L638.3 532.8 L637.4 535.2 L637.4 537.8 L636.1 535.8 L634.8 535.2 L633.6 534.5 L631.9 533.7 L630 532.3 L630.1 530 L630.2 528.3 L629.7 527.2 L629.5 525.1 L628.2 523.1 L626.1 524.1 L624.1 524.5 L622.6 524.8 L620.8 524.9 L619.3 527.4 L618.1 529.1 L617.3 530.7 L615.9 533 L615 534.9 L614.2 536.2 L613.1 537.2 L611.6 537.8 L609.5 539.3 L608.3 541.1 L607 541.5 L606.8 542.9 L607.1 544.8 L606.1 547 L605.7 544.4 L603.4 541.6 L603.5 539.4 L603.9 537.3 L603.5 533.6 L603.6 531.4 L603.2 527.5 L602.4 524.9 L603.5 523.8 L605 521.5 L605 519.3 L605.1 515.1 L606.7 512.8 L608 508.1 L609 505.3Z" fill="none" stroke="#7ad151" stroke-width="2.2" stroke-linejoin="round"/>
<path d="M535 646.7 L536.9 646.3 L538.2 645.8 L539.6 645.1 L540.9 644.4 L543.3 643.9 L544.8 645 L546.3 646.7 L547.5 648.7 L548.8 650.3 L547.6 651.4 L545.8 652.5 L544.5 654 L543.3 654.9 L541.7 653.8 L540.5 653.6 L538.8 652.7 L537.8 652.2 L536.6 649.7 L535.7 647.7Z" fill="none" stroke="#7ad151" stroke-width="2.2" stroke-linejoin="round"/>
<path d="M527.4 687.8 L528.7 686.3 L529.5 685.3 L531.2 684.8 L532.9 684.1 L535.3 684.3 L537.4 684.3 L540.2 685 L539.8 686.2 L539.3 687.9 L538.8 689.5 L538.4 691.5 L535.7 691.9 L533.4 692.6 L531.1 693.3 L529.9 691.7 L528.8 690.6 L528.3 689.6Z" fill="none" stroke="#7ad151" stroke-width="2.2" stroke-linejoin="round"/>
<path d="M468.8 601.2 L471 601.8 L472.7 601.5 L473.7 600.7 L475.1 599.5 L476.4 598.6 L478 597.6 L481.3 598.2 L483.5 598.6 L485.6 599.5 L487.8 600.3 L491.7 601.3 L494.1 602.1 L496.9 602.6 L500.1 603.1 L500.6 605.5 L501.2 606.9 L501.9 608.6 L499.5 610 L497.7 610.8 L495 611.8 L493.1 611.8 L491.2 611.6 L488.8 612 L487.2 612.3 L485.2 611.7 L483.8 611.4 L481.9 610.4 L479.8 610.4 L478.6 610.7 L476.2 610.4 L473.9 612.4 L471.5 613.9 L470.2 614.8 L468.8 616 L467.5 615.3 L466.1 614.6 L464.2 614 L462.7 613.2 L461.5 612.3 L461.6 610.8 L461.8 608.6 L462.1 607.1 L462.6 605.3 L463.3 603.1 L465 602.3 L466 601.7Z" fill="none" stroke="#7ad151" stroke-width="2.2" stroke-linejoin="round"/>
<path d="M713.5 467.9 L715.4 466.8 L716.4 465.9 L718.1 464.2 L720.7 464.2 L722.5 463.4 L724.6 462.4 L725.1 464.6 L725 467 L725.7 469.8 L725.9 471.3 L726.4 473.4 L726.5 476.1 L726 478.5 L725.8 479.9 L724.6 481.5 L723.2 483.2 L722.8 485.1 L722.7 486.3 L720.8 485.9 L719.5 485.8 L717.9 485.2 L715.4 484.5 L714.7 483.1 L714.1 481.6 L714.3 478.3 L714.2 476.3 L713.9 473.8 L714.2 472 L713.8 469.7Z" fill="none" stroke="#7ad151" stroke-width="2.2" stroke-linejoin="round"/>
<path d="M183.8 663.5 L184.2 666.9 L185.2 668.9 L186.1 671.7 L188.4 674.6 L188.7 678 L189.3 681.8 L190.8 686.6 L194 692.9 L194.7 694.5 L196.1 696.1 L198 698.9 L198.8 700.8 L199.1 701.9 L199.5 703.8 L201.3 705.8 L202.7 708.3 L203.8 710.6 L205.1 713.9 L205.3 717.2 L205.6 719.1 L206.2 720.2 L206.6 722.5 L206.8 724.2 L206.1 727.8 L205.8 731.3 L205.9 733.6 L206.8 735.8 L206.1 740.2 L206.1 743.6 L206.3 746.7 L205 751.7 L204.9 754.4 L204 755.4 L203.5 757.5 L202.3 759.3 L201 760.5 L199.5 761.9 L197.6 764.6 L198.3 765.9 L198.8 767.6 L199.2 769.1 L198.9 771.6 L196.7 773.3 L195.2 774.4 L194 775.6 L192.8 776.4 L191.1 777.3 L189.3 778.8 L188.3 780.5 L187.4 781.8 L187.5 783.9 L186.6 786.7 L184.2 788 L182.3 789.6 L180.8 791 L178.3 790.8 L176.4 790.6 L173.7 790.4 L173.1 785.1 L173.7 775.5 L173.7 770.7 L173.4 767 L174.4 752.3 L175.9 741.3 L175.3 734.4 L175.6 724.2 L177 716.4 L177.3 711.7 L177.7 704.4 L177.7 696.6 L178.5 689.5 L178.8 679.4 L178.7 674 L179.2 669 L181.3 668.2 L181.6 666.6 L183 664.8Z" fill="none" stroke="#7ad151" stroke-width="2.2" stroke-linejoin="round"/>
<path d="M185.8 683 L185.8 686.6 L186.7 689.2 L187.4 691.8 L187.6 693.9 L188.3 695.9 L189.7 699.5 L190.9 701.7 L193 704 L195.2 705.4 L196.6 706.5 L199.1 707.7 L198 709.6 L198.3 710.9 L198.3 713.2 L199.9 715.4 L200.7 718.1 L201 719.4 L201.6 721.7 L201.2 723.4 L202.2 726.3 L202.9 728.2 L203.5 730 L203.8 732 L203.5 735 L203 737.2 L202.3 739.1 L200.6 743.4 L200.9 746 L200.8 747.7 L200.5 750.2 L199.2 752.6 L198.3 754 L195.6 755.2 L194.4 756.5 L194.1 758.3 L193.2 760.9 L193 763.1 L191.9 764.5 L191.3 765.7 L189.7 766.6 L188.5 767.3 L189.1 769.1 L187.8 771 L186.1 772.1 L184.5 773.7 L181.5 773.9 L178.6 773.6 L179.2 766.3 L178.3 760.4 L178 756.1 L178.4 753.1 L179.8 744.4 L178.1 738.3 L178.9 731.9 L179.9 726.3 L181.3 723.5 L181.8 718 L182.3 712.5 L181.5 705.8 L184.8 700.7 L184.4 695 L183.5 692 L182.5 686.9 L184.3 685.9 L185.3 685Z" fill="none" stroke="#22a884" stroke-width="2.2" stroke-linejoin="round"/>
<path d="M227.1 688.7 L228.3 687.7 L229.6 686.2 L230.4 683.4 L231.3 681.5 L231.8 679.7 L231.9 677.9 L232.6 675.8 L235.5 676.4 L237.5 676.2 L238.8 675.8 L240.6 674.9 L242.4 674.2 L244 674 L245.5 674 L247.4 673.6 L248.7 673.7 L250.6 673.1 L251.9 673.1 L253.9 672.7 L256.6 672.2 L258.4 670.6 L260.2 670.3 L262.1 670.3 L263.9 671.2 L265.4 671.8 L267.5 672.2 L266 674.4 L265.3 676.1 L264.9 678.3 L264.3 679.9 L263.9 681.4 L265.6 683.5 L266.2 686.3 L267.9 686.8 L269.4 688.7 L270.6 691.3 L272.5 693.1 L273.8 694.4 L275 695.9 L277.2 695.8 L278.6 696.1 L279.7 696.4 L281.7 696.6 L282.9 697.8 L284.1 699.8 L283.7 701.3 L283.1 703.6 L282.6 704.6 L282 706.6 L282.1 708.8 L282.3 711.8 L283.2 714.5 L280.9 716.3 L279.7 717.7 L277.9 719.6 L276.5 721.3 L274.9 723.7 L273 721.7 L271.6 720.4 L269.6 719.3 L267.6 719 L265.4 718.5 L263.9 718.1 L262.7 716.3 L262.1 715 L260.7 713.3 L260.7 711.8 L261 710.1 L259.6 708.8 L258.3 707.1 L256.6 706.1 L256 704.9 L254.3 703.5 L251.7 702.5 L249.1 701.6 L247 702.1 L245.6 702.2 L243.4 701 L241.5 700.3 L239.4 700.5 L238.1 699.8 L237.2 698.6 L235.8 697.7 L234.9 695.8 L232.6 693.8 L230.8 692.8 L230 691.9 L228.6 690.5Z" fill="none" stroke="#7ad151" stroke-width="2.2" stroke-linejoin="round"/>
<path d="M245.4 764.9 L247.7 762.9 L249.2 760.8 L249.8 759.3 L250.7 756.7 L251.9 754.5 L251.9 753 L252.6 750.3 L252.8 746.5 L254.3 745.3 L257.1 743.2 L258.3 740.9 L258.8 739.5 L260.6 738.2 L262.2 737.5 L263.6 737.1 L265.6 737.3 L267.7 736.3 L270.3 735 L272.4 735.7 L274.3 736.1 L276.2 736.2 L277.4 736.2 L280.3 735.4 L281.5 734.1 L283.2 732.1 L285.5 731.6 L288.4 731.5 L290.6 730.4 L292.5 730.3 L295.1 729.9 L294.4 731.5 L293.9 732.9 L293.6 735.2 L293.1 736.7 L292.9 738.3 L293.3 740.7 L293.2 742.8 L291.1 744.5 L289.4 746.5 L288.2 748.8 L287.4 751.1 L285.4 752.5 L284 753.8 L282.4 756.1 L280.9 758 L280.1 760.8 L279.4 762.4 L278.5 764.9 L276 766.2 L274.5 768 L272.9 769.2 L271.6 769.7 L270.1 771.3 L269.3 772.2 L268.6 774 L269.2 775.8 L269.1 777.3 L270.5 778.4 L273 779.6 L270.8 778.4 L269.6 777.4 L267.4 776.3 L265.9 776.4 L264.3 776 L263.2 775.6 L261.9 774.1 L260 773.9 L258.7 773.6 L256.8 773.6 L254 773.7 L252.6 774 L250.9 774.1 L250.2 772.8 L249.2 771.5 L247.7 770.7 L246.2 769.9 L245.2 768 L245.2 766.3Z" fill="none" stroke="#7ad151" stroke-width="2.2" stroke-linejoin="round"/>
<path d="M305.5 715.1 L307.5 713.7 L309.7 712.8 L312.6 712.9 L314.7 713.2 L317.4 712.9 L319.2 713 L321.6 713.5 L322.7 715.2 L324 715.8 L325.7 716.9 L327 715.5 L328.8 715.1 L330.1 713.6 L331.5 712 L333.1 711.4 L334.5 712.8 L336.9 714.6 L340.7 714.8 L342.9 715 L344.5 716.8 L345.8 717.7 L347 718.9 L347.8 720.6 L345.6 721.6 L344.3 722.3 L341.6 721.6 L339.4 721.2 L337.7 721.7 L334.9 722.4 L333.6 723.5 L332.2 724.1 L330.6 726.4 L330.1 728.1 L329.4 729.8 L327.4 729.6 L324.4 729.3 L321.7 729.7 L319.9 730.6 L318.3 731.6 L316.3 730.8 L314.3 730.7 L313.3 728.9 L312.6 727.8 L311 726.1 L309.9 723.6 L309.4 721.5 L308.4 719.7 L307 717.6Z" fill="none" stroke="#7ad151" stroke-width="2.2" stroke-linejoin="round"/>
<path d="M373.6 719.8 L374.8 718.6 L377.1 719 L379.3 717.9 L381 717.1 L382.9 717.8 L385.7 718.3 L387.4 719.7 L389.3 720.4 L390.2 721.7 L390.1 723.7 L390.1 724.9 L390.1 726.7 L390.3 728.1 L391.4 730.5 L391.5 732.4 L392 734.5 L390 734.6 L388.2 734.8 L385.7 734.6 L384.1 736.3 L382.8 738.2 L381.4 737.5 L379.8 737.2 L377.9 736.4 L376.5 735.9 L375.4 734.5 L375.5 730.9 L375.6 728.6 L375.2 726.6 L374.2 725.5 L374.2 723.5 L374.1 722Z" fill="none" stroke="#7ad151" stroke-width="2.2" stroke-linejoin="round"/>
<path d="M455.4 611.7 L457.5 611 L459.2 610.5 L460.7 610.2 L463.5 609.4 L465.5 608.9 L466 611.2 L467 613.8 L468.3 615.6 L469.2 617.2 L467.9 617.5 L466.1 617.8 L464 619.8 L462.2 620.8 L460 621.8 L459.4 620.1 L458 617.5 L457.3 616.3 L456.5 614.7 L455.9 613.1Z" fill="none" stroke="#7ad151" stroke-width="2.2" stroke-linejoin="round"/>
<path d="M183.4 662.9 L185.2 662 L187.1 661.8 L189.3 661.8 L191.5 660.8 L193.1 660 L194.4 659.2 L195.8 660.5 L196.8 661.2 L198.9 662.6 L200.7 663.5 L203 664.3 L205.5 664.7 L205 666.7 L205.1 667.9 L204.8 670.4 L204.4 673.1 L203.9 675.5 L203.8 677.9 L203.6 679.4 L201.7 680.4 L199.2 681.2 L197 680.9 L194 680.7 L192.5 681.2 L190.7 681.3 L189.1 680.1 L187.1 679 L185.7 677.1 L184.3 675.8 L184.1 673.3 L183.9 671.2 L183.9 669.9 L183.9 668.1 L184.1 666.3 L183.8 664.5Z" fill="none" stroke="#7ad151" stroke-width="2.2" stroke-linejoin="round"/>
<path d="M481.8 275.7 L481.2 277.3 L479.9 278.8 L479 279.9 L478.9 282.2 L477.4 284.2 L475.9 285 L474.4 287.2 L473.2 288.3 L471.7 289.5 L468.9 289.9 L467.3 289.9 L465.3 290.5 L463.2 289.9 L460.8 289.4 L459.4 288.3 L458.3 287.1 L457.9 285.6 L457 284 L454.9 282 L454.5 279.9 L454.9 278.2 L454.4 276.9 L453.4 275.4 L453.4 273.8 L454 272.3 L454.2 269.8 L454.2 268.3 L455.4 266.8 L456.6 264.3 L457.1 261.8 L459 260.9 L460 260.3 L460.7 259.1 L461.6 256.8 L463.6 255.9 L465 255.2 L467.1 254.1 L469.6 255 L471.4 254 L472.8 254.1 L475.1 254.8 L476.9 255.7 L477.7 256.9 L479 259 L480 260.2 L481.1 262 L481.8 263.6 L482.6 265.3 L482.6 267.3 L482.6 268.6 L482 270.3 L482 272.1 L482.3 273.8Z" fill="none" stroke="#7ad151" stroke-width="2.2" stroke-linejoin="round"/>
<path d="M477.9 274.6 L476.9 276.8 L475.8 279.3 L474.4 280.6 L472.6 282.9 L470.3 284.5 L468.6 284.8 L466.2 283.9 L464.6 284.8 L463.3 283.2 L461.1 282.8 L460 281.6 L458.6 279.1 L457.5 276.5 L457.6 274.4 L458 273 L458.1 271.3 L458.1 269.4 L459.1 267 L460.2 264.7 L461.3 263.9 L462.5 262.7 L463.4 261.1 L464.8 259.5 L467.4 259.2 L469.6 259.5 L471.4 259.2 L473.4 260.6 L474.9 261.2 L476.6 263.4 L477.4 264.9 L478.1 266.8 L478.4 269.6 L477.6 271.1 L477.7 272.5Z" fill="none" stroke="#22a884" stroke-width="2.2" stroke-linejoin="round"/>
<path d="M540.4 221.5 L539.5 223.4 L539.2 224.8 L540.4 226.3 L540.8 227.5 L538.9 228.7 L536.7 229.8 L537 232.5 L536.7 234.7 L536.2 236.6 L535.5 239.3 L533.7 239.5 L531.4 240.5 L530.2 241.3 L528.9 242.2 L526.6 243.3 L524.9 244.5 L523.4 245.6 L521.1 247.3 L518.5 248.7 L516.8 249.3 L515.1 250 L513.7 250.6 L511.7 252 L510.2 253.1 L508.8 253.1 L507.1 253.3 L504.7 254.1 L502.1 253.9 L500.8 254.4 L499.2 255.2 L496.5 255.2 L494.5 254.5 L492.9 252.8 L491 252.9 L489.7 254.1 L488.2 254.3 L485.7 253.6 L484.9 252.1 L483.6 250.5 L484 248.2 L483.8 246.5 L483.2 244.5 L484.6 242.6 L485 239.9 L486.4 238.2 L487.3 237.3 L489 234.9 L489.6 233.2 L490.8 230.9 L492.6 230.7 L495.1 229.8 L497.1 228.2 L498.5 227.3 L499.6 225.4 L500.1 223.6 L503 223.9 L505.5 223.3 L507.5 223.4 L509.1 223 L510.5 222.7 L512 221.4 L513.6 220 L514.8 219.7 L516.9 218.7 L519 218.5 L520.5 218 L523.3 218.9 L525.1 218.6 L526.6 217.8 L527.5 216.8 L528.8 217.5 L530.8 217.3 L532.5 217.6 L534 217.6 L535.8 217.7 L537.7 219.4 L538.2 220.9Z" fill="none" stroke="#7ad151" stroke-width="2.2" stroke-linejoin="round"/>
<path d="M532.3 225.6 L532.7 228.4 L532.5 229.9 L531 230.9 L529.8 232.2 L529.6 235.1 L528.4 235.9 L526.3 236.8 L525.5 238.1 L524.1 240.4 L523.7 242.3 L522.3 243.7 L519.5 244.2 L516.6 245.1 L513.7 245.3 L512.1 245.9 L510.3 246.4 L508.5 248.4 L506.6 248 L504.8 248.6 L503.2 248.8 L500.9 249.7 L498.8 250 L496.4 249.1 L495 249 L493.2 248.6 L491.7 246.4 L492.5 244.8 L491.5 242.1 L492.3 241 L493.4 239.3 L494.4 236.9 L495.2 235.8 L496.3 234.3 L498.3 233 L499.9 231.6 L501.1 229.9 L502.7 228.6 L504.8 228 L507.4 226.9 L508.9 225.1 L510.2 224.3 L511.9 223.2 L514.1 223.6 L515.5 223.6 L517.2 222.7 L519.1 221.2 L520.7 222 L523.1 222.3 L525.6 223.3 L527.7 223.1 L529 223 L529.9 224.5Z" fill="none" stroke="#22a884" stroke-width="2.2" stroke-linejoin="round"/>
<path d="M673.2 246.8 L672.5 248.2 L672.1 249.7 L671.8 250.8 L671.4 252.7 L669.6 254.3 L669 255.8 L668 257.7 L665.1 258.7 L664.6 262.7 L662.4 262.4 L660.6 262 L658.9 262.6 L657.7 264.2 L656.1 266 L654.9 266.3 L653.1 266.4 L650.2 266.2 L648.4 266.4 L646 267.6 L643.9 267.8 L641.7 269.6 L639.6 270.3 L636.3 267.4 L633.7 264.9 L630.7 266.8 L629.1 268.7 L625.6 268.5 L624.2 270.5 L622.4 269.9 L620.8 269.9 L619.1 269.5 L615.8 269.6 L614.4 267.7 L614.1 266.2 L612.1 265.3 L610.2 262.5 L605.9 264.3 L602.6 265.1 L599.7 262.2 L596.7 262.5 L594.3 261 L593.1 259.7 L591.4 259.3 L590 259.1 L589.1 258 L587.9 256.4 L587 254.8 L586.4 253.2 L584.6 251.5 L583.8 250.1 L582.9 248.7 L581.7 247.5 L580.3 246 L578.8 245.2 L577.8 243.5 L576.8 242.9 L576.2 241.2 L576.2 238.3 L577.6 237.2 L576.9 234.8 L576.8 233.2 L579.1 232.3 L579.5 231 L581.3 230.2 L581.5 228.7 L581.1 226.7 L581.3 224.6 L582 222.3 L584 221.3 L585.2 219.4 L587.5 219.4 L588.8 217.2 L590.7 214.9 L592 214.5 L593.9 214 L595 213.6 L596.7 211.9 L597.8 211.1 L599.9 210.3 L602 210.1 L604 210.3 L608.1 210 L610.4 209.7 L612.6 210.1 L614.3 210.2 L617.4 209.3 L619.4 210.2 L622.3 211.9 L624.4 211.5 L626.3 211.1 L629.2 210.1 L630.3 210.8 L632.7 211.6 L635.6 212.6 L638.7 211.8 L640.5 212.5 L642.3 212.8 L644.6 214.2 L647.4 214.9 L649.9 215.7 L652.6 216.5 L654 217.5 L656.2 218.8 L658 220.1 L659.4 221.5 L662.1 223.6 L664.3 225.8 L664.1 229.7 L663.5 231.4 L663.5 233.2 L666.1 233.2 L668.1 233 L669.9 233.9 L671.2 234.8 L671.6 237.2 L670 239.4 L670.4 241.7 L671.8 243 L673.1 244Z" fill="none" stroke="#7ad151" stroke-width="2.2" stroke-linejoin="round"/>
<path d="M659.5 244.8 L659.6 246.5 L660.1 248.6 L658.6 248.8 L656.4 249.7 L656.7 251.7 L655.7 252.7 L655.1 254.9 L653.2 257.1 L651.9 257.2 L649.9 257.1 L647.2 258.5 L647 260.6 L645.7 261.6 L642.8 262.2 L640.8 263 L639.2 262.9 L637.1 261.8 L635.4 261.6 L632.7 261.7 L630.3 261.3 L628.3 261 L627 260.7 L624.9 262.2 L622 261.4 L620.6 259.5 L619 256 L616.7 255.3 L614.6 256.5 L612.2 257.5 L610.9 257.6 L609 257.9 L607.3 256.1 L605.6 254.8 L604.4 253.9 L602.7 252.6 L601.8 251.6 L599.8 252.2 L598.5 251.7 L597.4 249.9 L594.7 249.5 L595.8 248.4 L595.2 246.4 L593.9 244.9 L592 243.7 L590.8 241.6 L590.5 239.2 L590.1 237.3 L590.5 235.2 L591 233.7 L590.7 232 L589.8 229.8 L592 228.3 L594.3 227.3 L596 227 L598 226.4 L600.5 226.2 L601.5 224.6 L602.5 223.3 L602.8 221.5 L604.4 220.4 L606.1 220.5 L608 220 L609.8 220.1 L611.7 220.8 L612.7 218.5 L614.6 218.4 L616.5 217.1 L618.8 216.5 L619.7 217.7 L621.1 219.3 L623.1 220.2 L624.6 220.6 L626.8 219.6 L628 218.6 L629.6 220.8 L632.5 221.3 L634 221.7 L635.9 223.1 L638.2 221.7 L641 222.1 L642.5 224.4 L644.8 225.8 L645.9 227 L648.6 227.4 L650.2 228.5 L651.5 228.3 L652.5 229.9 L653.2 231.3 L654.1 231.9 L656 232.3 L656.8 234.2 L658 236.3 L657.6 238 L657.7 240.7 L658.4 242.3Z" fill="none" stroke="#22a884" stroke-width="2.2" stroke-linejoin="round"/>
<path d="M742.2 199 L741.5 200.2 L740.5 201.5 L740.2 202.8 L739.8 204.4 L740.3 206.4 L738.3 207.6 L736.8 208.8 L735.8 210.5 L734.8 212.7 L732.8 213.6 L730.7 214.7 L728.7 216.2 L726.6 216.8 L724.5 218.7 L722.2 220.3 L720.9 221.3 L718.2 220.3 L717 218.3 L715.4 217.3 L713.6 216.7 L712.3 216 L710.3 215.8 L709.2 216.5 L707.4 216.8 L706.5 216 L705.2 214.5 L702.8 214.1 L701.5 212.9 L699.2 212.7 L698.1 210.6 L697.6 207.9 L695.3 206.6 L693.7 206.4 L693.3 203.8 L692.9 201.9 L692.4 200.2 L691.8 199 L692.9 196.5 L692.6 194.5 L693.1 193.5 L693.7 191.6 L694.9 189.6 L696 187.9 L696.8 187.2 L697.7 186.3 L699.2 185.3 L701.3 183.4 L703.2 182.6 L704.8 181.8 L707.4 181.2 L709.3 181.4 L710.7 181.8 L713.4 182.1 L715 181.2 L717 179.7 L718.9 180.9 L720 181.7 L721.7 183.1 L723.1 181.9 L724.2 181.2 L726.6 181.2 L728.5 182.8 L729.9 183.6 L731.5 183.9 L732.8 184.6 L734.8 185.3 L736.9 186.8 L738 187.8 L738.7 189.5 L740.3 191.6 L740.8 193.2 L741.4 194.5 L741.4 195.7 L742.3 197.3Z" fill="none" stroke="#7ad151" stroke-width="2.2" stroke-linejoin="round"/>
<path d="M735 199 L734.9 201.3 L734.1 202.4 L733.6 204.3 L731.7 206.4 L731 207.6 L729.7 208.8 L727.9 211.1 L725.7 211.1 L723.9 211.7 L721.2 210.6 L719.7 211.7 L717 212.8 L715.9 212.2 L714.5 210.7 L712.7 211.7 L710.1 211.7 L707.6 210.9 L705.9 210.7 L704.3 208.8 L703.2 206.8 L702.6 205.5 L700.4 204.3 L700.4 202.3 L700.2 201 L699 199 L698.9 196.3 L699.9 195 L700.4 193.7 L701 192 L703.1 191.1 L704.3 189.2 L706.6 189.2 L708.4 188 L710.1 186.3 L712.5 184.5 L714.9 185 L717 185.2 L719 185.5 L720.2 185 L722.1 185.9 L723.9 186.3 L726.1 187.9 L727.9 188.6 L729.7 189.2 L731.6 190.8 L732.4 191.8 L733.6 193.7 L732.7 196 L734.2 197.7Z" fill="none" stroke="#22a884" stroke-width="2.2" stroke-linejoin="round"/>
<path d="M819.8 218.3 L818.4 220.2 L817.3 221.3 L816.2 223.5 L815 224.8 L815.8 227.3 L813.7 227.5 L812.4 228 L810 228.5 L810 230.2 L810.1 232.1 L808.8 233.5 L808 234.3 L806.1 234.1 L804.7 234 L802.3 234.1 L801.7 235.3 L800.1 237.1 L797.4 237.9 L794.7 237.7 L792.4 236.6 L790.8 237.1 L788.6 236.2 L787.5 236.7 L785.6 237.8 L783.5 236.8 L782 236.5 L779.6 235.1 L776.8 234.3 L774.6 233.9 L773.2 232.5 L771.7 230.2 L770.4 227.7 L768.7 227.2 L765.8 226.8 L763.9 224.8 L764.4 223.3 L764.4 221.5 L761.8 220.1 L760.8 217.6 L759.6 215.5 L760.8 213.9 L761.3 212.7 L761.3 209.8 L760.2 207.7 L761.6 207.1 L763 206.2 L762.9 204.2 L762.8 203 L762.7 200 L764.2 198.7 L765 197.4 L766.2 196 L766.5 193.8 L766.7 191.9 L768.6 192.3 L770.6 191.6 L772 191.7 L773.7 191.5 L775.1 191.1 L777.2 189.8 L779.6 190.2 L781.2 189.2 L782.6 188.1 L784.9 188.8 L787.2 187.5 L790.1 186.2 L792 186.5 L794.4 188.2 L797.1 189.4 L799.5 188.9 L801.5 189.2 L803.5 189.9 L805.4 192.1 L807.7 193.6 L810 194.9 L810.9 196.8 L812 198.4 L814.2 199.2 L814.4 201.5 L815.2 203 L815.8 204.7 L817.1 206.1 L817.9 207.1 L819.2 208.4 L820 210.5 L820.8 212.3 L822.2 214.2 L821.1 216.6Z" fill="none" stroke="#7ad151" stroke-width="2.2" stroke-linejoin="round"/>
<path d="M811.3 216.8 L809.5 217.9 L807.7 220.1 L807.7 222 L808.5 223.2 L808.4 226 L808.4 227.5 L805.6 228.2 L802.8 228.2 L800.2 227.8 L798.2 229.4 L797.1 230.2 L795.3 230.8 L793.5 231.3 L792 231.7 L790 232.8 L788.5 232.2 L786.9 230.7 L785.8 230.6 L783.7 230.5 L782 228.5 L780.9 228.2 L779 227.9 L776.9 227 L775.8 225 L774.6 224.4 L772.7 222.9 L772.7 220.5 L773 217.9 L771.7 217.1 L769.2 216.3 L768.8 213.7 L768 212.1 L768.7 209.2 L769.3 207.2 L770 205.7 L771 203.9 L771.5 202.8 L773 201.6 L773.6 200.2 L775.7 198.5 L777.2 197.8 L779.4 196.9 L780.1 195.3 L782.8 195.9 L784.7 195.2 L786 194.5 L788.1 193.7 L790.4 194 L792.1 194.4 L793.1 195.3 L795.7 195 L798.3 195.1 L799.7 196.2 L801 198.1 L803 200.2 L805.1 200.3 L806.2 202.2 L807.3 203.1 L808.5 205.7 L810.4 207.5 L810.8 209.7 L811.5 211.5 L810.4 213.4 L811 215.3Z" fill="none" stroke="#22a884" stroke-width="2.2" stroke-linejoin="round"/>
<path d="M790.1 296.7 L788.6 298.8 L787.5 299.9 L785.4 300.2 L784 300.9 L782.1 301.9 L779.5 301.6 L778.1 300.7 L775.8 301.6 L774.7 302.2 L773.2 302.1 L770.8 302.3 L769.1 301.6 L766.4 300.7 L764.7 300.8 L762.5 300.8 L760.3 299.6 L758.5 297.8 L756.8 296.3 L755.7 295.1 L754.3 294.9 L752.2 293.9 L750.2 292.2 L749.5 291.2 L748.5 289.5 L748.4 287.1 L747.9 285.3 L748.9 284.1 L750.5 282.1 L752 280.3 L754.4 279.9 L755.9 280.1 L758 279.7 L760.2 278.3 L761.5 279.2 L763.3 279.8 L765.5 281.3 L767.6 283 L769.7 282.3 L771.6 281.3 L773.9 282.1 L775.6 282.6 L777.5 283.1 L779.5 284.2 L781.3 285.1 L782.6 285.2 L783.6 286.5 L785.8 288.1 L786.2 290.6 L788.1 292 L789.5 292.5 L789.1 294.7Z" fill="none" stroke="#7ad151" stroke-width="2.2" stroke-linejoin="round"/>
<path d="M724.7 280 L724.2 281.9 L722.8 283.6 L720.6 284.7 L718 285 L715.4 284.7 L713.2 283.6 L711.8 281.9 L711.3 280 L711.8 278.1 L713.2 276.4 L715.4 275.3 L718 275 L720.6 275.3 L722.8 276.4 L724.2 278.1Z" fill="none" stroke="#7ad151" stroke-width="2.2" stroke-linejoin="round"/>
<path d="M358 418.8 L360.3 417.5 L362.2 414.9 L362.4 412.4 L363.6 410.2 L363.6 408.5 L363.6 405.2 L362.1 402.7 L363.7 400.9 L366.5 399.8 L367.7 398.8 L368.9 397.5 L368.7 395 L368.2 392.5 L368.1 388.9 L370.1 386.6 L370.2 384.7 L371.3 381.6 L370.2 380.5 L368.4 379.5 L370 377.4 L370.7 375.2 L372.1 374.5 L370.5 372.7 L369.9 370.6 L370.4 368.6 L369.8 366.1 L369.1 364.4 L372.4 361.8 L373.4 359 L374.7 357.7 L376.2 356.3 L377 354.5 L378.1 352.3 L380.2 350.4 L379.5 345.8 L384.9 343.4 L386 341.4 L388.2 339.9 L388.7 337.6 L391.4 334.2 L393.1 330.9 L396.3 328.2 L398.3 328.7 L399.7 330.7 L401.2 332.2 L403.3 333.3 L401.5 335 L400.8 336.5 L402.7 339.5 L402.3 341.8 L401.6 343.5 L400.6 344.5 L401.8 346.4 L401.3 348.3 L402.3 350 L403.2 351.4 L405.1 351.8 L406.5 352.8 L409.1 353.2 L410.4 354.4 L411.8 355.4 L412.6 356.6 L415.6 356.5 L417.1 354.9 L416.6 351.7 L417 349.3 L416.9 347.9 L416.4 346.3 L417.7 343.6 L421.1 341.7 L421.3 339.2 L422 336.9 L420.7 335.8 L420.7 333.3 L420.8 331.8 L420.4 330.2 L419.6 328.6 L419.8 325.4 L418.4 324.4 L418.1 322.6 L417.5 320 L417 316.9 L415.7 315.5 L414.4 314.1 L413.8 312.1 L413.5 310.9 L413.5 308.2 L409.8 307 L407.2 305.5 L408 301.2 L410.4 298 L411.9 295.4 L412.7 293.6 L413.5 292.1 L413.8 289.9 L415.4 286.1 L413.9 282.3 L413.7 280.1 L412.4 277.9 L412.3 275.7 L411.4 274.7 L411.5 272.7 L413.1 271.1 L414.5 269.8 L416.4 267.9 L418.2 267.9 L419.6 269.6 L420.8 269.3 L422.6 269.4 L424.4 269.9 L424.2 272.8 L425.2 275.3 L425.2 277.4 L423.8 278.7 L425.2 280 L427.5 282 L426.5 285.1 L427.2 287.4 L425.9 289.2 L425 292.1 L426.1 296.4 L425.9 298.9 L427.5 302.8 L428.5 310.1 L429.4 314 L427.8 316.2 L428.1 318.1 L427.8 320.1 L428.5 322.3 L428.4 324 L429.4 326.3 L430.5 328.2 L431.9 328.5 L433.8 329.5 L433.5 331.5 L434.1 332.7 L433.5 334.9 L433 336.6 L433 338.5 L432.5 340.3 L433.5 341 L434.8 342.5 L434.6 344.5 L435.5 346.7 L439 347.4 L441.4 346.3 L443.2 345.2 L444.6 344.3 L445.7 345.5 L447.8 345.6 L449.3 346 L451 345.9 L451.9 347 L453.9 348.2 L456.4 348.4 L458.6 348.3 L460.6 346.1 L461.6 344.5 L463.3 343.5 L464.5 342.7 L466.9 341.4 L468.7 340.3 L470.7 339.1 L472.9 338.3 L474.2 337.6 L474.6 340.5 L476.2 342 L478.8 342.3 L481 342.1 L482.5 342.2 L484.1 341.1 L485.4 338.3 L487.3 337.7 L488.9 336.2 L489 333.6 L490.8 330.2 L490.9 328.6 L490.9 326.3 L491.5 323.2 L491.4 320.4 L492.2 319.1 L494 318.1 L495.9 315.9 L497.9 314.1 L499.5 311.5 L501.1 310.4 L500.6 308.5 L500 307.2 L497 306.3 L495.1 305.7 L494.8 303.8 L494.9 302.1 L497.5 301.7 L498.5 299.8 L498.5 298.5 L500.2 299.1 L502.9 300.1 L503.1 302.8 L501.7 304.4 L501.9 306 L503.5 307.8 L504.3 308.9 L505.6 310.7 L506.9 312.1 L506.4 313.9 L505.9 315.4 L504.9 316.9 L504.6 319.7 L504.7 321.7 L505.2 323.7 L503.7 325 L502.9 328.2 L505.5 327.6 L507.4 327 L509.9 328.6 L511.7 328.9 L514.1 329 L515 326.2 L516.4 325.3 L518.8 324.2 L521.9 325.8 L524.6 326.8 L527.1 325.4 L529 324.2 L531.1 322.2 L533 321.1 L534.8 320.9 L534.7 319 L536.2 317.4 L537.5 316.1 L539.1 316.2 L540.8 315.2 L543.1 316.2 L545.9 316.5 L547.7 314.6 L549.2 316.1 L551.6 316.9 L553.6 315.6 L555.2 314.4 L557.2 314.1 L558.6 314.5 L560.6 315.9 L562.6 315.5 L565.5 315.9 L566.3 318.9 L567.5 320.4 L569.9 320.8 L571.3 322.2 L569 322.7 L567.5 323.7 L566.1 324.2 L564.2 324.7 L560.2 325.9 L558 324.6 L553.3 325.7 L551.2 328.2 L549 330.2 L546.6 330.6 L545.7 332 L547.2 334.4 L547.2 336.3 L549.6 338.7 L551.5 340 L554.6 338.8 L557.8 337.4 L559.2 335.6 L562.6 335.8 L564.9 337.2 L567.3 336.3 L569.9 337 L572.6 338.6 L575.4 337.8 L577.6 337.1 L579.7 337.8 L581.7 338.4 L583.9 339 L587.4 340.3 L589 341 L592 342 L595.9 342.5 L600.2 343.9 L602.9 343.6 L604.7 343.8 L607.5 344.3 L612.6 345.8 L615.5 348.3 L618 350.5 L622 352 L624.8 351.6 L627.1 353.5 L629.2 354.8 L631.7 356.4 L629.9 356.8 L628.5 358.3 L628.6 361 L626.6 360.2 L624.6 359.9 L623.6 361 L621.6 360.4 L619.6 361.1 L618.4 361.1 L617 363.8 L615.2 365.2 L614.8 362.9 L613.7 360.9 L612 359.7 L611.5 358.4 L613.5 360 L617 361.6 L618.4 362.4 L619.7 363.8 L621.1 365.1 L622.3 366.9 L625.1 368.7 L627.6 370.5 L629.7 373.4 L632.8 373.9 L633.7 376.4 L635.6 379.2 L636.6 380.8 L637.5 383 L639.7 384.6 L639.8 387.5 L638.7 390 L638.7 392 L640.6 393.5 L641.5 396.9 L644.2 400.5 L645.7 402.7 L645.6 405 L644.6 408.8 L643.5 411 L643.5 412.4 L644.1 415 L642.9 416.3 L643.7 418.8 L646.8 423.1 L648.8 425.2 L646.4 428.6 L646 431.2 L645.4 434.2 L643.3 435.1 L641.1 436.7 L639.7 438.9 L638.5 441.4 L638.5 442.9 L636 445.6 L634.5 447.8 L634.9 449.8 L633.8 451.9 L631.9 453.9 L631.7 457 L633 457.9 L634.1 459.1 L633.2 461.1 L633.6 464.1 L632 465.1 L629.5 466.5 L629.9 469.3 L629.6 471.1 L629.6 472.9 L628.2 475 L627.9 476.5 L625.8 478.2 L626.3 479.5 L628 481.1 L629.6 481.6 L631.7 483.1 L631.5 484.7 L631.2 486.8 L630.4 488.4 L628.2 490.2 L628.8 492.4 L627.9 496.2 L627.3 498.2 L627.6 501.2 L629.5 501.8 L630.4 502.8 L632.2 503.9 L633.6 504 L634.3 505.8 L635 507.2 L635.6 509.3 L635.7 511.3 L637.6 512.9 L638.5 515.4 L640.3 515.8 L641.4 518.2 L643 519.6 L644.6 520.3 L645.7 521.4 L644.5 524.1 L645.4 526.4 L646.8 529.5 L647 531.8 L646.3 533.5 L646.3 536 L643.7 538 L641.7 539.5 L639.3 538.5 L637 538.8 L634.7 539.3 L632.8 540.1 L630.5 539.7 L629.4 538.1 L627.6 537.5 L626.1 535 L625.2 534.1 L624.9 532.1 L623.5 531.3 L621.3 530.9 L619.3 529.8 L617.6 527.4 L617.4 529.2 L617.2 532.2 L615.4 533.3 L613.1 534.6 L612 536.9 L612.2 538.3 L611.3 540.3 L609.5 541.5 L608.1 544.1 L605.6 545.6 L604.1 547.9 L602.1 549.6 L600.4 550.8 L599.3 552.9 L601.8 554.8 L601.5 557.6 L601.8 561.7 L601.4 565.7 L598.7 568.3 L597.4 571.4 L596.5 573.9 L593 574.1 L591.4 576.4 L589.4 577.7 L585.5 578.2 L583.2 581 L581.5 582.1 L579.5 583.4 L576.3 585.6 L573.8 584.8 L571.9 586 L571.3 587.8 L569.4 585.2 L567.1 585.1 L564.9 586.9 L561.5 587.1 L561 590.6 L557.7 592.9 L553.7 595.4 L551.2 597.8 L549 600.9 L545.5 602.8 L543.2 602 L539.5 600.9 L537.8 602 L534.4 602.8 L533 602.9 L531.1 603.8 L528.7 604.4 L526.6 604.8 L526 603.4 L524.2 602.9 L522.7 601.4 L520.7 600.5 L517.4 601.3 L515 601.8 L513.3 602.8 L512 603.3 L510 604.3 L507.7 604.2 L505.8 607 L504.6 608.4 L504.1 610.6 L502.9 611.9 L502.8 609.4 L500.9 607.7 L499.7 607 L497.9 606.7 L495.3 606.6 L493.4 604.8 L490.8 603.8 L488 604.2 L486 602.1 L483.1 601.7 L480.3 603 L478.8 603.8 L476.8 605.5 L475 605.6 L474.5 608.2 L473.9 609.4 L473.9 611.5 L475.7 613.5 L474.7 615.9 L474.6 618.4 L472.5 619.6 L469.7 620.1 L467.1 621.9 L465.3 621.7 L463.7 621.9 L462.7 624 L461 624.4 L459.7 624.1 L457.7 624 L455.6 622.5 L454.6 619.9 L455.2 618.6 L456.4 616.6 L458.9 616.1 L459.3 614.2 L459.7 612.4 L458.6 609.9 L461 608.7 L463.7 607.8 L465.6 607.5 L466.7 606.8 L469.3 605.7 L470.7 603.8 L471.2 601.9 L473.6 600 L473.4 598.7 L474 597.1 L473.2 595.2 L471.6 593.8 L469.9 592.4 L468.7 591.8 L467.9 590.5 L466.9 588.2 L465.3 586.9 L465.2 584.1 L463.6 581.9 L461.1 581.2 L456.6 581.7 L454.6 579.7 L453 577.8 L450.1 576.6 L447.8 577.2 L446.1 575.8 L445.1 572.7 L443.5 568.4 L441.1 565 L438.5 561.6 L436.2 560.2 L434.4 559.8 L431.9 557.6 L430 552.7 L427 551.1 L426.6 547.5 L426.4 545.5 L425.4 544 L424.3 542.3 L425.3 539.3 L424.6 537.1 L423.1 535.2 L420.7 533.2 L417.8 530.3 L416.4 527.4 L415.4 524.2 L415.1 519.4 L412.6 516.4 L409.9 514 L406 513.5 L404.3 510.1 L401.6 509.3 L400.3 507.3 L399.9 505 L398.6 502.4 L396.7 501.4 L394.9 501.3 L394.7 498.6 L394.7 495.3 L392.9 492.9 L390.2 491.2 L387.3 488.9 L384.4 484.4 L383.1 481 L381.1 479.6 L380.9 478.1 L380.9 475.6 L379.9 473.7 L380.2 471.1 L378.2 469.3 L377.2 467.8 L376.6 464.3 L377.7 462.3 L377.5 459.8 L377.9 456.8 L376.4 453.8 L372.1 450.9 L371.3 448.6 L368.9 445.3 L366.6 444.2 L364.1 443.8 L361.2 441.6 L359.2 439.5 L359.7 437.1 L362.1 434.9 L360 432.4 L358.4 431.2 L357.7 428.3 L359.1 426.2 L359.1 423.4 L358.8 421.3Z" fill="none" stroke="#fde725" stroke-width="2.7" stroke-linejoin="round"/>
<path d="M364.1 418.8 L365.4 418.8 L367.1 418.1 L368 416.1 L370.1 414 L370 411.3 L370.2 409.8 L369.2 406.2 L368.1 402.7 L368.6 400.9 L368.9 399.6 L369.1 397.8 L369.9 396 L369.8 393.4 L370.8 391.4 L373.3 388.8 L376.2 386.6 L376.7 385.4 L377 383.3 L378.6 382.5 L380 380.4 L380.8 378.6 L380.9 377 L380.2 374.5 L380.4 372.6 L380.5 371.1 L380.4 368.6 L382.8 367.3 L384.7 367.1 L385.4 366.1 L386.2 364.4 L387.5 362.6 L389.2 360.7 L390.4 359.9 L392.8 359.3 L394.9 358.8 L396.8 358.1 L398.6 358.6 L400.3 358.4 L402.3 358.5 L404.9 358.5 L406.3 359.8 L407.8 361.5 L410.4 362.4 L412.6 361.3 L413.4 359.6 L415.4 358.5 L417.9 357.9 L420.4 358.4 L421.4 355.9 L421.6 353.6 L423 349 L425.1 346.9 L425.7 345.7 L426.5 343.5 L426.6 341.8 L426.4 340.3 L426.3 337.5 L426.9 335.5 L427.2 332.3 L427.8 330.3 L427.6 328.6 L428.2 325.8 L425.9 323.2 L424.4 320.2 L423.7 317.3 L422.3 314.6 L421.9 312.6 L422.2 310.8 L422.2 308.5 L420.6 306 L420.4 302.1 L420.1 299.7 L420.6 296.7 L420.5 293.8 L420.4 292.2 L419.1 288.8 L415.9 286.1 L418 284.6 L419.4 282 L420.8 280.2 L422.4 277.9 L423.9 279.6 L425.3 281.4 L426.7 283.5 L425.8 286.2 L425.3 287.7 L424.8 290 L423.8 295.2 L422.2 298.1 L422.4 302.9 L422.8 305.8 L426.2 310.1 L426.6 313.4 L426.2 316.4 L426.4 320.2 L427.2 321.9 L428.8 324.1 L428.3 327.4 L428.2 330.1 L429.8 332.3 L430.5 334.1 L430 337.5 L430.5 342.3 L431.8 343.9 L433.2 345 L435 345.8 L437.9 346.5 L439.5 348 L441.7 349.2 L442.5 350.4 L445.1 350.3 L447.2 348.7 L450.4 346.4 L453.2 345.5 L455 347.5 L454.9 349.6 L456.3 352.9 L458.6 354.4 L460.7 353.4 L462.1 351.8 L463.3 351.5 L464.8 350.1 L466.1 349 L468.3 349.3 L470.7 348.3 L473.2 349.1 L474.5 349.7 L475.9 350.5 L477.6 351.1 L478.7 349.9 L481.1 349.7 L482.8 348.3 L486.3 347.1 L488.2 346.2 L488.7 344.1 L489.1 341.5 L490.4 340.9 L491.9 340 L494.9 340.3 L497.7 340.2 L500.6 340.1 L502.3 338.7 L503.6 337.4 L505.4 336.5 L508.7 336 L510.9 336.3 L512.9 335.7 L515.1 335.2 L517.3 333.6 L520.9 331.5 L522 332.6 L523.9 333.1 L525.1 333.7 L527 334.3 L529.1 333.4 L532.2 332.5 L533.6 332.7 L535.5 333 L537.2 332.4 L538.9 330.8 L541.1 330.2 L542.8 331.7 L544.3 332.9 L545.3 334.9 L547 336.9 L547.5 339.8 L549.2 340.3 L551.2 342.3 L553 342.7 L555.7 341.9 L559.1 341.7 L561.4 340.9 L562.8 341.6 L564.6 343.2 L567.8 342.5 L571.3 344.3 L574.8 345.6 L577.2 346.8 L580.1 350.1 L581 352.4 L582.6 352.6 L584.2 353.2 L586 354.2 L587.4 356.4 L590.7 356.7 L592.9 356.8 L595.2 355.6 L597.7 355.5 L600.5 357.9 L601.6 359.6 L604 362 L607.5 362.4 L610.4 365.1 L613.4 368.3 L615 369.2 L617.4 371.1 L618.4 373.3 L618.9 374.5 L621.2 376.3 L623.6 376.5 L623.9 379.9 L625.3 381.4 L627 383.8 L628.5 385 L630.1 386 L633.3 387.4 L634 388.9 L635.7 390.6 L635.9 392.6 L636.9 395.5 L639 398.5 L640.1 400.3 L640 402.7 L640.5 404.8 L640.7 406.7 L639.8 408.3 L640.4 410.8 L640.7 413.4 L641 416.2 L642.1 418.8 L641.1 420.9 L639.7 422.8 L640.7 424 L642.1 426.2 L640.3 429.7 L639.7 432.3 L637.5 435.3 L638.1 438.9 L637 440.7 L634.7 442.9 L635.3 446.1 L633.9 449 L632 450.4 L629.4 453.1 L628.5 454.6 L627.7 456.9 L625.6 459 L624.6 460.2 L623.7 461.9 L623.3 464.3 L623.2 466.4 L621.1 469.7 L620.9 472.8 L619.6 474.5 L617.6 475.1 L616.2 477.2 L614.7 481 L613.4 483.3 L612.4 484.8 L611.6 486.1 L610.6 487.4 L611.2 489 L611.5 491.2 L613.1 491.9 L614.4 493.3 L615.6 495.8 L616.8 497.5 L617.6 498.8 L618.7 500 L619.5 501.3 L619.6 503.3 L620.5 505 L622 507.2 L624.1 508.3 L624.1 510.3 L623.8 511.8 L622.7 514.4 L623.6 515.8 L623.6 517.3 L621.3 518.3 L619.2 518.3 L617.3 518.5 L615.3 520.4 L613.3 519.6 L611.5 519.3 L609.2 521.4 L606.8 522 L608 524.7 L607.9 527.7 L605.4 529.9 L604.8 532.3 L603.9 534.1 L603.5 535.4 L602.2 538.7 L600 543.3 L599.5 545 L598.5 547.8 L598.7 549.2 L598.3 551.2 L598.2 554.1 L597.5 555.6 L595.3 557.5 L595.2 560.5 L593.4 563.3 L590.7 566.7 L589.5 568.8 L588.8 570.5 L586.8 571.3 L585.4 573.7 L583 575.5 L581.3 578.4 L578.6 579.5 L575.4 579.9 L572.3 580.8 L569.8 581.3 L569 582.5 L567.3 583.7 L562.7 584.9 L559.9 585.4 L558.2 587 L555.3 588.5 L552.9 589.7 L550 590.4 L548.2 591.9 L547.2 593.8 L544.2 594.1 L542 595 L540.7 596 L536.9 596 L533.9 595.8 L531.5 596.6 L529.1 597.8 L527.4 598.3 L525.3 598.1 L523.6 598 L521.3 597 L519 595 L516.6 593 L513.6 593.2 L510.9 593.8 L509.2 593 L506.9 592.9 L503.2 591.5 L500.6 591.3 L499.5 590.2 L497.5 589.6 L495.7 588.7 L494.9 587.8 L491.4 587.2 L489 585.7 L486.8 585.2 L485.3 584.6 L483.9 584.5 L482 584.7 L480.5 584.5 L478.8 585.7 L478 583.9 L477 581.6 L474.6 580 L472.9 578.6 L470.3 576.8 L466.7 575.4 L463.9 573.5 L462.7 571.7 L460.5 571 L456.5 570.3 L455.5 568 L454.7 564.1 L451.8 561.7 L449.5 559.3 L446.9 558.5 L444.6 557.6 L442.9 553.2 L441.6 550.7 L440.1 547.4 L439.8 544.9 L437.2 543.7 L436 542.5 L432.6 540.3 L430.5 539.5 L428.7 537.1 L427.3 536.1 L427.9 533.6 L428 532 L425.4 528.8 L421.8 527.6 L421.1 525.9 L420.4 523.4 L418.5 521.1 L417.4 517.1 L416.1 515 L412.9 513.1 L411.8 510.1 L410.4 507.7 L407.6 506.5 L406.3 505.3 L406.6 502.9 L406.2 500.2 L405.8 498.9 L405.9 497.1 L404 496.4 L401.2 495.5 L397.9 494.1 L395.3 489.2 L392.3 484.7 L391 481.8 L391.3 478.9 L391.8 476.6 L389.6 474.6 L387.5 472.1 L386.2 470.7 L385.2 469.1 L383.2 465.4 L381.3 461.9 L381.7 458.9 L381.8 456.5 L380.5 453.7 L380.6 451.2 L378.9 450.1 L377.2 448.9 L377 447.7 L376.7 445.8 L375.4 443.9 L373.7 442.4 L372.7 440.2 L371.4 438.6 L369.4 436.8 L368.1 432.8 L366.6 431.1 L366.5 428.9 L367.3 427.6 L367.4 425.9 L367.4 424.4 L366.7 422.1 L365.2 420.6Z" fill="none" stroke="#7ad151" stroke-width="2.5" stroke-linejoin="round"/>
<path d="M387.2 418.8 L387.6 417.1 L388.4 415.9 L387.8 413.7 L387.9 411.3 L389.3 409.3 L390.2 407.6 L388.6 405.4 L388.2 402.7 L389.9 401.6 L391.8 399.5 L393.2 397.2 L393 395.9 L393.9 394 L393.5 392.4 L393.3 390.6 L394.5 388.6 L395.9 388.1 L397.5 387.7 L399 386.6 L401.9 385.5 L404.3 382.4 L407.1 380.9 L410.4 380.5 L413.2 378.5 L414.5 375.8 L418 375.3 L419.8 374 L421.9 373.8 L423.5 373.3 L424.6 371.4 L426.4 370.5 L428.4 371.9 L432.7 372.8 L434.1 374.2 L436.9 375.6 L438.3 376.4 L440.5 377.5 L442.5 378.5 L443.7 378.8 L445.6 379.4 L446.7 379.4 L448.7 379 L450.3 378.1 L451.5 377.7 L453.4 377.5 L454.6 376.5 L457.8 375.7 L459.5 374.1 L462.4 373.4 L464 372.1 L465.6 371.2 L468.6 370.2 L469.8 368.1 L470.7 366.4 L472.9 365 L473.9 363.6 L476.4 362.2 L478.4 361.5 L482 360.2 L484.2 359.2 L486.8 360.4 L487.1 358.3 L489.1 356.4 L490.7 354.7 L493.6 353.1 L495.4 352.2 L496.7 351.6 L499.8 351.8 L502.9 350.4 L503.6 348.8 L504.9 347.3 L507.6 347.2 L510.5 346.2 L512.5 346.5 L513.6 346.1 L515.1 347.4 L517 348.3 L518.6 346.8 L519.9 345.5 L522.3 346.1 L523.9 346.8 L526.2 346.1 L529.1 346.3 L527.9 348.2 L526.4 349.8 L524.4 352.1 L522 353.2 L521 354.3 L519.6 356.3 L517 357.7 L515 358.4 L513.2 360.8 L512.5 363.8 L513 367.7 L512.7 370.7 L512.2 372.3 L511.7 374.8 L511.1 376.7 L510.9 378.5 L514.1 378 L516.6 377.9 L519.3 378.2 L520.9 378 L523.7 377.2 L526.9 376.8 L529.4 377.2 L531.1 376.5 L533.1 376.5 L535.9 377.1 L538.2 376.4 L542.4 375.7 L544.5 375.6 L547.3 376.6 L549.1 376.6 L551.2 376.5 L553.2 376.1 L556.4 376.3 L561.7 374.9 L563.8 372.5 L566.4 372.9 L568.5 374.5 L570.2 375.8 L571.3 376.5 L573.8 376.9 L576.3 376.7 L578.9 375 L581.3 374.7 L583.7 376.2 L585.7 376.9 L589.5 377.5 L591.4 378.5 L594.5 379.2 L598.3 381.1 L601.2 383.1 L603.5 384.4 L605.6 384.6 L606.8 385.4 L608.7 384 L611.5 384.6 L612.6 385.3 L614.4 386.3 L615.8 388.9 L617.4 390.6 L619.7 393.1 L624 394.6 L626.9 396.5 L627.6 398.6 L629.4 400.7 L630.6 402.4 L631 403.5 L632.3 405 L632.6 408 L635.1 411 L635.9 413 L637.7 414.7 L637.8 416.6 L636.3 419.5 L636.8 421.3 L636.7 423.7 L637.4 424.8 L637.6 426.6 L638.5 428.9 L639.7 430.8 L639.5 432.5 L639.9 434.1 L639.4 435.7 L638.4 438 L637.9 439.6 L636.9 442 L635.5 444.9 L635.7 446.9 L635.3 448.8 L635.3 449.9 L634.5 451.2 L633.6 452.7 L632.1 454.1 L630.3 456.1 L627.6 457 L625.8 458.4 L623.9 458.6 L622.3 460.6 L619.2 462.3 L615.7 463.5 L613 462.8 L611.7 464.8 L611.5 467 L612.1 470 L612.4 474.7 L613.1 477.1 L613 478.9 L612.4 482.7 L612 485.7 L609.6 486.7 L607.5 487.2 L606.2 490.1 L604.9 492.5 L604 496.9 L604.5 500.6 L602.8 501.6 L601.8 504.3 L600.6 505.5 L599.5 507.3 L598.5 511.1 L597.6 513.9 L594.6 516.2 L591.5 517 L591.9 519.1 L591.8 521.3 L591.8 523.6 L591.4 527.4 L592.1 529.1 L592.8 530.2 L595.2 531.9 L597 533.2 L597.2 536.3 L595.8 539.6 L594.4 542 L593.4 543.5 L592.4 544.4 L591.4 546.6 L588.9 549.4 L586.6 550.9 L586.4 552.9 L586 555.2 L587.4 557.6 L587.5 560.5 L587.1 563.3 L585.7 564.9 L585.2 566.4 L584 566.8 L582 566.5 L579.5 567.2 L577.3 569.6 L574.4 572.1 L572.5 574.2 L569.8 575.1 L567.9 575.9 L566 576.7 L564 577.7 L562.3 578.7 L561.2 579.7 L558.5 580.1 L556.2 581.1 L555.1 582.9 L552.2 584.1 L550.1 586 L547.8 587.4 L545.4 586.4 L543.1 585.7 L540.7 584.5 L538.9 583.7 L536.8 583.7 L533.4 584.7 L531.4 584.2 L530.2 584.2 L528.7 584.6 L527 583.7 L523.9 581.1 L522.6 577.8 L519 578.1 L516.9 577.9 L515 577.5 L513.8 577.1 L512.3 576.6 L510.9 575.7 L508.8 574.4 L506.6 570.7 L504.2 569.6 L502.8 568.2 L499 567.2 L495.6 565.4 L493.3 565.9 L490.8 565.6 L490.5 563.7 L489.2 560.4 L487.7 559.2 L485.7 558.6 L482.4 557 L479.8 554.7 L476.3 553.1 L474.7 551.5 L472 548.5 L469.7 546.8 L468 545.1 L466.6 543.5 L466.4 542.2 L465.5 540.5 L464.5 539.3 L462.7 537.5 L461.5 535.8 L462 533.4 L461.1 531.2 L460.9 529.6 L456.6 527.5 L454 525.9 L452 523.7 L450.6 521.4 L449.4 519.9 L448 519.3 L445.3 518.7 L442.4 517.2 L440.4 515.3 L438.2 513.8 L436.5 513.3 L434.2 511.6 L431.6 511.3 L429.9 509.1 L429.5 507.5 L428.6 505 L426.2 505 L422.4 503.3 L421.8 501.6 L420.4 499.3 L419.8 497.1 L419 495 L417.1 495 L415 494.6 L412.3 494.3 L410.4 493.2 L407.2 491.2 L405.1 489.4 L402.8 488.2 L399.8 488.1 L398.5 485.4 L398.7 483 L398.3 481.1 L397.9 478.6 L395.6 476.7 L394.1 473.6 L393.7 470.6 L393.9 468.1 L392.9 464.8 L391.6 462.4 L390.2 461 L390.5 459.5 L390.9 457.2 L390 455.5 L389.5 452.9 L389.3 450.2 L388.8 446.2 L387.5 443.7 L386.2 438.9 L386.8 436.8 L387.3 433.2 L387.6 431.4 L387.4 428.2 L388 426.2 L387.5 422.6 L387 420.5Z" fill="none" stroke="#22a884" stroke-width="2.3" stroke-linejoin="round"/>
<path d="M404.3 438.9 L406.2 437.7 L407.5 436.2 L407 433.2 L407.2 429.5 L408.3 426.5 L409.9 423.4 L410 420.5 L410.4 418.8 L411.6 418.1 L412.9 417 L414.5 416.3 L415.8 414.6 L418.5 411.4 L420 409.4 L421.4 407.8 L422.4 406.7 L425.2 406.2 L426.7 405.5 L428 403.9 L431 403.2 L432.3 401.6 L433.2 399.8 L434.5 398.6 L435 400.7 L436 402.5 L436.3 403.7 L437.2 404.7 L438.5 406.7 L440.3 406 L442.9 404.6 L445.4 402.9 L447.8 403.7 L449.6 402.9 L451.2 402.6 L454.2 400.7 L456.6 400.7 L458.3 400.3 L460.2 400.4 L461 398.5 L460.3 396.8 L462.3 396.7 L464.5 395.5 L466.7 394.6 L468 397 L467.9 399.8 L468.9 402.3 L470 404 L470.7 406.7 L474.3 405.9 L476.3 406 L479.7 404.3 L481.2 402.4 L483 400.8 L484.6 400.2 L486.8 398.6 L489.1 399.7 L492.4 400.4 L494.2 398.9 L496.9 396.7 L498.4 396.1 L499.8 395.6 L501.1 394.1 L502.9 392.6 L505.1 390.9 L506.6 388.9 L508 388.3 L509.3 388.4 L511.5 389.1 L515 389.2 L517 389.6 L519.2 392.4 L522.3 392.7 L526.6 391.5 L532 390.3 L534.7 392 L538.9 393.4 L541.6 393.1 L543.1 392.6 L542.5 394 L542.8 396.3 L542.5 398.1 L541.1 400.1 L541.8 401.3 L542.2 403.3 L544.1 404.7 L546.2 405.4 L548.2 405.7 L546.9 408.2 L547.7 410.2 L546.7 412.1 L545.9 413.1 L545.1 415.6 L544.6 417.2 L543.1 418.8 L542.7 420.4 L541.3 422.8 L540.2 425.4 L538.9 425.9 L536.6 426.6 L536.1 428.2 L535.1 430.8 L535.1 433.6 L533.6 435.4 L532.2 438.1 L531.7 439.7 L531.5 441.5 L531.1 442.9 L531.8 444.8 L533.2 445.5 L533.6 447.4 L533.2 448.7 L535.8 448.1 L537.8 447.9 L539.1 448.9 L540.6 447.9 L542 447.8 L543.8 448.4 L545.6 449.2 L547.1 450.3 L549.2 450.9 L551.5 451.9 L552.9 452.9 L555 454.2 L557.6 453.3 L559.2 453 L558.4 455.2 L557.5 456.9 L556.6 458.6 L554.9 458.8 L553.2 461 L551.5 462 L550.6 462.9 L548.7 463.8 L546.3 465.1 L543.9 466 L542.2 465.9 L540.9 465.2 L539.1 465 L538.6 466.1 L537.2 467.7 L535.3 468.5 L533.5 469.7 L532.6 470.7 L531.1 472.1 L531.3 473.6 L533.3 474.7 L534.9 476.7 L537.6 479.3 L538.7 480.7 L540.7 481.8 L543.1 483.1 L545.5 483.3 L547.3 484.7 L548.7 485 L550.1 486.4 L554.8 488 L558 488.8 L561.4 489.2 L563.3 488.2 L565.5 488.6 L566.8 488.9 L569.5 490.3 L570.7 492.1 L574.3 492.3 L577.2 491 L579.8 491.5 L581.4 491.2 L583.9 492.3 L585.2 493.8 L586.9 493.7 L589.4 495.2 L588.1 496.4 L587.1 497.3 L586.1 498.8 L583.4 499.2 L584.5 505.5 L583 510.9 L583.3 513.9 L580.6 518.1 L580.6 527.1 L579.8 532.8 L579 539.9 L577.3 545.5 L576.6 547.4 L575.5 548.8 L575.1 551.5 L572.8 553.2 L571.3 555.6 L569.7 553.3 L566.5 552.5 L564 553 L562.7 554 L560 554.5 L558.4 553.6 L554.5 554.2 L551.2 553.6 L549.5 554.8 L547.5 555 L544.6 554.7 L543.4 554 L541.2 553.5 L538.9 552.4 L537.1 551.5 L535.9 549.4 L535.8 547.1 L535 544.7 L533.2 542.6 L531.4 542.1 L529.1 541.5 L528.1 539.4 L527.3 537.9 L525.1 536.5 L523.3 533.5 L521.9 531.9 L518.7 530.4 L517 529.4 L514.7 531.1 L512.9 532 L510.8 531.3 L509.5 530.8 L507.3 530.3 L505.5 529.9 L501.7 530.9 L498.9 531.4 L497.7 531 L495.7 530.1 L493.6 530 L491.3 529.5 L487.3 529 L484.9 528.8 L483.1 528.2 L480.8 527.4 L479.7 528.8 L477.8 529.4 L475.4 528.9 L472.9 528.3 L469.9 525.8 L468.4 524.4 L466.8 523.9 L464.7 523.4 L466.9 522.4 L468.8 523 L470.9 522.7 L473 522.1 L475.4 520.6 L479.5 520.7 L484.7 520 L486.8 517.3 L486.7 515.7 L486.3 513.7 L487.6 512.6 L488.6 511.7 L487.7 510.3 L486.9 508.6 L486.8 507.3 L483.7 507.4 L479.7 506.6 L476.4 504.7 L472.7 504.5 L469.8 504.6 L466.3 505.7 L464 507.9 L462.7 509.3 L460.7 509.7 L458.1 511.6 L453.6 512.1 L451.4 513.6 L449.8 512.9 L447.3 512.2 L444.6 511.3 L441.8 514 L440.4 515.8 L438.8 516.5 L437 516.6 L436.5 517.8 L434.8 518.7 L434.5 521.4 L432.2 520.1 L430.5 519.3 L431.3 517.1 L432 515.9 L433.6 514.8 L435.1 512.5 L437 512.3 L439.9 511.8 L441.3 513.3 L442.5 513.3 L439.9 512.4 L437.8 511.4 L438 507.5 L437 505.4 L435.7 504.1 L433.1 503.7 L430.5 503.3 L429.6 500.9 L428.3 499.4 L427.7 497.4 L425.3 495.7 L424 494.6 L421.9 493.2 L421.7 490.4 L420.4 487.2 L418.8 485.6 L417.8 484.8 L415.5 482.9 L412.9 483 L411.5 482.6 L409.2 481.5 L406.3 479.1 L405.6 472.2 L404.2 468.3 L404.5 463.8 L401.7 461.2 L402.9 455.7 L403.1 452.3 L403.8 444.7Z" fill="none" stroke="#2a788e" stroke-width="2.3" stroke-linejoin="round"/>
<path d="M559.2 453 L561.1 450.7 L562.1 447.6 L561.1 445.7 L559.8 443 L560.5 441.2 L562.1 439.8 L562.4 438.3 L563.3 436.9 L565.8 434.9 L567.2 429.6 L566.5 427.1 L565.3 424.8 L566.7 423.4 L567.6 422.3 L568.5 420 L569.3 418.8 L570.3 417.7 L572.1 416.4 L574.5 414.9 L575.4 413.8 L577.3 412.7 L579.2 411.8 L581.3 411.6 L583 411.2 L584.7 410.1 L585.5 411.9 L587 413.3 L589.6 414.9 L591.4 414.7 L593.5 415.3 L595.8 416 L598.7 416.1 L601.3 417.5 L604.1 417 L605.6 416.5 L607.5 415.7 L608.4 416.8 L609.3 418.2 L609.6 420.3 L609.8 421.3 L609.8 424.5 L611 427.4 L611.3 428.9 L611.5 430.8 L611.8 433.1 L611.5 435.5 L611.7 437.2 L610.9 439.2 L609.9 441.4 L609.5 442.9 L611.9 444.3 L613.2 445.9 L613 447.8 L613.5 449.3 L615.5 450.9 L616.7 452.7 L617.6 455 L615.8 455 L614.6 454.4 L611.6 455.2 L609.5 455.6 L607 455.4 L605 455.9 L602.1 457.9 L599.5 459 L597.1 460.4 L596.2 462.7 L596.1 464.4 L596.9 466.5 L595.2 468.3 L595.4 471.1 L595.2 473 L595.1 474.6 L594.4 476.8 L593 478.1 L593.3 480.3 L592.1 481.9 L591.4 483.1 L591.6 485.9 L591.6 488 L590.3 490.5 L590.1 493.2 L589.4 495.2 L587.8 494 L585.7 492.7 L585.4 491.2 L586.7 487.4 L586.6 484.6 L585.8 481.1 L586.1 478.8 L587.3 476.3 L587.3 474 L587.4 471.1 L586.1 469.7 L584.3 469.6 L583.2 468.3 L582.4 467 L581.4 465.5 L579.3 465 L576.6 464.4 L573.9 463 L572.1 462.7 L570.2 462.6 L567.3 463 L564.7 461.9 L564 459.9 L562.4 458.5 L560.6 458.1 L559.4 457.5 L558.8 455.7Z" fill="none" stroke="#2a788e" stroke-width="2.3" stroke-linejoin="round"/>
<path d="M399.1 339.3 L400.5 341.5 L400.2 344.9 L400.4 346.9 L399 347.9 L397.6 348 L396.2 346.4 L394.8 343.8 L393.4 341.3 L392.5 338.8 L392.3 335.7 L393.1 334.5 L393.5 332.7 L394.2 334 L396.3 334.2 L396.6 336.9Z" fill="none" stroke="#22a884" stroke-width="2" stroke-linejoin="round"/>
<path d="M379.6 356.2 L378.9 357.4 L379.1 358.8 L378.3 359.6 L377.5 360 L376.2 360.1 L375.7 359.1 L375.5 358.1 L374.8 356.6 L374.2 355.4 L375.2 354 L375.7 352.9 L376.8 352.8 L378.4 352.5 L378.6 353.7 L379.1 355.2Z" fill="none" stroke="#22a884" stroke-width="2" stroke-linejoin="round"/>
<path d="M533.1 413.7 L532.8 414.2 L532.5 414.8 L531.6 415 L531.1 415.3 L530.5 415.1 L529.7 414.9 L529.9 414.1 L529.1 413.8 L529.4 413.1 L529.6 412.6 L530.3 412.2 L531 412.1 L531.7 412.3 L532.5 412.6 L532.6 413.3Z" fill="none" stroke="#2a788e" stroke-width="2" stroke-linejoin="round"/>
<path d="M549.2 405.7 L548.9 405.8 L548.6 406.1 L548 405.8 L547.7 406 L547.3 405.7 L547.1 405.3 L547.3 404.8 L547.1 404.5 L547.7 404.5 L547.8 404 L548.1 404.3 L548.7 404.2 L548.9 404.6 L549.3 404.9 L549.1 405.3Z" fill="none" stroke="#2a788e" stroke-width="2" stroke-linejoin="round"/>
<path d="M553.1 541.1 L552.7 541.5 L552.1 542.1 L551.4 542.1 L550.6 542.2 L550.4 541.5 L549.4 541.2 L549.3 540.7 L549.3 539.8 L549.9 539.2 L550.2 538.8 L550.9 538.6 L551.8 538.8 L552.1 539.1 L552.9 539.7 L553.5 540.3Z" fill="none" stroke="#2a788e" stroke-width="2" stroke-linejoin="round"/>
<path d="M558.2 514 L558.4 514.3 L558.1 514.8 L558 515.1 L557.5 515.3 L557.2 515.5 L556.8 515.2 L556.5 514.8 L556.3 514.6 L556.5 514.2 L556.3 513.9 L556.7 513.7 L556.9 513.4 L557.2 513.2 L557.7 513.4 L558 513.7Z" fill="none" stroke="#2a788e" stroke-width="2" stroke-linejoin="round"/>
<path d="M557.9 558.8 L557.7 559.5 L557.5 560.4 L556.2 560.4 L555.8 561.5 L555 561.7 L553.7 561.5 L552.9 560.9 L552.5 560.4 L552.7 559.3 L552.9 558.8 L554 558.6 L554.7 557.7 L555.8 558 L556.7 557.7 L557.5 557.8Z" fill="none" stroke="#2a788e" stroke-width="2" stroke-linejoin="round"/>
<path d="M543 561.5 L543.8 563.7 L543.9 565.8 L543.7 567.3 L542.1 568.9 L540.8 568.1 L538.5 568.9 L535.9 568.3 L535.2 565.8 L534.8 564.1 L534.3 561.4 L535 560 L536.2 558.3 L538.3 558.5 L539.8 558.4 L541.9 559.8Z" fill="none" stroke="#2a788e" stroke-width="2" stroke-linejoin="round"/>
<path d="M518 493.8 L516.3 496.7 L515.3 500 L513.4 501.1 L510.1 502.2 L507.7 500.2 L505.4 499.1 L504.6 495.7 L503.9 492.6 L505 489.6 L506.6 486.4 L508.8 484.8 L511.8 484.2 L513.5 485.9 L516.5 487.3 L517.1 491.1Z" fill="none" stroke="#2a788e" stroke-width="2" stroke-linejoin="round"/>
<path d="M502 496.6 L501.1 497.9 L501.9 500 L500.6 501.2 L499.5 502.3 L498.1 501.6 L496.1 502.3 L495.2 501.4 L493.7 499.8 L493.2 498.6 L493.8 496.4 L494.9 495 L496.3 494.1 L498 494.9 L499.6 494.2 L500.6 495.6Z" fill="none" stroke="#2a788e" stroke-width="2" stroke-linejoin="round"/>
<path d="M516.9 494.7 L516.8 495.7 L516.8 496.5 L516.5 497 L515.6 497.5 L515.1 496.9 L514.1 497.2 L514.2 496 L513 495.8 L512.9 495 L513.1 494 L513.6 493.5 L514.3 492.9 L515.2 493.5 L515.9 493.2 L516.3 493.8Z" fill="none" stroke="#2a788e" stroke-width="2" stroke-linejoin="round"/>
<path d="M611.5 526.8 L611.4 527.6 L610.7 527.8 L610 527.6 L609.2 528 L608.3 527.7 L607.9 527.2 L607.5 526.8 L607.6 526 L608.4 526 L608.4 525 L609.1 524.7 L609.9 524.8 L610 525.7 L611.1 525.6 L611.7 526.3Z" fill="none" stroke="#2a788e" stroke-width="2" stroke-linejoin="round"/>
<path d="M585.9 351.8 L583.5 352.7 L581.8 352.4 L578.5 351 L574.5 349.5 L571.5 346.7 L568.3 344.7 L567.6 342.3 L566.7 340.8 L568.6 341.5 L570.8 340.2 L574.4 341.1 L578.1 343.2 L581 346.2 L584.4 348 L585 350Z" fill="none" stroke="#2a788e" stroke-width="2" stroke-linejoin="round"/>
<path d="M592.2 351.8 L591.2 352.5 L590.3 353.3 L588.3 353.1 L586.6 353.1 L585.2 352.3 L583.4 351.3 L582.5 350.1 L582.6 348.9 L583.2 347.4 L584.5 347.4 L585.8 347.8 L588.2 347.7 L589.6 349.4 L591.4 349.4 L591.7 350.3Z" fill="none" stroke="#22a884" stroke-width="2" stroke-linejoin="round"/>
<path d="M633.7 419 L633.8 420.3 L632.9 420.6 L632 421.1 L631.4 421.2 L630.7 420.3 L630 420.3 L629.5 419.5 L629.7 418.5 L630 417.7 L630.5 416.9 L631.1 416.9 L631.9 416.4 L632.8 416.8 L633.3 417.2 L632.8 418.4Z" fill="none" stroke="#22a884" stroke-width="2" stroke-linejoin="round"/>
<path d="M627.4 437.8 L627.2 438.9 L626 439.3 L625.2 439.2 L624.3 439.4 L624.3 438.3 L623.4 438 L623.4 436.8 L623.8 435.9 L624.9 435.2 L625.3 434.4 L626.1 434.2 L626.9 434.4 L627.4 434.9 L627.8 435.8 L627.6 436.9Z" fill="none" stroke="#22a884" stroke-width="2" stroke-linejoin="round"/>
<path d="M636.9 430.8 L636.8 431.3 L636.5 432 L636.2 432.3 L635.7 432.4 L635.2 432.1 L634.8 432 L634.4 431.4 L634.5 430.8 L634.2 430.1 L634.8 429.7 L635.2 429.4 L635.7 429.2 L636 429.6 L636.5 429.7 L637.1 430Z" fill="none" stroke="#22a884" stroke-width="2" stroke-linejoin="round"/>
<path d="M488.7 576.9 L487.3 577.8 L486.2 578 L483.7 577.6 L480.5 577.7 L477.5 576.2 L474.9 576.2 L473.1 575.9 L472.8 574.4 L473.6 572.5 L475.4 573.4 L477.9 573.7 L481.1 573.7 L483.5 574.1 L486.6 575.2 L487.6 575.8Z" fill="none" stroke="#22a884" stroke-width="2" stroke-linejoin="round"/>
<path d="M503.9 576 L503.5 577.3 L502.6 577.3 L501.7 579.4 L499.1 578.3 L497.5 579.2 L495.5 578.3 L494.8 577.4 L493.9 577.4 L494.3 576.8 L495.2 576 L496.9 575.4 L498.7 575.1 L500.6 575.3 L502.2 575.1 L503.1 575.6Z" fill="none" stroke="#22a884" stroke-width="2" stroke-linejoin="round"/>
<path d="M454.9 540.6 L453.9 541.4 L453.1 542.2 L451.4 541.9 L449.9 542.2 L448.3 541.8 L447.1 540.6 L446.2 539.4 L446.3 538.4 L447.2 537.8 L448.1 536.8 L449.3 536.3 L451.3 536.7 L452.9 537.6 L454.1 538.3 L454.8 539.7Z" fill="none" stroke="#7ad151" stroke-width="2" stroke-linejoin="round"/>
<path d="M419.6 501.3 L419.4 502.1 L419.4 502.6 L418.3 502.6 L418 503.7 L417.3 503.6 L416.3 504 L415.8 503.8 L415.2 503.2 L415.1 502.3 L415.4 501.9 L416.2 501.4 L416.8 500.8 L417.4 500.8 L418.5 500.5 L419 500.8Z" fill="none" stroke="#7ad151" stroke-width="2" stroke-linejoin="round"/>
<path d="M465.8 565.9 L465.3 567 L465.6 567.6 L464.4 568.3 L463.6 569.4 L462.5 570 L461.1 570.1 L460.5 570 L459.5 569.4 L459.8 568.3 L459.7 567.6 L460.4 566.6 L461.7 565.9 L463.4 565.9 L464.2 565.2 L465 565.9Z" fill="none" stroke="#7ad151" stroke-width="2" stroke-linejoin="round"/>
<path d="M491.6 600 L490.9 600.4 L490.7 601.4 L490 602.1 L488.7 601.8 L487.9 601 L486.8 601.1 L486.4 600.5 L486 599.7 L486.3 598.7 L486.9 598.3 L488 598.1 L488.9 597.8 L490 598.8 L490.9 598.5 L491.8 599.1Z" fill="none" stroke="#22a884" stroke-width="2" stroke-linejoin="round"/>
<path d="M467.1 615.7 L466.6 616.3 L466.5 617.2 L465.1 616.6 L464.9 617.9 L464 617.8 L463.1 617.5 L462.6 616.7 L462.3 616.2 L462 615.2 L462.8 614.7 L463.6 614.7 L464.5 613.9 L465.5 614.2 L466.2 614.3 L466.9 614.6Z" fill="none" stroke="#22a884" stroke-width="2" stroke-linejoin="round"/>
<path d="M608.9 505.1 L609.9 508.7 L610 511.5 L609.9 513 L608.4 514.8 L606.6 514.1 L605.1 513.2 L603.4 511.1 L602.1 507.4 L601.3 504.6 L601 501 L602.3 499.3 L602.6 497.7 L605 497.2 L605.9 499.4 L606.9 501.9Z" fill="none" stroke="#fde725" stroke-width="2" stroke-linejoin="round"/>
<path d="M673.5 428.7 L673.3 431.2 L672.6 434.4 L671.7 435.6 L670.1 436.9 L668.4 436 L667.5 434.6 L665.8 431.3 L666.3 428.9 L667.5 426.2 L667.1 423.2 L667.5 421.8 L669.6 420.8 L670.5 421.7 L672.3 423 L673.5 426.2Z" fill="none" stroke="#fde725" stroke-width="2" stroke-linejoin="round"/>
<path d="M599.3 584.6 L599.7 586.3 L599 588 L597.3 589 L596.7 590 L594.9 590.7 L593.6 589.5 L592.6 587.8 L591.6 586.8 L592.5 585.1 L591.8 583.5 L594 583 L594.2 581.5 L595.4 581.7 L597.3 581.9 L597.7 583.3Z" fill="none" stroke="#fde725" stroke-width="2" stroke-linejoin="round"/>
<path d="M448.1 365.9 L448.7 366.5 L448.1 367.4 L448 368.2 L447.2 368.4 L446.7 367.3 L445.9 368.2 L445.2 367.9 L445 367 L445.1 366.4 L445 365.5 L445.4 364.9 L445.9 364.5 L446.6 364.9 L447.2 364.7 L447.6 365.6Z" fill="none" stroke="#7ad151" stroke-width="2" stroke-linejoin="round"/>
<path d="M606.7 511.6 L603.1 515.1 L600.2 519.4 L596.2 519.3 L593.8 520.7 L592.8 517.6 L591.4 514.7 L592.1 510.2 L594.3 505 L597.4 502.2 L600.8 497.2 L604.4 496.3 L607.1 495.9 L607.2 499.6 L609.6 501.8 L607.2 507Z" fill="none" stroke="#7ad151" stroke-width="2" stroke-linejoin="round"/>
<circle cx="430.5" cy="428.8" r="2" fill="#414487"/>
<circle cx="493.8" cy="439.3" r="2.2" fill="#414487"/>
<circle cx="506.9" cy="438.5" r="2.2" fill="#414487"/>
<circle cx="499.9" cy="442.9" r="2" fill="#414487"/>
<circle cx="460.7" cy="470.1" r="2.2" fill="#414487"/>
<circle cx="466.3" cy="473.1" r="2.2" fill="#414487"/>
<circle cx="515" cy="471.1" r="2.5" fill="#414487"/>
<circle cx="448.6" cy="456.6" r="2" fill="#414487"/>
<path d="M439.5 455 L440.5 449.9 L444.6 447.9 L448.6 449.3 L449.6 455" fill="none" stroke="#414487" stroke-width="2.2" stroke-linejoin="round"/>
<path d="M501.9 458 L503.9 450.9 L508.9 446.9 L515 445.9 L516.6 450.9 L510.9 453 L508.9 459 L510.9 466 L519 467 L521 461 L522 472.1 L517 475.5 L510.9 474.1 L509.9 467" fill="none" stroke="#414487" stroke-width="2.2" stroke-linejoin="round"/>
<path d="M512 454 L515 452.6 L517 457 L514 460Z" fill="none" stroke="#414487" stroke-width="2" stroke-linejoin="round"/>
</g>
<g stroke="#fff" stroke-width="2.1" stroke-dasharray="2.1 3.4" fill="none">
<path d="M142.9 102.5V829"/>
<path d="M288.4 102.5V829"/>
<path d="M433.9 102.5V829"/>
<path d="M579.4 102.5V829"/>
<path d="M724.9 102.5V829"/>
<path d="M110 116H836"/>
<path d="M110 261.4H836"/>
<path d="M110 406.8H836"/>
<path d="M110 552.2H836"/>
<path d="M110 697.6H836"/>
</g>
<text x="586.2" y="332.8" font-size="17" fill="#fde725" textLength="33.8" lengthAdjust="spacingAndGlyphs" transform="rotate(-15 603.1 332.8)">−31</text>
<text x="590.4" y="374.6" font-size="17" fill="#fde725" textLength="33.8" lengthAdjust="spacingAndGlyphs" transform="rotate(22 607.3 374.6)">−31</text>
<text x="561.2" y="524.8" font-size="17" fill="#2a788e" textLength="34.1" lengthAdjust="spacingAndGlyphs" transform="rotate(82 578.1 524.8)">−64</text>
<text x="468.2" y="556" font-size="17" fill="#22a884" textLength="34.1" lengthAdjust="spacingAndGlyphs" transform="rotate(0 485 556)">−54</text>
<text x="579.8" y="569.9" font-size="17" fill="#7ad151" textLength="33.7" lengthAdjust="spacingAndGlyphs" transform="rotate(-50 596.6 569.9)">−42</text>
<text x="183" y="675" font-size="17" fill="#fde725" textLength="33.8" lengthAdjust="spacingAndGlyphs" transform="rotate(60 199.8 675)">−31</text>
<text x="230.3" y="703.4" font-size="17" fill="#fde725" textLength="33.8" lengthAdjust="spacingAndGlyphs" transform="rotate(55 247.1 703.4)">−31</text>
<text x="317.6" y="701.9" font-size="17" fill="#fde725" textLength="33.8" lengthAdjust="spacingAndGlyphs" transform="rotate(-35 334.4 701.9)">−31</text>
<text x="567.5" y="692.1" font-size="17" fill="#fde725" textLength="33.8" lengthAdjust="spacingAndGlyphs" transform="rotate(70 584.4 692.1)">−31</text>
<text x="748.1" y="591.4" font-size="17" fill="#fde725" textLength="33.8" lengthAdjust="spacingAndGlyphs" transform="rotate(-55 764.9 591.4)">−31</text>
<text x="738.4" y="481" font-size="17" fill="#fde725" textLength="33.8" lengthAdjust="spacingAndGlyphs" transform="rotate(-60 755.2 481)">−31</text>
<text x="799.7" y="515.9" font-size="17" fill="#22a884" textLength="34.1" lengthAdjust="spacingAndGlyphs" transform="rotate(35 816.6 515.9)">−54</text>
<text x="803.6" y="568.8" font-size="17" fill="#22a884" textLength="34.1" lengthAdjust="spacingAndGlyphs" transform="rotate(15 820.4 568.8)">−54</text>
<text x="196.8" y="742.1" font-size="17" fill="#7ad151" textLength="33.7" lengthAdjust="spacingAndGlyphs" transform="rotate(-70 213.6 742.1)">−42</text>
<text x="728.2" y="425.2" font-size="17" fill="#7ad151" textLength="33.7" lengthAdjust="spacingAndGlyphs" transform="rotate(-30 745 425.2)">−42</text>
<text x="255" y="766.6" font-size="17" fill="#7ad151" textLength="33.7" lengthAdjust="spacingAndGlyphs" transform="rotate(-40 271.9 766.6)">−42</text>
<path d="M108 327.7 Q142 335.3 157 341.1 Q172 347 186.5 354 Q201 361 219.7 372.8 Q238.3 384.6 252 396.4 Q265.7 408.2 277.2 417.2 Q288.7 426.2 296.9 430.6 Q305 435 313.8 438.5 Q322.6 442 335.2 444.2 Q347.8 446.5 364.2 448.8 Q380.6 451 408 453.9 Q435.4 456.8 452.7 458.9 Q470 461 481 463.2 L492 465.5" fill="none" stroke="#0000ff" stroke-width="2.8" stroke-dasharray="2.8 4.6"/>
<rect x="542.2" y="461.3" width="9" height="9" fill="#bf00bf"/>
<rect x="547.2" y="455.2" width="9" height="9" fill="#bf00bf"/>
<rect x="614.2" y="460.8" width="9" height="9" fill="#bf00bf"/>
<rect x="582.2" y="483" width="9" height="9" fill="#bf00bf"/>
<path d="M492.5 466.3 L558.3 466 L609.7 465.3 L696.7 465.3 L776.3 472.8 L836.5 477.8" fill="none" stroke="#0000ff" stroke-width="2.5"/>
<circle cx="492.5" cy="466.3" r="4.2" fill="#0000ff"/>
<circle cx="558.3" cy="466" r="4.2" fill="#0000ff"/>
<circle cx="609.7" cy="465.3" r="4.2" fill="#0000ff"/>
<circle cx="696.7" cy="465.3" r="4.2" fill="#0000ff"/>
<circle cx="776.3" cy="472.8" r="4.2" fill="#0000ff"/>
<path d="M500 462.5L520 461.5L545 463.5L575 466" fill="none" stroke="#008000" stroke-width="2.5"/>
<path d="M549.5 461.5l7 7m0 -7l-7 7M552.3 462.9l7 7m0 -7l-7 7M555.1 461.5l7 7m0 -7l-7 7M557.9 462.9l7 7m0 -7l-7 7M560.7 461.5l7 7m0 -7l-7 7M563.5 462.9l7 7m0 -7l-7 7M566.3 461.5l7 7m0 -7l-7 7M569.1 462.9l7 7m0 -7l-7 7M571.9 461.5l7 7m0 -7l-7 7M574.7 462.9l7 7m0 -7l-7 7M577.5 461.5l7 7m0 -7l-7 7" stroke="#00bfbf" stroke-width="2" fill="none"/>
<circle cx="558.3" cy="466" r="4.2" fill="#0000ff"/>
<path d="M470.8 465.3L486 464.6L497 462.6L505 461.6L520 463.6L545 464.6L570 466L590.8 465.4" fill="none" stroke="#ff0000" stroke-width="3.1" stroke-linejoin="round"/>
<path d="M567 445.3l9.4 9.4m0 -9.4l-9.4 9.4" stroke="#ff0000" stroke-width="2.9" fill="none"/>
<rect x="435.6" y="110.3" width="396.9" height="190.3" rx="3" fill="#000" fill-opacity="0.18"/>
<rect x="432.8" y="107.5" width="396.9" height="190.3" rx="3" fill="#fff" fill-opacity="0.8" stroke="#ccc" stroke-opacity="0.8" stroke-width="1.4"/>
<text x="484.1" y="128" font-size="15.9" fill="#000" textLength="336.4" lengthAdjust="spacingAndGlyphs">AMSU Locations [NOAAMC/1720Z 36 1000]</text>
<text x="484.1" y="150.7" font-size="15.9" fill="#000" textLength="210.4" lengthAdjust="spacingAndGlyphs">ARCHER Locations [0110Z]</text>
<text x="484.2" y="173.3" font-size="15.9" fill="#000" textLength="278.8" lengthAdjust="spacingAndGlyphs">SATCON Locations [2310Z 34 1007]</text>
<text x="484.1" y="196" font-size="15.9" fill="#000" textLength="252.7" lengthAdjust="spacingAndGlyphs">ADT Tracks [0710Z 43.0 1003.1]</text>
<text x="482.9" y="218.6" font-size="15.9" fill="#000" textLength="244.5" lengthAdjust="spacingAndGlyphs">JTWC/NHC Forecast [25/0000Z]</text>
<text x="482.9" y="241.3" font-size="15.9" fill="#000" textLength="227.5" lengthAdjust="spacingAndGlyphs">JTWC/NHC Tracks [25/0600Z]</text>
<text x="484.2" y="264" font-size="15.9" fill="#000" textLength="232.5" lengthAdjust="spacingAndGlyphs">MESOSCALE/TARGET Location</text>
<text x="484.1" y="286.6" font-size="15.9" fill="#000" textLength="117.9" lengthAdjust="spacingAndGlyphs">Floater Locater</text>
<rect x="451.8" y="117.7" width="9.6" height="9.6" fill="#bf00bf"/>
<rect x="451.8" y="140.4" width="9.6" height="9.6" fill="#bf00bf"/>
<path d="M452.4 163.6l8.4 8.4m0 -8.4l-8.4 8.4" stroke="#00bfbf" stroke-width="2.6" fill="none"/>
<path d="M440.5 190.5H473.6" stroke="#008000" stroke-width="2.5"/>
<path d="M440.5 213.1H473.6" stroke="#0000ff" stroke-width="2.8" stroke-dasharray="2.8 4.6"/>
<path d="M440.5 235.8H473.6" stroke="#0000ff" stroke-width="2.5"/>
<circle cx="456.6" cy="235.8" r="4.2" fill="#0000ff"/>
<path d="M451.4 253.3l10.4 10.4m0 -10.4l-10.4 10.4" stroke="#ff0000" stroke-width="2.9" fill="none"/>
<path d="M440.5 281.1H473.6" stroke="#ff0000" stroke-width="2.8"/>
<rect x="106.2" y="803.5" width="314" height="27.5" rx="3.5" fill="#000"/>
<text x="110.7" y="821.8" font-size="17.7" font-weight="bold" fill="#fff" textLength="301.4" lengthAdjust="spacingAndGlyphs">Copyright © 2020-2025 Dapiya</text>
<rect x="108.45" y="101.6" width="728.15" height="728" fill="none" stroke="#000" stroke-width="2.8"/>
<text x="65.9" y="120" font-size="14.2" fill="#000" textLength="34.6" lengthAdjust="spacingAndGlyphs">18°N</text>
<text x="65.9" y="265.4" font-size="14.2" fill="#000" textLength="34.6" lengthAdjust="spacingAndGlyphs">16°N</text>
<text x="65.9" y="410.8" font-size="14.2" fill="#000" textLength="34.6" lengthAdjust="spacingAndGlyphs">14°N</text>
<text x="65.9" y="556.2" font-size="14.2" fill="#000" textLength="34.6" lengthAdjust="spacingAndGlyphs">12°N</text>
<text x="65.9" y="701.6" font-size="14.2" fill="#000" textLength="34.6" lengthAdjust="spacingAndGlyphs">10°N</text>
<text x="119.1" y="850.8" font-size="14.2" fill="#000" textLength="46.5" lengthAdjust="spacingAndGlyphs">122°W</text>
<text x="264.6" y="850.8" font-size="14.2" fill="#000" textLength="46.5" lengthAdjust="spacingAndGlyphs">120°W</text>
<text x="410.1" y="850.8" font-size="14.2" fill="#000" textLength="46.5" lengthAdjust="spacingAndGlyphs">118°W</text>
<text x="555.6" y="850.8" font-size="14.2" fill="#000" textLength="46.5" lengthAdjust="spacingAndGlyphs">116°W</text>
<text x="701.1" y="850.8" font-size="14.2" fill="#000" textLength="46.5" lengthAdjust="spacingAndGlyphs">114°W</text>
<text x="940.9" y="120" font-size="14.2" fill="#000" textLength="34.6" lengthAdjust="spacingAndGlyphs">18°N</text>
<text x="940.9" y="265.4" font-size="14.2" fill="#000" textLength="34.6" lengthAdjust="spacingAndGlyphs">16°N</text>
<text x="940.9" y="410.8" font-size="14.2" fill="#000" textLength="34.6" lengthAdjust="spacingAndGlyphs">14°N</text>
<text x="940.9" y="556.2" font-size="14.2" fill="#000" textLength="34.6" lengthAdjust="spacingAndGlyphs">12°N</text>
<text x="940.9" y="701.6" font-size="14.2" fill="#000" textLength="34.6" lengthAdjust="spacingAndGlyphs">10°N</text>
<text x="994.1" y="850.8" font-size="14.2" fill="#000" textLength="46.5" lengthAdjust="spacingAndGlyphs">122°W</text>
<text x="1139.6" y="850.8" font-size="14.2" fill="#000" textLength="46.5" lengthAdjust="spacingAndGlyphs">120°W</text>
<text x="1285.1" y="850.8" font-size="14.2" fill="#000" textLength="46.5" lengthAdjust="spacingAndGlyphs">118°W</text>
<text x="1430.6" y="850.8" font-size="14.2" fill="#000" textLength="46.5" lengthAdjust="spacingAndGlyphs">116°W</text>
<text x="1576.1" y="850.8" font-size="14.2" fill="#000" textLength="46.5" lengthAdjust="spacingAndGlyphs">114°W</text>
<rect x="843.3" y="101.4" width="15.1" height="728" fill="url(#cb1)" stroke="#000" stroke-width="1.1"/>
<text x="866.4" y="161.4" font-size="17" fill="#000" textLength="20.4" lengthAdjust="spacingAndGlyphs">40</text>
<text x="866.6" y="215.5" font-size="17" fill="#000" textLength="20.2" lengthAdjust="spacingAndGlyphs">30</text>
<text x="866.3" y="269.6" font-size="17" fill="#000" textLength="20.5" lengthAdjust="spacingAndGlyphs">20</text>
<text x="866.4" y="323.6" font-size="17" fill="#000" textLength="20.4" lengthAdjust="spacingAndGlyphs">10</text>
<text x="866.4" y="377.7" font-size="17" fill="#000" textLength="9.8" lengthAdjust="spacingAndGlyphs">0</text>
<text x="866.8" y="431.8" font-size="17" fill="#000" textLength="34.1" lengthAdjust="spacingAndGlyphs">−10</text>
<text x="866.8" y="485.9" font-size="17" fill="#000" textLength="34.1" lengthAdjust="spacingAndGlyphs">−20</text>
<text x="866.8" y="540" font-size="17" fill="#000" textLength="34.1" lengthAdjust="spacingAndGlyphs">−30</text>
<text x="866.8" y="594" font-size="17" fill="#000" textLength="34.1" lengthAdjust="spacingAndGlyphs">−40</text>
<text x="866.8" y="648.1" font-size="17" fill="#000" textLength="34.1" lengthAdjust="spacingAndGlyphs">−50</text>
<text x="866.8" y="702.2" font-size="17" fill="#000" textLength="34.1" lengthAdjust="spacingAndGlyphs">−60</text>
<text x="866.8" y="756.3" font-size="17" fill="#000" textLength="34.1" lengthAdjust="spacingAndGlyphs">−70</text>
<text x="866.8" y="810.4" font-size="17" fill="#000" textLength="34.1" lengthAdjust="spacingAndGlyphs">−80</text>
<text x="852.3" y="93.4" font-size="17" fill="#000" textLength="19.1" lengthAdjust="spacingAndGlyphs">°C</text>
<g clip-path="url(#cp2)" stroke="#fff" stroke-width="2.1" stroke-dasharray="2.1 3.4" fill="none">
<path d="M1017.9 102.5V829"/>
<path d="M1163.4 102.5V829"/>
<path d="M1308.9 102.5V829"/>
<path d="M1454.4 102.5V829"/>
<path d="M1599.9 102.5V829"/>
<path d="M985 116H1711"/>
<path d="M985 261.4H1711"/>
<path d="M985 406.8H1711"/>
<path d="M985 552.2H1711"/>
<path d="M985 697.6H1711"/>
</g>
<rect x="983.45" y="101.6" width="728.15" height="728" fill="none" stroke="#000" stroke-width="2.8"/>
<rect x="1718.5" y="101.4" width="15.1" height="728" fill="url(#cb2)" stroke="#000" stroke-width="1.1"/>
<text x="1741" y="156.5" font-size="17" fill="#000" textLength="20.4" lengthAdjust="spacingAndGlyphs">40</text>
<text x="1741.2" y="205.1" font-size="17" fill="#000" textLength="20.2" lengthAdjust="spacingAndGlyphs">30</text>
<text x="1740.9" y="253.7" font-size="17" fill="#000" textLength="20.5" lengthAdjust="spacingAndGlyphs">20</text>
<text x="1741" y="302.3" font-size="17" fill="#000" textLength="20.4" lengthAdjust="spacingAndGlyphs">10</text>
<text x="1741" y="350.9" font-size="17" fill="#000" textLength="9.8" lengthAdjust="spacingAndGlyphs">0</text>
<text x="1741.4" y="399.5" font-size="17" fill="#000" textLength="34.1" lengthAdjust="spacingAndGlyphs">−10</text>
<text x="1741.4" y="448.1" font-size="17" fill="#000" textLength="34.1" lengthAdjust="spacingAndGlyphs">−20</text>
<text x="1741.4" y="496.7" font-size="17" fill="#000" textLength="34.1" lengthAdjust="spacingAndGlyphs">−30</text>
<text x="1741.4" y="545.3" font-size="17" fill="#000" textLength="34.1" lengthAdjust="spacingAndGlyphs">−40</text>
<text x="1741.4" y="593.9" font-size="17" fill="#000" textLength="34.1" lengthAdjust="spacingAndGlyphs">−50</text>
<text x="1741.4" y="642.5" font-size="17" fill="#000" textLength="34.1" lengthAdjust="spacingAndGlyphs">−60</text>
<text x="1741.4" y="691.1" font-size="17" fill="#000" textLength="34.1" lengthAdjust="spacingAndGlyphs">−70</text>
<text x="1741.4" y="739.7" font-size="17" fill="#000" textLength="34.1" lengthAdjust="spacingAndGlyphs">−80</text>
<text x="1741.4" y="788.3" font-size="17" fill="#000" textLength="34.1" lengthAdjust="spacingAndGlyphs">−90</text>
<text x="1727.3" y="93.4" font-size="17" fill="#000" textLength="19.1" lengthAdjust="spacingAndGlyphs">°C</text>
<text x="107.6" y="50" font-size="26.5" fill="#000" textLength="470.6" lengthAdjust="spacingAndGlyphs">GOES-18 BAND14-DIAS MESOSCALE</text>
<text x="107.6" y="80" font-size="26.5" fill="#000" textLength="373.9" lengthAdjust="spacingAndGlyphs">Time: 2025/10/25 07:49:56Z</text>
<text x="1334.8" y="38.3" font-size="17.7" fill="#000" textLength="376.7" lengthAdjust="spacingAndGlyphs">[dmax, dmin](BAND14)=(-60.418, -80.977)</text>
<text x="1367.1" y="59.2" font-size="17.7" fill="#000" textLength="344.3" lengthAdjust="spacingAndGlyphs">[dmax, dmin](AWV)=(-60.929, -78.784)</text>
<text x="1445.3" y="80.4" font-size="17.7" fill="#000" textLength="265.7" lengthAdjust="spacingAndGlyphs">18E.EIGHTEEN | 35kt, 1006mb</text>
<text x="324.5" y="881.6" font-size="23.1" fill="#000" textLength="317.7" lengthAdjust="spacingAndGlyphs">Wind / Pres. / ACE Diagnosis</text>
<path d="M142.1 1260.3 L204.1 1260.3 L266.1 1260.3 L328.1 1260.3 L390.1 1175.3 L452 1090.3 L514 1090.3 L576 1005.3 L638 1005.3 L700 1005.3 L762 1005.3 L824 920.3" fill="none" stroke="#0000ff" stroke-width="5" stroke-linejoin="miter" stroke-linecap="square"/>
<path d="M142.1 1636.6 L204.1 1636.6 L266.1 1636.6 L328.1 1636.6 L390.1 1636.6 L452 1636.6 L514 1636.6 L576 1636.6 L638 1636.6 L700 1636.6 L762 1636.6 L824 1294.8" fill="none" stroke="#008000" stroke-width="5" stroke-linejoin="miter" stroke-linecap="square"/>
<rect x="117.7" y="912.5" width="212.8" height="34.6" rx="5" fill="#fff" fill-opacity="0.8" stroke="#ccc" stroke-opacity="0.8" stroke-width="3"/>
<path d="M125.5 928.4H163.7" stroke="#0000ff" stroke-width="5" stroke-linecap="square"/>
<text x="179.9" y="935.6" font-size="19.4" fill="#000" textLength="143.5" lengthAdjust="spacingAndGlyphs">Wind[max=35]</text>
<path d="M142.1 920.1 L204.1 920.1 L266.1 920.1 L328.1 1147.5 L390.1 1147.5 L452 1147.5 L514 1185.4 L576 1223.3 L638 1223.3 L700 1223.3 L762 1223.3 L824 1261.2" fill="none" stroke="#1f77b4" stroke-width="5" stroke-linejoin="miter" stroke-linecap="square"/>
<rect x="617.5" y="912.5" width="231" height="34.6" rx="5" fill="#fff" fill-opacity="0.8" stroke="#ccc" stroke-opacity="0.8" stroke-width="3"/>
<path d="M625.5 928.4H663.7" stroke="#1f77b4" stroke-width="5" stroke-linecap="square"/>
<text x="678.2" y="935.6" font-size="19.4" fill="#000" textLength="160.9" lengthAdjust="spacingAndGlyphs">Pres.[min=1006]</text>
<rect x="117.7" y="1287.9" width="246.1" height="34.6" rx="5" fill="#fff" fill-opacity="0.8" stroke="#ccc" stroke-opacity="0.8" stroke-width="3"/>
<path d="M125.5 1303.4H163.7" stroke="#008000" stroke-width="5" stroke-linecap="square"/>
<text x="180" y="1310.8" font-size="19.4" fill="#000" textLength="176.4" lengthAdjust="spacingAndGlyphs">ACE[max=0.1225]</text>
<rect x="108.8" y="903.5" width="749.8" height="375.1" fill="none" stroke="#000" stroke-width="2.8"/>
<rect x="108.8" y="1278.6" width="749.8" height="374.9" fill="none" stroke="#000" stroke-width="2.8"/>
<text x="53.5" y="925.5" font-size="14.2" fill="#000" textLength="30.1" lengthAdjust="spacingAndGlyphs">35.0</text>
<text x="53.8" y="968" font-size="14.2" fill="#000" textLength="29.9" lengthAdjust="spacingAndGlyphs">32.5</text>
<text x="53.5" y="1010.5" font-size="14.2" fill="#000" textLength="30.1" lengthAdjust="spacingAndGlyphs">30.0</text>
<text x="53.5" y="1053" font-size="14.2" fill="#000" textLength="30.1" lengthAdjust="spacingAndGlyphs">27.5</text>
<text x="53.2" y="1095.5" font-size="14.2" fill="#000" textLength="30.4" lengthAdjust="spacingAndGlyphs">25.0</text>
<text x="53.5" y="1138" font-size="14.2" fill="#000" textLength="30.1" lengthAdjust="spacingAndGlyphs">22.5</text>
<text x="53.2" y="1180.5" font-size="14.2" fill="#000" textLength="30.4" lengthAdjust="spacingAndGlyphs">20.0</text>
<text x="53.6" y="1223" font-size="14.2" fill="#000" textLength="30" lengthAdjust="spacingAndGlyphs">17.5</text>
<text x="53.3" y="1265.5" font-size="14.2" fill="#000" textLength="30.3" lengthAdjust="spacingAndGlyphs">15.0</text>
<text x="882.1" y="963.2" font-size="14.2" fill="#000" textLength="34.7" lengthAdjust="spacingAndGlyphs">1014</text>
<text x="882.1" y="1039" font-size="14.2" fill="#000" textLength="34.4" lengthAdjust="spacingAndGlyphs">1012</text>
<text x="882.1" y="1114.8" font-size="14.2" fill="#000" textLength="34.7" lengthAdjust="spacingAndGlyphs">1010</text>
<text x="882.1" y="1190.6" font-size="14.2" fill="#000" textLength="34.8" lengthAdjust="spacingAndGlyphs">1008</text>
<text x="882.1" y="1266.4" font-size="14.2" fill="#000" textLength="34.8" lengthAdjust="spacingAndGlyphs">1006</text>
<text x="53.8" y="1307.8" font-size="14.2" fill="#000" textLength="30" lengthAdjust="spacingAndGlyphs">0.12</text>
<text x="53.3" y="1363.5" font-size="14.2" fill="#000" textLength="30.3" lengthAdjust="spacingAndGlyphs">0.10</text>
<text x="53.3" y="1419.1" font-size="14.2" fill="#000" textLength="30.4" lengthAdjust="spacingAndGlyphs">0.08</text>
<text x="53.2" y="1474.8" font-size="14.2" fill="#000" textLength="30.4" lengthAdjust="spacingAndGlyphs">0.06</text>
<text x="53.1" y="1530.5" font-size="14.2" fill="#000" textLength="30.3" lengthAdjust="spacingAndGlyphs">0.04</text>
<text x="53.8" y="1586.1" font-size="14.2" fill="#000" textLength="30" lengthAdjust="spacingAndGlyphs">0.02</text>
<text x="53.3" y="1641.8" font-size="14.2" fill="#000" textLength="30.3" lengthAdjust="spacingAndGlyphs">0.00</text>
<path d="M96.3 920.3H107.5M96.3 962.8H107.5M96.3 1005.3H107.5M96.3 1047.8H107.5M96.3 1090.3H107.5M96.3 1132.8H107.5M96.3 1175.3H107.5M96.3 1217.8H107.5M96.3 1260.3H107.5M860 958H870.3M860 1033.8H870.3M860 1109.6H870.3M860 1185.4H870.3M860 1261.2H870.3M96.3 1302.6H107.5M96.3 1358.3H107.5M96.3 1413.9H107.5M96.3 1469.6H107.5M96.3 1525.3H107.5M96.3 1580.9H107.5M96.3 1636.6H107.5" stroke="#000" stroke-width="2.4" fill="none"/>
<text x="18.5" y="1092" font-size="14.2" fill="#000" textLength="34.2" lengthAdjust="spacingAndGlyphs" transform="rotate(-90 35.2 1092)">Wind</text>
<text x="21.8" y="1466" font-size="14.2" fill="#000" textLength="27.3" lengthAdjust="spacingAndGlyphs" transform="rotate(-90 35.2 1466)">ACE</text>
<text x="913.2" y="1092" font-size="14.2" fill="#000" textLength="59.1" lengthAdjust="spacingAndGlyphs" transform="rotate(-90 943 1092)">Pressure</text>
<g clip-path="url(#ca5)" shape-rendering="crispEdges">
<path d="M984.5 902.2 L1263.3 902.2 L1262.2 910.1 L1247.6 910.1 L1246.4 923.6 L1199.2 924.7 L1198.8 938.7 L1175.6 939.3 L1174.5 948.3 L1121.2 948.3 L1119 968.6 L1089.1 968.6 L1089.5 948.3 L1059.1 948.3 L1058.7 955.8 L1043.6 955.8 L1043 969.7 L1012.2 969.7 L1013.7 948.3 L995.7 948.3 L995.3 928.1 L985.6 927.4ZM1366.7 902.2 L1366.7 965.7 L1348.8 965.7 L1346.1 994.4 L1330.1 994.4 L1328.5 1008.6 L1314.4 1008.6 L1315 994.4 L1285.3 994.4 L1285.3 980.9 L1271.2 980.9 L1271.2 967 L1288 967 L1293.7 909 L1309.4 909 L1309.4 902.2ZM982.2 1186.2 L1004.7 1186.2 L1002.9 1213.7 L986.7 1213.7 L984.9 1229.4 L982.2 1229.4ZM1358.9 902.2 L1492.7 902.2 L1490 934.9 L1474.7 934.9 L1469.7 978.7 L1423 978.7 L1423 993.8 L1406.1 993.8 L1403.8 1022.5 L1388.1 1022.5 L1387.7 1036.5 L1371.9 1036.5 L1375.7 993.8 L1361.1 993.8 L1362.7 965.7 L1358.9 965.7ZM1523 902.2 L1569.1 902.2 L1569.1 919.1 L1552.2 919.8 L1551.8 933.7 L1520.1 934.9 L1517.4 963.6 L1487 963.6 L1490 934.9 L1506.2 934.9 L1506.6 920.7 L1523 920.7ZM1600.1 902.2 L1615.2 902.2 L1615.2 919.1 L1600.1 919.1ZM1645.1 919.1 L1660.2 919.1 L1657.9 946.8 L1626.4 947.7 L1628 933.3 L1643.8 933.3ZM1596.1 948.3 L1626 948.3 L1626 961.8 L1595 961.8ZM1690.5 1076.1 L1705.1 1076.1 L1704.5 1090 L1688.7 1090ZM1657.3 1091.1 L1687.8 1090 L1687.8 1104.6 L1671.4 1105.1 L1671 1118.6 L1655 1118.6ZM1624.2 1120.4 L1654.1 1119.2 L1651.9 1147.8 L1622 1148.5 L1591.1 1148.9 L1591.6 1134.5 L1623.1 1133.8ZM982.2 1457.2 L993.9 1457.2 L991.7 1485.7 L1005.9 1485.7 L1005.9 1499.9 L1020 1499.9 L1018.2 1527.8 L1002.5 1528.5 L999.8 1557 L1014.9 1557 L1013.7 1571.2 L1074 1571.2 L1074 1585.1 L1087.9 1585.1 L1087.9 1598.8 L1102.1 1598.8 L1098.7 1641.6 L1038 1642 L982.2 1642.7ZM1358.2 1624 L1390.4 1623.3 L1436 1622.9 L1436.4 1608.3 L1452.9 1607.8 L1453.3 1594.1 L1469.1 1593.7 L1470.6 1579.1 L1501.2 1579.1 L1502.3 1565.1 L1518.1 1565.1 L1519.2 1550.3 L1550 1549.8 L1551.1 1535.7 L1581.9 1534.8 L1583.3 1521 L1599 1520.6 L1600.6 1506.4 L1630.9 1506 L1632.5 1491.8 L1647.8 1491.4 L1650.5 1462.8 L1665.8 1462.6 L1673.2 1390.9 L1687.8 1390.9 L1687.2 1404.8 L1735.5 1404.8 L1732.1 1414.9 L1727.6 1462.1 L1735.5 1462.1 L1735.5 1572.3 L1726.5 1633 L1572.5 1635.9 L1418.5 1637.5 L1358.2 1638Z" fill="#000"/>
<path d="M1090.2 1098.3 L1119.9 1098.3 L1116 1155.2 L1130 1155.2 L1130 1169.4 L1099.2 1169.4 L1099.2 1155.7 L1068.8 1155.7 L1067.7 1169.4 L1023.2 1170.5 L1024.3 1142.2 L1040.7 1142.2 L1043.6 1113.2 L1089.1 1113.2ZM1112.7 1184.4 L1126.8 1184.4 L1124.6 1212.5 L1110 1212.5ZM1639.3 976 L1654.1 976 L1653.9 989.9 L1638.1 989.9ZM1591.6 991.1 L1606.2 991.1 L1604 1019.6 L1574.1 1019.6 L1574.7 1006.1 L1590.5 1005.7ZM1699.1 990.4 L1729.9 989.3 L1727.6 1017.6 L1712.3 1017.6 L1713.5 1003.9 L1698 1003.9ZM1679.3 1033.1 L1693.9 1033.1 L1693.9 1046.6 L1678.2 1046.6ZM1662.4 1047.3 L1677 1047.3 L1676.6 1061.4 L1660.9 1061.4ZM1719.8 1090 L1734.4 1090 L1734.4 1103.9 L1718.6 1103.9ZM1687.2 1104.6 L1718 1104.2 L1716.8 1118.6 L1701.3 1118.6 L1699.5 1132.7 L1684.9 1132.7ZM1668.5 1133.4 L1683.8 1132.7 L1681.1 1161.5 L1665.8 1161.5ZM1681.5 1162 L1696.2 1162 L1693.9 1190.5 L1678.2 1191.2 L1675.9 1218.8 L1690.1 1218.8 L1687.6 1247.8 L1656.8 1247.8 L1664.7 1176.6 L1679.7 1176.1ZM1731 1118.1 L1735.5 1118.1 L1735.5 1232.8 L1719.8 1232.8ZM1235.7 1325 L1249.8 1325 L1248.7 1353.8 L1233 1353.8ZM1278.4 1353.1 L1309 1353.1 L1306.7 1381.6 L1292.1 1381.6 L1292.1 1367.7 L1277.9 1367.7Z" fill="#888"/>
<path d="M1710.1 1476.1 L1735.5 1476.1 L1735.5 1533 L1720.9 1533 L1724.3 1490.9 L1709 1490.9ZM1689.4 1534.1 L1719.8 1533 L1718.6 1547.6 L1688.3 1547.6ZM1610 1563.3 L1624.9 1563.3 L1624.2 1576.8 L1638.1 1576.8 L1638.1 1591 L1669.2 1591 L1669.8 1577.3 L1684.9 1577.3 L1682.7 1604.9 L1666.9 1605.4 L1663.6 1633.7 L1588.2 1634.8 L1588.2 1620.7 L1574.1 1620.7 L1574.3 1607.6 L1606.2 1605.6Z" fill="#a0a0a0"/>
<path d="M1040.3 1142.2 L1054.9 1142.2 L1054.9 1155.7 L1038.9 1155.7Z" fill="#565656"/>
</g>
<rect x="995" y="912" width="180.8" height="36.7" rx="4" fill="#000"/>
<text x="1003" y="938.3" font-size="21.2" font-weight="bold" fill="#fff" textLength="166.7" lengthAdjust="spacingAndGlyphs">WMG Count: 0</text>
<rect x="983.4" y="903.4" width="750.2" height="750.2" fill="none" stroke="#000" stroke-width="2.8"/>
</svg></body></html>
